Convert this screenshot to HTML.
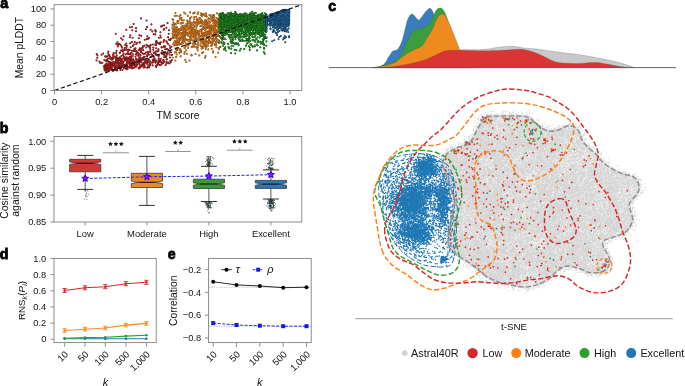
<!DOCTYPE html>
<html><head><meta charset="utf-8"><title>figure</title>
<style>html,body{margin:0;padding:0;background:#fff;}body{width:685px;height:386px;overflow:hidden;}
svg{display:block;will-change:transform;}</style></head>
<body><svg width="685" height="386" viewBox="0 0 685 386" font-family="Liberation Sans, sans-serif">
<rect width="685" height="386" fill="#fff"/>
<path d="M146.8 39.1h0m10.2 12.3h0m-37.3 11.6h0m5.1-2.8h0m38.9 0.4h0m-58.9 9.6h0m55.3-9.6h0m-1.6-9.5h0m-22.3 10.2h0m-11.2 5h0m-1.7 0.7h0m-1.6-5h0m12.9-0.3h0m4-11.5h0m3.4 14.5h0m16.2-9.6h0m-11.6-34.6h0m24.9 34.8h0m-52.5 3.1h0m-3.7 7.6h0m30.7-36.7h0m-38.6 31.1h0m-0.6 7.8h0m32.5-8.6h0m-3.3-8.3h0m30.6 8.2h0m-19.5 1.9h0m-7.8 7h0m-1.2-12.7h0m-16.9-17.5h0m-16 32.6h0m12.3-2.5h0m33.9-13.9h0m-33.4 5.6h0m11.5-2.6h0m-24.8 9.6h0m56-8.2h0m-45.8 10.9h0m7.7-30h0m41.5-10.5h0m-25.1 34h0m22.9-9.5h0m-14.1 5.1h0m6.9 0.1h0m-44.1 9.9h0m30.5-50.4h0m-2.2 41.7h0m24.6-18h0m-34.6 19.7h0m16.1-8h0m-36.6-2.3h0m22.3 7.6h0m-4.4-15.6h0m-11.7 23.3h0m45.2-22.8h0m-29.6-0.8h0m40.6-4.3h0m-26.4 23.4h0m1.1-2.4h0m2.2 1.8h0" stroke="#6e1414" stroke-width="2.1" stroke-linecap="round" fill="none"/>
<path d="M146.8 39.1h0m10.2 12.3h0m-37.3 11.6h0m5.1-2.8h0m38.9 0.4h0m-58.9 9.6h0m55.3-9.6h0m-1.6-9.5h0m-22.3 10.2h0m-11.2 5h0m-1.7 0.7h0m-1.6-5h0m12.9-0.3h0m4-11.5h0m3.4 14.5h0m16.2-9.6h0m-11.6-34.6h0m24.9 34.8h0m-52.5 3.1h0m-3.7 7.6h0m30.7-36.7h0m-38.6 31.1h0m-0.6 7.8h0m32.5-8.6h0m-3.3-8.3h0m30.6 8.2h0m-19.5 1.9h0m-7.8 7h0m-1.2-12.7h0m-16.9-17.5h0m-16 32.6h0m12.3-2.5h0m33.9-13.9h0m-33.4 5.6h0m11.5-2.6h0m-24.8 9.6h0m56-8.2h0m-45.8 10.9h0m7.7-30h0m41.5-10.5h0m-25.1 34h0m22.9-9.5h0m-14.1 5.1h0m6.9 0.1h0m-44.1 9.9h0m30.5-50.4h0m-2.2 41.7h0m24.6-18h0m-34.6 19.7h0m16.1-8h0m-36.6-2.3h0m22.3 7.6h0m-4.4-15.6h0m-11.7 23.3h0m45.2-22.8h0m-29.6-0.8h0m40.6-4.3h0m-26.4 23.4h0m1.1-2.4h0m2.2 1.8h0" stroke="#b8272a" stroke-width="1.2" stroke-linecap="round" fill="none"/>
<path d="M150.3 51.9h0m-35.6 12.6h0m19.6-0.2h0m-13.6 3.7h0m11-3.9h0m-20.7 0.3h0m59.1-24.2h0m-51.1 19.4h0m31-12h0m-25.2 0.4h0m38.9-0.8h0m-14.4 18.4h0m-35.9-0.5h0m48.3-1.2h0m6.8-13.7h0m-2.8 14.7h0m-22.6-6.9h0m-28.8 4.8h0m3.2-4.4h0m49.9-6.1h0m-50.7 13.2h0m47.7-25.1h0m-16.5 20h0m-4.8 3.9h0m-13.2-0.9h0m2.4 4h0m-11.6-6.5h0m-13.7 9.7h0m56.9-30.3h0m-27.8 19h0m5.5-9.1h0m-15.3 17h0m29.1-36.9h0m-49.3 26.4h0m23.6-6.6h0m-23.2 15.8h0m6.3-8h0m57.2-5.6h0m-21-14.2h0m-15.5 29.9h0m6.4-10.4h0m23.7-28h0m-35.8 22.8h0m16.7-6.6h0m6.3-0.7h0m-22.3 13.9h0m11.1 5.5h0m16.7-16.3h0m9.8 8.7h0m-51.4 8h0m53-11.6h0m-62.9 12.3h0m50.7-3h0m3.9-18.5h0m-45.7 18.2h0m19.1-16.2h0m-27.4 14.5h0m41.7-5.4h0m11.1 8.9h0m-19-5.7h0" stroke="#6e1414" stroke-width="2.1" stroke-linecap="round" fill="none"/>
<path d="M150.3 51.9h0m-35.6 12.6h0m19.6-0.2h0m-13.6 3.7h0m11-3.9h0m-20.7 0.3h0m59.1-24.2h0m-51.1 19.4h0m31-12h0m-25.2 0.4h0m38.9-0.8h0m-14.4 18.4h0m-35.9-0.5h0m48.3-1.2h0m6.8-13.7h0m-2.8 14.7h0m-22.6-6.9h0m-28.8 4.8h0m3.2-4.4h0m49.9-6.1h0m-50.7 13.2h0m47.7-25.1h0m-16.5 20h0m-4.8 3.9h0m-13.2-0.9h0m2.4 4h0m-11.6-6.5h0m-13.7 9.7h0m56.9-30.3h0m-27.8 19h0m5.5-9.1h0m-15.3 17h0m29.1-36.9h0m-49.3 26.4h0m23.6-6.6h0m-23.2 15.8h0m6.3-8h0m57.2-5.6h0m-21-14.2h0m-15.5 29.9h0m6.4-10.4h0m23.7-28h0m-35.8 22.8h0m16.7-6.6h0m6.3-0.7h0m-22.3 13.9h0m11.1 5.5h0m16.7-16.3h0m9.8 8.7h0m-51.4 8h0m53-11.6h0m-62.9 12.3h0m50.7-3h0m3.9-18.5h0m-45.7 18.2h0m19.1-16.2h0m-27.4 14.5h0m41.7-5.4h0m11.1 8.9h0m-19-5.7h0" stroke="#b8272a" stroke-width="1.2" stroke-linecap="round" fill="none"/>
<path d="M153.7 52.6h0m-33.9 7.5h0m-1.9 2.3h0m11.2 1.4h0m-12.5-8.5h0m11.3 3.9h0m40.8-25.4h0m-25.4 28.9h0m-15.8-4.9h0m-4.7-8.3h0m46.2-19.3h0m-34.4 35.7h0m36.3-13.6h0m-31.5 8.6h0m0.4-18.5h0m25.4 4.2h0m-10.4 13.9h0m-11-3.2h0m-10.4 5.6h0m30.6-10.7h0m-31.7 10.4h0m34.7-13.6h0m-57.9 6.1h0m24.5-31.1h0m6.1 24.4h0m-18.3 7.7h0m37.7-13.1h0m-8.8 7h0m2.8 5.8h0m-6 11.9h0m23.2-6.6h0m-43.3 1.2h0m4.4-6.1h0m-13.2 11.1h0m-10.3-2.4h0m11-1.5h0m47.6-9.7h0m-5.1-0.8h0m-49.4 6.9h0m33.4-0.1h0m-8.5 0.1h0m7.9 3.8h0m4.3-4.1h0m-23.9 6.4h0m44.4-20.3h0m-33.6-17.5h0m11-1h0m0.5 34.7h0m-30.6-2.2h0m-8.3 4.7h0m23.7 4h0m23.9-1.4h0m3.5-6.5h0m-5.8-3.4h0m-41.8 12.5h0m54.3-7.7h0m-7.6 0.4h0m5.2-0.1h0m-24.1 4.2h0m26.6-10.6h0" stroke="#6e1414" stroke-width="2.1" stroke-linecap="round" fill="none"/>
<path d="M153.7 52.6h0m-33.9 7.5h0m-1.9 2.3h0m11.2 1.4h0m-12.5-8.5h0m11.3 3.9h0m40.8-25.4h0m-25.4 28.9h0m-15.8-4.9h0m-4.7-8.3h0m46.2-19.3h0m-34.4 35.7h0m36.3-13.6h0m-31.5 8.6h0m0.4-18.5h0m25.4 4.2h0m-10.4 13.9h0m-11-3.2h0m-10.4 5.6h0m30.6-10.7h0m-31.7 10.4h0m34.7-13.6h0m-57.9 6.1h0m24.5-31.1h0m6.1 24.4h0m-18.3 7.7h0m37.7-13.1h0m-8.8 7h0m2.8 5.8h0m-6 11.9h0m23.2-6.6h0m-43.3 1.2h0m4.4-6.1h0m-13.2 11.1h0m-10.3-2.4h0m11-1.5h0m47.6-9.7h0m-5.1-0.8h0m-49.4 6.9h0m33.4-0.1h0m-8.5 0.1h0m7.9 3.8h0m4.3-4.1h0m-23.9 6.4h0m44.4-20.3h0m-33.6-17.5h0m11-1h0m0.5 34.7h0m-30.6-2.2h0m-8.3 4.7h0m23.7 4h0m23.9-1.4h0m3.5-6.5h0m-5.8-3.4h0m-41.8 12.5h0m54.3-7.7h0m-7.6 0.4h0m5.2-0.1h0m-24.1 4.2h0m26.6-10.6h0" stroke="#b8272a" stroke-width="1.2" stroke-linecap="round" fill="none"/>
<path d="M107.6 61.2h0m-1.1 2.8h0m-0.7 5.1h0m15.8-5.7h0m-0.3-1.2h0m-4.2 7.7h0m25.8-23.7h0m-35.8 22.2h0m37.4-2.5h0m-28.8-32.2h0m34.7 30.3h0m-44.5 3.1h0m19.6-1.2h0m42.6-28.7h0m-27.2 23.6h0m18.6 4.1h0m-10.4 2.6h0m-3.3-5.7h0m-28.4-19.4h0m26 22.7h0m-36.3-8.8h0m51.7 5.8h0m10.7-7.5h0m-7.2-3.8h0m-54.4 15.1h0m19.5 3.3h0m-1.4-3.9h0m-13.9-2.8h0m34.8-0.8h0m11.6-12.5h0m-32.8 18.9h0m37.2-5.2h0m-4.4-6.9h0m-45.3 8.9h0m43.2-21.2h0m7.9 13.6h0m-46.5 5.6h0m25.5-4.2h0m4.4-6.8h0m-1.9 0.6h0m-34.8 12.3h0m38.3-18.9h0m-2-9.5h0m13 24.1h0m-1.4-0.3h0m-32.3 5h0m26.8-3.5h0m9.8-1.8h0m1.8-7.1h0m-49.6 5.4h0m-9.2 10.2h0m42.4-16.1h0m-29.6 13.1h0m49.5-15.7h0m-38.3 4.2h0m-8.6 13.4h0m13.8-2.2h0m13.6-10.3h0m-37.7 13.2h0m18.9-6.8h0" stroke="#6e1414" stroke-width="2.1" stroke-linecap="round" fill="none"/>
<path d="M107.6 61.2h0m-1.1 2.8h0m-0.7 5.1h0m15.8-5.7h0m-0.3-1.2h0m-4.2 7.7h0m25.8-23.7h0m-35.8 22.2h0m37.4-2.5h0m-28.8-32.2h0m34.7 30.3h0m-44.5 3.1h0m19.6-1.2h0m42.6-28.7h0m-27.2 23.6h0m18.6 4.1h0m-10.4 2.6h0m-3.3-5.7h0m-28.4-19.4h0m26 22.7h0m-36.3-8.8h0m51.7 5.8h0m10.7-7.5h0m-7.2-3.8h0m-54.4 15.1h0m19.5 3.3h0m-1.4-3.9h0m-13.9-2.8h0m34.8-0.8h0m11.6-12.5h0m-32.8 18.9h0m37.2-5.2h0m-4.4-6.9h0m-45.3 8.9h0m43.2-21.2h0m7.9 13.6h0m-46.5 5.6h0m25.5-4.2h0m4.4-6.8h0m-1.9 0.6h0m-34.8 12.3h0m38.3-18.9h0m-2-9.5h0m13 24.1h0m-1.4-0.3h0m-32.3 5h0m26.8-3.5h0m9.8-1.8h0m1.8-7.1h0m-49.6 5.4h0m-9.2 10.2h0m42.4-16.1h0m-29.6 13.1h0m49.5-15.7h0m-38.3 4.2h0m-8.6 13.4h0m13.8-2.2h0m13.6-10.3h0m-37.7 13.2h0m18.9-6.8h0" stroke="#b8272a" stroke-width="1.2" stroke-linecap="round" fill="none"/>
<path d="M113.5 54.9h0m35.9 7.6h0m11.4-0.8h0m-30.8-2.1h0m-0.4 3.2h0m11.4-10.8h0m-22 12h0m2.2 3.7h0m5.6 1.6h0m8.7-12.6h0m-25.5 11.3h0m45.5-13.5h0m-11.8 12.9h0m-18.9-1.3h0m-15.1-3.1h0m46.5-21.8h0m-42.9 15h0m0.2-2.2h0m-0.2 10.5h0m-3.4-6.1h0m56-9.1h0m-43.2 14.7h0m2.5 0.7h0m35.7-3.3h0m-14.4-16.6h0m-29.4 18.5h0m16.8 1.4h0m30.5-9.4h0m-34.5-18.1h0m22.7 28.2h0m-41.6 4.2h0m42.8-35.4h0m3.3 30.9h0m3.3-32.9h0m-10.2 29.3h0m-20.6-4h0m-20.8-2.1h0m30.8-12.9h0m16.2 2.8h0m-38.4 18.3h0m5.1 0.5h0m18.3-3.4h0m14.4-30.2h0m10 18.8h0m-52.2 5.7h0m3.9 15.4h0m41.8-12h0m-10.6-4.6h0m5.2 5.7h0m14.8 3.1h0m-6.5-15.3h0m-4.5-4.6h0m-25.9 22.9h0m16.7-19.5h0m-31 14.3h0m38.9-28.8h0m-2.5 24.6h0m-18.7-7.3h0m-4.5 8.1h0m2.8 6.3h0" stroke="#6e1414" stroke-width="2.1" stroke-linecap="round" fill="none"/>
<path d="M113.5 54.9h0m35.9 7.6h0m11.4-0.8h0m-30.8-2.1h0m-0.4 3.2h0m11.4-10.8h0m-22 12h0m2.2 3.7h0m5.6 1.6h0m8.7-12.6h0m-25.5 11.3h0m45.5-13.5h0m-11.8 12.9h0m-18.9-1.3h0m-15.1-3.1h0m46.5-21.8h0m-42.9 15h0m0.2-2.2h0m-0.2 10.5h0m-3.4-6.1h0m56-9.1h0m-43.2 14.7h0m2.5 0.7h0m35.7-3.3h0m-14.4-16.6h0m-29.4 18.5h0m16.8 1.4h0m30.5-9.4h0m-34.5-18.1h0m22.7 28.2h0m-41.6 4.2h0m42.8-35.4h0m3.3 30.9h0m3.3-32.9h0m-10.2 29.3h0m-20.6-4h0m-20.8-2.1h0m30.8-12.9h0m16.2 2.8h0m-38.4 18.3h0m5.1 0.5h0m18.3-3.4h0m14.4-30.2h0m10 18.8h0m-52.2 5.7h0m3.9 15.4h0m41.8-12h0m-10.6-4.6h0m5.2 5.7h0m14.8 3.1h0m-6.5-15.3h0m-4.5-4.6h0m-25.9 22.9h0m16.7-19.5h0m-31 14.3h0m38.9-28.8h0m-2.5 24.6h0m-18.7-7.3h0m-4.5 8.1h0m2.8 6.3h0" stroke="#b8272a" stroke-width="1.2" stroke-linecap="round" fill="none"/>
<path d="M106.7 61.4h0m55-14h0m-20.5-11.6h0m-10.5 31.9h0m10.9-1.3h0m11.8-4.3h0m-23.1-7.9h0m30.5-16.7h0m6 16.8h0m-36.1 4h0m-16.9 5.4h0m42.2 2.1h0m15.8-5.8h0m-57.3-3.3h0m38.3-12.2h0m7.6-9h0m6.5 7h0m-54.1 28.2h0m-2.1-7.9h0m60.7-16h0m-59.1 22.6h0m4.1-25.5h0m27 15.2h0m-8.7-10.1h0m20.6-4.4h0m-37.9 13.9h0m49-30.7h0m-47.2 35.9h0m37.4-22.4h0m-47.6 20.8h0m27.5 4.3h0m-29.9 1.8h0m19.1-0.7h0m-0.1 1h0m27.6-18.7h0m-17.9 17.4h0m-27-9h0m63.6-3.4h0m-7.2 1.4h0m1.9 7h0m-45.5-3.7h0m10.1 6.3h0m-11.4-8.4h0m-6.9 1.7h0m-6.2 11.5h0m31.9-16.8h0m-25.8 16.7h0m3.6-13.6h0m46.4 5.7h0m-25.5-19.9h0m-20.4 19.1h0m33-14.1h0m-27.4 22.3h0m17.7-20.4h0m-16.6 16.9h0m15.8-31.3h0m7.7 21.3h0m-6.3 2.7h0m-9.5 8.9h0m26.8-5.7h0" stroke="#6e1414" stroke-width="2.1" stroke-linecap="round" fill="none"/>
<path d="M106.7 61.4h0m55-14h0m-20.5-11.6h0m-10.5 31.9h0m10.9-1.3h0m11.8-4.3h0m-23.1-7.9h0m30.5-16.7h0m6 16.8h0m-36.1 4h0m-16.9 5.4h0m42.2 2.1h0m15.8-5.8h0m-57.3-3.3h0m38.3-12.2h0m7.6-9h0m6.5 7h0m-54.1 28.2h0m-2.1-7.9h0m60.7-16h0m-59.1 22.6h0m4.1-25.5h0m27 15.2h0m-8.7-10.1h0m20.6-4.4h0m-37.9 13.9h0m49-30.7h0m-47.2 35.9h0m37.4-22.4h0m-47.6 20.8h0m27.5 4.3h0m-29.9 1.8h0m19.1-0.7h0m-0.1 1h0m27.6-18.7h0m-17.9 17.4h0m-27-9h0m63.6-3.4h0m-7.2 1.4h0m1.9 7h0m-45.5-3.7h0m10.1 6.3h0m-11.4-8.4h0m-6.9 1.7h0m-6.2 11.5h0m31.9-16.8h0m-25.8 16.7h0m3.6-13.6h0m46.4 5.7h0m-25.5-19.9h0m-20.4 19.1h0m33-14.1h0m-27.4 22.3h0m17.7-20.4h0m-16.6 16.9h0m15.8-31.3h0m7.7 21.3h0m-6.3 2.7h0m-9.5 8.9h0m26.8-5.7h0" stroke="#b8272a" stroke-width="1.2" stroke-linecap="round" fill="none"/>
<path d="M163.7 53.9h0m-47.1-3.1h0m-2.9 2.3h0m-1.6 12.6h0m58.8-3.4h0m-2.6 0.7h0m-48.2-18.5h0m50.1 3.5h0m-51.7 20h0m20.3-29.8h0m-0.6 14.9h0m28.3-11.9h0m-59.3 18.3h0m18.6-1h0m19.3 3.1h0m-36.2 8.7h0m11.6-1.7h0m15.5-3.5h0m28.2-19h0m-8.2 15.5h0m4.7-19.3h0m-4.7-0.3h0m-3.6-10.6h0m9.7-5.5h0m-11.5 3.9h0m3.7 22.9h0m-29.4 7.6h0m-9.1 6.4h0m39.9-15.1h0m-40 11h0m51.1-3.3h0m-21.9 8h0m-18.1-21.5h0m41.2-2h0m-53.1 24.3h0m24.4-6h0m-28.7-3.4h0m59.3-1.1h0m-26.4-3.6h0m15.4-16.3h0m-35.4 15.8h0m35.3 2.1h0m-6.7 7.1h0m-4-3h0m20.8-20.1h0m-35.1 21.1h0m-1.2-23h0m18.8-13.3h0m9.7 2.2h0m-33.9 27.1h0m22.6 10.9h0m-31.2-20.3h0m23.2 3.9h0m14.8 12.3h0m-47.7 7.9h0m44.9-7.8h0m-48.3 3.9h0m63.9-1h0m-33.2-19.5h0m-4 18.3h0" stroke="#6e1414" stroke-width="2.1" stroke-linecap="round" fill="none"/>
<path d="M163.7 53.9h0m-47.1-3.1h0m-2.9 2.3h0m-1.6 12.6h0m58.8-3.4h0m-2.6 0.7h0m-48.2-18.5h0m50.1 3.5h0m-51.7 20h0m20.3-29.8h0m-0.6 14.9h0m28.3-11.9h0m-59.3 18.3h0m18.6-1h0m19.3 3.1h0m-36.2 8.7h0m11.6-1.7h0m15.5-3.5h0m28.2-19h0m-8.2 15.5h0m4.7-19.3h0m-4.7-0.3h0m-3.6-10.6h0m9.7-5.5h0m-11.5 3.9h0m3.7 22.9h0m-29.4 7.6h0m-9.1 6.4h0m39.9-15.1h0m-40 11h0m51.1-3.3h0m-21.9 8h0m-18.1-21.5h0m41.2-2h0m-53.1 24.3h0m24.4-6h0m-28.7-3.4h0m59.3-1.1h0m-26.4-3.6h0m15.4-16.3h0m-35.4 15.8h0m35.3 2.1h0m-6.7 7.1h0m-4-3h0m20.8-20.1h0m-35.1 21.1h0m-1.2-23h0m18.8-13.3h0m9.7 2.2h0m-33.9 27.1h0m22.6 10.9h0m-31.2-20.3h0m23.2 3.9h0m14.8 12.3h0m-47.7 7.9h0m44.9-7.8h0m-48.3 3.9h0m63.9-1h0m-33.2-19.5h0m-4 18.3h0" stroke="#b8272a" stroke-width="1.2" stroke-linecap="round" fill="none"/>
<path d="M153.3 47.6h0m-13.4 19.8h0m-29.7-10.9h0m32.4 1.8h0m-0.3 7.2h0m25.3-42.4h0m-60.5 43.9h0m28-4.6h0m12.1 1.1h0m-5.4 2.3h0m-32.3-0.8h0m35.2-8.2h0m-25.2 8.2h0m-1.8 3.1h0m46.3-42.7h0m-46.2 21h0m17.4 18.5h0m20.1-30.5h0m-2.9 20.7h0m-10.4 3.3h0m-6-27.2h0m10.5 29.5h0m13.5-16.7h0m-9.6 17.5h0m-2.4 5.1h0m-16-15.8h0m10.3 2.3h0m-11-0.2h0m-1.1 9.7h0m5.9-8.2h0m19.6-0.9h0m-17.1 14.6h0m-11.2-5.5h0m33.1 2.7h0m-30.2-5.1h0m31.4 2.8h0m-4 0.8h0m-22.9-21.8h0m18 17.9h0m-26 3.5h0m13.7-8h0m-30.9 13.4h0m5.1-1.2h0m4.1-7.5h0m-4.6 2.5h0m17.8 2h0m-14-19.7h0m1 21.2h0m15.4-1h0m-15.8-4.7h0m14 4.6h0m-16.5-12.1h0m-2.9 9.5h0m-7.3 6.3h0m17.8-4h0m6.7-3.5h0m-3.3-2.2h0m2.3-0.8h0m-1.3-0.2h0m21.9 7.5h0" stroke="#6e1414" stroke-width="2.1" stroke-linecap="round" fill="none"/>
<path d="M153.3 47.6h0m-13.4 19.8h0m-29.7-10.9h0m32.4 1.8h0m-0.3 7.2h0m25.3-42.4h0m-60.5 43.9h0m28-4.6h0m12.1 1.1h0m-5.4 2.3h0m-32.3-0.8h0m35.2-8.2h0m-25.2 8.2h0m-1.8 3.1h0m46.3-42.7h0m-46.2 21h0m17.4 18.5h0m20.1-30.5h0m-2.9 20.7h0m-10.4 3.3h0m-6-27.2h0m10.5 29.5h0m13.5-16.7h0m-9.6 17.5h0m-2.4 5.1h0m-16-15.8h0m10.3 2.3h0m-11-0.2h0m-1.1 9.7h0m5.9-8.2h0m19.6-0.9h0m-17.1 14.6h0m-11.2-5.5h0m33.1 2.7h0m-30.2-5.1h0m31.4 2.8h0m-4 0.8h0m-22.9-21.8h0m18 17.9h0m-26 3.5h0m13.7-8h0m-30.9 13.4h0m5.1-1.2h0m4.1-7.5h0m-4.6 2.5h0m17.8 2h0m-14-19.7h0m1 21.2h0m15.4-1h0m-15.8-4.7h0m14 4.6h0m-16.5-12.1h0m-2.9 9.5h0m-7.3 6.3h0m17.8-4h0m6.7-3.5h0m-3.3-2.2h0m2.3-0.8h0m-1.3-0.2h0m21.9 7.5h0" stroke="#b8272a" stroke-width="1.2" stroke-linecap="round" fill="none"/>
<path d="M115.3 63.6h0m-6.1 7.2h0m6.4-5.5h0m-3.8 0.1h0m24.5-10.9h0m0.9 10.3h0m-21-2.8h0m-5.1 5h0m12.2-5.2h0m20.6 2.8h0m-39.5-4.5h0m29.3-9.4h0m-18.9 19.1h0m25-8.6h0m-25 4.9h0m9.3 2.1h0m-14.3-1.7h0m6.2 2.4h0m27.8-11.8h0m-6.6-4.7h0m-14.4 13.7h0m-5.5-6.8h0m-12.1-2.9h0m17.7 9.7h0m4.2-16.3h0m-0.6 0h0m-0.1-2.4h0m-12.1 16.6h0m12.4-4.7h0m0.3 6.8h0m15.7-18.3h0m6.8-0.3h0m-23.6 11h0m-7.4 4.7h0m8.2 2.2h0m-6.3 4.6h0m-1.6-3.9h0m8 2.7h0m-11.6-4.2h0m19.4 0.5h0m-8.3-35.3h0m4.1 34.8h0m-5 2.1h0m-6.5-23h0m-2.6 25.9h0m8.4-19.8h0m-3.7 0.8h0m9.3 10.6h0m-2.8 6.6h0m-16-0.5h0m16.8-7.6h0m-16.6-1.7h0m8.5 0.2h0m3.8 0h0m-19.6 9.5h0m24.2-18.2h0m0.7 17.1h0m-3.7-1h0m-3.1-4.8h0m0.6-5.7h0" stroke="#6e1414" stroke-width="2.1" stroke-linecap="round" fill="none"/>
<path d="M115.3 63.6h0m-6.1 7.2h0m6.4-5.5h0m-3.8 0.1h0m24.5-10.9h0m0.9 10.3h0m-21-2.8h0m-5.1 5h0m12.2-5.2h0m20.6 2.8h0m-39.5-4.5h0m29.3-9.4h0m-18.9 19.1h0m25-8.6h0m-25 4.9h0m9.3 2.1h0m-14.3-1.7h0m6.2 2.4h0m27.8-11.8h0m-6.6-4.7h0m-14.4 13.7h0m-5.5-6.8h0m-12.1-2.9h0m17.7 9.7h0m4.2-16.3h0m-0.6 0h0m-0.1-2.4h0m-12.1 16.6h0m12.4-4.7h0m0.3 6.8h0m15.7-18.3h0m6.8-0.3h0m-23.6 11h0m-7.4 4.7h0m8.2 2.2h0m-6.3 4.6h0m-1.6-3.9h0m8 2.7h0m-11.6-4.2h0m19.4 0.5h0m-8.3-35.3h0m4.1 34.8h0m-5 2.1h0m-6.5-23h0m-2.6 25.9h0m8.4-19.8h0m-3.7 0.8h0m9.3 10.6h0m-2.8 6.6h0m-16-0.5h0m16.8-7.6h0m-16.6-1.7h0m8.5 0.2h0m3.8 0h0m-19.6 9.5h0m24.2-18.2h0m0.7 17.1h0m-3.7-1h0m-3.1-4.8h0m0.6-5.7h0" stroke="#b8272a" stroke-width="1.2" stroke-linecap="round" fill="none"/>
<path d="M116 60h0m8.3-2.7h0m-3.3 8h0m7.6-14.7h0m-15.3 19.8h0m17-5.7h0m-1.1 2.9h0m-3.4-0.4h0m-3.5-8.6h0m11.7-7.6h0m-26.1 18.1h0m25-9.2h0m-2.5-24.7h0m0.4 22.4h0m1.2-15.5h0m-12.2 10.8h0m4.6-3.2h0m10.6 12h0m-2.4-5.3h0m-2.7-29.1h0m-20.2 40.8h0m24.1-23.5h0m7.5 17.9h0m-1.9-4.7h0m-9.1-3.4h0m-21.1 12.3h0m29.4-6.3h0m-12.8 7h0m-21.4-1h0m27.5 0.8h0m-22-5.2h0m2.3 1.4h0m7.8-10.8h0m22.5 7.3h0m-19.4-8.4h0m7.6-4.3h0m17.4-8.4h0m-1.8 8.7h0m-20 9.8h0m-1.6 2h0m-12 7.1h0m6.6-3.4h0m13.2-2.8h0m-0.3-29.9h0m-3.4 36.9h0m10.4-6.6h0m-20.8 0.4h0m8.4 5.5h0m9.3-15.1h0m-1.7 12.6h0m5.7-9.4h0m-7.9 5h0m-8.3-3h0m7.9 10.5h0m-16.1-5.9h0m-7.5-7.9h0m26.1-3.2h0m-7.4 11h0m4.2-1.4h0m-23.6 4.5h0" stroke="#6e1414" stroke-width="2.1" stroke-linecap="round" fill="none"/>
<path d="M116 60h0m8.3-2.7h0m-3.3 8h0m7.6-14.7h0m-15.3 19.8h0m17-5.7h0m-1.1 2.9h0m-3.4-0.4h0m-3.5-8.6h0m11.7-7.6h0m-26.1 18.1h0m25-9.2h0m-2.5-24.7h0m0.4 22.4h0m1.2-15.5h0m-12.2 10.8h0m4.6-3.2h0m10.6 12h0m-2.4-5.3h0m-2.7-29.1h0m-20.2 40.8h0m24.1-23.5h0m7.5 17.9h0m-1.9-4.7h0m-9.1-3.4h0m-21.1 12.3h0m29.4-6.3h0m-12.8 7h0m-21.4-1h0m27.5 0.8h0m-22-5.2h0m2.3 1.4h0m7.8-10.8h0m22.5 7.3h0m-19.4-8.4h0m7.6-4.3h0m17.4-8.4h0m-1.8 8.7h0m-20 9.8h0m-1.6 2h0m-12 7.1h0m6.6-3.4h0m13.2-2.8h0m-0.3-29.9h0m-3.4 36.9h0m10.4-6.6h0m-20.8 0.4h0m8.4 5.5h0m9.3-15.1h0m-1.7 12.6h0m5.7-9.4h0m-7.9 5h0m-8.3-3h0m7.9 10.5h0m-16.1-5.9h0m-7.5-7.9h0m26.1-3.2h0m-7.4 11h0m4.2-1.4h0m-23.6 4.5h0" stroke="#b8272a" stroke-width="1.2" stroke-linecap="round" fill="none"/>
<path d="M123.2 63.3h0m-2.8 3.6h0m-3.1-3.8h0m-12.9 3h0m19.2-29.8h0m14.5 17.2h0m-6.1-26.5h0m-11.6 35.6h0m6.9-4.7h0m9.1 0.8h0m-32 10.3h0m21.6-2.4h0m7.9-4.9h0m1.6-13.5h0m12 16.2h0m-6.6 1.9h0m-9.7-5.8h0m-0.1 3.9h0m5.7-0.5h0m-15.6-18.2h0m5.8 15.8h0m11.2-8.5h0m12.4 4h0m-25-2.6h0m1.3 7.4h0m2.9 0.1h0m13.5-11.8h0m-16.2 11.6h0m17.7-21.9h0m-28.7 27.2h0m9.2-21.9h0m-0.1 22.2h0m11.6-4.9h0m3-4.9h0m-30.1 11.7h0m7-2.7h0m14.8-13.2h0m-11.8 11h0m-10.1 3.8h0m30.1-17.6h0m-6.4 8.7h0m0-4.7h0m-11.4-7.1h0m17.7 11.3h0m-14.9 0.4h0m-7.9 11h0m0.6-8.2h0m12.5 3.6h0m-10.7-5.8h0m16.3 5.1h0m-4.9-1.1h0m-14 5.2h0m11.8-14.8h0m-5 7.8h0m14.9-0.6h0m-18.2 6.4h0m2.2-16.9h0m-19.1 2.8h0m-5.7 1.9h0m1.9 6h0" stroke="#6e1414" stroke-width="2.1" stroke-linecap="round" fill="none"/>
<path d="M123.2 63.3h0m-2.8 3.6h0m-3.1-3.8h0m-12.9 3h0m19.2-29.8h0m14.5 17.2h0m-6.1-26.5h0m-11.6 35.6h0m6.9-4.7h0m9.1 0.8h0m-32 10.3h0m21.6-2.4h0m7.9-4.9h0m1.6-13.5h0m12 16.2h0m-6.6 1.9h0m-9.7-5.8h0m-0.1 3.9h0m5.7-0.5h0m-15.6-18.2h0m5.8 15.8h0m11.2-8.5h0m12.4 4h0m-25-2.6h0m1.3 7.4h0m2.9 0.1h0m13.5-11.8h0m-16.2 11.6h0m17.7-21.9h0m-28.7 27.2h0m9.2-21.9h0m-0.1 22.2h0m11.6-4.9h0m3-4.9h0m-30.1 11.7h0m7-2.7h0m14.8-13.2h0m-11.8 11h0m-10.1 3.8h0m30.1-17.6h0m-6.4 8.7h0m0-4.7h0m-11.4-7.1h0m17.7 11.3h0m-14.9 0.4h0m-7.9 11h0m0.6-8.2h0m12.5 3.6h0m-10.7-5.8h0m16.3 5.1h0m-4.9-1.1h0m-14 5.2h0m11.8-14.8h0m-5 7.8h0m14.9-0.6h0m-18.2 6.4h0m2.2-16.9h0m-19.1 2.8h0m-5.7 1.9h0m1.9 6h0" stroke="#b8272a" stroke-width="1.2" stroke-linecap="round" fill="none"/>
<path d="M96.7 54.1h0m4.6 8.6h0m-4.8-2.3h0m0.8-2.6h0m5.1 4.9h0m-2.3 0.1h0m1.4-8h0" stroke="#6e1414" stroke-width="2.1" stroke-linecap="round" fill="none"/>
<path d="M96.7 54.1h0m4.6 8.6h0m-4.8-2.3h0m0.8-2.6h0m5.1 4.9h0m-2.3 0.1h0m1.4-8h0" stroke="#b8272a" stroke-width="1.2" stroke-linecap="round" fill="none"/>
<path d="M207.2 34.1h0m-17.5-7.2h0m0.9 5.5h0m-8.6 2.9h0m14.8-15.9h0m2.8 20.3h0m16.6 2.1h0m-42-15.8h0m40.9-1.9h0m3.8-4.3h0m-30.3 24.2h0m17.8-23.2h0m4.7 5.8h0m-8.2-12.5h0m-17 31.9h0m15.7-16.1h0m12 4.3h0m-36.3 15.9h0m17.6-10.2h0m-21.6-17.3h0m38.7 13.6h0m-3.1 2.8h0m-34.5-13.8h0m33-3.5h0m-2.6 0.2h0m-26.6 19.9h0m18.8-8.7h0m7.7-11.7h0m-16.6 18.4h0m7.9 0.4h0m22.2-17.6h0m-16-6.4h0m-6.3 28.1h0m-20.5 16.2h0m2.6-11.9h0m34.3-6.9h0m-5.1-8.5h0m4.4-8h0m-12.1 8.6h0m-0.1 5.7h0m-2.2-8.6h0m9.7 10.7h0m-19.1-8h0m7.8 5.5h0m7.8-15.4h0m-21 18.3h0m-9 2.3h0m3-5.9h0m4.3 12h0m31.9-11.6h0m-6.6 0.6h0m1.6-16.7h0m-14.4 14.4h0m-16.1 4.8h0m17.1 4.5h0m18.7-3h0m-16.7-10.2h0m5.8 1.1h0m-12.1-12.9h0m-10.6 18.7h0" stroke="#8a4c10" stroke-width="2.1" stroke-linecap="round" fill="none"/>
<path d="M207.2 34.1h0m-17.5-7.2h0m0.9 5.5h0m-8.6 2.9h0m14.8-15.9h0m2.8 20.3h0m16.6 2.1h0m-42-15.8h0m40.9-1.9h0m3.8-4.3h0m-30.3 24.2h0m17.8-23.2h0m4.7 5.8h0m-8.2-12.5h0m-17 31.9h0m15.7-16.1h0m12 4.3h0m-36.3 15.9h0m17.6-10.2h0m-21.6-17.3h0m38.7 13.6h0m-3.1 2.8h0m-34.5-13.8h0m33-3.5h0m-2.6 0.2h0m-26.6 19.9h0m18.8-8.7h0m7.7-11.7h0m-16.6 18.4h0m7.9 0.4h0m22.2-17.6h0m-16-6.4h0m-6.3 28.1h0m-20.5 16.2h0m2.6-11.9h0m34.3-6.9h0m-5.1-8.5h0m4.4-8h0m-12.1 8.6h0m-0.1 5.7h0m-2.2-8.6h0m9.7 10.7h0m-19.1-8h0m7.8 5.5h0m7.8-15.4h0m-21 18.3h0m-9 2.3h0m3-5.9h0m4.3 12h0m31.9-11.6h0m-6.6 0.6h0m1.6-16.7h0m-14.4 14.4h0m-16.1 4.8h0m17.1 4.5h0m18.7-3h0m-16.7-10.2h0m5.8 1.1h0m-12.1-12.9h0m-10.6 18.7h0" stroke="#e2801f" stroke-width="1.2" stroke-linecap="round" fill="none"/>
<path d="M201.8 21.3h0m-6.7 8.7h0m-6.6 3.1h0m-4.1 20.7h0m20.6-8.7h0m-17.8-19.5h0m12.2-7.5h0m-14.9 13.1h0m23.2-7.2h0m-17.8 13.1h0m4.9-0.7h0m21.1 1.5h0m-9.8-16h0m0.8 6.4h0m-18.7 7.2h0m23.6-0.7h0m-21.4-7.5h0m28.4 0.4h0m-4.4 12.1h0m-11.1-25.3h0m8.1 14.4h0m-13.5 3.4h0m8.9-15.6h0m-28.7 6.6h0m40.7 8.6h0m-8.9-5.8h0m-30.9 18.5h0m4.7-4.7h0m15.6 15.5h0m8.9-36.1h0m-28.9 33.8h0m38.2-29h0m-29 17.4h0m30.6-0.6h0m-11.4-7.2h0m-12.6-3.8h0m-5.8-3.1h0m-12.5-11h0m-0.4 14.5h0m25.5-7.1h0m6.8 14.6h0m6.3-13.8h0m-25.6 7.4h0m27 4.5h0m-30.2-1.7h0m30.3-2.4h0m-1-2.6h0m-35.9 0.4h0m33.2 7h0m-7.4 2.9h0m-0.1-15.2h0m6.5 24.5h0m-14.3-10h0m-1.4-22.1h0m-6.6 43.9h0m23.5-22.2h0m1.7-14.2h0m-34.9 26.3h0m5.4 9.2h0m-4.3-40.8h0" stroke="#8a4c10" stroke-width="2.1" stroke-linecap="round" fill="none"/>
<path d="M201.8 21.3h0m-6.7 8.7h0m-6.6 3.1h0m-4.1 20.7h0m20.6-8.7h0m-17.8-19.5h0m12.2-7.5h0m-14.9 13.1h0m23.2-7.2h0m-17.8 13.1h0m4.9-0.7h0m21.1 1.5h0m-9.8-16h0m0.8 6.4h0m-18.7 7.2h0m23.6-0.7h0m-21.4-7.5h0m28.4 0.4h0m-4.4 12.1h0m-11.1-25.3h0m8.1 14.4h0m-13.5 3.4h0m8.9-15.6h0m-28.7 6.6h0m40.7 8.6h0m-8.9-5.8h0m-30.9 18.5h0m4.7-4.7h0m15.6 15.5h0m8.9-36.1h0m-28.9 33.8h0m38.2-29h0m-29 17.4h0m30.6-0.6h0m-11.4-7.2h0m-12.6-3.8h0m-5.8-3.1h0m-12.5-11h0m-0.4 14.5h0m25.5-7.1h0m6.8 14.6h0m6.3-13.8h0m-25.6 7.4h0m27 4.5h0m-30.2-1.7h0m30.3-2.4h0m-1-2.6h0m-35.9 0.4h0m33.2 7h0m-7.4 2.9h0m-0.1-15.2h0m6.5 24.5h0m-14.3-10h0m-1.4-22.1h0m-6.6 43.9h0m23.5-22.2h0m1.7-14.2h0m-34.9 26.3h0m5.4 9.2h0m-4.3-40.8h0" stroke="#e2801f" stroke-width="1.2" stroke-linecap="round" fill="none"/>
<path d="M181.5 17.7h0m17.8 5.3h0m-13.9 12.5h0m-1.7-5.7h0m-6.8 13.2h0m10.6-18.1h0m21.2 18.2h0m-35.4-6.2h0m21.7-14.4h0m5.6 21.1h0m-26-5.9h0m11.5-6.1h0m28.8 13.3h0m4.2-25.8h0m-6.8 8.8h0m-32.1 21.2h0m28-16.9h0m-14.7 8.4h0m-13.2-0.3h0m14.6-8.5h0m20.8 6.6h0m-2.1-16.9h0m-22.9 18.6h0m-15.5-16.1h0m39.5 7.7h0m4-9.5h0m-22.4 15.8h0m-13.4 0.6h0m15 5.6h0m7.1-18.2h0m-10-2.9h0m-11.1-2.9h0m2.3 10.5h0m-11.6 5.5h0m9.7-6.8h0m32.8 2h0m-44.5-12.2h0m33.9 3h0m2.9 18h0m-18.1-0.3h0m9-21.6h0m-17.6 12h0m21 4.1h0m1.9-14.6h0m1.2 16h0m-11.4-0.4h0m22.6 0.3h0m-4.9 15.7h0m-13.9-27.9h0m5.2 20.8h0m-19.2-5.2h0m31.5-0.4h0m-14.1-14h0m11.8 7.3h0m-28.6 1.1h0m32.7 15h0m-41.3-13.4h0m20 12.8h0m-19.7-16.8h0m3.7-0.9h0" stroke="#8a4c10" stroke-width="2.1" stroke-linecap="round" fill="none"/>
<path d="M181.5 17.7h0m17.8 5.3h0m-13.9 12.5h0m-1.7-5.7h0m-6.8 13.2h0m10.6-18.1h0m21.2 18.2h0m-35.4-6.2h0m21.7-14.4h0m5.6 21.1h0m-26-5.9h0m11.5-6.1h0m28.8 13.3h0m4.2-25.8h0m-6.8 8.8h0m-32.1 21.2h0m28-16.9h0m-14.7 8.4h0m-13.2-0.3h0m14.6-8.5h0m20.8 6.6h0m-2.1-16.9h0m-22.9 18.6h0m-15.5-16.1h0m39.5 7.7h0m4-9.5h0m-22.4 15.8h0m-13.4 0.6h0m15 5.6h0m7.1-18.2h0m-10-2.9h0m-11.1-2.9h0m2.3 10.5h0m-11.6 5.5h0m9.7-6.8h0m32.8 2h0m-44.5-12.2h0m33.9 3h0m2.9 18h0m-18.1-0.3h0m9-21.6h0m-17.6 12h0m21 4.1h0m1.9-14.6h0m1.2 16h0m-11.4-0.4h0m22.6 0.3h0m-4.9 15.7h0m-13.9-27.9h0m5.2 20.8h0m-19.2-5.2h0m31.5-0.4h0m-14.1-14h0m11.8 7.3h0m-28.6 1.1h0m32.7 15h0m-41.3-13.4h0m20 12.8h0m-19.7-16.8h0m3.7-0.9h0" stroke="#e2801f" stroke-width="1.2" stroke-linecap="round" fill="none"/>
<path d="M208.2 31.9h0m-32.8-18.8h0m14.9 14.5h0m-9-0.1h0m31 2.5h0m-36.2 5.9h0m12-12.7h0m24.5-3h0m-8 25h0m0.8-24.1h0m13.5 4.6h0m-45.5-1.4h0m30.2 3h0m3.7 17.2h0m0.2-0.8h0m-1.6-30.4h0m-30.2 18.1h0m0.5 17h0m32.4-20.3h0m-7.5 7.8h0m-16.5 16.2h0m-11.9 5.4h0m24.7-8.7h0m-20.9-17.7h0m31 1.1h0m-19.2 3.4h0m22-6.9h0m-33.5-0.9h0m18.7 26.2h0m-18.6-17.1h0m32.1 3.2h0m-10.4 4.8h0m-15.3-5.9h0m34.3-6.7h0m-13.2 2.4h0m-16.3 13.2h0m24.4-11.6h0m-22.4-23.9h0m26.5 29.5h0m-30.4 8.5h0m32.4-22.2h0m-43.4-0.3h0m31.6-0.8h0m-20.8 17.6h0m6.2-22.1h0m10 17.5h0m-27.8 5.5h0m8.4-5.9h0m-5.7-4.7h0m30-10.5h0m-24.4 2.6h0m13 5.7h0m-8-9.2h0m-4.3 9h0m32.9-10.6h0m-20.1 24.9h0m6.7 1.2h0m2.5-24.1h0m5.5 21.7h0m-26.3-9.3h0" stroke="#8a4c10" stroke-width="2.1" stroke-linecap="round" fill="none"/>
<path d="M208.2 31.9h0m-32.8-18.8h0m14.9 14.5h0m-9-0.1h0m31 2.5h0m-36.2 5.9h0m12-12.7h0m24.5-3h0m-8 25h0m0.8-24.1h0m13.5 4.6h0m-45.5-1.4h0m30.2 3h0m3.7 17.2h0m0.2-0.8h0m-1.6-30.4h0m-30.2 18.1h0m0.5 17h0m32.4-20.3h0m-7.5 7.8h0m-16.5 16.2h0m-11.9 5.4h0m24.7-8.7h0m-20.9-17.7h0m31 1.1h0m-19.2 3.4h0m22-6.9h0m-33.5-0.9h0m18.7 26.2h0m-18.6-17.1h0m32.1 3.2h0m-10.4 4.8h0m-15.3-5.9h0m34.3-6.7h0m-13.2 2.4h0m-16.3 13.2h0m24.4-11.6h0m-22.4-23.9h0m26.5 29.5h0m-30.4 8.5h0m32.4-22.2h0m-43.4-0.3h0m31.6-0.8h0m-20.8 17.6h0m6.2-22.1h0m10 17.5h0m-27.8 5.5h0m8.4-5.9h0m-5.7-4.7h0m30-10.5h0m-24.4 2.6h0m13 5.7h0m-8-9.2h0m-4.3 9h0m32.9-10.6h0m-20.1 24.9h0m6.7 1.2h0m2.5-24.1h0m5.5 21.7h0m-26.3-9.3h0" stroke="#e2801f" stroke-width="1.2" stroke-linecap="round" fill="none"/>
<path d="M176 34.9h0m18.3 2.7h0m-14 0.7h0m-7.1-18.4h0m42.4 37.1h0m-13.8-33.9h0m-23.1 10.4h0m29.4-1.6h0m-10.7-6.9h0m-16.9-10h0m38 28.1h0m-1.5-12.9h0m-1.1 2.9h0m-4.7-7.3h0m-13.9 5h0m-10.9-4.3h0m16.5 9.9h0m-23.5-3.2h0m21.9 5.8h0m-25.9 1.8h0m-2.5-5.2h0m33.1-2.3h0m-17.6 11.7h0m16.7-29.1h0m3.9 17.1h0m2.6 12.6h0m-10.3-24.6h0m10.8 18.1h0m-8.8-12.2h0m12.6 4.4h0m-1.4-2.6h0m-40.2 3.6h0m10.6 6.9h0m5.7-6.7h0m-6.5-19.9h0m-3.5 43.8h0m32.8-25.7h0m-40-1h0m7.4 14.6h0m27.3 1.4h0m-23.7-8.6h0m23.8-10.9h0m-14.8 5.8h0m-14.7-3.1h0m6.2-2.1h0m33.6-7.8h0m-9 8.2h0m-34 5.3h0m30-2.4h0m-15.5-10.9h0m16.2 4.3h0m-20 20h0m-7.8-3.2h0m-5.2-9.5h0m13 8.8h0m26.6-4.4h0m1.4 5.8h0m-9.8-6.4h0m3.1-7.2h0m-26.1-4h0" stroke="#8a4c10" stroke-width="2.1" stroke-linecap="round" fill="none"/>
<path d="M176 34.9h0m18.3 2.7h0m-14 0.7h0m-7.1-18.4h0m42.4 37.1h0m-13.8-33.9h0m-23.1 10.4h0m29.4-1.6h0m-10.7-6.9h0m-16.9-10h0m38 28.1h0m-1.5-12.9h0m-1.1 2.9h0m-4.7-7.3h0m-13.9 5h0m-10.9-4.3h0m16.5 9.9h0m-23.5-3.2h0m21.9 5.8h0m-25.9 1.8h0m-2.5-5.2h0m33.1-2.3h0m-17.6 11.7h0m16.7-29.1h0m3.9 17.1h0m2.6 12.6h0m-10.3-24.6h0m10.8 18.1h0m-8.8-12.2h0m12.6 4.4h0m-1.4-2.6h0m-40.2 3.6h0m10.6 6.9h0m5.7-6.7h0m-6.5-19.9h0m-3.5 43.8h0m32.8-25.7h0m-40-1h0m7.4 14.6h0m27.3 1.4h0m-23.7-8.6h0m23.8-10.9h0m-14.8 5.8h0m-14.7-3.1h0m6.2-2.1h0m33.6-7.8h0m-9 8.2h0m-34 5.3h0m30-2.4h0m-15.5-10.9h0m16.2 4.3h0m-20 20h0m-7.8-3.2h0m-5.2-9.5h0m13 8.8h0m26.6-4.4h0m1.4 5.8h0m-9.8-6.4h0m3.1-7.2h0m-26.1-4h0" stroke="#e2801f" stroke-width="1.2" stroke-linecap="round" fill="none"/>
<path d="M188.9 32.9h0m29.8-1.1h0m-9.9-10.4h0m7.4 4.7h0m3 9.9h0m-33 26h0m16.9-28.4h0m-12.5-2.5h0m3.6-18h0m-0.2 33.7h0m-8.6-33h0m-12.3 22.9h0m35.3-12.4h0m-3.4 33.5h0m6.8-27.8h0m-32.3 7.2h0m3.9-10.7h0m16.9 4.8h0m16.1 11.5h0m-21.9-19.8h0m-12.8 3.5h0m18.6-0.3h0m17-5.4h0m-4.2-0.7h0m1.5 11.4h0m-23 15.2h0m-7 0.8h0m28.7-29.9h0m-3.9 6.8h0m2.9 6h0m-21.6 7h0m-5-4.5h0m-2.1 0.3h0m29.7 1.6h0m2.3 3.5h0m-2.2-9.3h0m-23.2 10.1h0m3.1 6.9h0m5.6-6.3h0m-16.2-13.6h0m2.1-0.5h0m0 10h0m-0.3-2.8h0m12 2.8h0m-19.5 9.6h0m32-26.8h0m-28.5 11.4h0m22 10h0m-23.7-4.7h0m12.7-11.2h0m7.3 11h0m-0.6 11.7h0m16.1-5.6h0m-5.1-10.4h0m-31.3-0.3h0m33.6 2.1h0m-13.4-10.2h0m6.1-0.3h0m-24.4 8.5h0m14.7 2h0" stroke="#8a4c10" stroke-width="2.1" stroke-linecap="round" fill="none"/>
<path d="M188.9 32.9h0m29.8-1.1h0m-9.9-10.4h0m7.4 4.7h0m3 9.9h0m-33 26h0m16.9-28.4h0m-12.5-2.5h0m3.6-18h0m-0.2 33.7h0m-8.6-33h0m-12.3 22.9h0m35.3-12.4h0m-3.4 33.5h0m6.8-27.8h0m-32.3 7.2h0m3.9-10.7h0m16.9 4.8h0m16.1 11.5h0m-21.9-19.8h0m-12.8 3.5h0m18.6-0.3h0m17-5.4h0m-4.2-0.7h0m1.5 11.4h0m-23 15.2h0m-7 0.8h0m28.7-29.9h0m-3.9 6.8h0m2.9 6h0m-21.6 7h0m-5-4.5h0m-2.1 0.3h0m29.7 1.6h0m2.3 3.5h0m-2.2-9.3h0m-23.2 10.1h0m3.1 6.9h0m5.6-6.3h0m-16.2-13.6h0m2.1-0.5h0m0 10h0m-0.3-2.8h0m12 2.8h0m-19.5 9.6h0m32-26.8h0m-28.5 11.4h0m22 10h0m-23.7-4.7h0m12.7-11.2h0m7.3 11h0m-0.6 11.7h0m16.1-5.6h0m-5.1-10.4h0m-31.3-0.3h0m33.6 2.1h0m-13.4-10.2h0m6.1-0.3h0m-24.4 8.5h0m14.7 2h0" stroke="#e2801f" stroke-width="1.2" stroke-linecap="round" fill="none"/>
<path d="M205.2 34.5h0m4.6-8.5h0m0.4-3.8h0m-27.7 10.7h0m29-6h0m-12.5 8.7h0m4.7 10.8h0m8.7-4.8h0m-21.1-16.5h0m24.3 1.5h0m-1.8-11.5h0m-3.5 15.9h0m-20.2-6.9h0m7-5.1h0m-16.7 4.5h0m27.6 14.4h0m6.2-4.7h0m-34.4-0.9h0m27.5 9.5h0m-2.4-14.7h0m-30.9-3.5h0m41.4 12.5h0m-20.6-23.6h0m-9.9 23.8h0m-11.2-0.1h0m35.4-2.1h0m-20.9 6.2h0m8.2-12h0m-15 5.1h0m19.4-18.1h0m-9.8 11.4h0m19.2-0.6h0m-6.6 8.2h0m2.6 12h0m-22.1-12h0m-8.8 8.4h0m38.4-21.1h0m2.6 9.9h0m-13.7-16.4h0m13.1 8.6h0m-10.2-0.3h0m-4.7 6.5h0m-8.8 0.8h0m-3-4.3h0m6.3-3.2h0m-12.6 17.5h0m9.7-12.9h0m-18.7 7.2h0m17.1 0.5h0m-5.2 4.8h0m16.5 6.6h0m8.4-27.5h0m-9.3 12.2h0m2.3-2.6h0m-2.3-15.6h0m-11.2 28.6h0m22-21.3h0m4.8 4h0m-36 4.8h0m-8.1-0.2h0" stroke="#8a4c10" stroke-width="2.1" stroke-linecap="round" fill="none"/>
<path d="M205.2 34.5h0m4.6-8.5h0m0.4-3.8h0m-27.7 10.7h0m29-6h0m-12.5 8.7h0m4.7 10.8h0m8.7-4.8h0m-21.1-16.5h0m24.3 1.5h0m-1.8-11.5h0m-3.5 15.9h0m-20.2-6.9h0m7-5.1h0m-16.7 4.5h0m27.6 14.4h0m6.2-4.7h0m-34.4-0.9h0m27.5 9.5h0m-2.4-14.7h0m-30.9-3.5h0m41.4 12.5h0m-20.6-23.6h0m-9.9 23.8h0m-11.2-0.1h0m35.4-2.1h0m-20.9 6.2h0m8.2-12h0m-15 5.1h0m19.4-18.1h0m-9.8 11.4h0m19.2-0.6h0m-6.6 8.2h0m2.6 12h0m-22.1-12h0m-8.8 8.4h0m38.4-21.1h0m2.6 9.9h0m-13.7-16.4h0m13.1 8.6h0m-10.2-0.3h0m-4.7 6.5h0m-8.8 0.8h0m-3-4.3h0m6.3-3.2h0m-12.6 17.5h0m9.7-12.9h0m-18.7 7.2h0m17.1 0.5h0m-5.2 4.8h0m16.5 6.6h0m8.4-27.5h0m-9.3 12.2h0m2.3-2.6h0m-2.3-15.6h0m-11.2 28.6h0m22-21.3h0m4.8 4h0m-36 4.8h0m-8.1-0.2h0" stroke="#e2801f" stroke-width="1.2" stroke-linecap="round" fill="none"/>
<path d="M217.5 31.3h0m-4.8-16.1h0m-11.8 10.7h0m9.8 2.1h0m-10.5-8.5h0m14.7 2.6h0m-31.2 6.6h0m9.5 0.7h0m10.6-15.3h0m-21.4 14.2h0m23.5 4.5h0m-21.3 9.3h0m21.1-6.7h0m4.4 6.8h0m-17.9-10.5h0m26.7-3.4h0m-16.9 24.7h0m5.9-21.5h0m-34.7-4h0m4.4 4.6h0m28.2 9.5h0m10.9-23.5h0m-14.9 21.1h0m13.4 4.5h0m-40.2 1.3h0m39.2-13.6h0m-0.6-10.1h0m-11.7-1.1h0m-9.4 10.4h0m13 13.4h0m-21.8-3.9h0m20 1.1h0m1.2-7.5h0m-7.2 16.8h0m-13.2-18.3h0m-12.2-4.6h0m9.2 7.5h0m30-8.3h0m-29.3 16.3h0m-6.4 5.7h0m8.1-8.9h0m12.8-19.2h0m3.2 1.1h0m13.7 14.2h0m-1.1-16.9h0m5.4 15.2h0m-4-18.4h0m-20.4 11.9h0m-14.6 10.5h0m38.4-15.3h0m-34.3 18.3h0m18.6 0.4h0m-16.9 6.4h0m26-19.2h0m-29 5.2h0m10.4-0.5h0m-9.5 4.1h0m30.2-21h0m-11.4 19.8h0m0.6 3h0" stroke="#8a4c10" stroke-width="2.1" stroke-linecap="round" fill="none"/>
<path d="M217.5 31.3h0m-4.8-16.1h0m-11.8 10.7h0m9.8 2.1h0m-10.5-8.5h0m14.7 2.6h0m-31.2 6.6h0m9.5 0.7h0m10.6-15.3h0m-21.4 14.2h0m23.5 4.5h0m-21.3 9.3h0m21.1-6.7h0m4.4 6.8h0m-17.9-10.5h0m26.7-3.4h0m-16.9 24.7h0m5.9-21.5h0m-34.7-4h0m4.4 4.6h0m28.2 9.5h0m10.9-23.5h0m-14.9 21.1h0m13.4 4.5h0m-40.2 1.3h0m39.2-13.6h0m-0.6-10.1h0m-11.7-1.1h0m-9.4 10.4h0m13 13.4h0m-21.8-3.9h0m20 1.1h0m1.2-7.5h0m-7.2 16.8h0m-13.2-18.3h0m-12.2-4.6h0m9.2 7.5h0m30-8.3h0m-29.3 16.3h0m-6.4 5.7h0m8.1-8.9h0m12.8-19.2h0m3.2 1.1h0m13.7 14.2h0m-1.1-16.9h0m5.4 15.2h0m-4-18.4h0m-20.4 11.9h0m-14.6 10.5h0m38.4-15.3h0m-34.3 18.3h0m18.6 0.4h0m-16.9 6.4h0m26-19.2h0m-29 5.2h0m10.4-0.5h0m-9.5 4.1h0m30.2-21h0m-11.4 19.8h0m0.6 3h0" stroke="#e2801f" stroke-width="1.2" stroke-linecap="round" fill="none"/>
<path d="M187.1 20.5h0m-6.5-1.4h0m32 8.8h0m-4.3 21.5h0m-1.5-11.5h0m12.4-13.2h0m-20.6 7.5h0m-17.9-14.4h0m20.3 28.3h0m-15.2-19.8h0m10.6 12.6h0m-2.5-19.7h0m4.9 13.9h0m16.8-12.4h0m-5.2 17.5h0m-18.6 9h0m18.9-4.3h0m2.1-5.3h0m-4.1 4.5h0m-10.5-21.9h0m16.4-2.6h0m-19.2 12.2h0m-18.2 14.6h0m7.9-9.9h0m18.1 4.5h0m-13.1-20.9h0m2.1 11.5h0m-1-1.7h0m-9.9 9.7h0m-4.6 16.8h0m-2.1-12.5h0m29.3 1.5h0m-16.4-14h0m6.3 2.3h0m22.5 7.6h0m-14.5-3.2h0m8.6-20.5h0m-2.2 25.9h0m9-1.1h0m-41.8-4.1h0m14.9 3.8h0m26.7-4.6h0m-22.9-8.2h0m22.8-13.9h0m-35.9 38.3h0m-5.9-17.5h0m39.3-3.3h0m-22.8 2.8h0m4.6 0.7h0m20.1 0.2h0m-33.7-11.4h0m35.3 12.6h0m-27-1.6h0m-7-0.8h0m-0.6-1.1h0m13.4 1.9h0m-2.5-11.7h0m19.8 8.9h0m-39.4 0.9h0m-0.3 2.3h0" stroke="#8a4c10" stroke-width="2.1" stroke-linecap="round" fill="none"/>
<path d="M187.1 20.5h0m-6.5-1.4h0m32 8.8h0m-4.3 21.5h0m-1.5-11.5h0m12.4-13.2h0m-20.6 7.5h0m-17.9-14.4h0m20.3 28.3h0m-15.2-19.8h0m10.6 12.6h0m-2.5-19.7h0m4.9 13.9h0m16.8-12.4h0m-5.2 17.5h0m-18.6 9h0m18.9-4.3h0m2.1-5.3h0m-4.1 4.5h0m-10.5-21.9h0m16.4-2.6h0m-19.2 12.2h0m-18.2 14.6h0m7.9-9.9h0m18.1 4.5h0m-13.1-20.9h0m2.1 11.5h0m-1-1.7h0m-9.9 9.7h0m-4.6 16.8h0m-2.1-12.5h0m29.3 1.5h0m-16.4-14h0m6.3 2.3h0m22.5 7.6h0m-14.5-3.2h0m8.6-20.5h0m-2.2 25.9h0m9-1.1h0m-41.8-4.1h0m14.9 3.8h0m26.7-4.6h0m-22.9-8.2h0m22.8-13.9h0m-35.9 38.3h0m-5.9-17.5h0m39.3-3.3h0m-22.8 2.8h0m4.6 0.7h0m20.1 0.2h0m-33.7-11.4h0m35.3 12.6h0m-27-1.6h0m-7-0.8h0m-0.6-1.1h0m13.4 1.9h0m-2.5-11.7h0m19.8 8.9h0m-39.4 0.9h0m-0.3 2.3h0" stroke="#e2801f" stroke-width="1.2" stroke-linecap="round" fill="none"/>
<path d="M179.4 43.9h0m21.4-3.2h0m8.3 1.7h0m-14.2-11.7h0m6.3 8.8h0m1.3 3.4h0m-29.3-11.2h0m10.6-3.7h0m35.4 20.9h0m-31.4-33h0m29 14.9h0m-21.4 2.9h0m-12.7-11.1h0m-10.3 10.9h0m10.1 6.1h0m10.4 4.1h0m0.4-10h0m4.8-9.9h0m-3.5 19.8h0m-20.8-8.5h0m11-5.7h0m-11.3 13.8h0m33.3-10.9h0m-12.1-6.4h0m10.8 5.2h0m-17.6 14.3h0m1.8-16.6h0m6.9 2.6h0m18.5-4.7h0m-27.4-5.1h0m-11.4 2h0m-2.2 6.3h0m39.7-1.7h0m-26.8 16.2h0m-9.1-9.2h0m22.4-5.2h0m11.7 5.5h0m-11.5-4.3h0m-21.1 10.9h0m12-24.9h0m-18.4 20.9h0m44.7-11.1h0m-23.8 8.1h0m-15.3-14.2h0m35.3 6h0m4.7 3.3h0m-7.9 3.6h0m-26.5-1.7h0m-3 11.7h0m15.8-18.2h0m2.7 14h0m13.9-13.7h0m4.2 3.8h0m-2.7-9.6h0m-26.7 13.2h0m11.4-11.5h0m-21.7 21.4h0m18.6-16.9h0m-21.1 10h0m1.9-4.4h0" stroke="#8a4c10" stroke-width="2.1" stroke-linecap="round" fill="none"/>
<path d="M179.4 43.9h0m21.4-3.2h0m8.3 1.7h0m-14.2-11.7h0m6.3 8.8h0m1.3 3.4h0m-29.3-11.2h0m10.6-3.7h0m35.4 20.9h0m-31.4-33h0m29 14.9h0m-21.4 2.9h0m-12.7-11.1h0m-10.3 10.9h0m10.1 6.1h0m10.4 4.1h0m0.4-10h0m4.8-9.9h0m-3.5 19.8h0m-20.8-8.5h0m11-5.7h0m-11.3 13.8h0m33.3-10.9h0m-12.1-6.4h0m10.8 5.2h0m-17.6 14.3h0m1.8-16.6h0m6.9 2.6h0m18.5-4.7h0m-27.4-5.1h0m-11.4 2h0m-2.2 6.3h0m39.7-1.7h0m-26.8 16.2h0m-9.1-9.2h0m22.4-5.2h0m11.7 5.5h0m-11.5-4.3h0m-21.1 10.9h0m12-24.9h0m-18.4 20.9h0m44.7-11.1h0m-23.8 8.1h0m-15.3-14.2h0m35.3 6h0m4.7 3.3h0m-7.9 3.6h0m-26.5-1.7h0m-3 11.7h0m15.8-18.2h0m2.7 14h0m13.9-13.7h0m4.2 3.8h0m-2.7-9.6h0m-26.7 13.2h0m11.4-11.5h0m-21.7 21.4h0m18.6-16.9h0m-21.1 10h0m1.9-4.4h0" stroke="#e2801f" stroke-width="1.2" stroke-linecap="round" fill="none"/>
<path d="M178 33.1h0m8.4-9.4h0m0.4 30.1h0m18.7-25.2h0m-29.7 20.6h0m1.7-27.7h0m25.7 30.7h0m0.7-10h0m1.8 6.8h0m0.5-33.9h0m-2.7 30.1h0m-5.2-14h0m8.9 6h0m-31.1 15.1h0m6.1-15.4h0m25-11.9h0m-25.9 10.4h0m15.9-12.5h0m-12.7 14.1h0m8.1-4.3h0m18.9 2.7h0m-8.1-6.9h0m-10.2-15.1h0m-8.1 16.2h0m25.1 0h0m-7 8.8h0m-10.2 2.1h0m20.2-24.1h0m-8.3 26.9h0m13.5-3h0m-14.9-7.3h0m11.1 2.6h0m-16.4-23.2h0m7.5 43.6h0m6.2-28.2h0m-35.4-1.2h0m18.1 17.5h0m6.2-5.3h0m-25.8-9.2h0m34.4-14.6h0m-3.4 26.2h0m10.3 6h0m-26.5-24.1h0m4.5-6h0m20.9 17.5h0m-23.6 20.8h0m19.9-38.7h0m-19.4 18.1h0m-3.9-13.2h0m-2.9 12.1h0m-3 3.6h0m10.3 0.1h0m-12.7-18.8h0m31.3-1.7h0m6.9 35.9h0m-41.3-9.4h0m-2-27.5h0m-2.4 22h0m43.8 7.1h0m-40.5-11.1h0" stroke="#8a4c10" stroke-width="2.1" stroke-linecap="round" fill="none"/>
<path d="M178 33.1h0m8.4-9.4h0m0.4 30.1h0m18.7-25.2h0m-29.7 20.6h0m1.7-27.7h0m25.7 30.7h0m0.7-10h0m1.8 6.8h0m0.5-33.9h0m-2.7 30.1h0m-5.2-14h0m8.9 6h0m-31.1 15.1h0m6.1-15.4h0m25-11.9h0m-25.9 10.4h0m15.9-12.5h0m-12.7 14.1h0m8.1-4.3h0m18.9 2.7h0m-8.1-6.9h0m-10.2-15.1h0m-8.1 16.2h0m25.1 0h0m-7 8.8h0m-10.2 2.1h0m20.2-24.1h0m-8.3 26.9h0m13.5-3h0m-14.9-7.3h0m11.1 2.6h0m-16.4-23.2h0m7.5 43.6h0m6.2-28.2h0m-35.4-1.2h0m18.1 17.5h0m6.2-5.3h0m-25.8-9.2h0m34.4-14.6h0m-3.4 26.2h0m10.3 6h0m-26.5-24.1h0m4.5-6h0m20.9 17.5h0m-23.6 20.8h0m19.9-38.7h0m-19.4 18.1h0m-3.9-13.2h0m-2.9 12.1h0m-3 3.6h0m10.3 0.1h0m-12.7-18.8h0m31.3-1.7h0m6.9 35.9h0m-41.3-9.4h0m-2-27.5h0m-2.4 22h0m43.8 7.1h0m-40.5-11.1h0" stroke="#e2801f" stroke-width="1.2" stroke-linecap="round" fill="none"/>
<path d="M204.3 33.1h0m-17.7 1.1h0m-5 4.2h0m2.3-1.8h0m20.8 0h0m-31.6-5.9h0m39.9 9h0m-14-4.4h0m-15.7-0.4h0m-1.2-14.7h0m21 8.1h0m-1.2 5h0m-14.7-5.6h0m0.8 1.3h0m6.1-7.4h0m21 4.5h0m-17.5-12h0m14.2 3.6h0m-9.4 14.8h0m-3.7 4.1h0m-3.4-13h0m9 3.1h0m-8.9 6.9h0m11 13.3h0m-25.6 5.4h0m6.6-22.7h0m26-6.1h0m-22.5 1.2h0m21.1 19.9h0m4.4-24h0m-16.9 17.2h0m-22.5-7.9h0m30.9-2.4h0m-4.3 12.7h0m-17.7-0.9h0m27 13.2h0m-17.9-10.5h0m-20.1 10.4h0m0.6-22.9h0m7.5 3.3h0m18-9.9h0m9.6 5h0m-33.7 12.4h0m-3.6-9.7h0m28.3 5.5h0m-10.1-9.5h0m1.6 2.9h0m17.8 12.1h0m4.6-10.4h0m2.3-0.7h0m-8.9 4.3h0m-36.5-9.7h0m6.9-8.9h0m20.6 19.8h0m17.3-1.3h0m-41.1 22.2h0m20.4-23.1h0m-5.6 3.6h0m0.5 17.5h0m-6.5-24.5h0" stroke="#8a4c10" stroke-width="2.1" stroke-linecap="round" fill="none"/>
<path d="M204.3 33.1h0m-17.7 1.1h0m-5 4.2h0m2.3-1.8h0m20.8 0h0m-31.6-5.9h0m39.9 9h0m-14-4.4h0m-15.7-0.4h0m-1.2-14.7h0m21 8.1h0m-1.2 5h0m-14.7-5.6h0m0.8 1.3h0m6.1-7.4h0m21 4.5h0m-17.5-12h0m14.2 3.6h0m-9.4 14.8h0m-3.7 4.1h0m-3.4-13h0m9 3.1h0m-8.9 6.9h0m11 13.3h0m-25.6 5.4h0m6.6-22.7h0m26-6.1h0m-22.5 1.2h0m21.1 19.9h0m4.4-24h0m-16.9 17.2h0m-22.5-7.9h0m30.9-2.4h0m-4.3 12.7h0m-17.7-0.9h0m27 13.2h0m-17.9-10.5h0m-20.1 10.4h0m0.6-22.9h0m7.5 3.3h0m18-9.9h0m9.6 5h0m-33.7 12.4h0m-3.6-9.7h0m28.3 5.5h0m-10.1-9.5h0m1.6 2.9h0m17.8 12.1h0m4.6-10.4h0m2.3-0.7h0m-8.9 4.3h0m-36.5-9.7h0m6.9-8.9h0m20.6 19.8h0m17.3-1.3h0m-41.1 22.2h0m20.4-23.1h0m-5.6 3.6h0m0.5 17.5h0m-6.5-24.5h0" stroke="#e2801f" stroke-width="1.2" stroke-linecap="round" fill="none"/>
<path d="M185 27.3h0m-1.5 13.6h0m-6.4-3.2h0m21.2 4.5h0m-5-17.2h0m12.5 22.3h0m-3.4-12h0m-14.2-2.7h0m25.6-6.1h0m-23.4 7.9h0m13 9.6h0m6.8-12.1h0m-19.3-3.1h0m2.4 14.4h0m8.7-14.5h0m-24.5-7.6h0m19.8 0.4h0m-20.6 28.5h0m6.1-6.6h0m18.8 5.2h0m16.4-28.5h0m1.3 4.6h0m-34.8 1.5h0m-5.4 16.5h0" stroke="#8a4c10" stroke-width="2.1" stroke-linecap="round" fill="none"/>
<path d="M185 27.3h0m-1.5 13.6h0m-6.4-3.2h0m21.2 4.5h0m-5-17.2h0m12.5 22.3h0m-3.4-12h0m-14.2-2.7h0m25.6-6.1h0m-23.4 7.9h0m13 9.6h0m6.8-12.1h0m-19.3-3.1h0m2.4 14.4h0m8.7-14.5h0m-24.5-7.6h0m19.8 0.4h0m-20.6 28.5h0m6.1-6.6h0m18.8 5.2h0m16.4-28.5h0m1.3 4.6h0m-34.8 1.5h0m-5.4 16.5h0" stroke="#e2801f" stroke-width="1.2" stroke-linecap="round" fill="none"/>
<path d="M257.7 19h0m-20.1-0.7h0m-5.5 24.1h0m33.4-12.6h0m-20.1-7.6h0m-12.8 4.6h0m-6.7 2.9h0m31.3-10.9h0m2.1 0.6h0m-13.1-2.6h0m-8.8 4.7h0m13-1.1h0m15.1-3.2h0m-18.9 23.5h0m9.8-23.1h0m4.5 8.4h0m-5.9-2.5h0m-12.7 2.9h0m-14.6-13.1h0m24.5 23.2h0m6.3-18.9h0m6.2 10.9h0m-38.2-7.9h0m-1.8 13.5h0m24.6-7.4h0m9-7.1h0m-35.4 4.1h0m25.4-4.7h0m-16.4 7.8h0m34.5-12.1h0m-30 6.9h0m-13.2-3.2h0m33 13.2h0m-22.7-16.3h0m5.6 1.8h0m-13.6-1.6h0m9.4 7.5h0m-9.3 1.1h0m5.9 22.3h0m15.1-27h0m-13.2 3.9h0m17.4-3.3h0m11 6.6h0m-15.3-2.9h0m-25.8-3.8h0m43.9-3.7h0m-35.9 12.4h0m7-5.7h0m8.4-3.9h0m4.4 8.7h0m-13 0.9h0m4.6-14.6h0m8.8 8h0m-8-1.4h0m-8.2 18.5h0m6-24.1h0m-1.2 16.4h0m-4.4-14.5h0m14.5 25.8h0m-4.1-12h0" stroke="#134f13" stroke-width="2.1" stroke-linecap="round" fill="none"/>
<path d="M257.7 19h0m-20.1-0.7h0m-5.5 24.1h0m33.4-12.6h0m-20.1-7.6h0m-12.8 4.6h0m-6.7 2.9h0m31.3-10.9h0m2.1 0.6h0m-13.1-2.6h0m-8.8 4.7h0m13-1.1h0m15.1-3.2h0m-18.9 23.5h0m9.8-23.1h0m4.5 8.4h0m-5.9-2.5h0m-12.7 2.9h0m-14.6-13.1h0m24.5 23.2h0m6.3-18.9h0m6.2 10.9h0m-38.2-7.9h0m-1.8 13.5h0m24.6-7.4h0m9-7.1h0m-35.4 4.1h0m25.4-4.7h0m-16.4 7.8h0m34.5-12.1h0m-30 6.9h0m-13.2-3.2h0m33 13.2h0m-22.7-16.3h0m5.6 1.8h0m-13.6-1.6h0m9.4 7.5h0m-9.3 1.1h0m5.9 22.3h0m15.1-27h0m-13.2 3.9h0m17.4-3.3h0m11 6.6h0m-15.3-2.9h0m-25.8-3.8h0m43.9-3.7h0m-35.9 12.4h0m7-5.7h0m8.4-3.9h0m4.4 8.7h0m-13 0.9h0m4.6-14.6h0m8.8 8h0m-8-1.4h0m-8.2 18.5h0m6-24.1h0m-1.2 16.4h0m-4.4-14.5h0m14.5 25.8h0m-4.1-12h0" stroke="#27a027" stroke-width="1.2" stroke-linecap="round" fill="none"/>
<path d="M238.7 26.9h0m14.1-6.9h0m4.8 8.6h0m-7.7 6.8h0m-14.5-17.1h0m28.1 4.5h0m-39.2-2.8h0m33 7.2h0m-18.1 5.9h0m-1.2-17.6h0m21.1 11.1h0m-8.9-12h0m15 1.6h0m-4.5 3.1h0m-35.9 11.4h0m18.2-4.1h0m12.5-10.8h0m-32.3 5h0m21.7 4.8h0m21.2 3.2h0m-35.5-7.5h0m-5.7 1.1h0m8.1 7.2h0m2.6 0.8h0m-2.8 10.2h0m6.9-24.1h0m18.9-1.1h0m-14.9 0.9h0m3.4 7.7h0m-22.6-4.9h0m-2.1 4h0m41.7 8.1h0m-28.4-11.3h0m28.3 14.6h0m-28.8-8.9h0m14.3-7.3h0m1-5.1h0m-26.9 12.5h0m-0.9 13.6h0m17.5-16.4h0m-14.9-5.3h0m8 28.1h0m-4.7-17.5h0m5.5-4.2h0m6.7-2.6h0m-5.7-3.4h0m7.1 3.2h0m9.3 0.5h0m-30.2 4.2h0m45-5h0m-26.7 1.4h0m23.2 7.1h0m-43.1-4.5h0m2.4 14.9h0m1.9-7h0m38.3-17.4h0m-23.5 10.3h0m20.4-3.9h0m-7.1-2.9h0m-28.6 11.2h0" stroke="#134f13" stroke-width="2.1" stroke-linecap="round" fill="none"/>
<path d="M238.7 26.9h0m14.1-6.9h0m4.8 8.6h0m-7.7 6.8h0m-14.5-17.1h0m28.1 4.5h0m-39.2-2.8h0m33 7.2h0m-18.1 5.9h0m-1.2-17.6h0m21.1 11.1h0m-8.9-12h0m15 1.6h0m-4.5 3.1h0m-35.9 11.4h0m18.2-4.1h0m12.5-10.8h0m-32.3 5h0m21.7 4.8h0m21.2 3.2h0m-35.5-7.5h0m-5.7 1.1h0m8.1 7.2h0m2.6 0.8h0m-2.8 10.2h0m6.9-24.1h0m18.9-1.1h0m-14.9 0.9h0m3.4 7.7h0m-22.6-4.9h0m-2.1 4h0m41.7 8.1h0m-28.4-11.3h0m28.3 14.6h0m-28.8-8.9h0m14.3-7.3h0m1-5.1h0m-26.9 12.5h0m-0.9 13.6h0m17.5-16.4h0m-14.9-5.3h0m8 28.1h0m-4.7-17.5h0m5.5-4.2h0m6.7-2.6h0m-5.7-3.4h0m7.1 3.2h0m9.3 0.5h0m-30.2 4.2h0m45-5h0m-26.7 1.4h0m23.2 7.1h0m-43.1-4.5h0m2.4 14.9h0m1.9-7h0m38.3-17.4h0m-23.5 10.3h0m20.4-3.9h0m-7.1-2.9h0m-28.6 11.2h0" stroke="#27a027" stroke-width="1.2" stroke-linecap="round" fill="none"/>
<path d="M236.4 29.9h0m-1.4-12.6h0m5.7 23.8h0m14.2-17.6h0m-31.6 2h0m39.7-10.1h0m-21.2 11.2h0m-5.2-9.7h0m15.6-0.6h0m-19.8 7.8h0m20.5 13.1h0m-14-16.2h0m3-4.8h0m-13.6 18.6h0m0.6-3.2h0m31-6.8h0m-13.4 0.5h0m-7.3-6.4h0m16.7-5.9h0m6.4 4.9h0m-35.5 4.3h0m39.6 6.3h0m-46.4-9h0m28.3 6.5h0m-16.5 2.4h0m-0.6-14.6h0m11.4 19.1h0m5.2-8.2h0m-7.9-6.4h0m13.1 4.5h0m11.1-6.2h0m-36.8 11.6h0m3.2-3.3h0m17.6-6.2h0m-9.4-1.2h0m-4.5 9.6h0m8.9-1.4h0m9.1 2.4h0m9.9-13.8h0m1.6 6.9h0m-5.7-1.5h0m-22.3 10.6h0m25.3-1.2h0m-8.2-2.3h0m-25.2 3.9h0m36.6-9.5h0m-33.2 31.9h0m20.5-31h0m0.6 1.1h0m10-6.8h0m-11.4 8.3h0m15-1h0m-43.5 11.6h0m-1.1-9.9h0m7.5-8.1h0m17.8 6.3h0m-7.1-0.3h0m-16.1 7.5h0m5.7-7.5h0m17.7-3.4h0" stroke="#134f13" stroke-width="2.1" stroke-linecap="round" fill="none"/>
<path d="M236.4 29.9h0m-1.4-12.6h0m5.7 23.8h0m14.2-17.6h0m-31.6 2h0m39.7-10.1h0m-21.2 11.2h0m-5.2-9.7h0m15.6-0.6h0m-19.8 7.8h0m20.5 13.1h0m-14-16.2h0m3-4.8h0m-13.6 18.6h0m0.6-3.2h0m31-6.8h0m-13.4 0.5h0m-7.3-6.4h0m16.7-5.9h0m6.4 4.9h0m-35.5 4.3h0m39.6 6.3h0m-46.4-9h0m28.3 6.5h0m-16.5 2.4h0m-0.6-14.6h0m11.4 19.1h0m5.2-8.2h0m-7.9-6.4h0m13.1 4.5h0m11.1-6.2h0m-36.8 11.6h0m3.2-3.3h0m17.6-6.2h0m-9.4-1.2h0m-4.5 9.6h0m8.9-1.4h0m9.1 2.4h0m9.9-13.8h0m1.6 6.9h0m-5.7-1.5h0m-22.3 10.6h0m25.3-1.2h0m-8.2-2.3h0m-25.2 3.9h0m36.6-9.5h0m-33.2 31.9h0m20.5-31h0m0.6 1.1h0m10-6.8h0m-11.4 8.3h0m15-1h0m-43.5 11.6h0m-1.1-9.9h0m7.5-8.1h0m17.8 6.3h0m-7.1-0.3h0m-16.1 7.5h0m5.7-7.5h0m17.7-3.4h0" stroke="#27a027" stroke-width="1.2" stroke-linecap="round" fill="none"/>
<path d="M238.3 25.7h0m17-1.4h0m-14-8.6h0m19.4 3.4h0m-5.6 3.9h0m-12.5 9.5h0m-6.4-7.2h0m-6.8-1.3h0m3.7 3.1h0m3-5.3h0m0.3-6.8h0m-8.6 5.9h0m13.8 11.8h0m-17-8.6h0m35.7-5.7h0m-15 5.1h0m-21.5-0.1h0m11 26.5h0m-3.4-33.4h0m-4.7 13.8h0m15.3 3.1h0m-14-3.2h0m-1.5-12.6h0m25.9 6.8h0m-12.8-5.2h0m11.4 4.3h0m-9.5 5h0m1.6-12.5h0m-9.1 16.4h0m5.4 7.2h0m2.6-11.4h0m-6.5-6.2h0m22.8 18.9h0m-27.4-13.5h0m-1.2-12.2h0m5.9 2.1h0m20.7 4.9h0m3 0.7h0m-13.3 3.9h0m-9.7-1.8h0m13.6-4.9h0m8.4-0.9h0m-27.5 7.1h0m20 18.1h0m2-13.7h0m-15.1 4.8h0m-11.5-8.5h0m21.8-3h0m-18.8-4.5h0m7.5-2h0m8.3 5.7h0m19.7 4.8h0m-38.4-9.8h0m-3.5-2.7h0m21.9 0.9h0m19.1 0.6h0m-42.3 21.8h0m28.1-0.9h0m-29-6.5h0m24.7-2.9h0" stroke="#134f13" stroke-width="2.1" stroke-linecap="round" fill="none"/>
<path d="M238.3 25.7h0m17-1.4h0m-14-8.6h0m19.4 3.4h0m-5.6 3.9h0m-12.5 9.5h0m-6.4-7.2h0m-6.8-1.3h0m3.7 3.1h0m3-5.3h0m0.3-6.8h0m-8.6 5.9h0m13.8 11.8h0m-17-8.6h0m35.7-5.7h0m-15 5.1h0m-21.5-0.1h0m11 26.5h0m-3.4-33.4h0m-4.7 13.8h0m15.3 3.1h0m-14-3.2h0m-1.5-12.6h0m25.9 6.8h0m-12.8-5.2h0m11.4 4.3h0m-9.5 5h0m1.6-12.5h0m-9.1 16.4h0m5.4 7.2h0m2.6-11.4h0m-6.5-6.2h0m22.8 18.9h0m-27.4-13.5h0m-1.2-12.2h0m5.9 2.1h0m20.7 4.9h0m3 0.7h0m-13.3 3.9h0m-9.7-1.8h0m13.6-4.9h0m8.4-0.9h0m-27.5 7.1h0m20 18.1h0m2-13.7h0m-15.1 4.8h0m-11.5-8.5h0m21.8-3h0m-18.8-4.5h0m7.5-2h0m8.3 5.7h0m19.7 4.8h0m-38.4-9.8h0m-3.5-2.7h0m21.9 0.9h0m19.1 0.6h0m-42.3 21.8h0m28.1-0.9h0m-29-6.5h0m24.7-2.9h0" stroke="#27a027" stroke-width="1.2" stroke-linecap="round" fill="none"/>
<path d="M225 26.5h0m25.4-9.9h0m-14 33.7h0m13.8-28.4h0m-18.7 1.7h0m-8.6-4.3h0m5-1.5h0m4.4 7.4h0m-5.2 7.9h0m1.6-6.3h0m16.3-10.2h0m-5 24.2h0m18.2-6.8h0m-15.4-18.8h0m2 6.1h0m8 25.5h0m6.7-26.8h0m-12.6-0.4h0m-25.8 4.5h0m19.9 1.8h0m-20.1-2.5h0m26.9 8h0m-25.4-11.5h0m22.4-1.3h0m-18.4-3.3h0m33.2 10.1h0m-35.8 24h0m26.6-22.2h0m2.1 6.6h0m-20.2-9.6h0m15-1.5h0m-12.4-8.3h0m-3.4 4.1h0m0.1 4.1h0m-11.5 5.2h0m30.9-7.3h0m-28.3-6.6h0m5.9 0.6h0m-5.2 6h0m33.8 1.2h0m-12.9 27.2h0m-2.9-32.8h0m5.4 1.8h0m10.6 2.6h0m-8.7 21.4h0m-5.2-21.5h0m-9.4 1.2h0m9.6 4.6h0m22.1 5.9h0m-19.6-7.7h0m-4.4 3.2h0m19.4-13.6h0m-39.3 19.3h0m0.4-3.7h0m41.4-8h0m-42 11.9h0m-1.2-0.7h0m-0.7-11.1h0m26.7-7.6h0m-20.7 17.9h0" stroke="#134f13" stroke-width="2.1" stroke-linecap="round" fill="none"/>
<path d="M225 26.5h0m25.4-9.9h0m-14 33.7h0m13.8-28.4h0m-18.7 1.7h0m-8.6-4.3h0m5-1.5h0m4.4 7.4h0m-5.2 7.9h0m1.6-6.3h0m16.3-10.2h0m-5 24.2h0m18.2-6.8h0m-15.4-18.8h0m2 6.1h0m8 25.5h0m6.7-26.8h0m-12.6-0.4h0m-25.8 4.5h0m19.9 1.8h0m-20.1-2.5h0m26.9 8h0m-25.4-11.5h0m22.4-1.3h0m-18.4-3.3h0m33.2 10.1h0m-35.8 24h0m26.6-22.2h0m2.1 6.6h0m-20.2-9.6h0m15-1.5h0m-12.4-8.3h0m-3.4 4.1h0m0.1 4.1h0m-11.5 5.2h0m30.9-7.3h0m-28.3-6.6h0m5.9 0.6h0m-5.2 6h0m33.8 1.2h0m-12.9 27.2h0m-2.9-32.8h0m5.4 1.8h0m10.6 2.6h0m-8.7 21.4h0m-5.2-21.5h0m-9.4 1.2h0m9.6 4.6h0m22.1 5.9h0m-19.6-7.7h0m-4.4 3.2h0m19.4-13.6h0m-39.3 19.3h0m0.4-3.7h0m41.4-8h0m-42 11.9h0m-1.2-0.7h0m-0.7-11.1h0m26.7-7.6h0m-20.7 17.9h0" stroke="#27a027" stroke-width="1.2" stroke-linecap="round" fill="none"/>
<path d="M245.8 23.6h0m4.8 17.1h0m-30.5-16.2h0m40.2-8.6h0m-29.1 7h0m14.2 0.7h0m-9.4 2h0m-0.5 2.9h0m2.8-4h0m-18.8-10.8h0m20 1.5h0m-7.7 9h0m4.4-3h0m-9.2 11.4h0m8.1-8.6h0m17.2 5.9h0m13.4-1.7h0m-37.1-5.5h0m31.6 19.2h0m-11.9-19h0m-24.2 0.8h0m-4.1-1.2h0m41 8.8h0m-30.6-8.3h0m-6 2.7h0m25.8-7.4h0m2.4 6.1h0m8.9-7.2h0m-18.6 1.7h0m-8.9 1.5h0m0.3 3.6h0m-5.3-3.4h0m20.3 13.4h0m14.4-4.1h0m-40.4-14.2h0m14.3 8.5h0m-1.7 12.4h0m-12.8-17.8h0m24.3 1.8h0m18.2 5.6h0m-33.2-8.3h0m21.2 5.1h0m8.2 11.5h0m-29.7 8.8h0m30.5-24.7h0m-8 14.5h0m-4.8-17.9h0m-21.3 31.7h0m3.9-17.9h0m-8.3-7.2h0m37.4-0.9h0m-4 8.3h0m-34.1 9.6h0m21-10.5h0m-15 6.5h0m26-5.3h0m-9.1 1h0m17.6 17.3h0m-10.3-14.2h0m-29.5-12.7h0" stroke="#134f13" stroke-width="2.1" stroke-linecap="round" fill="none"/>
<path d="M245.8 23.6h0m4.8 17.1h0m-30.5-16.2h0m40.2-8.6h0m-29.1 7h0m14.2 0.7h0m-9.4 2h0m-0.5 2.9h0m2.8-4h0m-18.8-10.8h0m20 1.5h0m-7.7 9h0m4.4-3h0m-9.2 11.4h0m8.1-8.6h0m17.2 5.9h0m13.4-1.7h0m-37.1-5.5h0m31.6 19.2h0m-11.9-19h0m-24.2 0.8h0m-4.1-1.2h0m41 8.8h0m-30.6-8.3h0m-6 2.7h0m25.8-7.4h0m2.4 6.1h0m8.9-7.2h0m-18.6 1.7h0m-8.9 1.5h0m0.3 3.6h0m-5.3-3.4h0m20.3 13.4h0m14.4-4.1h0m-40.4-14.2h0m14.3 8.5h0m-1.7 12.4h0m-12.8-17.8h0m24.3 1.8h0m18.2 5.6h0m-33.2-8.3h0m21.2 5.1h0m8.2 11.5h0m-29.7 8.8h0m30.5-24.7h0m-8 14.5h0m-4.8-17.9h0m-21.3 31.7h0m3.9-17.9h0m-8.3-7.2h0m37.4-0.9h0m-4 8.3h0m-34.1 9.6h0m21-10.5h0m-15 6.5h0m26-5.3h0m-9.1 1h0m17.6 17.3h0m-10.3-14.2h0m-29.5-12.7h0" stroke="#27a027" stroke-width="1.2" stroke-linecap="round" fill="none"/>
<path d="M236.9 25.6h0m9.6-8.1h0m15.8-1.9h0m-25.5 5.9h0m-8.6 3.2h0m4.5-3.5h0m-1.7 1h0m-4.4 12h0m8.9-7.3h0m-4.4-12.2h0m12.3 18.2h0m18.1-3.4h0m2.8-5.4h0m-37.4 1.4h0m19.3-2.1h0m4.9 2.2h0m-24.6-2.8h0m17.9 1.5h0m-15.6 7.2h0m7.7-6.1h0m-1.9-0.6h0m23.1 17.6h0m-27.3-19.6h0m14.4 11.1h0m2.1-8.6h0m-12-4.4h0m28.2-0.1h0m-28.1 7.6h0m-0.3 15.4h0m17.3-24.1h0m-9.7-4.7h0m11.2 24.9h0m-26.9-9.7h0m-0.3-4.5h0m27.7-11.1h0m-16.3 20.9h0m22-19.8h0m-29.4 16.2h0m0.4-9.3h0m29.3 1.3h0m-23.6-1.6h0m-11.9-3.4h0m5.2 2.8h0m25.9 6.2h0m-23.7-12.7h0m13.6 3.2h0m13.2 12.4h0m-10.6-4.5h0m6.7 20.2h0m10.6-31h0m-32 2.2h0m27.2 4.6h0m-15.3 3.3h0m-16.5 0.8h0m-3.2-2.1h0m9.2 7.7h0m-9-17h0m29.9 10.4h0m-10.1-4.4h0m-24.2-1.3h0" stroke="#134f13" stroke-width="2.1" stroke-linecap="round" fill="none"/>
<path d="M236.9 25.6h0m9.6-8.1h0m15.8-1.9h0m-25.5 5.9h0m-8.6 3.2h0m4.5-3.5h0m-1.7 1h0m-4.4 12h0m8.9-7.3h0m-4.4-12.2h0m12.3 18.2h0m18.1-3.4h0m2.8-5.4h0m-37.4 1.4h0m19.3-2.1h0m4.9 2.2h0m-24.6-2.8h0m17.9 1.5h0m-15.6 7.2h0m7.7-6.1h0m-1.9-0.6h0m23.1 17.6h0m-27.3-19.6h0m14.4 11.1h0m2.1-8.6h0m-12-4.4h0m28.2-0.1h0m-28.1 7.6h0m-0.3 15.4h0m17.3-24.1h0m-9.7-4.7h0m11.2 24.9h0m-26.9-9.7h0m-0.3-4.5h0m27.7-11.1h0m-16.3 20.9h0m22-19.8h0m-29.4 16.2h0m0.4-9.3h0m29.3 1.3h0m-23.6-1.6h0m-11.9-3.4h0m5.2 2.8h0m25.9 6.2h0m-23.7-12.7h0m13.6 3.2h0m13.2 12.4h0m-10.6-4.5h0m6.7 20.2h0m10.6-31h0m-32 2.2h0m27.2 4.6h0m-15.3 3.3h0m-16.5 0.8h0m-3.2-2.1h0m9.2 7.7h0m-9-17h0m29.9 10.4h0m-10.1-4.4h0m-24.2-1.3h0" stroke="#27a027" stroke-width="1.2" stroke-linecap="round" fill="none"/>
<path d="M260.7 43.7h0m-13.3-22.4h0m-7.2 16.3h0m1.3-17.9h0m21.1 5.1h0m-15.7 1.1h0m-5.9-2.3h0m7 16.6h0m-2.7-3.7h0m3.4-11.5h0m-20-2h0m-2.3-4.8h0m-6.5 6.3h0m38.6-7.2h0m-39 1h0m11.9 7.5h0m15.5-6.7h0m-4-4.6h0m18.9 7.6h0m-32.4-4.4h0m-4.7 13.2h0m2.2-5.2h0m15.9-7.2h0m-9.7 7.3h0m7.7 4.8h0m10.9-6h0m-17.2-1.1h0m16.2-5.1h0m-30.4 28.5h0m24.8-22.2h0m17-4h0m1.2 0.7h0m-17-2.9h0m19.4 1.1h0m-35.3 7.7h0m3-2.1h0m7.1 3.5h0m2.8-4.3h0m14.6-3.2h0m-17.5 0.5h0m-18.8 10.8h0m30.7-8.5h0m-22.5-10.3h0m31.1 4.6h0m-31.6-1.5h0m4-0.6h0m-7.5 34.4h0m7.8-27.6h0m14.1-6.3h0m-15.8-2.8h0m-10.3 6.3h0m25.4 15.5h0m7-16h0m-29.5 6.2h0m14.8-3h0m-16.7-4.1h0m-2.5 9h0m16.9-6h0m-4.2-4.2h0m27.8 0.6h0" stroke="#134f13" stroke-width="2.1" stroke-linecap="round" fill="none"/>
<path d="M260.7 43.7h0m-13.3-22.4h0m-7.2 16.3h0m1.3-17.9h0m21.1 5.1h0m-15.7 1.1h0m-5.9-2.3h0m7 16.6h0m-2.7-3.7h0m3.4-11.5h0m-20-2h0m-2.3-4.8h0m-6.5 6.3h0m38.6-7.2h0m-39 1h0m11.9 7.5h0m15.5-6.7h0m-4-4.6h0m18.9 7.6h0m-32.4-4.4h0m-4.7 13.2h0m2.2-5.2h0m15.9-7.2h0m-9.7 7.3h0m7.7 4.8h0m10.9-6h0m-17.2-1.1h0m16.2-5.1h0m-30.4 28.5h0m24.8-22.2h0m17-4h0m1.2 0.7h0m-17-2.9h0m19.4 1.1h0m-35.3 7.7h0m3-2.1h0m7.1 3.5h0m2.8-4.3h0m14.6-3.2h0m-17.5 0.5h0m-18.8 10.8h0m30.7-8.5h0m-22.5-10.3h0m31.1 4.6h0m-31.6-1.5h0m4-0.6h0m-7.5 34.4h0m7.8-27.6h0m14.1-6.3h0m-15.8-2.8h0m-10.3 6.3h0m25.4 15.5h0m7-16h0m-29.5 6.2h0m14.8-3h0m-16.7-4.1h0m-2.5 9h0m16.9-6h0m-4.2-4.2h0m27.8 0.6h0" stroke="#27a027" stroke-width="1.2" stroke-linecap="round" fill="none"/>
<path d="M220 27.4h0m29.8 20.2h0m4.1-14.2h0m-14.9-14.3h0m3.9 4.2h0m-11.9-4.5h0m0.2-0.5h0m-9.4-2.8h0m40.2 10.8h0m-41.3-7.2h0m5.1 2.3h0m27.7 5.1h0m-12.6-10.4h0m2.6 1.6h0m-10.3 8.5h0m-6.3-7.9h0m30.1-2.5h0m-31.8 16.3h0m8.1-9.6h0m21.5 14.2h0m-21.4 6h0m30.8-4.9h0m-36.6-21.5h0m16.6 9.4h0m0.5 7.6h0m-1.8-7.1h0m12.9-5.6h0m-34.3-3.8h0m23.6 10.7h0m11.4-10.8h0m-34.8 1.6h0m23.4 0h0m-5 7.4h0m-1.7 12.2h0m6.3-18h0m4.1 11h0m3.7-12.2h0m9.2 2.4h0m-11.4-0.3h0m16.1 0.5h0m-15.7 12.1h0m-18.7-16.8h0m-5.7 14.7h0m-3.6-4.7h0m9.3 1h0m-7-8.1h0m26.5 7.7h0m0.3-10.5h0m-3.6 4.5h0m-10.8 4.9h0m3.8-6.2h0m-9.6-3.4h0m31 1h0m-42.5 2.8h0m14.3-2.2h0m11.9-4.3h0m-18.4 17.9h0m31.7-14.7h0m-17.6 10.5h0m-5.2-8.3h0" stroke="#134f13" stroke-width="2.1" stroke-linecap="round" fill="none"/>
<path d="M220 27.4h0m29.8 20.2h0m4.1-14.2h0m-14.9-14.3h0m3.9 4.2h0m-11.9-4.5h0m0.2-0.5h0m-9.4-2.8h0m40.2 10.8h0m-41.3-7.2h0m5.1 2.3h0m27.7 5.1h0m-12.6-10.4h0m2.6 1.6h0m-10.3 8.5h0m-6.3-7.9h0m30.1-2.5h0m-31.8 16.3h0m8.1-9.6h0m21.5 14.2h0m-21.4 6h0m30.8-4.9h0m-36.6-21.5h0m16.6 9.4h0m0.5 7.6h0m-1.8-7.1h0m12.9-5.6h0m-34.3-3.8h0m23.6 10.7h0m11.4-10.8h0m-34.8 1.6h0m23.4 0h0m-5 7.4h0m-1.7 12.2h0m6.3-18h0m4.1 11h0m3.7-12.2h0m9.2 2.4h0m-11.4-0.3h0m16.1 0.5h0m-15.7 12.1h0m-18.7-16.8h0m-5.7 14.7h0m-3.6-4.7h0m9.3 1h0m-7-8.1h0m26.5 7.7h0m0.3-10.5h0m-3.6 4.5h0m-10.8 4.9h0m3.8-6.2h0m-9.6-3.4h0m31 1h0m-42.5 2.8h0m14.3-2.2h0m11.9-4.3h0m-18.4 17.9h0m31.7-14.7h0m-17.6 10.5h0m-5.2-8.3h0" stroke="#27a027" stroke-width="1.2" stroke-linecap="round" fill="none"/>
<path d="M222.3 14.8h0m10.3 17h0m14.5-8.9h0m-14.5 2.8h0m-11.1 0.9h0m25.1-3.5h0m-12.9-5h0m25.5 7.6h0m-7.3 2.8h0m1.4-9h0m8-2.2h0m-3.8 3.2h0m-22.6 11.5h0m11.3-11.2h0m-14.7 14.3h0m-2.7-14.8h0m0.2 3.6h0m-4.4 14.6h0m6 3.5h0m-0.7-13.3h0m21.1-13.4h0m-19.8 10.8h0m-9.7-0.8h0m17.7-9.8h0m-10.4 21.1h0m23-11h0m-22-5.9h0m15.8-3.7h0m-18 7.4h0m14.5-8.1h0m18.1 14.8h0m-26.6-10.2h0m10.6-4h0m-4.2 9h0m-17.4-8.2h0m-2.3 6.1h0m38.7 2.3h0m-23.6-7.1h0m16.3 8.3h0m-12.9 9h0m20-2.2h0m-30.3-11.6h0m13.6 8h0m3.1-12.7h0m11.5 4.9h0m-36 10.4h0m15.7-13.2h0m5.3 3.3h0m5.4 7.2h0m-21.1-6.2h0m19 17.5h0m7-21.7h0m1.9-0.3h0m-24-2.8h0m10.2 8.9h0m-6.7 1.2h0m4.2-8h0m-1.2 8.3h0m27.5 13.1h0m-43.9-22.8h0" stroke="#134f13" stroke-width="2.1" stroke-linecap="round" fill="none"/>
<path d="M222.3 14.8h0m10.3 17h0m14.5-8.9h0m-14.5 2.8h0m-11.1 0.9h0m25.1-3.5h0m-12.9-5h0m25.5 7.6h0m-7.3 2.8h0m1.4-9h0m8-2.2h0m-3.8 3.2h0m-22.6 11.5h0m11.3-11.2h0m-14.7 14.3h0m-2.7-14.8h0m0.2 3.6h0m-4.4 14.6h0m6 3.5h0m-0.7-13.3h0m21.1-13.4h0m-19.8 10.8h0m-9.7-0.8h0m17.7-9.8h0m-10.4 21.1h0m23-11h0m-22-5.9h0m15.8-3.7h0m-18 7.4h0m14.5-8.1h0m18.1 14.8h0m-26.6-10.2h0m10.6-4h0m-4.2 9h0m-17.4-8.2h0m-2.3 6.1h0m38.7 2.3h0m-23.6-7.1h0m16.3 8.3h0m-12.9 9h0m20-2.2h0m-30.3-11.6h0m13.6 8h0m3.1-12.7h0m11.5 4.9h0m-36 10.4h0m15.7-13.2h0m5.3 3.3h0m5.4 7.2h0m-21.1-6.2h0m19 17.5h0m7-21.7h0m1.9-0.3h0m-24-2.8h0m10.2 8.9h0m-6.7 1.2h0m4.2-8h0m-1.2 8.3h0m27.5 13.1h0m-43.9-22.8h0" stroke="#27a027" stroke-width="1.2" stroke-linecap="round" fill="none"/>
<path d="M264 38.1h0m-43.1-9.2h0m2.1-8.8h0m6.1-6.7h0m3.8 6.9h0m26.8-0.2h0m-0.7 6.4h0m4.4-7.7h0m-25.7 3h0m-17.6-5.4h0m28.7 2.7h0m12.9 6.6h0m-37.3-11h0m33.9 19.2h0m-38.9-6.4h0m34.4-11.5h0m-11.2 9.1h0m19.5-4.1h0m-1.5-2.1h0m-39.1 4.3h0m21.3 0.5h0m-12-6.2h0m9.2 2h0m-17.5 14.1h0m13.8-17.5h0m2.3 15.7h0m-19.1-16.2h0m22.2 13h0m19.8-14.6h0m-39.3 5.2h0m41.6 1.3h0m-21.4-5.4h0m-13.1 1.7h0m35.7 20h0m-23.3-8.4h0m-1.8 2.9h0m-2.8-2.6h0m23.8-12.1h0m-35.4 22.6h0m3.8 9.2h0m3.4-31.1h0m-10.4 4.8h0m36.8-0.4h0m-16.7-1h0m5.3 11.3h0m13.4-9.3h0m-18.4 1.9h0m-10.3-3.6h0m12-6.9h0m-1.5 26.8h0m-9.5-25.5h0m-3.1 3.4h0m5.9 2.9h0m17.8 5.1h0m-26.9-0.5h0m39.2-12.1h0m-35.9 10.1h0m1.8-8.8h0m-7.1 10.5h0m12.7 0.9h0" stroke="#134f13" stroke-width="2.1" stroke-linecap="round" fill="none"/>
<path d="M264 38.1h0m-43.1-9.2h0m2.1-8.8h0m6.1-6.7h0m3.8 6.9h0m26.8-0.2h0m-0.7 6.4h0m4.4-7.7h0m-25.7 3h0m-17.6-5.4h0m28.7 2.7h0m12.9 6.6h0m-37.3-11h0m33.9 19.2h0m-38.9-6.4h0m34.4-11.5h0m-11.2 9.1h0m19.5-4.1h0m-1.5-2.1h0m-39.1 4.3h0m21.3 0.5h0m-12-6.2h0m9.2 2h0m-17.5 14.1h0m13.8-17.5h0m2.3 15.7h0m-19.1-16.2h0m22.2 13h0m19.8-14.6h0m-39.3 5.2h0m41.6 1.3h0m-21.4-5.4h0m-13.1 1.7h0m35.7 20h0m-23.3-8.4h0m-1.8 2.9h0m-2.8-2.6h0m23.8-12.1h0m-35.4 22.6h0m3.8 9.2h0m3.4-31.1h0m-10.4 4.8h0m36.8-0.4h0m-16.7-1h0m5.3 11.3h0m13.4-9.3h0m-18.4 1.9h0m-10.3-3.6h0m12-6.9h0m-1.5 26.8h0m-9.5-25.5h0m-3.1 3.4h0m5.9 2.9h0m17.8 5.1h0m-26.9-0.5h0m39.2-12.1h0m-35.9 10.1h0m1.8-8.8h0m-7.1 10.5h0m12.7 0.9h0" stroke="#27a027" stroke-width="1.2" stroke-linecap="round" fill="none"/>
<path d="M236.9 14h0m14.6 2.5h0m10.1 3.1h0m-30.6 8.3h0m26.5 2h0m-23.6-4.7h0m4.6-6.4h0m-13.1 7.7h0m36-4.4h0m-24.5-2.2h0m15.5 10.4h0m-31.8-9.8h0m31.6 4.4h0m-22.2 5.9h0m10.6-10.1h0m10.5 2.3h0m-23.7-5.4h0m16.8 0.1h0m14.5-3h0m-31.7 3.9h0m14.4 0.8h0m-13.4 4.7h0m-1.9 1.2h0m16.3-7.8h0m-1.5 7.8h0m8.8 24.6h0m10.1-31.2h0m-7.2 0.6h0m-17.4-0.6h0m7 20.8h0m8.9-16.1h0m7.8-7.9h0m-7.4 10.5h0m-8.5-10.7h0m-17.4 6.6h0m34.6 7.9h0m-27.6-5.3h0m5.8-5.2h0m22.6-3.7h0m-31.9 1.9h0m33.3 8.9h0m-32.3-9h0m-6.6-1.3h0m20 6h0m13.3 10.3h0m-18.5-17h0m20.7 2.2h0m-21 0.3h0m19.7 3.4h0m-33 8.8h0m8-3.3h0m-7.6-4.2h0m29.1 6.6h0m-12.7-9.9h0m8.7 2.6h0m-19.6 17.3h0m23.4-9.5h0m12.1 1.9h0m-43 14.1h0m11.3-31.5h0" stroke="#134f13" stroke-width="2.1" stroke-linecap="round" fill="none"/>
<path d="M236.9 14h0m14.6 2.5h0m10.1 3.1h0m-30.6 8.3h0m26.5 2h0m-23.6-4.7h0m4.6-6.4h0m-13.1 7.7h0m36-4.4h0m-24.5-2.2h0m15.5 10.4h0m-31.8-9.8h0m31.6 4.4h0m-22.2 5.9h0m10.6-10.1h0m10.5 2.3h0m-23.7-5.4h0m16.8 0.1h0m14.5-3h0m-31.7 3.9h0m14.4 0.8h0m-13.4 4.7h0m-1.9 1.2h0m16.3-7.8h0m-1.5 7.8h0m8.8 24.6h0m10.1-31.2h0m-7.2 0.6h0m-17.4-0.6h0m7 20.8h0m8.9-16.1h0m7.8-7.9h0m-7.4 10.5h0m-8.5-10.7h0m-17.4 6.6h0m34.6 7.9h0m-27.6-5.3h0m5.8-5.2h0m22.6-3.7h0m-31.9 1.9h0m33.3 8.9h0m-32.3-9h0m-6.6-1.3h0m20 6h0m13.3 10.3h0m-18.5-17h0m20.7 2.2h0m-21 0.3h0m19.7 3.4h0m-33 8.8h0m8-3.3h0m-7.6-4.2h0m29.1 6.6h0m-12.7-9.9h0m8.7 2.6h0m-19.6 17.3h0m23.4-9.5h0m12.1 1.9h0m-43 14.1h0m11.3-31.5h0" stroke="#27a027" stroke-width="1.2" stroke-linecap="round" fill="none"/>
<path d="M260.3 47.3h0m-0.8-29.5h0m0.9 18h0m-30.4-16.8h0m15.9 26.8h0m-22.5-10.7h0m16.3-17.2h0m6.8 9.4h0m-15 1.4h0m7.7-9.4h0m-2.6 6.1h0m-13.3-5.6h0m-0.7 0.5h0m33.5 3.3h0m-36.6-1.4h0m46.3-5.1h0m-4.2 25.3h0m4.3-27.4h0m-9.5 7.5h0m-36.9-4.2h0m5.3 16.6h0m9.6-14.6h0m-6.5-1h0m-5.7 24.2h0m40.3-23.4h0m-0.3 1.5h0m-6.7-3.1h0m-24.2 7.8h0m28.2-0.5h0m-1.6-10.3h0m-23.3 10.2h0m-9.2-6.6h0m0.3 7h0m12.9-10.3h0m19.9 14.9h0m-35.6 2.5h0m16.7-12.8h0m-3.5 2.3h0m25.3 6.8h0m-34.8-13.9h0m23.6 5.9h0m-15.6 6.4h0m15.2-9.5h0m8.3-0.7h0m0.1 15.8h0m1-8.3h0m-26.1-4.9h0m-0.8-3.7h0m-7.2 10.5h0m6.3-10h0m-6.4 31.5h0m31.3-21.7h0m-34.7 6.3h0m6.8-9.2h0m28.2 15.5h0m-1.1-13.7h0m9.7-7.3h0m-27.8 7h0m-15.9-5.6h0m35.9 4.8h0" stroke="#134f13" stroke-width="2.1" stroke-linecap="round" fill="none"/>
<path d="M260.3 47.3h0m-0.8-29.5h0m0.9 18h0m-30.4-16.8h0m15.9 26.8h0m-22.5-10.7h0m16.3-17.2h0m6.8 9.4h0m-15 1.4h0m7.7-9.4h0m-2.6 6.1h0m-13.3-5.6h0m-0.7 0.5h0m33.5 3.3h0m-36.6-1.4h0m46.3-5.1h0m-4.2 25.3h0m4.3-27.4h0m-9.5 7.5h0m-36.9-4.2h0m5.3 16.6h0m9.6-14.6h0m-6.5-1h0m-5.7 24.2h0m40.3-23.4h0m-0.3 1.5h0m-6.7-3.1h0m-24.2 7.8h0m28.2-0.5h0m-1.6-10.3h0m-23.3 10.2h0m-9.2-6.6h0m0.3 7h0m12.9-10.3h0m19.9 14.9h0m-35.6 2.5h0m16.7-12.8h0m-3.5 2.3h0m25.3 6.8h0m-34.8-13.9h0m23.6 5.9h0m-15.6 6.4h0m15.2-9.5h0m8.3-0.7h0m0.1 15.8h0m1-8.3h0m-26.1-4.9h0m-0.8-3.7h0m-7.2 10.5h0m6.3-10h0m-6.4 31.5h0m31.3-21.7h0m-34.7 6.3h0m6.8-9.2h0m28.2 15.5h0m-1.1-13.7h0m9.7-7.3h0m-27.8 7h0m-15.9-5.6h0m35.9 4.8h0" stroke="#27a027" stroke-width="1.2" stroke-linecap="round" fill="none"/>
<path d="M232.8 22.7h0m23 0.7h0m-35.5-4.1h0m0.7-1.7h0m26.5 6.5h0m4.1-4.9h0m-5.8 12.4h0m-1.4 1h0m3.1-12.7h0m-22-2h0m-3.2 19.3h0m13.5-15.5h0m9.4-7.3h0m-14.1 6.2h0m-3.3 1.2h0m12.6 12.7h0m-1.8-5.4h0m-6.6-3.2h0m31-9.3h0m0.8 4.7h0m-42.2-1.8h0m20.4 17.3h0m-11.5-14.4h0m4.7 31.1h0m-14.5-28.5h0m2.4-3.9h0m-2.2 3.5h0m4.4-7.2h0m24.6 10.8h0m-26.9-12.7h0m38.1 20.4h0m-3.9-11.8h0m-25.2 6.2h0m19.9-14.7h0m12.3 33.1h0m-39.4-32.2h0m20.9 8.2h0m-4.4-8.5h0m-7.3 4.4h0m-1.1 6.2h0m-9.5-12.3h0m26.4 7h0m-21.1 3.7h0m10.6-6h0m23.8 10.3h0m-27.3-10.8h0m-1.6-2.8h0m29.1 4.8h0m-16.5-2.8h0m-0.6 4.4h0m-16.4 5.2h0m19.8-4.6h0m-12.4 1.3h0m7.8-1.1h0m-6.9 3.6h0m-14.9 7.1h0m37.5-18.2h0m-8.8 6.8h0m12.6-0.3h0m-30.7 14.3h0" stroke="#134f13" stroke-width="2.1" stroke-linecap="round" fill="none"/>
<path d="M232.8 22.7h0m23 0.7h0m-35.5-4.1h0m0.7-1.7h0m26.5 6.5h0m4.1-4.9h0m-5.8 12.4h0m-1.4 1h0m3.1-12.7h0m-22-2h0m-3.2 19.3h0m13.5-15.5h0m9.4-7.3h0m-14.1 6.2h0m-3.3 1.2h0m12.6 12.7h0m-1.8-5.4h0m-6.6-3.2h0m31-9.3h0m0.8 4.7h0m-42.2-1.8h0m20.4 17.3h0m-11.5-14.4h0m4.7 31.1h0m-14.5-28.5h0m2.4-3.9h0m-2.2 3.5h0m4.4-7.2h0m24.6 10.8h0m-26.9-12.7h0m38.1 20.4h0m-3.9-11.8h0m-25.2 6.2h0m19.9-14.7h0m12.3 33.1h0m-39.4-32.2h0m20.9 8.2h0m-4.4-8.5h0m-7.3 4.4h0m-1.1 6.2h0m-9.5-12.3h0m26.4 7h0m-21.1 3.7h0m10.6-6h0m23.8 10.3h0m-27.3-10.8h0m-1.6-2.8h0m29.1 4.8h0m-16.5-2.8h0m-0.6 4.4h0m-16.4 5.2h0m19.8-4.6h0m-12.4 1.3h0m7.8-1.1h0m-6.9 3.6h0m-14.9 7.1h0m37.5-18.2h0m-8.8 6.8h0m12.6-0.3h0m-30.7 14.3h0" stroke="#27a027" stroke-width="1.2" stroke-linecap="round" fill="none"/>
<path d="M232.6 33.1h0m-6.9-16.2h0m8 2.8h0m1-6.2h0m-6.7 13.2h0m3.8-3.7h0m1.4-0.4h0m26.6-6.6h0m-19.4 8.7h0m17.6-7.9h0m-36.3 12.4h0m6.5-9.7h0m36 25.2h0m-42.5-6.4h0m0.9-2.7h0m21.1-19.8h0m-10.7 15.9h0m-4.5-1.4h0m19.5-13.8h0m0 4.8h0m-19.8 0.3h0m16.5 7.9h0m-3.9 19.2h0m18.4-31.6h0m-36.6-2.4h0m7.7 14.4h0m15.7-12.2h0m-25.1 12.1h0m38.3-7.6h0m5.8 2.5h0m-30.2 8.4h0m21-8.2h0m-24.7 7.3h0m32.9-11.2h0m-34.7-1.4h0m-9.7 6.6h0m3-9.4h0m18.4 5.2h0m-19.8 5h0m44.3-3.9h0m-16.4 6.4h0m-3-4.1h0m2.7-9.7h0m-9.8 4.7h0m22.1-1.6h0m-8.2 15.4h0m-13.3 0.6h0m-6.9-15.7h0m-6.5 14h0m8-11.3h0m1.8 8.7h0m-12.9-14.4h0m39.8 14.7h0m-31.4-0.7h0m13.3-12.3h0m-22.3 9.9h0m22.9 8.5h0m4.4-12.5h0m-26.7 10.6h0m42.2-14.5h0" stroke="#134f13" stroke-width="2.1" stroke-linecap="round" fill="none"/>
<path d="M232.6 33.1h0m-6.9-16.2h0m8 2.8h0m1-6.2h0m-6.7 13.2h0m3.8-3.7h0m1.4-0.4h0m26.6-6.6h0m-19.4 8.7h0m17.6-7.9h0m-36.3 12.4h0m6.5-9.7h0m36 25.2h0m-42.5-6.4h0m0.9-2.7h0m21.1-19.8h0m-10.7 15.9h0m-4.5-1.4h0m19.5-13.8h0m0 4.8h0m-19.8 0.3h0m16.5 7.9h0m-3.9 19.2h0m18.4-31.6h0m-36.6-2.4h0m7.7 14.4h0m15.7-12.2h0m-25.1 12.1h0m38.3-7.6h0m5.8 2.5h0m-30.2 8.4h0m21-8.2h0m-24.7 7.3h0m32.9-11.2h0m-34.7-1.4h0m-9.7 6.6h0m3-9.4h0m18.4 5.2h0m-19.8 5h0m44.3-3.9h0m-16.4 6.4h0m-3-4.1h0m2.7-9.7h0m-9.8 4.7h0m22.1-1.6h0m-8.2 15.4h0m-13.3 0.6h0m-6.9-15.7h0m-6.5 14h0m8-11.3h0m1.8 8.7h0m-12.9-14.4h0m39.8 14.7h0m-31.4-0.7h0m13.3-12.3h0m-22.3 9.9h0m22.9 8.5h0m4.4-12.5h0m-26.7 10.6h0m42.2-14.5h0" stroke="#27a027" stroke-width="1.2" stroke-linecap="round" fill="none"/>
<path d="M227 15.4h0m4.7 1.8h0m22.3 12.1h0m-18.8-17.5h0m25.4 20.1h0m-30-9.5h0m3.5 8h0m17.9-7.3h0m7.9 0.2h0m1.1 4.7h0m-28.1 4.6h0m11.5 0.2h0m-5.7 1.5h0m12.5-5.6h0m-21.1-5.4h0m28.8 0.7h0m-6-10.8h0m-25.3 7.6h0m6.5 1.8h0m1.1 10.3h0m28 8.2h0m-22.4-25.7h0m7.6 0.7h0m14.8 1.7h0m-25.2 6h0m25.9 20.6h0m-30.8-28.7h0m-13.1 0.9h0m4.2-1.7h0m27.8 18.2h0m-14.7-13.3h0m21.3 1.7h0m-14.1-4.9h0m7.1 9.6h0m-15.6-5.3h0m11 1.8h0m5.2-4.9h0m-15.1 0.8h0m5.4 13.7h0m16.6-13.3h0m4 10.3h0m-27.2-7h0m-13.4-6.4h0m36.5 9.6h0m-18.6-7.3h0m24.6 5.2h0m-9.7 10.7h0m-18.6-12.7h0m22.7 0.8h0m-14.2 10.9h0m7.8-10.2h0m8-6.8h0m-14.3 5.9h0m17.3 6.8h0m-25.9-1.5h0m-0.9-2.9h0m12.3 3.3h0m-11.1-5.2h0m14.3-5.3h0m-8.3 2.1h0" stroke="#134f13" stroke-width="2.1" stroke-linecap="round" fill="none"/>
<path d="M227 15.4h0m4.7 1.8h0m22.3 12.1h0m-18.8-17.5h0m25.4 20.1h0m-30-9.5h0m3.5 8h0m17.9-7.3h0m7.9 0.2h0m1.1 4.7h0m-28.1 4.6h0m11.5 0.2h0m-5.7 1.5h0m12.5-5.6h0m-21.1-5.4h0m28.8 0.7h0m-6-10.8h0m-25.3 7.6h0m6.5 1.8h0m1.1 10.3h0m28 8.2h0m-22.4-25.7h0m7.6 0.7h0m14.8 1.7h0m-25.2 6h0m25.9 20.6h0m-30.8-28.7h0m-13.1 0.9h0m4.2-1.7h0m27.8 18.2h0m-14.7-13.3h0m21.3 1.7h0m-14.1-4.9h0m7.1 9.6h0m-15.6-5.3h0m11 1.8h0m5.2-4.9h0m-15.1 0.8h0m5.4 13.7h0m16.6-13.3h0m4 10.3h0m-27.2-7h0m-13.4-6.4h0m36.5 9.6h0m-18.6-7.3h0m24.6 5.2h0m-9.7 10.7h0m-18.6-12.7h0m22.7 0.8h0m-14.2 10.9h0m7.8-10.2h0m8-6.8h0m-14.3 5.9h0m17.3 6.8h0m-25.9-1.5h0m-0.9-2.9h0m12.3 3.3h0m-11.1-5.2h0m14.3-5.3h0m-8.3 2.1h0" stroke="#27a027" stroke-width="1.2" stroke-linecap="round" fill="none"/>
<path d="M254.3 15.1h0m3.9 13.6h0m-12.1-12.5h0m16.3-3.1h0m-6.3 25.9h0m3.6-19.6h0m-39.4 4.5h0m-0.2-4.9h0m29.1 4.9h0m-14.2-4.9h0m25.5 2.2h0m-22.7 2.9h0m16.6 1.5h0m-23.5-13.1h0m18.1 24.3h0m12.8-18.7h0m-1.8 11.5h0m-23.4 4.8h0m5.4-9.3h0m2.6-5.3h0m-9 7.8h0m6.5-7.8h0m22.7-2.8h0m-4-1.5h0m-26.6 14.2h0m17.4-5.2h0m12.4 12.1h0m-27.6-16.4h0m22.9 2.3h0m-2.4 0.7h0m4.2-3.8h0m-37.8 6.9h0m39.5-1h0m2.8 1.3h0m-34.9-9.5h0m18.5 4.1h0m-25.6 21.1h0m24.1-21h0m5-0.9h0m1.8-4.5h0m5.2 19.4h0m-26.5-4.8h0m-8.4-7.5h0m33-2.7h0m-37.2 11.2h0m9.7 0.3h0m0.2-9.1h0m25.4 2.3h0m-15.7-4.5h0m18.6 2.1h0m-8-1.7h0m8.3 2.7h0m-2.7-6.3h0m4.4 1.2h0m-28.4-0.2h0m3.7-1.3h0m12.8 7.1h0m-2.1 16h0m9.2-23.9h0m1.4 4h0" stroke="#134f13" stroke-width="2.1" stroke-linecap="round" fill="none"/>
<path d="M254.3 15.1h0m3.9 13.6h0m-12.1-12.5h0m16.3-3.1h0m-6.3 25.9h0m3.6-19.6h0m-39.4 4.5h0m-0.2-4.9h0m29.1 4.9h0m-14.2-4.9h0m25.5 2.2h0m-22.7 2.9h0m16.6 1.5h0m-23.5-13.1h0m18.1 24.3h0m12.8-18.7h0m-1.8 11.5h0m-23.4 4.8h0m5.4-9.3h0m2.6-5.3h0m-9 7.8h0m6.5-7.8h0m22.7-2.8h0m-4-1.5h0m-26.6 14.2h0m17.4-5.2h0m12.4 12.1h0m-27.6-16.4h0m22.9 2.3h0m-2.4 0.7h0m4.2-3.8h0m-37.8 6.9h0m39.5-1h0m2.8 1.3h0m-34.9-9.5h0m18.5 4.1h0m-25.6 21.1h0m24.1-21h0m5-0.9h0m1.8-4.5h0m5.2 19.4h0m-26.5-4.8h0m-8.4-7.5h0m33-2.7h0m-37.2 11.2h0m9.7 0.3h0m0.2-9.1h0m25.4 2.3h0m-15.7-4.5h0m18.6 2.1h0m-8-1.7h0m8.3 2.7h0m-2.7-6.3h0m4.4 1.2h0m-28.4-0.2h0m3.7-1.3h0m12.8 7.1h0m-2.1 16h0m9.2-23.9h0m1.4 4h0" stroke="#27a027" stroke-width="1.2" stroke-linecap="round" fill="none"/>
<path d="M233.7 15h0m-8.7 9.9h0m29.3-11.6h0m-2.6 8.3h0m-19.3-1.1h0m-10.4 2.4h0m-1.6 4.7h0m10.6-6.5h0m1.2 4.2h0m-3.1-5.9h0m-7.4-2.2h0m5.7 1.7h0m8.4 3.4h0m-12.1 3.3h0m5.4-1.4h0m10.9-7.9h0m19.3 14.4h0m1.1-6.3h0m-22-0.9h0m-13.1-2.3h0m6.7-0.8h0m19.1 4h0m-12.6-7.9h0m7.7-1.2h0m7.9 13.3h0m-3.7-10.9h0m9.4 2.2h0m-36.4-2.2h0m9.9 9h0m-12.3-10.1h0m22.9 5.8h0m4.4 5.6h0m-17 12.8h0m-9.3-6.2h0m19.2-12h0m-14 6.7h0m1.3-9.6h0m8.8 2.3h0m26.6 6.8h0m-27.6 8.1h0m16.5-18.2h0m-15.9 3.9h0m1.5 1.8h0m-12.5 1.8h0m2.1 0.3h0m27.6-4.7h0m-16-4.9h0m-6.8-2.3h0m33 12h0m-5.1-7.5h0m-28.9 0.4h0m8 1.3h0m6.3 0h0m-18.9-3h0m12.3 3.5h0m-6.8-3.4h0m24.8 6.6h0m-33.7-7.1h0m42.2-0.9h0m-35.6 2.5h0" stroke="#134f13" stroke-width="2.1" stroke-linecap="round" fill="none"/>
<path d="M233.7 15h0m-8.7 9.9h0m29.3-11.6h0m-2.6 8.3h0m-19.3-1.1h0m-10.4 2.4h0m-1.6 4.7h0m10.6-6.5h0m1.2 4.2h0m-3.1-5.9h0m-7.4-2.2h0m5.7 1.7h0m8.4 3.4h0m-12.1 3.3h0m5.4-1.4h0m10.9-7.9h0m19.3 14.4h0m1.1-6.3h0m-22-0.9h0m-13.1-2.3h0m6.7-0.8h0m19.1 4h0m-12.6-7.9h0m7.7-1.2h0m7.9 13.3h0m-3.7-10.9h0m9.4 2.2h0m-36.4-2.2h0m9.9 9h0m-12.3-10.1h0m22.9 5.8h0m4.4 5.6h0m-17 12.8h0m-9.3-6.2h0m19.2-12h0m-14 6.7h0m1.3-9.6h0m8.8 2.3h0m26.6 6.8h0m-27.6 8.1h0m16.5-18.2h0m-15.9 3.9h0m1.5 1.8h0m-12.5 1.8h0m2.1 0.3h0m27.6-4.7h0m-16-4.9h0m-6.8-2.3h0m33 12h0m-5.1-7.5h0m-28.9 0.4h0m8 1.3h0m6.3 0h0m-18.9-3h0m12.3 3.5h0m-6.8-3.4h0m24.8 6.6h0m-33.7-7.1h0m42.2-0.9h0m-35.6 2.5h0" stroke="#27a027" stroke-width="1.2" stroke-linecap="round" fill="none"/>
<path d="M234.9 23.3h0m-12-3.3h0m39.4 9.4h0m-3.9-5.2h0m-35.9-6.3h0m21.7 8.7h0m-6.5-3.3h0m10.2-3.3h0m-12.7-4.2h0m29.2 0h0m-34.8 10.7h0m28.4 0.5h0m-26-1.3h0m17.9-1.6h0m-10.4-4.8h0m4.6 17.6h0m-0.2-13.7h0m4.9 8.5h0m-26.2-9.4h0m-0.5 4.9h0m43-0.5h0m-33.8-8.8h0m4.9-0.7h0m-5.6 9.1h0m19.2 5.7h0m15.9-5.4h0m-27.4-6h0m-3.8-6.2h0m1.3 4.2h0m-15.2 11.2h0m3-3.8h0m-2-5.1h0m13 9.3h0m31.1-9.6h0m-39.7-2.6h0m19.2 4.2h0m-16.1-2.9h0m-8 9.8h0m37.7-10.8h0m-33.5 8.7h0m0.4 6.1h0m32.1-11.6h0m-27-4.8h0m-2.1 14.6h0m35.1-4.3h0m-35.3 4h0m30-8.4h0m-24.7 2.9h0m12.2-4.6h0m-12 4.7h0m1.3-2.7h0m28-1.3h0m-1.2-6.1h0m-34.5 3.5h0m25.9 1.9h0m-27.6 2h0m7.5 2.1h0m-10.7-2.2h0m27.2 7.1h0m3.7 10.4h0" stroke="#134f13" stroke-width="2.1" stroke-linecap="round" fill="none"/>
<path d="M234.9 23.3h0m-12-3.3h0m39.4 9.4h0m-3.9-5.2h0m-35.9-6.3h0m21.7 8.7h0m-6.5-3.3h0m10.2-3.3h0m-12.7-4.2h0m29.2 0h0m-34.8 10.7h0m28.4 0.5h0m-26-1.3h0m17.9-1.6h0m-10.4-4.8h0m4.6 17.6h0m-0.2-13.7h0m4.9 8.5h0m-26.2-9.4h0m-0.5 4.9h0m43-0.5h0m-33.8-8.8h0m4.9-0.7h0m-5.6 9.1h0m19.2 5.7h0m15.9-5.4h0m-27.4-6h0m-3.8-6.2h0m1.3 4.2h0m-15.2 11.2h0m3-3.8h0m-2-5.1h0m13 9.3h0m31.1-9.6h0m-39.7-2.6h0m19.2 4.2h0m-16.1-2.9h0m-8 9.8h0m37.7-10.8h0m-33.5 8.7h0m0.4 6.1h0m32.1-11.6h0m-27-4.8h0m-2.1 14.6h0m35.1-4.3h0m-35.3 4h0m30-8.4h0m-24.7 2.9h0m12.2-4.6h0m-12 4.7h0m1.3-2.7h0m28-1.3h0m-1.2-6.1h0m-34.5 3.5h0m25.9 1.9h0m-27.6 2h0m7.5 2.1h0m-10.7-2.2h0m27.2 7.1h0m3.7 10.4h0" stroke="#27a027" stroke-width="1.2" stroke-linecap="round" fill="none"/>
<path d="M254.5 21.2h0m1.3 9.3h0m-17.9-6.3h0m-10.2-0.4h0m-8.1-1h0m20.5-7.8h0m23.2 16.3h0m-22.8-17.3h0m7.9 11.6h0m14.1 4h0m-2.5-1.8h0m-5.8-11.5h0m-7 0.1h0m-16.9 8.7h0m24.3-8.7h0m-15.6 17.2h0m13.6 6.1h0m-22.7-18.4h0m33.8 0.8h0m-36.6 0.1h0m29.5 22.4h0m4.7-26.5h0m-34.8 1.7h0m33.6 6.3h0m-10.4-7.7h0m-1.9 10.3h0m-16.5 20h0m3.5-21.7h0m-4.4-7.8h0m9.7 6h0m9.8-4.4h0m3.8-2.9h0m-1.1 11h0m-16.9 6.9h0m-0.5-8.3h0m20.1 14.2h0m9.9-21.2h0m-35.4 0.4h0m9-3.9h0m-6.4 4.9h0m32.9 12.9h0m-45.2-13.1h0m41.3-1.6h0m-5.9 7h0m-20.5 8h0m16.4-9.5h0m-14.6-3.9h0m12.5 17h0m-9.9-11.5h0m23 8.5h0m-21.5-16h0m16.7 1.3h0m-11.1-2.6h0m-9.6-2.7h0m28 2.2h0m-36.3 7.8h0m33.5 5.6h0m3.5-9.7h0m-6.3-2.4h0m-11.2 15.4h0" stroke="#134f13" stroke-width="2.1" stroke-linecap="round" fill="none"/>
<path d="M254.5 21.2h0m1.3 9.3h0m-17.9-6.3h0m-10.2-0.4h0m-8.1-1h0m20.5-7.8h0m23.2 16.3h0m-22.8-17.3h0m7.9 11.6h0m14.1 4h0m-2.5-1.8h0m-5.8-11.5h0m-7 0.1h0m-16.9 8.7h0m24.3-8.7h0m-15.6 17.2h0m13.6 6.1h0m-22.7-18.4h0m33.8 0.8h0m-36.6 0.1h0m29.5 22.4h0m4.7-26.5h0m-34.8 1.7h0m33.6 6.3h0m-10.4-7.7h0m-1.9 10.3h0m-16.5 20h0m3.5-21.7h0m-4.4-7.8h0m9.7 6h0m9.8-4.4h0m3.8-2.9h0m-1.1 11h0m-16.9 6.9h0m-0.5-8.3h0m20.1 14.2h0m9.9-21.2h0m-35.4 0.4h0m9-3.9h0m-6.4 4.9h0m32.9 12.9h0m-45.2-13.1h0m41.3-1.6h0m-5.9 7h0m-20.5 8h0m16.4-9.5h0m-14.6-3.9h0m12.5 17h0m-9.9-11.5h0m23 8.5h0m-21.5-16h0m16.7 1.3h0m-11.1-2.6h0m-9.6-2.7h0m28 2.2h0m-36.3 7.8h0m33.5 5.6h0m3.5-9.7h0m-6.3-2.4h0m-11.2 15.4h0" stroke="#27a027" stroke-width="1.2" stroke-linecap="round" fill="none"/>
<path d="M248.7 16.2h0m14.4 11.3h0m-23.4-8.1h0m18.5-4.7h0m-2.4 7.6h0m4 0.1h0m-19.7-5.5h0m10-3.4h0m-26.4 12h0m-1-6.7h0m1.7 24.5h0m29.6-17.1h0m-17.9-7.7h0m26-2.3h0m-39 7.9h0m4.4-4.2h0m31.2-1.3h0m-19.6 11.4h0m-9.4-9.8h0m26.4 9.1h0m-25.7-9.7h0m34.8 5.4h0m-32.9-1.2h0m27.5 8.7h0m-17.9-1.5h0m21.5-13.2h0m-30.1 11.8h0m29.6 14.3h0m-29.3-25.9h0m6.9 11.5h0m8.6-6.5h0m-3.6 2.9h0m6.6-9.8h0m-20.1 9.6h0m-12.2-9.1h0m33.6 6.9h0m-5.8 5.6h0m-1.7-7.4h0m-3.2-2.9h0m20.4 13.6h0m-29.8-4.5h0m29-9.4h0m-35 7.9h0m24.8-14.6h0m11.6 14.3h0m-37.1-6.6h0m29 15.2h0m-23.4-13h0m-10.1-7.3h0m17.6 36.2h0m12.6-27.9h0m-19.6 1.9h0m31.4-8.4h0m-44.6 26.4h0m12.5-5.3h0m3.4 1.9h0m1.4-11.8h0m-3.3 6.2h0m-13.1-1.7h0m8.8-14.5h0" stroke="#134f13" stroke-width="2.1" stroke-linecap="round" fill="none"/>
<path d="M248.7 16.2h0m14.4 11.3h0m-23.4-8.1h0m18.5-4.7h0m-2.4 7.6h0m4 0.1h0m-19.7-5.5h0m10-3.4h0m-26.4 12h0m-1-6.7h0m1.7 24.5h0m29.6-17.1h0m-17.9-7.7h0m26-2.3h0m-39 7.9h0m4.4-4.2h0m31.2-1.3h0m-19.6 11.4h0m-9.4-9.8h0m26.4 9.1h0m-25.7-9.7h0m34.8 5.4h0m-32.9-1.2h0m27.5 8.7h0m-17.9-1.5h0m21.5-13.2h0m-30.1 11.8h0m29.6 14.3h0m-29.3-25.9h0m6.9 11.5h0m8.6-6.5h0m-3.6 2.9h0m6.6-9.8h0m-20.1 9.6h0m-12.2-9.1h0m33.6 6.9h0m-5.8 5.6h0m-1.7-7.4h0m-3.2-2.9h0m20.4 13.6h0m-29.8-4.5h0m29-9.4h0m-35 7.9h0m24.8-14.6h0m11.6 14.3h0m-37.1-6.6h0m29 15.2h0m-23.4-13h0m-10.1-7.3h0m17.6 36.2h0m12.6-27.9h0m-19.6 1.9h0m31.4-8.4h0m-44.6 26.4h0m12.5-5.3h0m3.4 1.9h0m1.4-11.8h0m-3.3 6.2h0m-13.1-1.7h0m8.8-14.5h0" stroke="#27a027" stroke-width="1.2" stroke-linecap="round" fill="none"/>
<path d="M231.7 34.9h0m19.3-21h0m-13.9 12.7h0m16.3 5.5h0m-13.2-16.7h0m-4.8 18h0m-8.6-7.2h0m3.3-2h0m31.7-4h0m-21 3.5h0m-6.7 7.7h0m-4.5-10.3h0m31-1.2h0m-8.1 12.9h0m-0.4-18.9h0m5.1 18.7h0m-26.5-17.5h0m23.1 7.1h0m-31.1 13.3h0m28-2.5h0m-16.2-12.8h0m16 13h0m-20.5-3.8h0m6-15.9h0m14.9 12.5h0m12.7-6.7h0m-28.2 24.9h0m-8.1-23.1h0m-2.1 26.3h0m25.8-19.2h0m10.5 5.1h0m-41.4-2.7h0m15.5-5.7h0m-8.3-5.3h0m37-2.2h0m-38.7 2.5h0m-3-3.6h0m32.9 6h0m10.9 1.4h0m-10.6-1.8h0m-31.1 11.4h0m13.9-12.8h0m5.2 13.9h0m17.9-7.6h0m-6.9 14.2h0m-32.6-13.2h0m18.5 6.9h0m15.3-4.1h0m-11.1-6.6h0m5.9 10.3h0m14.1-17.5h0m0.5 8.9h0m-6.6-1.3h0m-12.5 9.7h0m-12.5-19.5h0m-6.9 10.1h0m0.3 2.7h0m22.3 4h0m6.3-12.2h0m4-2.1h0" stroke="#134f13" stroke-width="2.1" stroke-linecap="round" fill="none"/>
<path d="M231.7 34.9h0m19.3-21h0m-13.9 12.7h0m16.3 5.5h0m-13.2-16.7h0m-4.8 18h0m-8.6-7.2h0m3.3-2h0m31.7-4h0m-21 3.5h0m-6.7 7.7h0m-4.5-10.3h0m31-1.2h0m-8.1 12.9h0m-0.4-18.9h0m5.1 18.7h0m-26.5-17.5h0m23.1 7.1h0m-31.1 13.3h0m28-2.5h0m-16.2-12.8h0m16 13h0m-20.5-3.8h0m6-15.9h0m14.9 12.5h0m12.7-6.7h0m-28.2 24.9h0m-8.1-23.1h0m-2.1 26.3h0m25.8-19.2h0m10.5 5.1h0m-41.4-2.7h0m15.5-5.7h0m-8.3-5.3h0m37-2.2h0m-38.7 2.5h0m-3-3.6h0m32.9 6h0m10.9 1.4h0m-10.6-1.8h0m-31.1 11.4h0m13.9-12.8h0m5.2 13.9h0m17.9-7.6h0m-6.9 14.2h0m-32.6-13.2h0m18.5 6.9h0m15.3-4.1h0m-11.1-6.6h0m5.9 10.3h0m14.1-17.5h0m0.5 8.9h0m-6.6-1.3h0m-12.5 9.7h0m-12.5-19.5h0m-6.9 10.1h0m0.3 2.7h0m22.3 4h0m6.3-12.2h0m4-2.1h0" stroke="#27a027" stroke-width="1.2" stroke-linecap="round" fill="none"/>
<path d="M262.4 25.7h0m-29.5-9.2h0m2.2 5.8h0m-6.5-0.1h0m16.4 2h0m18.9 9.9h0m-8.9-1.2h0m-15.1-7.4h0m-13.1 4.1h0m32.2-5h0m2.6 1.2h0m-6.1 0.3h0m-22.4-8.2h0m4.6 7.4h0m9.1 18.4h0m15.8-20.9h0m-31.8 4.8h0m8.3-10.1h0m-16.9 2.4h0m-2.7-4.6h0m11.3 1.6h0m26.7 20.5h0m-6.3-11.5h0m-9.4-11.3h0m-3.2 20.8h0m-6.8-16.5h0m23.6-0.5h0m-13.1 21.1h0m-19.7-15.1h0m26.3 21.8h0m17.2-23.1h0m-43.3-2.8h0m43.5 0h0m-42.3 3.9h0m9.8-2.6h0m31.5 7.6h0m-0.2-6.6h0m-37.1 21.3h0m25.3-23.4h0m-5.1 4.4h0m-10.1 18.3h0m18.2-11.4h0m-7.1 8.7h0m-19.2-2.7h0m12.4-14.5h0m10.4-2.7h0m-4.2-5.9h0m-3.7 8.2h0m9.2 0.1h0m-28.4 3.3h0m-4.3 15.7h0m-0.5-20.3h0m27.7 1.2h0m-8.8 2.6h0m18.9-3.2h0m6.4-1.4h0m-40.5-2.9h0m12.6 5.6h0m1.9 2.6h0m6-8h0" stroke="#134f13" stroke-width="2.1" stroke-linecap="round" fill="none"/>
<path d="M262.4 25.7h0m-29.5-9.2h0m2.2 5.8h0m-6.5-0.1h0m16.4 2h0m18.9 9.9h0m-8.9-1.2h0m-15.1-7.4h0m-13.1 4.1h0m32.2-5h0m2.6 1.2h0m-6.1 0.3h0m-22.4-8.2h0m4.6 7.4h0m9.1 18.4h0m15.8-20.9h0m-31.8 4.8h0m8.3-10.1h0m-16.9 2.4h0m-2.7-4.6h0m11.3 1.6h0m26.7 20.5h0m-6.3-11.5h0m-9.4-11.3h0m-3.2 20.8h0m-6.8-16.5h0m23.6-0.5h0m-13.1 21.1h0m-19.7-15.1h0m26.3 21.8h0m17.2-23.1h0m-43.3-2.8h0m43.5 0h0m-42.3 3.9h0m9.8-2.6h0m31.5 7.6h0m-0.2-6.6h0m-37.1 21.3h0m25.3-23.4h0m-5.1 4.4h0m-10.1 18.3h0m18.2-11.4h0m-7.1 8.7h0m-19.2-2.7h0m12.4-14.5h0m10.4-2.7h0m-4.2-5.9h0m-3.7 8.2h0m9.2 0.1h0m-28.4 3.3h0m-4.3 15.7h0m-0.5-20.3h0m27.7 1.2h0m-8.8 2.6h0m18.9-3.2h0m6.4-1.4h0m-40.5-2.9h0m12.6 5.6h0m1.9 2.6h0m6-8h0" stroke="#27a027" stroke-width="1.2" stroke-linecap="round" fill="none"/>
<path d="M262.2 21.2h0m-14.6 4h0m-13.9-5.9h0m16.9 10.1h0m-15.8 2.8h0m10.7-10.2h0m0.4 9.4h0m-4-6.1h0m7.9 2.3h0m-3.8 6.4h0m0.3 4.6h0m7.8-11.2h0m0.7-1.8h0m-6.1-6.5h0m3.1-0.6h0m-13.6 3.6h0m-14.8-1.9h0m39.4-0.1h0m-4.5-1.6h0m7 12h0m-24.3-13h0m20 0.1h0m-0.6 5h0m-15.1-3.1h0m16.5 1.6h0m-4.1 24.3h0m-33.5-23.4h0m1.5 3h0m12.8-7.9h0m11.6 4.4h0m-4.2 11.5h0m14.7-6.8h0m-3.5 2.2h0m-32.9-7.8h0m11.1-6.4h0m25.9 4.2h0m-6.3 18.2h0m-34.8-10.4h0m28.8 1.6h0m-23.6-6h0m17.8 2.5h0m23.1-2.1h0m-43.3-4.4h0m35.2 8.6h0m-16-8.7h0m23.4-1.2h0m-5.7 5.7h0m-37.4-1.1h0m27.2-1.6h0m10.3 4.2h0m-27.4 4h0m20 6.9h0m-21.2-13h0m-2.3-2h0m6 8.2h0m-1.8-2h0m31.5-2.7h0m-34.3 6.9h0m8.9 10.1h0m2.9-13.4h0" stroke="#134f13" stroke-width="2.1" stroke-linecap="round" fill="none"/>
<path d="M262.2 21.2h0m-14.6 4h0m-13.9-5.9h0m16.9 10.1h0m-15.8 2.8h0m10.7-10.2h0m0.4 9.4h0m-4-6.1h0m7.9 2.3h0m-3.8 6.4h0m0.3 4.6h0m7.8-11.2h0m0.7-1.8h0m-6.1-6.5h0m3.1-0.6h0m-13.6 3.6h0m-14.8-1.9h0m39.4-0.1h0m-4.5-1.6h0m7 12h0m-24.3-13h0m20 0.1h0m-0.6 5h0m-15.1-3.1h0m16.5 1.6h0m-4.1 24.3h0m-33.5-23.4h0m1.5 3h0m12.8-7.9h0m11.6 4.4h0m-4.2 11.5h0m14.7-6.8h0m-3.5 2.2h0m-32.9-7.8h0m11.1-6.4h0m25.9 4.2h0m-6.3 18.2h0m-34.8-10.4h0m28.8 1.6h0m-23.6-6h0m17.8 2.5h0m23.1-2.1h0m-43.3-4.4h0m35.2 8.6h0m-16-8.7h0m23.4-1.2h0m-5.7 5.7h0m-37.4-1.1h0m27.2-1.6h0m10.3 4.2h0m-27.4 4h0m20 6.9h0m-21.2-13h0m-2.3-2h0m6 8.2h0m-1.8-2h0m31.5-2.7h0m-34.3 6.9h0m8.9 10.1h0m2.9-13.4h0" stroke="#27a027" stroke-width="1.2" stroke-linecap="round" fill="none"/>
<path d="M251.9 18.7h0m13.1-5.3h0m-16.7 15.5h0m11.6-5.3h0m-34.4 0.6h0m25 20.1h0m-23-12.9h0m32.9-6.3h0m-13-1.8h0m-21.6-8.7h0m33.6 11.9h0m-15.3-4.2h0m-1.9 4.6h0m-19 10h0m38.9-18.2h0m-18.5 7.1h0m16.5-11h0m-37.2-1.7h0m28.5 14.5h0m-14.4 2.2h0m7.6-12.7h0m4.2 15h0m9.4-9.2h0m4.6 11.6h0m-35.6-14.6h0m32.6-1.2h0m-34.9 15.6h0m-5 2.5h0m13.6-16.5h0m-0.7 18.1h0m22.9-12.4h0m-10-9.2h0m-8.1 3.8h0m19 2.8h0m6.8 0.9h0m-13.8 7.4h0m0.5-14.8h0m9.8-1.1h0m-26.8 16.2h0m33.2 13.8h0m-38.7-28.6h0m-6.1 17.3h0m36.6-18.5h0m-30.5 13.1h0m7.6-10.1h0m8.3 0.4h0m-18.9 4.1h0m14.7-6h0m-3.3 25.6h0m-12.6-21.8h0m24.4 6.7h0m-7.2-5h0m-13.7 5.7h0m29.6-9.3h0m-17.8 25.7h0m-18.1-19.1h0m40.2-1.1h0m-22.2-2.4h0m-14.9 2.8h0m9.3-3.5h0" stroke="#134f13" stroke-width="2.1" stroke-linecap="round" fill="none"/>
<path d="M251.9 18.7h0m13.1-5.3h0m-16.7 15.5h0m11.6-5.3h0m-34.4 0.6h0m25 20.1h0m-23-12.9h0m32.9-6.3h0m-13-1.8h0m-21.6-8.7h0m33.6 11.9h0m-15.3-4.2h0m-1.9 4.6h0m-19 10h0m38.9-18.2h0m-18.5 7.1h0m16.5-11h0m-37.2-1.7h0m28.5 14.5h0m-14.4 2.2h0m7.6-12.7h0m4.2 15h0m9.4-9.2h0m4.6 11.6h0m-35.6-14.6h0m32.6-1.2h0m-34.9 15.6h0m-5 2.5h0m13.6-16.5h0m-0.7 18.1h0m22.9-12.4h0m-10-9.2h0m-8.1 3.8h0m19 2.8h0m6.8 0.9h0m-13.8 7.4h0m0.5-14.8h0m9.8-1.1h0m-26.8 16.2h0m33.2 13.8h0m-38.7-28.6h0m-6.1 17.3h0m36.6-18.5h0m-30.5 13.1h0m7.6-10.1h0m8.3 0.4h0m-18.9 4.1h0m14.7-6h0m-3.3 25.6h0m-12.6-21.8h0m24.4 6.7h0m-7.2-5h0m-13.7 5.7h0m29.6-9.3h0m-17.8 25.7h0m-18.1-19.1h0m40.2-1.1h0m-22.2-2.4h0m-14.9 2.8h0m9.3-3.5h0" stroke="#27a027" stroke-width="1.2" stroke-linecap="round" fill="none"/>
<path d="M231.4 20.3h0m-10 0h0m13.5 7.7h0m-7.6 4.5h0m2.1-5.4h0m21.7-5.4h0m-24.3 4.1h0m-6.4 5.5h0m7.4-5.1h0m5.5 16.5h0m-6.2-18.2h0m20.4 1h0m13.3-5.5h0m-2.3-1h0m-17 6.8h0m14.8-2.7h0m0.3 6.4h0m-7.4-6.8h0m8 0.9h0m-20 20.7h0m17.4-14.7h0m-10.6 3.1h0m10.1-10.8h0m0.1-3.1h0m-31.7 4h0m36.1 10.8h0m-37.6-17.3h0m18.5 8h0m7.7 14.9h0m10.9-16h0m-36 3.7h0m28.9 2.6h0m-15.4-12.9h0m-14.3 21.4h0m13.7-16.2h0m14.5-0.4h0m-26.2-6.5h0m36 2.3h0m-37.9-3.8h0m9.2 22.2h0m4.3 1.5h0m-12.5-19h0m40.5 16.4h0m2-8.8h0m-2.9-8.3h0m-33.3 0.9h0m29.9-1.7h0m-25.6 10.3h0m18.8 18.6h0m-28.4-20.2h0m-3.8-11.2h0m43.6 6.5h0m-27.2 1.2h0m20.8-4h0m-17.4-0.4h0m-15.7 10.7h0m18-7.4h0m-14.3-2.4h0m-4.2-0.6h0m-3 10.7h0" stroke="#134f13" stroke-width="2.1" stroke-linecap="round" fill="none"/>
<path d="M231.4 20.3h0m-10 0h0m13.5 7.7h0m-7.6 4.5h0m2.1-5.4h0m21.7-5.4h0m-24.3 4.1h0m-6.4 5.5h0m7.4-5.1h0m5.5 16.5h0m-6.2-18.2h0m20.4 1h0m13.3-5.5h0m-2.3-1h0m-17 6.8h0m14.8-2.7h0m0.3 6.4h0m-7.4-6.8h0m8 0.9h0m-20 20.7h0m17.4-14.7h0m-10.6 3.1h0m10.1-10.8h0m0.1-3.1h0m-31.7 4h0m36.1 10.8h0m-37.6-17.3h0m18.5 8h0m7.7 14.9h0m10.9-16h0m-36 3.7h0m28.9 2.6h0m-15.4-12.9h0m-14.3 21.4h0m13.7-16.2h0m14.5-0.4h0m-26.2-6.5h0m36 2.3h0m-37.9-3.8h0m9.2 22.2h0m4.3 1.5h0m-12.5-19h0m40.5 16.4h0m2-8.8h0m-2.9-8.3h0m-33.3 0.9h0m29.9-1.7h0m-25.6 10.3h0m18.8 18.6h0m-28.4-20.2h0m-3.8-11.2h0m43.6 6.5h0m-27.2 1.2h0m20.8-4h0m-17.4-0.4h0m-15.7 10.7h0m18-7.4h0m-14.3-2.4h0m-4.2-0.6h0m-3 10.7h0" stroke="#27a027" stroke-width="1.2" stroke-linecap="round" fill="none"/>
<path d="M238.2 28h0m-6.7 15.1h0m3.7-25.7h0m29.4 10.7h0m-6.2 1.9h0m-5.8-9.1h0m-21.8-3.3h0m23.9 0.6h0m-2.5 4.3h0m-8-8.2h0m-13.6 14.5h0m-1.5-4.6h0m10-3.9h0m-6.7 3.7h0m28.6 0.4h0m-19.7 4.2h0m10-3.6h0m10.3-7.2h0m-13 2.4h0m-21.7 3.4h0m7.5-0.6h0m28.4 16.2h0m-41.3-18.5h0m8.3 1.1h0m18.7-0.1h0m11.1-4.9h0m-1.6 5.9h0m-4.2-3.2h0m-1.4 3.7h0m-15.5-5.7h0m-14.7 5.2h0m27.1 1.8h0m-26.5-5.4h0m34.2 4.3h0m-31.5-6.8h0m-5 2.3h0m45.9 22.5h0m-39.2-22.4h0m19.6 8.9h0m-24.6 4.8h0m43.3-16.6h0m-45.4 6.1h0m31.7-3.6h0m7.3 6.5h0m-25.8-4h0m-13.6 6.2h0m1.4-11.6h0m1.1 1.3h0m32.7 7.9h0m-10.7-0.6h0m17.4-9.2h0m-12.5 23.8h0m-1.8-17.5h0m-18.4 1.6h0m1-5.5h0m35.5 3.9h0m-1.2 5h0m-24.2 4.3h0m16.8-10h0m-24.4 9.6h0" stroke="#134f13" stroke-width="2.1" stroke-linecap="round" fill="none"/>
<path d="M238.2 28h0m-6.7 15.1h0m3.7-25.7h0m29.4 10.7h0m-6.2 1.9h0m-5.8-9.1h0m-21.8-3.3h0m23.9 0.6h0m-2.5 4.3h0m-8-8.2h0m-13.6 14.5h0m-1.5-4.6h0m10-3.9h0m-6.7 3.7h0m28.6 0.4h0m-19.7 4.2h0m10-3.6h0m10.3-7.2h0m-13 2.4h0m-21.7 3.4h0m7.5-0.6h0m28.4 16.2h0m-41.3-18.5h0m8.3 1.1h0m18.7-0.1h0m11.1-4.9h0m-1.6 5.9h0m-4.2-3.2h0m-1.4 3.7h0m-15.5-5.7h0m-14.7 5.2h0m27.1 1.8h0m-26.5-5.4h0m34.2 4.3h0m-31.5-6.8h0m-5 2.3h0m45.9 22.5h0m-39.2-22.4h0m19.6 8.9h0m-24.6 4.8h0m43.3-16.6h0m-45.4 6.1h0m31.7-3.6h0m7.3 6.5h0m-25.8-4h0m-13.6 6.2h0m1.4-11.6h0m1.1 1.3h0m32.7 7.9h0m-10.7-0.6h0m17.4-9.2h0m-12.5 23.8h0m-1.8-17.5h0m-18.4 1.6h0m1-5.5h0m35.5 3.9h0m-1.2 5h0m-24.2 4.3h0m16.8-10h0m-24.4 9.6h0" stroke="#27a027" stroke-width="1.2" stroke-linecap="round" fill="none"/>
<path d="M228.8 29.3h0m25.8 16.3h0m10.1-23h0m1 4.6h0m-29.5-13.9h0m-13.8 1.7h0m12 6.6h0m-11.8 0.5h0m43.3-2.3h0m-32.1-0.9h0m25.5 9.8h0m-28.3 1.3h0m33.6-7.8h0m-22.2 3.6h0m16.2-1.7h0m-11 0.8h0m7.8-8.9h0m-32.6 4.5h0m0.7-3.2h0m12.7 19.2h0m24.5-19.9h0m1.5 4.8h0m-9.4-0.1h0m-5.2 1.7h0m-25.9-8.4h0m41.4 27.6h0m-12.7-19.3h0m-2 3.4h0m10.6-1.4h0m-28.5-6.1h0m18 4.3h0m3 10.8h0m3.5-17.9h0m-31.2 6.3h0m29.9 1.6h0m8.2-3.1h0m-13-2h0m-21.5 9.6h0m35.2-5h0m-38.4 20.6h0m6-18h0m29.4 11.5h0m-12.5-8.5h0m-11.9-10.5h0m22 3.3h0m-7.4 1.3h0m-24.9-0.6h0m5.4 7.2h0m27.2-5.1h0m0.1-2.2h0m-34.8-4.5h0m21.1 19.3h0m9-17.3h0m-18.2-2.1h0m-12.4-1.4h0m16.7 9.4h0m24.4 5.6h0m-9.7 2.5h0m-24.3-20.2h0m29.7 19.4h0" stroke="#134f13" stroke-width="2.1" stroke-linecap="round" fill="none"/>
<path d="M228.8 29.3h0m25.8 16.3h0m10.1-23h0m1 4.6h0m-29.5-13.9h0m-13.8 1.7h0m12 6.6h0m-11.8 0.5h0m43.3-2.3h0m-32.1-0.9h0m25.5 9.8h0m-28.3 1.3h0m33.6-7.8h0m-22.2 3.6h0m16.2-1.7h0m-11 0.8h0m7.8-8.9h0m-32.6 4.5h0m0.7-3.2h0m12.7 19.2h0m24.5-19.9h0m1.5 4.8h0m-9.4-0.1h0m-5.2 1.7h0m-25.9-8.4h0m41.4 27.6h0m-12.7-19.3h0m-2 3.4h0m10.6-1.4h0m-28.5-6.1h0m18 4.3h0m3 10.8h0m3.5-17.9h0m-31.2 6.3h0m29.9 1.6h0m8.2-3.1h0m-13-2h0m-21.5 9.6h0m35.2-5h0m-38.4 20.6h0m6-18h0m29.4 11.5h0m-12.5-8.5h0m-11.9-10.5h0m22 3.3h0m-7.4 1.3h0m-24.9-0.6h0m5.4 7.2h0m27.2-5.1h0m0.1-2.2h0m-34.8-4.5h0m21.1 19.3h0m9-17.3h0m-18.2-2.1h0m-12.4-1.4h0m16.7 9.4h0m24.4 5.6h0m-9.7 2.5h0m-24.3-20.2h0m29.7 19.4h0" stroke="#27a027" stroke-width="1.2" stroke-linecap="round" fill="none"/>
<path d="M250.8 22.1h0m-17.8-0.8h0m-1 0.1h0m-4.3 4.9h0m10.7 5.5h0m-2.1-8.4h0m-3.5-4.6h0m27.7 14h0m-5.3-9.8h0m-12.6 2.7h0m22.1-5.4h0m-13.6 3.4h0m13.1 3.5h0m-6-7.2h0m-9-4.8h0m2.8 6.3h0m3.8-4.9h0m-0.8 2.5h0m5.5 14.5h0m-25.1-12.8h0m1.1-4.1h0m-5.5 1.5h0m31.8 5.3h0m-0.9-0.9h0m-21.7-2.4h0m-2 5.7h0m-12.6-8.3h0m39.7 20.3h0m-14.3-10.9h0m13.7 26.7h0m-15.6-25.2h0m-5.5-4.4h0m11-4.6h0m6.5 1.8h0m-2-5.4h0m-23.5 16.4h0m7.6-14.4h0m20.6 34.2h0m-20.6-32.5h0m13.9 30.8h0m-13-32.6h0m14.5 5.1h0m-36-5.8h0m-3.2 2.1h0m4.2 4h0m16.3-8.4h0m-3.2 13.7h0m27.8-5.1h0m1.8-5.4h0m-40.6 2.8h0m32.9-1.1h0m0.4 3.4h0m-22.3 0h0m19-6.3h0m-36.1 15.1h0m21.8-5.6h0m-6.4-1.7h0m-3.8-8.5h0m2.3 7.7h0m5.6 9h0" stroke="#134f13" stroke-width="2.1" stroke-linecap="round" fill="none"/>
<path d="M250.8 22.1h0m-17.8-0.8h0m-1 0.1h0m-4.3 4.9h0m10.7 5.5h0m-2.1-8.4h0m-3.5-4.6h0m27.7 14h0m-5.3-9.8h0m-12.6 2.7h0m22.1-5.4h0m-13.6 3.4h0m13.1 3.5h0m-6-7.2h0m-9-4.8h0m2.8 6.3h0m3.8-4.9h0m-0.8 2.5h0m5.5 14.5h0m-25.1-12.8h0m1.1-4.1h0m-5.5 1.5h0m31.8 5.3h0m-0.9-0.9h0m-21.7-2.4h0m-2 5.7h0m-12.6-8.3h0m39.7 20.3h0m-14.3-10.9h0m13.7 26.7h0m-15.6-25.2h0m-5.5-4.4h0m11-4.6h0m6.5 1.8h0m-2-5.4h0m-23.5 16.4h0m7.6-14.4h0m20.6 34.2h0m-20.6-32.5h0m13.9 30.8h0m-13-32.6h0m14.5 5.1h0m-36-5.8h0m-3.2 2.1h0m4.2 4h0m16.3-8.4h0m-3.2 13.7h0m27.8-5.1h0m1.8-5.4h0m-40.6 2.8h0m32.9-1.1h0m0.4 3.4h0m-22.3 0h0m19-6.3h0m-36.1 15.1h0m21.8-5.6h0m-6.4-1.7h0m-3.8-8.5h0m2.3 7.7h0m5.6 9h0" stroke="#27a027" stroke-width="1.2" stroke-linecap="round" fill="none"/>
<path d="M242.7 18.2h0m1.4 15.2h0m9.8-9h0m4.4 2.9h0m6.3 2.5h0m-13.7-11.1h0m-19.5 3.8h0m15.2 8.3h0m-6.6 5.4h0m-9.6-0.8h0m4.6 1.8h0m-4.9-2h0m14.6-19.6h0m-22.2 9.5h0m22.4-11.9h0m-6.2 4.5h0m-19-1.8h0m12.6 2h0m32.8 4.8h0m-18.5-1.3h0m-24.2 3.5h0m24.2 7.1h0m5.9-6.6h0m-26.8-9.1h0m12.6 4h0m-8.9 6.8h0m15.5-6.2h0m13.2 5.5h0m-27.5-7.8h0m-4.7 2.3h0m0 7h0m22.4-12.7h0m-25.7 7.9h0m21.5-0.1h0m13.4-1.6h0m-2 3.1h0m-4.6 9.7h0m-31-13.3h0m19.8-2.4h0m-8.9 2.2h0m12.8 15.1h0m-17.1-16.3h0m-0.8-1.2h0m38.5 1.1h0m-3.4 8.7h0m-36.8-4.8h0m34.3 5.6h0m-35.8-13.6h0m12.8 6.7h0m30.9-4.8h0" stroke="#134f13" stroke-width="2.1" stroke-linecap="round" fill="none"/>
<path d="M242.7 18.2h0m1.4 15.2h0m9.8-9h0m4.4 2.9h0m6.3 2.5h0m-13.7-11.1h0m-19.5 3.8h0m15.2 8.3h0m-6.6 5.4h0m-9.6-0.8h0m4.6 1.8h0m-4.9-2h0m14.6-19.6h0m-22.2 9.5h0m22.4-11.9h0m-6.2 4.5h0m-19-1.8h0m12.6 2h0m32.8 4.8h0m-18.5-1.3h0m-24.2 3.5h0m24.2 7.1h0m5.9-6.6h0m-26.8-9.1h0m12.6 4h0m-8.9 6.8h0m15.5-6.2h0m13.2 5.5h0m-27.5-7.8h0m-4.7 2.3h0m0 7h0m22.4-12.7h0m-25.7 7.9h0m21.5-0.1h0m13.4-1.6h0m-2 3.1h0m-4.6 9.7h0m-31-13.3h0m19.8-2.4h0m-8.9 2.2h0m12.8 15.1h0m-17.1-16.3h0m-0.8-1.2h0m38.5 1.1h0m-3.4 8.7h0m-36.8-4.8h0m34.3 5.6h0m-35.8-13.6h0m12.8 6.7h0m30.9-4.8h0" stroke="#27a027" stroke-width="1.2" stroke-linecap="round" fill="none"/>
<path d="M285 14.5h0m4-4.6h0m-1.8 2.4h0m1 0.6h0m-10.2 11.6h0m1.5-9h0m9.6-1.2h0m-1.5 3h0m-3.7-6.7h0m-17.4 14.2h0m16.2 5.9h0m2-19.6h0m-8.2 5.8h0m6.3-5.7h0m2.4 6.1h0m3.9-0.2h0m-12.6-0.6h0m-6.3 3.2h0m12.7-2.9h0m-2-3.2h0m6.4 10.8h0m-9.5-10h0m6.7-0.2h0m1.8 17.2h0m-17.2-12.1h0m10.6 1.9h0m-5.1 6.6h0m5.4-6.3h0m8.2-0.5h0m0.9-10.6h0m-1.9 6.3h0m-7.8 1h0m5.5-5.6h0m-0.4 3h0m-2.2-4.2h0m3.4 3.2h0m0.3-1.7h0m-0.5-1.5h0m-0.9 0.8h0m3.7 4.7h0m-8.6-4.1h0m4.4 6h0m-1.4-7.5h0m3.5 3.7h0m-9.9 2.1h0m12.8-6.1h0m-3.4 0.4h0m-10 8.4h0m6 0.3h0m0.4 2.7h0m5.8-4.3h0m0.6-6.3h0m-6-0.2h0m0.7 10.2h0m-10.7-2.7h0m16.4 1.1h0m-7.1-7.3h0m5.5 2.8h0m-2.7-2.7h0m-2.8-2.4h0" stroke="#143a5c" stroke-width="2.1" stroke-linecap="round" fill="none"/>
<path d="M285 14.5h0m4-4.6h0m-1.8 2.4h0m1 0.6h0m-10.2 11.6h0m1.5-9h0m9.6-1.2h0m-1.5 3h0m-3.7-6.7h0m-17.4 14.2h0m16.2 5.9h0m2-19.6h0m-8.2 5.8h0m6.3-5.7h0m2.4 6.1h0m3.9-0.2h0m-12.6-0.6h0m-6.3 3.2h0m12.7-2.9h0m-2-3.2h0m6.4 10.8h0m-9.5-10h0m6.7-0.2h0m1.8 17.2h0m-17.2-12.1h0m10.6 1.9h0m-5.1 6.6h0m5.4-6.3h0m8.2-0.5h0m0.9-10.6h0m-1.9 6.3h0m-7.8 1h0m5.5-5.6h0m-0.4 3h0m-2.2-4.2h0m3.4 3.2h0m0.3-1.7h0m-0.5-1.5h0m-0.9 0.8h0m3.7 4.7h0m-8.6-4.1h0m4.4 6h0m-1.4-7.5h0m3.5 3.7h0m-9.9 2.1h0m12.8-6.1h0m-3.4 0.4h0m-10 8.4h0m6 0.3h0m0.4 2.7h0m5.8-4.3h0m0.6-6.3h0m-6-0.2h0m0.7 10.2h0m-10.7-2.7h0m16.4 1.1h0m-7.1-7.3h0m5.5 2.8h0m-2.7-2.7h0m-2.8-2.4h0" stroke="#2a6ea6" stroke-width="1.2" stroke-linecap="round" fill="none"/>
<path d="M286.9 18.5h0m-3.7-6.4h0m0.5 17.5h0m-3.4-14h0m-8.4 3.3h0m11.7-0.1h0m2.3-5.4h0m-14.3 3.2h0m14.2-5.7h0m-1.3 1.9h0m-0.1 0.2h0m-2 5.9h0m-11.7-2.1h0m-3.7 2.2h0m11.2-2.4h0m6.7-4.2h0m-17.4 9.1h0m19.5-10h0m-4.2 4.4h0m-16.2 5.3h0m15-6.2h0m7-2.1h0m-6.3 2.2h0m-0.7 1.3h0m-5.6-0.9h0m12.5-2.5h0m-20 11.7h0m19.3-10.7h0m-11.3 8.9h0m11.5-7h0m-1-3.4h0m-5.8 5.1h0m5.5-6h0m-2.5-1h0m-10.3 3.2h0m10.6 0.5h0m3.3-3h0m-13 6.4h0m9.5-5.4h0m4.8 10.7h0m-7.7-9.8h0m1 8.4h0m4.8-10.4h0m-4.8 6.2h0m0.8-3.8h0m0.7 14.4h0m0.7-15.9h0m4.5 7.6h0m-9.1-4.4h0m2.4-2.8h0m5.5 0.3h0m-7.2-0.9h0m-11.2 7.8h0m18.6-7.3h0m-7.6-0.2h0m8.6 10.9h0m-5.3-11.9h0m-12.9 5.4h0m17.1-2.7h0m0.2 18.1h0" stroke="#143a5c" stroke-width="2.1" stroke-linecap="round" fill="none"/>
<path d="M286.9 18.5h0m-3.7-6.4h0m0.5 17.5h0m-3.4-14h0m-8.4 3.3h0m11.7-0.1h0m2.3-5.4h0m-14.3 3.2h0m14.2-5.7h0m-1.3 1.9h0m-0.1 0.2h0m-2 5.9h0m-11.7-2.1h0m-3.7 2.2h0m11.2-2.4h0m6.7-4.2h0m-17.4 9.1h0m19.5-10h0m-4.2 4.4h0m-16.2 5.3h0m15-6.2h0m7-2.1h0m-6.3 2.2h0m-0.7 1.3h0m-5.6-0.9h0m12.5-2.5h0m-20 11.7h0m19.3-10.7h0m-11.3 8.9h0m11.5-7h0m-1-3.4h0m-5.8 5.1h0m5.5-6h0m-2.5-1h0m-10.3 3.2h0m10.6 0.5h0m3.3-3h0m-13 6.4h0m9.5-5.4h0m4.8 10.7h0m-7.7-9.8h0m1 8.4h0m4.8-10.4h0m-4.8 6.2h0m0.8-3.8h0m0.7 14.4h0m0.7-15.9h0m4.5 7.6h0m-9.1-4.4h0m2.4-2.8h0m5.5 0.3h0m-7.2-0.9h0m-11.2 7.8h0m18.6-7.3h0m-7.6-0.2h0m8.6 10.9h0m-5.3-11.9h0m-12.9 5.4h0m17.1-2.7h0m0.2 18.1h0" stroke="#2a6ea6" stroke-width="1.2" stroke-linecap="round" fill="none"/>
<path d="M280.8 12.2h0m0.9-0.7h0m4.5 9.5h0m-7.1-7.1h0m7.9-2.8h0m-7.8 5.6h0m-9.5-0.4h0m18.4-4.2h0m-14.6 4.1h0m-2.1-1.4h0m13.9-2.2h0m-12.1 1.9h0m11.9 2h0m-6.5-2.8h0m-12.1 2.9h0m13.7 7.3h0m-0.5-3.8h0m7.5-3.6h0m1.4-2.7h0m-3.5 5.5h0m0.6-0.6h0m-5.1 0.1h0m8.5-4.4h0m-10.3 1.4h0m8.6 8.2h0m-0.2-13.4h0m-20.6 5.9h0m20.7-2.5h0m0.7 1.9h0m-21.4 10.6h0m21.8-5.6h0m-10.9 8.1h0m-0.4 1.1h0m9.9-20.1h0m-10.7 7.5h0m11.2-4.2h0m-2.2-2.4h0m-9.8 11.7h0m0.9-5.5h0m6.3 3.9h0m0.7-5.8h0m5.7-1.1h0m-5.4-3.9h0m-2.2 19.9h0m4.9-10.7h0m1.7-5.9h0m-18.8 7.5h0m12.1-8.8h0m0.3 9h0m7.4-1.3h0m-15.8-5.6h0m8.5-2.1h0m3.6 1.2h0m2.1-2.4h0m-5.1 0h0m2.2 4.4h0m-5.5-1.8h0m0.1-0.5h0m-4.4 2.9h0m9.7-4.5h0" stroke="#143a5c" stroke-width="2.1" stroke-linecap="round" fill="none"/>
<path d="M280.8 12.2h0m0.9-0.7h0m4.5 9.5h0m-7.1-7.1h0m7.9-2.8h0m-7.8 5.6h0m-9.5-0.4h0m18.4-4.2h0m-14.6 4.1h0m-2.1-1.4h0m13.9-2.2h0m-12.1 1.9h0m11.9 2h0m-6.5-2.8h0m-12.1 2.9h0m13.7 7.3h0m-0.5-3.8h0m7.5-3.6h0m1.4-2.7h0m-3.5 5.5h0m0.6-0.6h0m-5.1 0.1h0m8.5-4.4h0m-10.3 1.4h0m8.6 8.2h0m-0.2-13.4h0m-20.6 5.9h0m20.7-2.5h0m0.7 1.9h0m-21.4 10.6h0m21.8-5.6h0m-10.9 8.1h0m-0.4 1.1h0m9.9-20.1h0m-10.7 7.5h0m11.2-4.2h0m-2.2-2.4h0m-9.8 11.7h0m0.9-5.5h0m6.3 3.9h0m0.7-5.8h0m5.7-1.1h0m-5.4-3.9h0m-2.2 19.9h0m4.9-10.7h0m1.7-5.9h0m-18.8 7.5h0m12.1-8.8h0m0.3 9h0m7.4-1.3h0m-15.8-5.6h0m8.5-2.1h0m3.6 1.2h0m2.1-2.4h0m-5.1 0h0m2.2 4.4h0m-5.5-1.8h0m0.1-0.5h0m-4.4 2.9h0m9.7-4.5h0" stroke="#2a6ea6" stroke-width="1.2" stroke-linecap="round" fill="none"/>
<path d="M270.1 17.2h0m17.6 1.2h0m-4.4-0.1h0m3.4-4.1h0m-0.2-0.8h0m-1.6 1.1h0m-16.1 5.5h0m20.3-4h0m-1.6-0.8h0m-1.2-2.7h0m-3.1 1.2h0m-6.7 1.6h0m2.4 5.6h0m6.8-6h0m1.3 3h0m0.9-6.3h0m-16.8 7.2h0m2.1-0.1h0m14.2-5h0m-20.9 10h0m10.9 0.4h0m5.3-10.9h0m0.9-0.8h0m-1.3-1.3h0m-10.6 3h0m17.4 1.4h0m-12.9-0.3h0m3.1-1.2h0m3.5 2h0m4 2.3h0m-4.4 3.8h0m4.6-2.4h0m-2.1-5.3h0m4.1-4.5h0m-5.1 3.9h0m5.2-2.5h0m-5.3 0.2h0m4.6 2.6h0m-3.3 0.8h0m-0.9 7.2h0m-4.8-6.9h0m7.4-1.4h0m1.5-0.8h0m-2.8-2h0m-7.5 18.1h0m-0.4-7.9h0m-3.1-1.6h0m1.1-2.4h0m2.2 8.3h0m10.6-9.8h0m-21.9 22.1h0m13.8-22.6h0m5.5 1.3h0m2.4-4.2h0m-4.5 15.7h0m4.8-11.6h0m-3.2-3h0m-8.2 1.3h0m3.5-1h0m-4.3 3.3h0" stroke="#143a5c" stroke-width="2.1" stroke-linecap="round" fill="none"/>
<path d="M270.1 17.2h0m17.6 1.2h0m-4.4-0.1h0m3.4-4.1h0m-0.2-0.8h0m-1.6 1.1h0m-16.1 5.5h0m20.3-4h0m-1.6-0.8h0m-1.2-2.7h0m-3.1 1.2h0m-6.7 1.6h0m2.4 5.6h0m6.8-6h0m1.3 3h0m0.9-6.3h0m-16.8 7.2h0m2.1-0.1h0m14.2-5h0m-20.9 10h0m10.9 0.4h0m5.3-10.9h0m0.9-0.8h0m-1.3-1.3h0m-10.6 3h0m17.4 1.4h0m-12.9-0.3h0m3.1-1.2h0m3.5 2h0m4 2.3h0m-4.4 3.8h0m4.6-2.4h0m-2.1-5.3h0m4.1-4.5h0m-5.1 3.9h0m5.2-2.5h0m-5.3 0.2h0m4.6 2.6h0m-3.3 0.8h0m-0.9 7.2h0m-4.8-6.9h0m7.4-1.4h0m1.5-0.8h0m-2.8-2h0m-7.5 18.1h0m-0.4-7.9h0m-3.1-1.6h0m1.1-2.4h0m2.2 8.3h0m10.6-9.8h0m-21.9 22.1h0m13.8-22.6h0m5.5 1.3h0m2.4-4.2h0m-4.5 15.7h0m4.8-11.6h0m-3.2-3h0m-8.2 1.3h0m3.5-1h0m-4.3 3.3h0" stroke="#2a6ea6" stroke-width="1.2" stroke-linecap="round" fill="none"/>
<path d="M279.9 13.6h0m-7.8 5h0m10.6-6.2h0m-1.4 6.4h0m4.7-3.7h0m-4-0.4h0m-3.8 6.6h0m9.1-7.2h0m-4.2-1h0m-0.5 1.7h0m3.4-2.6h0m0.9 7.8h0m-20.4-2.8h0m16.7-6.9h0m4.8 2.9h0m-5.7 5.6h0m-1.7-5.3h0m-2.3 6.4h0m-4.8 11.3h0m10.1-19.3h0m-10.8 4.5h0m1.8 15h0m2.9-18.5h0m6.9-2.6h0m-17.9 9.7h0m19.2 2.1h0m-0.9-8.8h0m-0.3-0.2h0m-2.4 1.7h0m-8.3 6.2h0m7-8.8h0m4.7 1.4h0m-10.2 1.5h0m11.1-1.8h0m-0.8-0.6h0m-3.8-1.6h0m-1.9 5.5h0m5-6.4h0m1.6 1.1h0m0.7 2.2h0m-2.4 4.3h0m-0.8-5.3h0m1.6 4h0m-1.4 3.6h0m1.1-6.8h0m-4.1 4.1h0m-14.7 12.7h0m17.9-14.3h0m4.2-0.8h0m-10.1-0.5h0m-8 8.3h0m14.5-7.4h0m-1.8-2.8h0m-9.4 3.5h0m11.6 4.6h0m-0.5-5.2h0m4.2 3.3h0m-2.4-3.3h0m-11.5-1.4h0m-8.7 7h0" stroke="#143a5c" stroke-width="2.1" stroke-linecap="round" fill="none"/>
<path d="M279.9 13.6h0m-7.8 5h0m10.6-6.2h0m-1.4 6.4h0m4.7-3.7h0m-4-0.4h0m-3.8 6.6h0m9.1-7.2h0m-4.2-1h0m-0.5 1.7h0m3.4-2.6h0m0.9 7.8h0m-20.4-2.8h0m16.7-6.9h0m4.8 2.9h0m-5.7 5.6h0m-1.7-5.3h0m-2.3 6.4h0m-4.8 11.3h0m10.1-19.3h0m-10.8 4.5h0m1.8 15h0m2.9-18.5h0m6.9-2.6h0m-17.9 9.7h0m19.2 2.1h0m-0.9-8.8h0m-0.3-0.2h0m-2.4 1.7h0m-8.3 6.2h0m7-8.8h0m4.7 1.4h0m-10.2 1.5h0m11.1-1.8h0m-0.8-0.6h0m-3.8-1.6h0m-1.9 5.5h0m5-6.4h0m1.6 1.1h0m0.7 2.2h0m-2.4 4.3h0m-0.8-5.3h0m1.6 4h0m-1.4 3.6h0m1.1-6.8h0m-4.1 4.1h0m-14.7 12.7h0m17.9-14.3h0m4.2-0.8h0m-10.1-0.5h0m-8 8.3h0m14.5-7.4h0m-1.8-2.8h0m-9.4 3.5h0m11.6 4.6h0m-0.5-5.2h0m4.2 3.3h0m-2.4-3.3h0m-11.5-1.4h0m-8.7 7h0" stroke="#2a6ea6" stroke-width="1.2" stroke-linecap="round" fill="none"/>
<path d="M266.5 22h0m19.6-11.1h0m1.9 1.6h0m-3.1-1.8h0m1.5 3.3h0m-0.8-3.7h0m-3.8 1h0m6.4 6.7h0m-1.1-3.9h0m-7 2h0m-0.2-3.3h0m0.1 2.8h0m8.6 3.7h0m-6.6-1.5h0m-7.4 7.3h0m10-14.6h0m3.1 10.7h0m-2.1-8.5h0m-11.7 4.7h0m1.3-4.1h0m12.4 6.9h0m-0.7-6.4h0m-5.3 10.1h0m-9.1-9.1h0m-1.8 7.7h0m13.6-10h0m1.8 0.5h0m-3.7 2.9h0m-15.9 1.3h0m15.1-3.5h0m5.5 5.4h0m-19.7-0.1h0m7.2-1.5h0m6.4-5.9h0m-3.1 5.2h0m6.6-6.3h0m-2.9 0.9h0m6.7 11.4h0m-15.6-6.1h0m8.3-3.5h0m5.4-1.2h0m-16.2 2.6h0m1.4 1.2h0m1.3 9.8h0m9.2-14.4h0m-3.7 1.9h0m9.2 1.9h0m-1.9-3.3h0m1.8 12.7h0m-10.3-9h0m8.5-2h0m-3.8-0.2h0m3-2h0m-3.1 5.5h0m4.5 0.5h0m0.1 2.9h0m1.5-9.6h0m-5.2 7.1h0m-3.2-4.6h0m9.2 3h0" stroke="#143a5c" stroke-width="2.1" stroke-linecap="round" fill="none"/>
<path d="M266.5 22h0m19.6-11.1h0m1.9 1.6h0m-3.1-1.8h0m1.5 3.3h0m-0.8-3.7h0m-3.8 1h0m6.4 6.7h0m-1.1-3.9h0m-7 2h0m-0.2-3.3h0m0.1 2.8h0m8.6 3.7h0m-6.6-1.5h0m-7.4 7.3h0m10-14.6h0m3.1 10.7h0m-2.1-8.5h0m-11.7 4.7h0m1.3-4.1h0m12.4 6.9h0m-0.7-6.4h0m-5.3 10.1h0m-9.1-9.1h0m-1.8 7.7h0m13.6-10h0m1.8 0.5h0m-3.7 2.9h0m-15.9 1.3h0m15.1-3.5h0m5.5 5.4h0m-19.7-0.1h0m7.2-1.5h0m6.4-5.9h0m-3.1 5.2h0m6.6-6.3h0m-2.9 0.9h0m6.7 11.4h0m-15.6-6.1h0m8.3-3.5h0m5.4-1.2h0m-16.2 2.6h0m1.4 1.2h0m1.3 9.8h0m9.2-14.4h0m-3.7 1.9h0m9.2 1.9h0m-1.9-3.3h0m1.8 12.7h0m-10.3-9h0m8.5-2h0m-3.8-0.2h0m3-2h0m-3.1 5.5h0m4.5 0.5h0m0.1 2.9h0m1.5-9.6h0m-5.2 7.1h0m-3.2-4.6h0m9.2 3h0" stroke="#2a6ea6" stroke-width="1.2" stroke-linecap="round" fill="none"/>
<path d="M275.1 25.3h0m-5.6-9.2h0m17.5-4h0m-2.1 1.2h0m2.7 5.5h0m-13.5 3.7h0m-7.6-5h0m15.2 0.7h0m7.4 2.9h0m-18.9 2h0m18.9-6.6h0m-8.7-2.2h0m0.9-0.5h0m3 1.8h0m1 3h0m1.8 3h0m-1.5-7.5h0m-9.7 9h0m4.7-11.3h0m4.7 30.4h0m2-26h0m0.4-2.9h0m-2 0.9h0m-6.9-0.9h0m1-0.1h0m2.2 3.2h0m3.7-1.5h0m0.7-3.3h0m-2.4-1.4h0m-5.1 9.6h0m9.8 1.1h0m-0.6-10.2h0m-5.4 6.3h0m5.8 0.3h0m-12.1-3h0m-1.2 4.9h0m10.5-9h0m-6.7 15.9h0m8.9-9.5h0m0.4-3.9h0m-5.5 5.3h0m-12.4-1.7h0m5.3-0.8h0m-9.2 1.3h0m14 0.2h0m1.7 4.5h0m5.6-8.2h0m-5.3-1.7h0m2.1 7.1h0m-4.8-4.6h0m8.7 3.9h0m-3.4-3.7h0m4 0.5h0m-14 4.9h0m14 2.4h0m-22.6 1.4h0m7 0.1h0m12.3-4.2h0m-3.9-3.7h0m-15.4 3.5h0" stroke="#143a5c" stroke-width="2.1" stroke-linecap="round" fill="none"/>
<path d="M275.1 25.3h0m-5.6-9.2h0m17.5-4h0m-2.1 1.2h0m2.7 5.5h0m-13.5 3.7h0m-7.6-5h0m15.2 0.7h0m7.4 2.9h0m-18.9 2h0m18.9-6.6h0m-8.7-2.2h0m0.9-0.5h0m3 1.8h0m1 3h0m1.8 3h0m-1.5-7.5h0m-9.7 9h0m4.7-11.3h0m4.7 30.4h0m2-26h0m0.4-2.9h0m-2 0.9h0m-6.9-0.9h0m1-0.1h0m2.2 3.2h0m3.7-1.5h0m0.7-3.3h0m-2.4-1.4h0m-5.1 9.6h0m9.8 1.1h0m-0.6-10.2h0m-5.4 6.3h0m5.8 0.3h0m-12.1-3h0m-1.2 4.9h0m10.5-9h0m-6.7 15.9h0m8.9-9.5h0m0.4-3.9h0m-5.5 5.3h0m-12.4-1.7h0m5.3-0.8h0m-9.2 1.3h0m14 0.2h0m1.7 4.5h0m5.6-8.2h0m-5.3-1.7h0m2.1 7.1h0m-4.8-4.6h0m8.7 3.9h0m-3.4-3.7h0m4 0.5h0m-14 4.9h0m14 2.4h0m-22.6 1.4h0m7 0.1h0m12.3-4.2h0m-3.9-3.7h0m-15.4 3.5h0" stroke="#2a6ea6" stroke-width="1.2" stroke-linecap="round" fill="none"/>
<path d="M280 12.4h0m-11.4 8.6h0m10.3-8.1h0m2 0.1h0m3.4 5.8h0m2.9 3.3h0m-2.8-3.7h0m-0.8-6.6h0m-3.9 2h0m1.1 4.6h0m-3 2.9h0m5.7 0.5h0m-0.9-7.8h0m0.2-2.7h0m3.2 12.5h0m0.1-6.1h0m2.7-5.5h0m-0.1 1.7h0m-6.5 3.9h0m6.9-7.2h0m-6.4 18.4h0m6.1-18.5h0m-1 9.3h0m-4 0.3h0m0.3-9.3h0m-5 5.1h0m2.9 1.4h0m4.5-3.9h0m-1.6 17.8h0m-6.2-12.1h0m4.9 0.6h0m-7.1-1.7h0m10.8-7h0m-0.1 5.6h0m1.4-6.4h0m-11.6 24.7h0m-7.1-17.5h0m16.1 19.6h0m0.6-25.1h0m1.7 0.9h0m-12.9 1.7h0m9.8 0h0m-2.9 0.4h0m0.9 3.7h0m5.8-6.4h0m0.1 3.7h0m-18.1 2.2h0m3.3 5.9h0m1.8-7.2h0m8.6-3.2h0m2.6 5.7h0m-3.7-5.4h0m4.1 1.4h0m-5.9 0.2h0m2.8-4.1h0m1.3 2h0m-4-0.3h0m3.2 12.2h0m2.7-6.6h0m-0.5-5.8h0" stroke="#143a5c" stroke-width="2.1" stroke-linecap="round" fill="none"/>
<path d="M280 12.4h0m-11.4 8.6h0m10.3-8.1h0m2 0.1h0m3.4 5.8h0m2.9 3.3h0m-2.8-3.7h0m-0.8-6.6h0m-3.9 2h0m1.1 4.6h0m-3 2.9h0m5.7 0.5h0m-0.9-7.8h0m0.2-2.7h0m3.2 12.5h0m0.1-6.1h0m2.7-5.5h0m-0.1 1.7h0m-6.5 3.9h0m6.9-7.2h0m-6.4 18.4h0m6.1-18.5h0m-1 9.3h0m-4 0.3h0m0.3-9.3h0m-5 5.1h0m2.9 1.4h0m4.5-3.9h0m-1.6 17.8h0m-6.2-12.1h0m4.9 0.6h0m-7.1-1.7h0m10.8-7h0m-0.1 5.6h0m1.4-6.4h0m-11.6 24.7h0m-7.1-17.5h0m16.1 19.6h0m0.6-25.1h0m1.7 0.9h0m-12.9 1.7h0m9.8 0h0m-2.9 0.4h0m0.9 3.7h0m5.8-6.4h0m0.1 3.7h0m-18.1 2.2h0m3.3 5.9h0m1.8-7.2h0m8.6-3.2h0m2.6 5.7h0m-3.7-5.4h0m4.1 1.4h0m-5.9 0.2h0m2.8-4.1h0m1.3 2h0m-4-0.3h0m3.2 12.2h0m2.7-6.6h0m-0.5-5.8h0" stroke="#2a6ea6" stroke-width="1.2" stroke-linecap="round" fill="none"/>
<path d="M284.2 13.7h0m1.2 1.1h0m-7.1-1.5h0m4.1 3.4h0m-0.7-3.3h0m6.9 5.3h0m-3.7-1.7h0m3.8-0.4h0m-2.2-1.9h0m-6.3-0.4h0m6.5 10.3h0m-1-4.6h0m-3.1-4h0m3.3-5.1h0m-10.7 5.3h0m11.1-4.3h0m-1.3 4.5h0m-12.5 8.9h0m10.3-13.1h0m1.8 2.4h0m-18.1 16.7h0m15.5-20.2h0m-9.5 4.2h0m7 0.9h0m-0.5-0.4h0m-7.2-0.4h0m8.3-3.5h0m5.3 0.1h0m-1.3 3h0m-0.5 3h0m-10.1-3.8h0m2.3 3.6h0m6.1-4.5h0m1.2-1.4h0m-1.1 8.4h0m-7.6-4.7h0m-7.9 4.4h0m15-8.9h0m6.1-1h0m0.8 7.8h0m-0.7-2.9h0m-21.2 2.8h0m21.9 1.6h0m-2.9-6.8h0m-2.8 1.2h0m4.5-2.4h0m-4.6 1.7h0m-2.5 14.6h0m1.2-15.3h0m-6.4 2.4h0m-8.4 3.3h0m22.6-6.6h0m-22.6 10.7h0m8.5-5h0m11.7-6.1h0m-13.6 4.4h0m8 3.4h0m6.6-6.9h0m-2 16.4h0m2.9-14.8h0" stroke="#143a5c" stroke-width="2.1" stroke-linecap="round" fill="none"/>
<path d="M284.2 13.7h0m1.2 1.1h0m-7.1-1.5h0m4.1 3.4h0m-0.7-3.3h0m6.9 5.3h0m-3.7-1.7h0m3.8-0.4h0m-2.2-1.9h0m-6.3-0.4h0m6.5 10.3h0m-1-4.6h0m-3.1-4h0m3.3-5.1h0m-10.7 5.3h0m11.1-4.3h0m-1.3 4.5h0m-12.5 8.9h0m10.3-13.1h0m1.8 2.4h0m-18.1 16.7h0m15.5-20.2h0m-9.5 4.2h0m7 0.9h0m-0.5-0.4h0m-7.2-0.4h0m8.3-3.5h0m5.3 0.1h0m-1.3 3h0m-0.5 3h0m-10.1-3.8h0m2.3 3.6h0m6.1-4.5h0m1.2-1.4h0m-1.1 8.4h0m-7.6-4.7h0m-7.9 4.4h0m15-8.9h0m6.1-1h0m0.8 7.8h0m-0.7-2.9h0m-21.2 2.8h0m21.9 1.6h0m-2.9-6.8h0m-2.8 1.2h0m4.5-2.4h0m-4.6 1.7h0m-2.5 14.6h0m1.2-15.3h0m-6.4 2.4h0m-8.4 3.3h0m22.6-6.6h0m-22.6 10.7h0m8.5-5h0m11.7-6.1h0m-13.6 4.4h0m8 3.4h0m6.6-6.9h0m-2 16.4h0m2.9-14.8h0" stroke="#2a6ea6" stroke-width="1.2" stroke-linecap="round" fill="none"/>
<path d="M277.8 26.1h0m6.9 1.6h0m-13.6-2.4h0m13.4-10.8h0m0.4-0.2h0m2.8-2.9h0m-21.2 11.6h0m18.4 7.5h0m-12.7 10.8h0m-1.6-16.8h0m9.9-6.4h0m1.8-4.7h0m2.8 3.8h0m-2 4.2h0m-3.8-8.6h0m-2.2-0.4h0m-5 2.6h0m4.4 7.1h0m6.2-1.6h0m4.6-9.7h0m-0.5 1.1h0m-2.1 0.1h0m-7 0.9h0m-2.5 3h0m11.1 2h0m-0.9-2.7h0m3.7-2.5h0m0-1.9h0m-9.6 12.7h0m-13-4.4h0m20.7-6.3h0m0.1 3.6h0m0.6-0.6h0m-4.6-4.8h0m5.8-0.3h0m-22.6 26.9h0m17.8-12.2h0m-11.2 2.1h0m14.7-1.6h0m-4.1-5h0m-9.4 3.2h0m14.8-9.8h0m-0.6 2.4h0m-7.8 5.5h0m-14.2 0.1h0m16.3-9h0m4.8 5.1h0m-4.3-2.7h0m5.8-1.8h0m-12.4-1.4h0m5.7 5.1h0m0.6 11.9h0m4.3-9.2h0m-10.7-2.1h0m12.5 1.5h0m-10.8-6.8h0m8.6 2.2h0m1.9 4.3h0m-1.8-3.5h0m-6.9 12.4h0" stroke="#143a5c" stroke-width="2.1" stroke-linecap="round" fill="none"/>
<path d="M277.8 26.1h0m6.9 1.6h0m-13.6-2.4h0m13.4-10.8h0m0.4-0.2h0m2.8-2.9h0m-21.2 11.6h0m18.4 7.5h0m-12.7 10.8h0m-1.6-16.8h0m9.9-6.4h0m1.8-4.7h0m2.8 3.8h0m-2 4.2h0m-3.8-8.6h0m-2.2-0.4h0m-5 2.6h0m4.4 7.1h0m6.2-1.6h0m4.6-9.7h0m-0.5 1.1h0m-2.1 0.1h0m-7 0.9h0m-2.5 3h0m11.1 2h0m-0.9-2.7h0m3.7-2.5h0m0-1.9h0m-9.6 12.7h0m-13-4.4h0m20.7-6.3h0m0.1 3.6h0m0.6-0.6h0m-4.6-4.8h0m5.8-0.3h0m-22.6 26.9h0m17.8-12.2h0m-11.2 2.1h0m14.7-1.6h0m-4.1-5h0m-9.4 3.2h0m14.8-9.8h0m-0.6 2.4h0m-7.8 5.5h0m-14.2 0.1h0m16.3-9h0m4.8 5.1h0m-4.3-2.7h0m5.8-1.8h0m-12.4-1.4h0m5.7 5.1h0m0.6 11.9h0m4.3-9.2h0m-10.7-2.1h0m12.5 1.5h0m-10.8-6.8h0m8.6 2.2h0m1.9 4.3h0m-1.8-3.5h0m-6.9 12.4h0" stroke="#2a6ea6" stroke-width="1.2" stroke-linecap="round" fill="none"/>
<path d="M273.9 21.6h0m-7.4-4h0m12.8 6.5h0m4.3-10.7h0m0.6 6.8h0m-3 6.5h0m5.2-15.1h0m0.2-0.3h0m-5.1 11.6h0m-2-3.8h0m9.6-7.8h0m-5.9 4.9h0m2.2-4.1h0m-2.2 13.5h0m-14.1-6.1h0m-2.6 9.1h0m13.3-11.9h0m-7.9-2.4h0m3.5 4.4h0m13.7-2.2h0m-7.8-1.8h0m7.8 9.5h0m-4.6-12h0m0.8 2.2h0m-12 1.9h0m11.6-3.4h0m4.2 8.5h0m-4.1-10.9h0m2.3-0.3h0m1.2 6.5h0m-10.4-3.9h0m6.3 0.7h0m-13.8 15.7h0m11.5-3h0m-15.4-8.6h0m20.1-1.1h0m-0.3-4.5h0m0-1.3h0m-3 1.2h0m-12.3 6.3h0m9.6-6.8h0m7.7 2.8h0m-6.6 0.7h0m7.2-4.5h0m-4.7 0.7h0m2.2 1h0m-18.9 6.4h0m11.9 6.6h0m-6.1-9.2h0m9.9 0.3h0m-7.4-0.7h0m9.8-0.9h0m-5-2.7h0m1.3 4.7h0m0-2.2h0m1 0.1h0m4.6 1.9h0m-8.2 3.4h0m4.5 9.4h0m2.1-9.1h0" stroke="#143a5c" stroke-width="2.1" stroke-linecap="round" fill="none"/>
<path d="M273.9 21.6h0m-7.4-4h0m12.8 6.5h0m4.3-10.7h0m0.6 6.8h0m-3 6.5h0m5.2-15.1h0m0.2-0.3h0m-5.1 11.6h0m-2-3.8h0m9.6-7.8h0m-5.9 4.9h0m2.2-4.1h0m-2.2 13.5h0m-14.1-6.1h0m-2.6 9.1h0m13.3-11.9h0m-7.9-2.4h0m3.5 4.4h0m13.7-2.2h0m-7.8-1.8h0m7.8 9.5h0m-4.6-12h0m0.8 2.2h0m-12 1.9h0m11.6-3.4h0m4.2 8.5h0m-4.1-10.9h0m2.3-0.3h0m1.2 6.5h0m-10.4-3.9h0m6.3 0.7h0m-13.8 15.7h0m11.5-3h0m-15.4-8.6h0m20.1-1.1h0m-0.3-4.5h0m0-1.3h0m-3 1.2h0m-12.3 6.3h0m9.6-6.8h0m7.7 2.8h0m-6.6 0.7h0m7.2-4.5h0m-4.7 0.7h0m2.2 1h0m-18.9 6.4h0m11.9 6.6h0m-6.1-9.2h0m9.9 0.3h0m-7.4-0.7h0m9.8-0.9h0m-5-2.7h0m1.3 4.7h0m0-2.2h0m1 0.1h0m4.6 1.9h0m-8.2 3.4h0m4.5 9.4h0m2.1-9.1h0" stroke="#2a6ea6" stroke-width="1.2" stroke-linecap="round" fill="none"/>
<path d="M282.7 20.7h0m-5.1-7.1h0m5.1 3.8h0m1.5 1.1h0m-9-5h0m13.5 2h0m-10.2 2.9h0m7.2-4.1h0m-2.3-3.1h0m-0.4 0.7h0m-16.5 7h0m22.6-7.1h0m-11.8 5.9h0m2.3-2.9h0m2.4 4.9h0m3.9-4h0m-2.8-3.1h0m-16.6 7.7h0m22.6-9.5h0m-19.3 5.9h0m4.2-1.3h0m3.9 5h0m-0.7-0.3h0m-5.6 0.7h0m12.8-8.8h0m-4 1.8h0m7.1 3h0m-6.5-0.3h0m-14.5 6.2h0m16.9-9.6h0m-4.2 7.4h0m9.2-6.2h0m-14.2-0.1h0m4.6 7.4h0m1.4-9.5h0m7.2-0.1h0m-4.3-1.8h0m6 11.2h0m-21.8-2h0m18.2-0.1h0m0.5-1.7h0m-3.9-6.9h0m-3.2 6h0m9.3-5.1h0m0.5 2.2h0m-7.4-2.5h0m-1.8 6.2h0m-9.6 4.8h0m11.1-5.6h0m-3.8 2.7h0m8.2-5.7h0m-1.1 3.4h0m-6.2-4h0m1.1-1.3h0m-4 9.7h0m13.9-8.8h0m-2.5 4.3h0m-8.7-3.4h0m4.9 1.6h0m6.3 6h0" stroke="#143a5c" stroke-width="2.1" stroke-linecap="round" fill="none"/>
<path d="M282.7 20.7h0m-5.1-7.1h0m5.1 3.8h0m1.5 1.1h0m-9-5h0m13.5 2h0m-10.2 2.9h0m7.2-4.1h0m-2.3-3.1h0m-0.4 0.7h0m-16.5 7h0m22.6-7.1h0m-11.8 5.9h0m2.3-2.9h0m2.4 4.9h0m3.9-4h0m-2.8-3.1h0m-16.6 7.7h0m22.6-9.5h0m-19.3 5.9h0m4.2-1.3h0m3.9 5h0m-0.7-0.3h0m-5.6 0.7h0m12.8-8.8h0m-4 1.8h0m7.1 3h0m-6.5-0.3h0m-14.5 6.2h0m16.9-9.6h0m-4.2 7.4h0m9.2-6.2h0m-14.2-0.1h0m4.6 7.4h0m1.4-9.5h0m7.2-0.1h0m-4.3-1.8h0m6 11.2h0m-21.8-2h0m18.2-0.1h0m0.5-1.7h0m-3.9-6.9h0m-3.2 6h0m9.3-5.1h0m0.5 2.2h0m-7.4-2.5h0m-1.8 6.2h0m-9.6 4.8h0m11.1-5.6h0m-3.8 2.7h0m8.2-5.7h0m-1.1 3.4h0m-6.2-4h0m1.1-1.3h0m-4 9.7h0m13.9-8.8h0m-2.5 4.3h0m-8.7-3.4h0m4.9 1.6h0m6.3 6h0" stroke="#2a6ea6" stroke-width="1.2" stroke-linecap="round" fill="none"/>
<path d="M289.1 12.5h0m-1.4 17.1h0m-0.4-16.5h0m-1.9 2.8h0m-7.9 2.7h0m0.7-5.1h0m10-3.1h0m-2.3 0.5h0m-2 1.7h0m0.1 6.4h0m-9.4-0.5h0m1.8-3.8h0m-5.9 13.5h0m10.1-14.1h0m3.7-1.3h0m0.2 14.8h0m-6.1-15h0m-0.8 2.3h0m-4 7.1h0m-1.4-4.6h0m15.4-1.8h0m-0.9 4h0m-8.7-0.4h0m9-9.2h0m-8.7 16.7h0m10-6.1h0m-18.9-3.3h0m6.3 6.1h0m7 1.1h0m3-5.5h0m-3.4-4.9h0m6.5 3.5h0m-2 4.7h0m-12.2-0.1h0m10-8h0m-11.3 6.6h0m7.9-1.3h0m7-6.3h0m0.9 3.4h0m-6.4 12.7h0m3.9-9.4h0m-1.2 10.5h0m-18.9-3.7h0m16-15.4h0m4.1 8h0m-1.9 16.4h0m-3.7-9.4h0m6.6-15.1h0m0.7-0.1h0m-17.1 3.2h0m9.9-1.2h0m-11.1 6.8h0m16.3-7.4h0m0.7 3.1h0m-0.7 7.5h0m1.8-4.1h0m-0.5-1.5h0m-5.4-4.8h0m0-1.5h0m1.9 5.9h0" stroke="#143a5c" stroke-width="2.1" stroke-linecap="round" fill="none"/>
<path d="M289.1 12.5h0m-1.4 17.1h0m-0.4-16.5h0m-1.9 2.8h0m-7.9 2.7h0m0.7-5.1h0m10-3.1h0m-2.3 0.5h0m-2 1.7h0m0.1 6.4h0m-9.4-0.5h0m1.8-3.8h0m-5.9 13.5h0m10.1-14.1h0m3.7-1.3h0m0.2 14.8h0m-6.1-15h0m-0.8 2.3h0m-4 7.1h0m-1.4-4.6h0m15.4-1.8h0m-0.9 4h0m-8.7-0.4h0m9-9.2h0m-8.7 16.7h0m10-6.1h0m-18.9-3.3h0m6.3 6.1h0m7 1.1h0m3-5.5h0m-3.4-4.9h0m6.5 3.5h0m-2 4.7h0m-12.2-0.1h0m10-8h0m-11.3 6.6h0m7.9-1.3h0m7-6.3h0m0.9 3.4h0m-6.4 12.7h0m3.9-9.4h0m-1.2 10.5h0m-18.9-3.7h0m16-15.4h0m4.1 8h0m-1.9 16.4h0m-3.7-9.4h0m6.6-15.1h0m0.7-0.1h0m-17.1 3.2h0m9.9-1.2h0m-11.1 6.8h0m16.3-7.4h0m0.7 3.1h0m-0.7 7.5h0m1.8-4.1h0m-0.5-1.5h0m-5.4-4.8h0m0-1.5h0m1.9 5.9h0" stroke="#2a6ea6" stroke-width="1.2" stroke-linecap="round" fill="none"/>
<path d="M285 13h0m-10.2 8.3h0m0.7-6.4h0m3 5h0m-6.9-1h0m8.1-4.2h0m3.4-4.3h0m-3.9 2.7h0m-3.9 1.5h0m-8.8 2.8h0m17.5 0h0m-0.8-2.3h0m5 5.2h0m-1.9-7.5h0m2.1-1.7h0m-3.4 0.3h0m-0.5 4.1h0m-9.2-1.9h0m8.3-3.1h0m2 15.5h0m1.2-12.8h0m1.3 2.4h0m-18.3 0h0m6 17.4h0m12.2-11.1h0m-4.6 1h0m4.1-9.5h0m-6.1-1.4h0m-3.2 1.3h0m6.5-0.5h0m4.4 0.1h0m-1.5-2.7h0m-0.3 1h0m-20.8 15.1h0m3.7-5h0m9 15.7h0m7.8-26.1h0m-0.5 4.3h0m0.4-3.7h0m-9.5 3.8h0m11.7-2.9h0m-12.9 13.3h0m12.4 2.7h0m-14.1-10.7h0m4.7-1.9h0m3.7-2h0m-0.1-0.4h0m2.4-3.3h0m-18.7 10h0m18.7 2.4h0m-1.9-5.8h0m-1.3 6.6h0m3.4-11.2h0m-14.1 7.5h0m15.9-6.3h0m-0.4 0.1h0m2.3-0.1h0m-8.4 14.8h0m4.6-3.3h0m-3-9.6h0" stroke="#143a5c" stroke-width="2.1" stroke-linecap="round" fill="none"/>
<path d="M285 13h0m-10.2 8.3h0m0.7-6.4h0m3 5h0m-6.9-1h0m8.1-4.2h0m3.4-4.3h0m-3.9 2.7h0m-3.9 1.5h0m-8.8 2.8h0m17.5 0h0m-0.8-2.3h0m5 5.2h0m-1.9-7.5h0m2.1-1.7h0m-3.4 0.3h0m-0.5 4.1h0m-9.2-1.9h0m8.3-3.1h0m2 15.5h0m1.2-12.8h0m1.3 2.4h0m-18.3 0h0m6 17.4h0m12.2-11.1h0m-4.6 1h0m4.1-9.5h0m-6.1-1.4h0m-3.2 1.3h0m6.5-0.5h0m4.4 0.1h0m-1.5-2.7h0m-0.3 1h0m-20.8 15.1h0m3.7-5h0m9 15.7h0m7.8-26.1h0m-0.5 4.3h0m0.4-3.7h0m-9.5 3.8h0m11.7-2.9h0m-12.9 13.3h0m12.4 2.7h0m-14.1-10.7h0m4.7-1.9h0m3.7-2h0m-0.1-0.4h0m2.4-3.3h0m-18.7 10h0m18.7 2.4h0m-1.9-5.8h0m-1.3 6.6h0m3.4-11.2h0m-14.1 7.5h0m15.9-6.3h0m-0.4 0.1h0m2.3-0.1h0m-8.4 14.8h0m4.6-3.3h0m-3-9.6h0" stroke="#2a6ea6" stroke-width="1.2" stroke-linecap="round" fill="none"/>
<path d="M276.9 21.2h0m9.8-5.2h0m0.5-2.1h0m-1 12.9h0m-19.4-6.9h0m21.9-6h0m-14.4 2.8h0m4.5-0.6h0m-5.4 1.2h0m7.9 3.9h0m2.1-1.3h0m4.9-9.3h0m-4.5-0.3h0m0.1 6h0m4.1-5.1h0m-14.5 6h0m-3.1-1.1h0m18.3 9.3h0m-11.4-9.1h0m1.4-0.1h0m-4.4 2.5h0m9.4-8.8h0m-0.4 3.3h0m-13.1 12.5h0m17.2-9.2h0m-11.3 11.5h0m12-5.6h0m-9.6-8h0m5.3 1.8h0m-4.4 14.8h0m7.8-16.5h0m-3.8 1.4h0m-2.8 1.9h0m-10.7-2.1h0m10.5-1.6h0m4.3 0.7h0m2-2.7h0m-15.1 5.6h0m-1.6 6.4h0m-0.3-5.1h0m-3.2-1.1h0m10.5 1.3h0m-7.6 0.2h0m4 10.7h0m2.6-11.1h0m8.8-6.7h0m2.2-1h0m-5 6.2h0m7 18.9h0m-3.8-25.6h0m0.9 3.2h0m1.4-2.6h0m-4.7 8.9h0m4.8-5.7h0m-0.2 0.1h0m-8.6-0.3h0m4.4 2h0m-0.5-1.1h0m-2.6 3.1h0m0.9-4.9h0" stroke="#143a5c" stroke-width="2.1" stroke-linecap="round" fill="none"/>
<path d="M276.9 21.2h0m9.8-5.2h0m0.5-2.1h0m-1 12.9h0m-19.4-6.9h0m21.9-6h0m-14.4 2.8h0m4.5-0.6h0m-5.4 1.2h0m7.9 3.9h0m2.1-1.3h0m4.9-9.3h0m-4.5-0.3h0m0.1 6h0m4.1-5.1h0m-14.5 6h0m-3.1-1.1h0m18.3 9.3h0m-11.4-9.1h0m1.4-0.1h0m-4.4 2.5h0m9.4-8.8h0m-0.4 3.3h0m-13.1 12.5h0m17.2-9.2h0m-11.3 11.5h0m12-5.6h0m-9.6-8h0m5.3 1.8h0m-4.4 14.8h0m7.8-16.5h0m-3.8 1.4h0m-2.8 1.9h0m-10.7-2.1h0m10.5-1.6h0m4.3 0.7h0m2-2.7h0m-15.1 5.6h0m-1.6 6.4h0m-0.3-5.1h0m-3.2-1.1h0m10.5 1.3h0m-7.6 0.2h0m4 10.7h0m2.6-11.1h0m8.8-6.7h0m2.2-1h0m-5 6.2h0m7 18.9h0m-3.8-25.6h0m0.9 3.2h0m1.4-2.6h0m-4.7 8.9h0m4.8-5.7h0m-0.2 0.1h0m-8.6-0.3h0m4.4 2h0m-0.5-1.1h0m-2.6 3.1h0m0.9-4.9h0" stroke="#2a6ea6" stroke-width="1.2" stroke-linecap="round" fill="none"/>
<path d="M270.8 15.5h0m10.6-2.9h0m4.4 5.1h0m-3.2-5.1h0m-4.9 1.6h0m3.3 4.5h0m2.4-7.5h0m-9.9 4.8h0m-7 0.1h0m3.3 8.5h0m14.6-13.1h0m-4.8 5.5h0m-0.8 2.7h0m4.9-6h0m-7.5-0.2h0m10 0h0m-6.4 0h0m-3 1.1h0m3.4-1.5h0m5.6 6.9h0m0.7 3.1h0m-20 1.3h0m21.2-12h0m-5.8 12.3h0m1.9-12.9h0m4.9 3.3h0m-4.9-0.8h0m-10.2 12.3h0m13.7-10.9h0m-0.7-3.1h0m-7.7 6.6h0m0-0.8h0m2.4 3.5h0m4.7-5.1h0m0.2-2.5h0m1-2.2h0m-8.2 9.6h0m-1.5-6.8h0m6.1-3.2h0m4.4 6.4h0m-4.7-6h0m-2.1 7.7h0m-4.8-6.5h0m6.3 0.9h0m5.2 4h0m-1.6-0.8h0m-19.8 8.3h0m8.3-10h0m-8.3 9.2h0m12-2.7h0m8.9-9.4h0m-0.3 9.6h0m-5.7-6.3h0m1.8 0.6h0m0.4-5.4h0m-5.1 1.8h0m10.6 0.3h0m-18.3 2.7h0m14 2h0m-10.8-1.8h0" stroke="#143a5c" stroke-width="2.1" stroke-linecap="round" fill="none"/>
<path d="M270.8 15.5h0m10.6-2.9h0m4.4 5.1h0m-3.2-5.1h0m-4.9 1.6h0m3.3 4.5h0m2.4-7.5h0m-9.9 4.8h0m-7 0.1h0m3.3 8.5h0m14.6-13.1h0m-4.8 5.5h0m-0.8 2.7h0m4.9-6h0m-7.5-0.2h0m10 0h0m-6.4 0h0m-3 1.1h0m3.4-1.5h0m5.6 6.9h0m0.7 3.1h0m-20 1.3h0m21.2-12h0m-5.8 12.3h0m1.9-12.9h0m4.9 3.3h0m-4.9-0.8h0m-10.2 12.3h0m13.7-10.9h0m-0.7-3.1h0m-7.7 6.6h0m0-0.8h0m2.4 3.5h0m4.7-5.1h0m0.2-2.5h0m1-2.2h0m-8.2 9.6h0m-1.5-6.8h0m6.1-3.2h0m4.4 6.4h0m-4.7-6h0m-2.1 7.7h0m-4.8-6.5h0m6.3 0.9h0m5.2 4h0m-1.6-0.8h0m-19.8 8.3h0m8.3-10h0m-8.3 9.2h0m12-2.7h0m8.9-9.4h0m-0.3 9.6h0m-5.7-6.3h0m1.8 0.6h0m0.4-5.4h0m-5.1 1.8h0m10.6 0.3h0m-18.3 2.7h0m14 2h0m-10.8-1.8h0" stroke="#2a6ea6" stroke-width="1.2" stroke-linecap="round" fill="none"/>
<path d="M284.6 18.2h0m-9.9 0.3h0m-8.2 1h0m21.4-3.1h0m-3.8-6.3h0m-5.4 10.9h0m-12.2-2.7h0m2.9 5.5h0m16.2-13.5h0m-2.9 5.4h0m-1 5.6h0m-15.2 1.9h0m22.6-13.2h0m-5.9 3.8h0m0.5 8.8h0m-6.9 3.2h0m-4-8h0m2.2-1.8h0m1.2 7.3h0m-1.5-1.4h0m13.7-11.3h0m-3.2 3.8h0m-7.1 17.5h0m-0.4-15.7h0m10.2-2.2h0m-0.9 1.4h0m-9.6 11.7h0m9.2-9.1h0m-11.6-4h0m-8.5 6.3h0m15.3-0.8h0m-3.3 19.8h0m1.6-26.7h0m-6.8 13.4h0m-6.8-5.4h0m12.4-8.5h0m4.8 25.8h0m3.5-25.6h0m-3.6-2.1h0m1.8 7.9h0m-10.2-2.6h0m-1.7 2.4h0m11.2 2.3h0m-2.2 1.4h0m-5.5 11.2h0m9-22.2h0m-8.1 3.3h0m2.7 2.9h0m-4.4 8.2h0m12.4-13.9h0m-9.2 12.8h0m7.9-5.6h0m-6.5 17.8h0m2.7-25.3h0m-3.2 7.9h0m0.8-2.9h0m-7.2 14.7h0m9-18h0m-11.8 5.8h0m14.4-7.6h0" stroke="#143a5c" stroke-width="2.1" stroke-linecap="round" fill="none"/>
<path d="M284.6 18.2h0m-9.9 0.3h0m-8.2 1h0m21.4-3.1h0m-3.8-6.3h0m-5.4 10.9h0m-12.2-2.7h0m2.9 5.5h0m16.2-13.5h0m-2.9 5.4h0m-1 5.6h0m-15.2 1.9h0m22.6-13.2h0m-5.9 3.8h0m0.5 8.8h0m-6.9 3.2h0m-4-8h0m2.2-1.8h0m1.2 7.3h0m-1.5-1.4h0m13.7-11.3h0m-3.2 3.8h0m-7.1 17.5h0m-0.4-15.7h0m10.2-2.2h0m-0.9 1.4h0m-9.6 11.7h0m9.2-9.1h0m-11.6-4h0m-8.5 6.3h0m15.3-0.8h0m-3.3 19.8h0m1.6-26.7h0m-6.8 13.4h0m-6.8-5.4h0m12.4-8.5h0m4.8 25.8h0m3.5-25.6h0m-3.6-2.1h0m1.8 7.9h0m-10.2-2.6h0m-1.7 2.4h0m11.2 2.3h0m-2.2 1.4h0m-5.5 11.2h0m9-22.2h0m-8.1 3.3h0m2.7 2.9h0m-4.4 8.2h0m12.4-13.9h0m-9.2 12.8h0m7.9-5.6h0m-6.5 17.8h0m2.7-25.3h0m-3.2 7.9h0m0.8-2.9h0m-7.2 14.7h0m9-18h0m-11.8 5.8h0m14.4-7.6h0" stroke="#2a6ea6" stroke-width="1.2" stroke-linecap="round" fill="none"/>
<path d="M280.3 11.9h0m0.9 2.2h0m1.9 10.7h0m1-3.9h0m-4.8-6.3h0m3.1-0.2h0m-5.8 3.6h0m7.1-5.9h0m-17.2 6.1h0m0 1.4h0m18.7-8.7h0m-7.3 1.9h0m8.6 1h0m-14.4 1.7h0m10.5 0.5h0m-1.5-2.5h0m-2.2-0.9h0m0.7 0.9h0m-12.7 5.7h0m12.8-3.1h0m5.4-2.8h0m-13.7 7.7h0m16.7-4.8h0m-5.2-5.7h0m4.4 2.2h0m-2.6 1.9h0m3.7 0.1h0m-6.2 1h0m2.9 1.6h0m-18.6 1.4h0m14.9-7.2h0m3.4 4.1h0m2.6-1.4h0m-0.7 16.1h0m-2.5-19.2h0m-6.8 8.2h0m-10.9-2h0m16.7 22.2h0m-6.7-26h0m12.6-1.5h0m-22.6 9.6h0m15.5-6.1h0m7 0.8h0m-0.6-5.2h0m-3.4 5.1h0m-10.8 24.1h0m-7.7-22.7h0m16.4-5.1h0m4 1.3h0m-7.1 11.2h0m-0.5-2.5h0m8.6-12h0m-5.6 2.3h0m-0.6 2.4h0m2.8-4.5h0m-11.6 3.8h0m12 23.7h0m1.9-25.4h0m-0.4 11.2h0m2.6 0.5h0" stroke="#143a5c" stroke-width="2.1" stroke-linecap="round" fill="none"/>
<path d="M280.3 11.9h0m0.9 2.2h0m1.9 10.7h0m1-3.9h0m-4.8-6.3h0m3.1-0.2h0m-5.8 3.6h0m7.1-5.9h0m-17.2 6.1h0m0 1.4h0m18.7-8.7h0m-7.3 1.9h0m8.6 1h0m-14.4 1.7h0m10.5 0.5h0m-1.5-2.5h0m-2.2-0.9h0m0.7 0.9h0m-12.7 5.7h0m12.8-3.1h0m5.4-2.8h0m-13.7 7.7h0m16.7-4.8h0m-5.2-5.7h0m4.4 2.2h0m-2.6 1.9h0m3.7 0.1h0m-6.2 1h0m2.9 1.6h0m-18.6 1.4h0m14.9-7.2h0m3.4 4.1h0m2.6-1.4h0m-0.7 16.1h0m-2.5-19.2h0m-6.8 8.2h0m-10.9-2h0m16.7 22.2h0m-6.7-26h0m12.6-1.5h0m-22.6 9.6h0m15.5-6.1h0m7 0.8h0m-0.6-5.2h0m-3.4 5.1h0m-10.8 24.1h0m-7.7-22.7h0m16.4-5.1h0m4 1.3h0m-7.1 11.2h0m-0.5-2.5h0m8.6-12h0m-5.6 2.3h0m-0.6 2.4h0m2.8-4.5h0m-11.6 3.8h0m12 23.7h0m1.9-25.4h0m-0.4 11.2h0m2.6 0.5h0" stroke="#2a6ea6" stroke-width="1.2" stroke-linecap="round" fill="none"/>
<path d="M289.1 13.7h0m0 3.6h0m-1.8-4.9h0m-5.8 0.7h0m-8.8 19h0m14.9-8.3h0m-0.6-12.5h0m-3.1 9.2h0m-3.5-7.6h0m-6.3 2.2h0m7.7-2.7h0m5.2 3.6h0m-10.8 8.2h0m12.9-12.6h0m-14 16.2h0m-3.3-4.7h0m12.7-10.8h0m2.8 3.4h0m-0.5-5.6h0m1.7 4.9h0m-9.8-0.7h0m4.4-3.5h0m6 7.9h0m-1.7-5.9h0m-4.8-0.3h0m-16.1 7.5h0m12.7-7.6h0m-1.7 1.1h0m1 3.5h0m0.4 9.3h0m8.3-5.8h0m-10-4h0m7.6 0h0m-18.3 3.2h0m21.9-5.1h0m-8.4-2.3h0m5.6 1.4h0m0.1 8.4h0m-2-0.6h0m-0.6-7.5h0m-7 7.5h0m8.7-8.3h0m1 3.9h0m-16-1.7h0m10.1 7.2h0m8.6-7.4h0m-2.8-5.3h0m-4.2 2.6h0m-3.8 16.2h0m3.4-11.2h0m1.1-2.6h0m3.1 8.6h0m-6.7-5.7h0m10.5-4h0m-4.7-0.6h0m-1.1 3.5h0m5.1-5.7h0m-9.5 7.7h0m2.5 6.3h0m7.7 12.2h0" stroke="#143a5c" stroke-width="2.1" stroke-linecap="round" fill="none"/>
<path d="M289.1 13.7h0m0 3.6h0m-1.8-4.9h0m-5.8 0.7h0m-8.8 19h0m14.9-8.3h0m-0.6-12.5h0m-3.1 9.2h0m-3.5-7.6h0m-6.3 2.2h0m7.7-2.7h0m5.2 3.6h0m-10.8 8.2h0m12.9-12.6h0m-14 16.2h0m-3.3-4.7h0m12.7-10.8h0m2.8 3.4h0m-0.5-5.6h0m1.7 4.9h0m-9.8-0.7h0m4.4-3.5h0m6 7.9h0m-1.7-5.9h0m-4.8-0.3h0m-16.1 7.5h0m12.7-7.6h0m-1.7 1.1h0m1 3.5h0m0.4 9.3h0m8.3-5.8h0m-10-4h0m7.6 0h0m-18.3 3.2h0m21.9-5.1h0m-8.4-2.3h0m5.6 1.4h0m0.1 8.4h0m-2-0.6h0m-0.6-7.5h0m-7 7.5h0m8.7-8.3h0m1 3.9h0m-16-1.7h0m10.1 7.2h0m8.6-7.4h0m-2.8-5.3h0m-4.2 2.6h0m-3.8 16.2h0m3.4-11.2h0m1.1-2.6h0m3.1 8.6h0m-6.7-5.7h0m10.5-4h0m-4.7-0.6h0m-1.1 3.5h0m5.1-5.7h0m-9.5 7.7h0m2.5 6.3h0m7.7 12.2h0" stroke="#2a6ea6" stroke-width="1.2" stroke-linecap="round" fill="none"/>
<path d="M271.6 15.1h0m16.4 4.2h0m-7.2-5h0m8.3 0.7h0m-5.3 6.6h0m3.4-7.9h0m-3.1 9.9h0m2.4-12.5h0m-3.5 6h0m5.8-6.9h0m-2.2 0.5h0m-12.4 6.6h0m4.9-0.6h0m6.2-3h0m0.7 7.3h0m1.4-4.4h0m-3.3-5h0m-4.3 4.3h0m-1.8-1.3h0m-2.3 8.6h0m-9.2 0.2h0m17.5-12.7h0m-2.3 7.5h0m6.1 2.8h0m-6.1-7.3h0m6.5 3.9h0m-13.8-3.2h0m0.6 10.5h0m9.7-13h0m-4 3.1h0m3.2 7.6h0m1.9-11h0m0 4.2h0m-3 3.9h0m3-4.9h0m-4.1-3h0m-8.5 8.8h0m10.4 6.8h0m2.8-3.9h0m-3.3-9.8h0m2.5 7.7h0m-3.7-7h0m-15.4 5.2h0m17.9-4.3h0m-0.8 2.1h0m1.6-7.1h0m2.9 1.1h0m-7.8 3h0m-1-2h0m7.3 1.2h0m-7.9 2.7h0m7.3-0.7h0m-4 4.3h0m6.8-6.3h0m-1.9-2.6h0m-1.4-0.3h0m-6.3 2.9h0m4-2.5h0m1.3 3.7h0m-0.4-3.2h0" stroke="#143a5c" stroke-width="2.1" stroke-linecap="round" fill="none"/>
<path d="M271.6 15.1h0m16.4 4.2h0m-7.2-5h0m8.3 0.7h0m-5.3 6.6h0m3.4-7.9h0m-3.1 9.9h0m2.4-12.5h0m-3.5 6h0m5.8-6.9h0m-2.2 0.5h0m-12.4 6.6h0m4.9-0.6h0m6.2-3h0m0.7 7.3h0m1.4-4.4h0m-3.3-5h0m-4.3 4.3h0m-1.8-1.3h0m-2.3 8.6h0m-9.2 0.2h0m17.5-12.7h0m-2.3 7.5h0m6.1 2.8h0m-6.1-7.3h0m6.5 3.9h0m-13.8-3.2h0m0.6 10.5h0m9.7-13h0m-4 3.1h0m3.2 7.6h0m1.9-11h0m0 4.2h0m-3 3.9h0m3-4.9h0m-4.1-3h0m-8.5 8.8h0m10.4 6.8h0m2.8-3.9h0m-3.3-9.8h0m2.5 7.7h0m-3.7-7h0m-15.4 5.2h0m17.9-4.3h0m-0.8 2.1h0m1.6-7.1h0m2.9 1.1h0m-7.8 3h0m-1-2h0m7.3 1.2h0m-7.9 2.7h0m7.3-0.7h0m-4 4.3h0m6.8-6.3h0m-1.9-2.6h0m-1.4-0.3h0m-6.3 2.9h0m4-2.5h0m1.3 3.7h0m-0.4-3.2h0" stroke="#2a6ea6" stroke-width="1.2" stroke-linecap="round" fill="none"/>
<line x1="54.5" y1="90.5" x2="301.5" y2="4.8" stroke="#111" stroke-width="1.2" stroke-dasharray="4.2 2.5"/>
<rect x="54" y="4.7" width="247.8" height="85.8" fill="none" stroke="#808080" stroke-width="0.9"/>
<line x1="50.4" x2="54" y1="90.5" y2="90.5" stroke="#777" stroke-width="0.8"/>
<text x="46.3" y="93.7" text-anchor="end" font-size="9.3" fill="#141414">0</text>
<line x1="50.4" x2="54" y1="74.2" y2="74.2" stroke="#777" stroke-width="0.8"/>
<text x="46.3" y="77.4" text-anchor="end" font-size="9.3" fill="#141414">20</text>
<line x1="50.4" x2="54" y1="57.9" y2="57.9" stroke="#777" stroke-width="0.8"/>
<text x="46.3" y="61.1" text-anchor="end" font-size="9.3" fill="#141414">40</text>
<line x1="50.4" x2="54" y1="41.5" y2="41.5" stroke="#777" stroke-width="0.8"/>
<text x="46.3" y="44.7" text-anchor="end" font-size="9.3" fill="#141414">60</text>
<line x1="50.4" x2="54" y1="25.2" y2="25.2" stroke="#777" stroke-width="0.8"/>
<text x="46.3" y="28.4" text-anchor="end" font-size="9.3" fill="#141414">80</text>
<line x1="50.4" x2="54" y1="8.9" y2="8.9" stroke="#777" stroke-width="0.8"/>
<text x="46.3" y="12.1" text-anchor="end" font-size="9.3" fill="#141414">100</text>
<line x1="54.5" x2="54.5" y1="90.5" y2="94.4" stroke="#777" stroke-width="0.8"/>
<text x="54.5" y="104.9" text-anchor="middle" font-size="9.3" fill="#141414">0</text>
<line x1="101.6" x2="101.6" y1="90.5" y2="94.4" stroke="#777" stroke-width="0.8"/>
<text x="101.6" y="104.9" text-anchor="middle" font-size="9.3" fill="#141414">0.2</text>
<line x1="148.7" x2="148.7" y1="90.5" y2="94.4" stroke="#777" stroke-width="0.8"/>
<text x="148.7" y="104.9" text-anchor="middle" font-size="9.3" fill="#141414">0.4</text>
<line x1="195.8" x2="195.8" y1="90.5" y2="94.4" stroke="#777" stroke-width="0.8"/>
<text x="195.8" y="104.9" text-anchor="middle" font-size="9.3" fill="#141414">0.6</text>
<line x1="242.9" x2="242.9" y1="90.5" y2="94.4" stroke="#777" stroke-width="0.8"/>
<text x="242.9" y="104.9" text-anchor="middle" font-size="9.3" fill="#141414">0.8</text>
<line x1="290" x2="290" y1="90.5" y2="94.4" stroke="#777" stroke-width="0.8"/>
<text x="290" y="104.9" text-anchor="middle" font-size="9.3" fill="#141414">1.0</text>
<text x="178" y="119.3" text-anchor="middle" font-size="10.3" fill="#141414">TM score</text>
<text transform="translate(23.4 47.6) rotate(-90)" text-anchor="middle" font-size="10.3" fill="#141414">Mean pLDDT</text>
<text x="0.2" y="8.1" font-size="14.4" font-weight="bold" fill="#000" stroke="#000" stroke-width="0.8">a</text>
<rect x="54" y="136.5" width="247.8" height="85.5" fill="none" stroke="#808080" stroke-width="0.9"/>
<line x1="50.4" x2="54" y1="141.3" y2="141.3" stroke="#777" stroke-width="0.8"/>
<text x="46.3" y="144.5" text-anchor="end" font-size="9.3" fill="#141414">1.00</text>
<line x1="50.4" x2="54" y1="168.2" y2="168.2" stroke="#777" stroke-width="0.8"/>
<text x="46.3" y="171.4" text-anchor="end" font-size="9.3" fill="#141414">0.95</text>
<line x1="50.4" x2="54" y1="195.1" y2="195.1" stroke="#777" stroke-width="0.8"/>
<text x="46.3" y="198.3" text-anchor="end" font-size="9.3" fill="#141414">0.90</text>
<line x1="50.4" x2="54" y1="222" y2="222" stroke="#777" stroke-width="0.8"/>
<text x="46.3" y="225.2" text-anchor="end" font-size="9.3" fill="#141414">0.85</text>
<line x1="85.2" x2="85.2" y1="222" y2="225.5" stroke="#777" stroke-width="0.8"/>
<text x="85.2" y="237" text-anchor="middle" font-size="9.4" fill="#141414">Low</text>
<line x1="146.9" x2="146.9" y1="222" y2="225.5" stroke="#777" stroke-width="0.8"/>
<text x="146.9" y="237" text-anchor="middle" font-size="9.4" fill="#141414">Moderate</text>
<line x1="208.9" x2="208.9" y1="222" y2="225.5" stroke="#777" stroke-width="0.8"/>
<text x="208.9" y="237" text-anchor="middle" font-size="9.4" fill="#141414">High</text>
<line x1="270.9" x2="270.9" y1="222" y2="225.5" stroke="#777" stroke-width="0.8"/>
<text x="270.9" y="237" text-anchor="middle" font-size="9.4" fill="#141414">Excellent</text>
<path d="M85.4 189.8h0m2.9 4.6h0m-3.2-4.3h0m-0.5 0.6h0m1.6 3.3h0m1.7-2.9h0m-0.4-1.3h0m-2.2 1.4h0m1.3 1.8h0m-0.6-2.9h0m-1.1 9h0m1.4-2.8h0m0.6 0.1h0m0 2.9h0m-1.5-3.6h0" stroke="#24363a" stroke-width="1" stroke-linecap="round" fill="none" opacity="0.85"/>
<path d="M208 166h0m1.9-4.7h0m-1.9 4.7h0m0.3-0.5h0m2.7-9h0m-3.7 9.1h0m0-8.9h0m2.4 5h0m-1.2 0.6h0m-0.2 3h0m0.4-2.1h0m3.2 0.4h0m-4.4-3.5h0m1-3.4h0m0.6 7.1h0m-1.5 2.1h0m1.3-9h0m0.7 5.4h0m-2 0.7h0m2.9-3.6h0m-3.2 1.3h0m1.4 1h0m0.7 3.6h0m4-6.4h0m-6.9 5.6h0m2.8-3.5h0m3.1 3.9h0m-4.3-0.3h0m2.3-3.8h0m-1.2-1.3h0m-2.3-2.7h0m2.6 3.4h0m-1.8 0.5h0m1.3 0.4h0m-2.2 3h0m3.1-6.6h0m-4.4 3.8h0m3.2 4.5h0m2-3.4h0m-1.1 1.3h0m-1.2 1.4h0m0.2-5h0m-0.3-1.3h0m4.4-1.1h0m-3.9 0.3h0m0.1-1.3h0m-1 8.2h0m0.3-3.5h0m1.6 1.6h0m-1.8-3.3h0m-0.2 0.4h0m0.3 5.6h0m0.3-1.5h0m0.7 0.5h0m-0.9 1h0m0.4-1.4h0m-0.7-2h0m2.7 1.6h0m-1.6 1.3h0m-0.5-6.3h0m0.8 6.8h0m-0.5-1.2h0m-2.1-4.3h0m1.9 2.9h0m2.6-2.5h0m-1.6 5.1h0m0.9-8.4h0m-2.5 5.9h0m-1.2-4.6h0m1.1 4.4h0m2.9-4.5h0m-3.3 7.4h0m0.3-1.7h0m2.6-7.6h0m-1.9 9.1h0m0.1-7.4h0m0.8 5h0m-0.4-1h0m-0.5 1.8h0m0.8-0.5h0m-1.4-6.9h0m0.9 5.8h0m1 2.8h0m-2.4-6h0m1.2 5.4h0m-1.3-2.9h0m2.6-2.7h0m-0.1 3.5h0m0.4 3h0m0.1-5.9h0m-3.5 45h0m1.9-0.3h0m0.6 2.9h0m-1.5-3.2h0m3.6-0.8h0m-5.6 0.6h0m4.1-1.5h0m-3.9 3.3h0m0.5-3.4h0m0.4 1.7h0m2.8-2h0m-1.9 3.7h0m0.1-2.4h0m-0.4 2.9h0m-0.9-3.9h0m0.9 1.8h0m-0.1 2.8h0m1-1.1h0m-0.1-3.3h0m-3.1-0.5h0m2.7 2.8h0m2.8 3h0m-2.6-4.3h0m0.6 2.1h0m-1-0.2h0m0.1 2.4h0m0.9-4.2h0m-1.9-1.6h0m1.8 0h0m-2.3 5.2h0m3-4.7h0m-2.9 2.2h0m3.4 0.4h0m0.5 2.1h0m-4-3.5h0m3.5-1h0m-1.6 4.5h0m2.3-2.3h0m-2.5 3h0m0.3-1.7h0m0-0.9h0m2.4-1.3h0m-4.8-2.2h0m4 4.7h0m-1-3.2h0m-0.9-1.4h0m0.4 4h0m1.8 2h0m-0.2-2.1h0m1.3-3.5h0m-3.5 0.9h0m-1.9 0h0m2-0.2h0m0.6 2.4h0m-0.4 0.3h0m2.5-2.9h0m1.6 0.7h0m-2.9-0.4h0m-3.2-0.4h0m4.2 2.5h0m-2.5 1.1h0m1-0.6h0m1.2 2h0m-0.7-0.2h0m-0.7 0.2h0m0.6-1.5h0m0.7-2.9h0m-0.2 2.6h0m2.1 1.8h0m-7.6-4.9h0m3.5 8h0m0.9 2h0m0.7-0.1h0m-0.5-4.6h0m-0.3 1.1h0" stroke="#24363a" stroke-width="1" stroke-linecap="round" fill="none" opacity="0.85"/>
<path d="M269.4 167.4h0m-2.7 1.9h0m5.4-4.5h0m-2.2-3.5h0m-1.6 6.1h0m3.4 0.7h0m-1.4-8.2h0m-1.3 4.6h0m-0.6-6h0m2.1 2.5h0m0.4 7.8h0m-3.4-5.4h0m5 5.7h0m-4.1 0h0m4.8-4.7h0m-1.9 5.1h0m-0.9-0.8h0m0.9-10.1h0m-1.6 9.6h0m0.9-5h0m3.1 0.1h0m-4 2.4h0m2.5-4.6h0m-3.1 7.8h0m1.6 0.3h0m1.8-7.3h0m-3.9 5.9h0m2.7 1.1h0m-4.5-2.9h0m1.9-2.4h0m1.3 2.3h0m2.3-4.3h0m-0.3 6.2h0m-2.9-6h0m1.4-2.2h0m0.6 5.5h0m-3.2-1.2h0m3.6 1.4h0m1.7 2.9h0m-0.2 0.4h0m-3.3-5.5h0m0.3 6h0m-1-1.9h0m0.8 0.4h0m0.5-7.4h0m1.6 5.6h0m-1 2.6h0m-1.9-1.5h0m3.2 2.5h0m0.1-1.1h0m-2.7-4.6h0m0.7 4.9h0m0.2-0.4h0m-2.7-8.5h0m3.2 8.7h0m0.9-3.2h0m2.3-7h0m-3.1 11.2h0m-0.9-2.2h0m0.3-5.4h0m1.3 0.6h0m0.4 2.2h0m-3-1.3h0m1.9 5.8h0m0.8 0.3h0m-4.8-0.2h0m6.1-9.2h0m-2.9 9h0m2-5.4h0m-1.7 5.8h0m-0.3-9.2h0m0.3 2.1h0m0.6-1.3h0m1.1-2.5h0m-2 5.7h0m-1.6-3.9h0m0.8-2.2h0m-0.5 11.2h0m3.1 0.2h0m-3.1-6.7h0m0.8 45.7h0m0.3-8.6h0m0.8 6.5h0m-1.6-4.7h0m-1.4-2.3h0m4 3.8h0m1.8 3.5h0m-6.2-2.8h0m3.2-4.4h0m1.6 7.4h0m-3.3-4.5h0m-0.4 1.2h0m2.4-1.4h0m-0.5 5.9h0m-0.6-4.7h0m3.6 3h0m-0.2 1.5h0m-1.3-3.9h0m-1.2 2.7h0m-0.4-6.2h0m1.9-0.1h0m-1.8 5.1h0m2.8-0.7h0m-0.4 3.2h0m-2.9-6.3h0m2.1-1.4h0m1.3 2h0m-1.4 4.9h0m-2.6-3.7h0m1.1-2.2h0m-0.1 1.7h0m0.7 2.4h0m-0.1-5.6h0m-0.6 5.3h0m1.9-2.7h0m0.8 4.7h0m-3-0.9h0m-1.5-0.4h0m3-6.3h0m-0.6 3.9h0m0.6-3.9h0m-1.7 2.2h0m1.5-1.5h0m-1.9 2.7h0m3.2-2.4h0m1 0.9h0m-4.2 4.2h0m-2.7 0.3h0m3.4-0.2h0m-0.1-0.3h0m1.2-3.7h0m-0.3-2.3h0m0.8 0.1h0m3.5 4.3h0m-5.2 4.3h0m0.3-5h0m1.3-0.4h0m-3.7 4.2h0m4.3-5h0m-2.3-1.3h0m-1.3 7.3h0m1-8.6h0m2.1 4.1h0m0.6-3.1h0m0.6 0.5h0m-1.3 7h0m-1.8-3h0m2-1.3h0m-1-3.7h0m3.9 7.8h0m-7.1-5.2h0m5.9-2.6h0m-1.3 3.7h0m-0.6-3.8h0m-0.8 7.1h0m-0.8-4.6h0m-0.6-1.1h0m-1-0.3h0m5.8-0.3h0m-1.8-0.1h0m-0.4 3.7h0m-0.5-3.9h0m-3.6 3.3h0m2.6 3.5h0m0.6-1.5h0m1.7-2.1h0m-3.5-1h0m2.1-0.8h0m-0.8-0.8h0m0.4 1.5h0m-1.3 6.1h0m1.8-4.9h0m-0.4-2.3h0m-3.1-0.2h0m4.9 1.5h0m1.6 0.1h0m-4.9-1h0m3.2 1.9h0m-3.4 2h0m0.7-0.4h0m3.7 0.3h0m-2.5-2.1h0m2.1 3.2h0m-2-6.8h0m1.2 4.1h0m-1.9 2.7h0m2.6-1h0m0.5 2.5h0m-1.7-8h0m-2 4.7h0m0.3 1.3h0m-0.9-3.9h0m2.5-1.3h0m-0.2 1.7h0m-1.9 4h0m2.6-5.9h0m-2.4 5.4h0m3.8-0.4h0m-1.6-2.1h0m1.2-0.3h0m-3.6 4.6h0m-0.5-7.8h0m-1.3-0.4h0m3.9 3.6h0m-2.8-3.5h0m4 1.2h0m-2-0.9h0m1 7.9h0m-3.2-4.8h0m1.1-2.2h0m1.2 0.5h0m0.9-1.1h0m-3.2 1.5h0m2.6-1.5h0m-1.9 6.3h0m2.6-3h0m-1.6-3.8h0m-0.2 7h0m1.2-4.2h0m1.2-3.2h0m-2.3 6.3h0m2.4-1h0m-3.6-1.6h0m2.1-0.9h0m-2.3 3.2h0m2.2 2.8h0m-1.8-5.2h0m1.5 4.3h0m0.9-3.8h0m-2.5-2.8h0m1.1 8.2h0m1.1 1.9h0m-1.6-1.2h0m1.3 0.8h0m0.7-0.4h0m-1.8 1h0" stroke="#24363a" stroke-width="1" stroke-linecap="round" fill="none" opacity="0.85"/>
<line x1="85.2" x2="85.2" y1="155.4" y2="159.3" stroke="#555" stroke-width="1"/>
<line x1="85.2" x2="85.2" y1="171.8" y2="189.4" stroke="#555" stroke-width="1"/>
<line x1="77.2" x2="93.2" y1="155.4" y2="155.4" stroke="#333" stroke-width="1"/>
<line x1="77.2" x2="93.2" y1="189.4" y2="189.4" stroke="#333" stroke-width="1"/>
<path d="M69.6 159.3H100.8V161.9L93.2 163.2L100.8 164.4V171.8H69.6V164.4L77.2 163.2L69.6 161.9Z" fill="#cf3a36" stroke="#3a3a3a" stroke-width="0.8" stroke-linejoin="miter"/>
<line x1="77.2" x2="93.2" y1="163.2" y2="163.2" stroke="#1a1a1a" stroke-width="1.2"/>
<line x1="146.9" x2="146.9" y1="156.4" y2="173.3" stroke="#555" stroke-width="1"/>
<line x1="146.9" x2="146.9" y1="187.5" y2="205.4" stroke="#555" stroke-width="1"/>
<line x1="138.9" x2="154.9" y1="156.4" y2="156.4" stroke="#333" stroke-width="1"/>
<line x1="138.9" x2="154.9" y1="205.4" y2="205.4" stroke="#333" stroke-width="1"/>
<path d="M131.3 173.3H162.5V181.1L154.9 182.3L162.5 183.6V187.5H131.3V183.6L138.9 182.3L131.3 181.1Z" fill="#ee8826" stroke="#3a3a3a" stroke-width="0.8" stroke-linejoin="miter"/>
<line x1="138.9" x2="154.9" y1="182.3" y2="182.3" stroke="#1a1a1a" stroke-width="1.2"/>
<line x1="208.9" x2="208.9" y1="166.3" y2="179.2" stroke="#555" stroke-width="1"/>
<line x1="208.9" x2="208.9" y1="188.5" y2="201.5" stroke="#555" stroke-width="1"/>
<line x1="200.9" x2="216.9" y1="166.3" y2="166.3" stroke="#333" stroke-width="1"/>
<line x1="200.9" x2="216.9" y1="201.5" y2="201.5" stroke="#333" stroke-width="1"/>
<path d="M193.3 179.2H224.5V182.8L216.9 184L224.5 185.2V188.5H193.3V185.2L200.9 184L193.3 182.8Z" fill="#3a993a" stroke="#3a3a3a" stroke-width="0.8" stroke-linejoin="miter"/>
<line x1="200.9" x2="216.9" y1="184" y2="184" stroke="#1a1a1a" stroke-width="1.2"/>
<line x1="270.9" x2="270.9" y1="169.9" y2="180.4" stroke="#555" stroke-width="1"/>
<line x1="270.9" x2="270.9" y1="188.4" y2="199" stroke="#555" stroke-width="1"/>
<line x1="262.9" x2="278.9" y1="169.9" y2="169.9" stroke="#333" stroke-width="1"/>
<line x1="262.9" x2="278.9" y1="199" y2="199" stroke="#333" stroke-width="1"/>
<path d="M255.3 180.4H286.5V182.8L278.9 184.1L286.5 185.3V188.4H255.3V185.3L262.9 184.1L255.3 182.8Z" fill="#2f78b2" stroke="#3a3a3a" stroke-width="0.8" stroke-linejoin="miter"/>
<line x1="262.9" x2="278.9" y1="184.1" y2="184.1" stroke="#1a1a1a" stroke-width="1.2"/>
<line x1="102.8" x2="129" y1="152.8" y2="152.8" stroke="#888" stroke-width="0.9"/>
<line x1="115.9" x2="115.9" y1="150.3" y2="152.8" stroke="#888" stroke-width="0.7"/>
<path d="M110.5 141.6L111.2 143.1L112.9 143.3L111.6 144.5L112 146.1L110.5 145.3L109 146.1L109.4 144.5L108.1 143.3L109.8 143.1Z" fill="#141414"/>
<path d="M115.9 141.6L116.6 143.1L118.3 143.3L117 144.5L117.4 146.1L115.9 145.3L114.4 146.1L114.8 144.5L113.5 143.3L115.2 143.1Z" fill="#141414"/>
<path d="M121.3 141.6L122 143.1L123.7 143.3L122.4 144.5L122.8 146.1L121.3 145.3L119.8 146.1L120.2 144.5L118.9 143.3L120.6 143.1Z" fill="#141414"/>
<line x1="165.3" x2="190.7" y1="151.5" y2="151.5" stroke="#888" stroke-width="0.9"/>
<line x1="178" x2="178" y1="149" y2="151.5" stroke="#888" stroke-width="0.7"/>
<path d="M175.3 140.3L176 141.8L177.7 142L176.4 143.2L176.8 144.8L175.3 144L173.8 144.8L174.2 143.2L172.9 142L174.6 141.8Z" fill="#141414"/>
<path d="M180.7 140.3L181.4 141.8L183.1 142L181.8 143.2L182.2 144.8L180.7 144L179.2 144.8L179.6 143.2L178.3 142L180 141.8Z" fill="#141414"/>
<line x1="227" x2="252.7" y1="150.2" y2="150.2" stroke="#888" stroke-width="0.9"/>
<line x1="239.8" x2="239.8" y1="147.7" y2="150.2" stroke="#888" stroke-width="0.7"/>
<path d="M234.4 139L235.2 140.5L236.8 140.7L235.6 141.9L235.9 143.5L234.4 142.7L233 143.5L233.3 141.9L232.1 140.7L233.7 140.5Z" fill="#141414"/>
<path d="M239.8 139L240.6 140.5L242.2 140.7L241 141.9L241.3 143.5L239.8 142.7L238.4 143.5L238.7 141.9L237.5 140.7L239.1 140.5Z" fill="#141414"/>
<path d="M245.2 139L246 140.5L247.6 140.7L246.4 141.9L246.7 143.5L245.2 142.7L243.8 143.5L244.1 141.9L242.9 140.7L244.5 140.5Z" fill="#141414"/>
<polyline points="85.2,178.5 146.9,176.8 208.9,176.1 270.9,174.7" fill="none" stroke="#1f1fff" stroke-width="1" stroke-dasharray="3 1.6"/>
<path d="M85.2 174.9L86.2 177.1L88.6 177.4L86.8 179L87.3 181.4L85.2 180.2L83.1 181.4L83.6 179L81.8 177.4L84.2 177.1Z" fill="#b000ff" stroke="#1010ff" stroke-width="1"/>
<path d="M146.9 173.2L147.9 175.4L150.3 175.7L148.5 177.3L149 179.7L146.9 178.5L144.8 179.7L145.3 177.3L143.5 175.7L145.9 175.4Z" fill="#b000ff" stroke="#1010ff" stroke-width="1"/>
<path d="M208.9 172.5L209.9 174.7L212.3 175L210.5 176.6L211 179L208.9 177.8L206.8 179L207.3 176.6L205.5 175L207.9 174.7Z" fill="#b000ff" stroke="#1010ff" stroke-width="1"/>
<path d="M270.9 171.1L271.9 173.3L274.3 173.6L272.5 175.2L273 177.6L270.9 176.4L268.8 177.6L269.3 175.2L267.5 173.6L269.9 173.3Z" fill="#b000ff" stroke="#1010ff" stroke-width="1"/>
<text x="-0.3" y="133" font-size="14.2" font-weight="bold" fill="#000" stroke="#000" stroke-width="0.8">b</text>
<text transform="translate(8.3 180.6) rotate(-90)" text-anchor="middle" font-size="10.5" fill="#141414">Cosine similarity</text>
<text transform="translate(18.9 180.6) rotate(-90)" text-anchor="middle" font-size="10.5" fill="#141414">against random</text>
<rect x="54" y="258.4" width="102.2" height="84.2" fill="none" stroke="#808080" stroke-width="0.9"/>
<line x1="50.4" x2="54" y1="258.5" y2="258.5" stroke="#777" stroke-width="0.8"/>
<text x="46.3" y="261.7" text-anchor="end" font-size="9.3" fill="#141414">1.0</text>
<line x1="50.4" x2="54" y1="274.6" y2="274.6" stroke="#777" stroke-width="0.8"/>
<text x="46.3" y="277.8" text-anchor="end" font-size="9.3" fill="#141414">0.8</text>
<line x1="50.4" x2="54" y1="290.8" y2="290.8" stroke="#777" stroke-width="0.8"/>
<text x="46.3" y="294" text-anchor="end" font-size="9.3" fill="#141414">0.6</text>
<line x1="50.4" x2="54" y1="306.9" y2="306.9" stroke="#777" stroke-width="0.8"/>
<text x="46.3" y="310.1" text-anchor="end" font-size="9.3" fill="#141414">0.4</text>
<line x1="50.4" x2="54" y1="323.1" y2="323.1" stroke="#777" stroke-width="0.8"/>
<text x="46.3" y="326.3" text-anchor="end" font-size="9.3" fill="#141414">0.2</text>
<line x1="50.4" x2="54" y1="339.2" y2="339.2" stroke="#777" stroke-width="0.8"/>
<text x="46.3" y="342.4" text-anchor="end" font-size="9.3" fill="#141414">0</text>
<line x1="64.6" x2="64.6" y1="343" y2="346.8" stroke="#777" stroke-width="0.8"/>
<line x1="85" x2="85" y1="343" y2="346.8" stroke="#777" stroke-width="0.8"/>
<line x1="105.3" x2="105.3" y1="343" y2="346.8" stroke="#777" stroke-width="0.8"/>
<line x1="125.9" x2="125.9" y1="343" y2="346.8" stroke="#777" stroke-width="0.8"/>
<line x1="146.4" x2="146.4" y1="343" y2="346.8" stroke="#777" stroke-width="0.8"/>
<text transform="translate(68.8 355) rotate(-45)" text-anchor="end" font-size="9.5" fill="#141414">10</text>
<text transform="translate(89.2 355) rotate(-45)" text-anchor="end" font-size="9.5" fill="#141414">50</text>
<text transform="translate(109.5 355) rotate(-45)" text-anchor="end" font-size="9.5" fill="#141414">100</text>
<text transform="translate(130.1 355) rotate(-45)" text-anchor="end" font-size="9.5" fill="#141414">500</text>
<text transform="translate(150.6 355) rotate(-45)" text-anchor="end" font-size="9.5" fill="#141414">1,000</text>
<polyline points="64.6,338.8 85,338.8 105.3,338.8 125.9,338.8 146.4,338.8" fill="none" stroke="#1f77b4" stroke-width="1.1"/>
<circle cx="64.6" cy="338.8" r="1.3" fill="#1f77b4"/>
<circle cx="85" cy="338.8" r="1.3" fill="#1f77b4"/>
<circle cx="105.3" cy="338.8" r="1.3" fill="#1f77b4"/>
<circle cx="125.9" cy="338.8" r="1.3" fill="#1f77b4"/>
<circle cx="146.4" cy="338.8" r="1.3" fill="#1f77b4"/>
<polyline points="64.6,338.2 85,337.6 105.3,337.3 125.9,336.1 146.4,335.2" fill="none" stroke="#2ca02c" stroke-width="1.1"/>
<circle cx="64.6" cy="338.2" r="1.3" fill="#2ca02c"/>
<circle cx="85" cy="337.6" r="1.3" fill="#2ca02c"/>
<circle cx="105.3" cy="337.3" r="1.3" fill="#2ca02c"/>
<circle cx="125.9" cy="336.1" r="1.3" fill="#2ca02c"/>
<circle cx="146.4" cy="335.2" r="1.3" fill="#2ca02c"/>
<polyline points="64.6,330.5 85,329.2 105.3,328 125.9,325.1 146.4,323.4" fill="none" stroke="#ff8a1e" stroke-width="1.1"/>
<path d="M64.6 328.7V332.3M62.4 328.7H66.8M62.4 332.3H66.8" stroke="#ff8a1e" stroke-width="0.9" fill="none"/>
<circle cx="64.6" cy="330.5" r="1.3" fill="#ff8a1e"/>
<path d="M85 327.4V331M82.8 327.4H87.2M82.8 331H87.2" stroke="#ff8a1e" stroke-width="0.9" fill="none"/>
<circle cx="85" cy="329.2" r="1.3" fill="#ff8a1e"/>
<path d="M105.3 326.2V329.8M103.1 326.2H107.5M103.1 329.8H107.5" stroke="#ff8a1e" stroke-width="0.9" fill="none"/>
<circle cx="105.3" cy="328" r="1.3" fill="#ff8a1e"/>
<path d="M125.9 323.3V326.9M123.7 323.3H128.1M123.7 326.9H128.1" stroke="#ff8a1e" stroke-width="0.9" fill="none"/>
<circle cx="125.9" cy="325.1" r="1.3" fill="#ff8a1e"/>
<path d="M146.4 321.6V325.2M144.2 321.6H148.6M144.2 325.2H148.6" stroke="#ff8a1e" stroke-width="0.9" fill="none"/>
<circle cx="146.4" cy="323.4" r="1.3" fill="#ff8a1e"/>
<polyline points="64.6,290.5 85,287.8 105.3,286.7 125.9,283.7 146.4,282.3" fill="none" stroke="#d62728" stroke-width="1.1"/>
<path d="M64.6 288.5V292.6M62.4 288.5H66.8M62.4 292.6H66.8" stroke="#d62728" stroke-width="0.9" fill="none"/>
<circle cx="64.6" cy="290.5" r="1.3" fill="#d62728"/>
<path d="M85 285.8V289.8M82.8 285.8H87.2M82.8 289.8H87.2" stroke="#d62728" stroke-width="0.9" fill="none"/>
<circle cx="85" cy="287.8" r="1.3" fill="#d62728"/>
<path d="M105.3 284.6V288.7M103.1 284.6H107.5M103.1 288.7H107.5" stroke="#d62728" stroke-width="0.9" fill="none"/>
<circle cx="105.3" cy="286.7" r="1.3" fill="#d62728"/>
<path d="M125.9 281.7V285.7M123.7 281.7H128.1M123.7 285.7H128.1" stroke="#d62728" stroke-width="0.9" fill="none"/>
<circle cx="125.9" cy="283.7" r="1.3" fill="#d62728"/>
<path d="M146.4 280.3V284.3M144.2 280.3H148.6M144.2 284.3H148.6" stroke="#d62728" stroke-width="0.9" fill="none"/>
<circle cx="146.4" cy="282.3" r="1.3" fill="#d62728"/>
<text x="-0.3" y="259.2" font-size="14.2" font-weight="bold" fill="#000" stroke="#000" stroke-width="0.8">d</text>
<text transform="translate(24.6 300.5) rotate(-90)" text-anchor="middle" font-size="9.8" fill="#141414">RNS<tspan font-size="7.5" font-style="italic" dy="2.2">k</tspan><tspan dy="-2.2">(</tspan><tspan font-style="italic">P</tspan><tspan font-size="7.5" font-style="italic" dy="2.2">i</tspan><tspan dy="-2.2">)</tspan></text>
<text x="105.4" y="385.5" text-anchor="middle" font-size="11" font-style="italic" fill="#141414">k</text>
<rect x="208.6" y="258.4" width="102.6" height="84.2" fill="none" stroke="#808080" stroke-width="0.9"/>
<line x1="205" x2="208.6" y1="269.6" y2="269.6" stroke="#777" stroke-width="0.8"/>
<text x="201.2" y="272.8" text-anchor="end" font-size="9.3" fill="#141414">−0.2</text>
<line x1="205" x2="208.6" y1="292.4" y2="292.4" stroke="#777" stroke-width="0.8"/>
<text x="201.2" y="295.6" text-anchor="end" font-size="9.3" fill="#141414">−0.4</text>
<line x1="205" x2="208.6" y1="315.2" y2="315.2" stroke="#777" stroke-width="0.8"/>
<text x="201.2" y="318.4" text-anchor="end" font-size="9.3" fill="#141414">−0.6</text>
<line x1="205" x2="208.6" y1="338" y2="338" stroke="#777" stroke-width="0.8"/>
<text x="201.2" y="341.2" text-anchor="end" font-size="9.3" fill="#141414">−0.8</text>
<line x1="213.2" x2="213.2" y1="343" y2="346.8" stroke="#777" stroke-width="0.8"/>
<line x1="236.5" x2="236.5" y1="343" y2="346.8" stroke="#777" stroke-width="0.8"/>
<line x1="259.8" x2="259.8" y1="343" y2="346.8" stroke="#777" stroke-width="0.8"/>
<line x1="283.2" x2="283.2" y1="343" y2="346.8" stroke="#777" stroke-width="0.8"/>
<line x1="306.5" x2="306.5" y1="343" y2="346.8" stroke="#777" stroke-width="0.8"/>
<text transform="translate(217.4 355) rotate(-45)" text-anchor="end" font-size="9.5" fill="#141414">10</text>
<text transform="translate(240.7 355) rotate(-45)" text-anchor="end" font-size="9.5" fill="#141414">50</text>
<text transform="translate(264 355) rotate(-45)" text-anchor="end" font-size="9.5" fill="#141414">100</text>
<text transform="translate(287.4 355) rotate(-45)" text-anchor="end" font-size="9.5" fill="#141414">500</text>
<text transform="translate(310.7 355) rotate(-45)" text-anchor="end" font-size="9.5" fill="#141414">1,000</text>
<line x1="208.6" x2="311.2" y1="287.2" y2="287.2" stroke="#999" stroke-width="0.6" stroke-dasharray="1.5 1"/>
<line x1="208.6" x2="311.2" y1="326.2" y2="326.2" stroke="#999" stroke-width="0.6" stroke-dasharray="1.5 1"/>
<polyline points="213.2,281.8 236.5,284.9 259.8,286 283.2,287.7 306.5,287.2" fill="none" stroke="#111" stroke-width="0.9"/>
<circle cx="213.2" cy="281.8" r="2" fill="#000"/>
<circle cx="236.5" cy="284.9" r="2" fill="#000"/>
<circle cx="259.8" cy="286" r="2" fill="#000"/>
<circle cx="283.2" cy="287.7" r="2" fill="#000"/>
<circle cx="306.5" cy="287.2" r="2" fill="#000"/>
<polyline points="213.2,323.1 236.5,325 259.8,325.7 283.2,326.2 306.5,326.2" fill="none" stroke="#1515ee" stroke-width="0.9" stroke-dasharray="3 1.5"/>
<rect x="211.2" y="321.1" width="4" height="4" fill="#1515ee"/>
<rect x="234.5" y="323" width="4" height="4" fill="#1515ee"/>
<rect x="257.8" y="323.7" width="4" height="4" fill="#1515ee"/>
<rect x="281.2" y="324.2" width="4" height="4" fill="#1515ee"/>
<rect x="304.5" y="324.2" width="4" height="4" fill="#1515ee"/>
<line x1="221.3" x2="231.8" y1="269.7" y2="269.7" stroke="#111" stroke-width="0.9"/>
<circle cx="226.5" cy="269.7" r="2" fill="#000"/>
<text x="235.8" y="272.8" font-size="11" font-style="italic" fill="#111">τ</text>
<line x1="252.8" x2="262.2" y1="269.7" y2="269.7" stroke="#1515ee" stroke-width="0.9" stroke-dasharray="2.5 1.3"/>
<rect x="256.2" y="267.7" width="4" height="4" fill="#1515ee"/>
<text x="267.3" y="272.8" font-size="11" font-style="italic" fill="#111">ρ</text>
<text x="167.7" y="259.2" font-size="14.2" font-weight="bold" fill="#000" stroke="#000" stroke-width="0.8">e</text>
<text transform="translate(176.6 300.8) rotate(-90)" text-anchor="middle" font-size="10.3" fill="#141414">Correlation</text>
<text x="259.8" y="385.5" text-anchor="middle" font-size="11" font-style="italic" fill="#141414">k</text>
<text x="328.3" y="10.6" font-size="14.2" font-weight="bold" fill="#000" stroke="#000" stroke-width="0.8">c</text>
<path d="M385 67.6C392 66.1 407.6 63.3 420 60C432.4 56.7 434.4 53.1 447 51C459.6 48.9 473 50.1 483 49.4C493 48.7 491.3 48.1 497 47.5C502.7 46.9 505.9 46.2 511.5 46.3C517.1 46.4 520 47.7 525 48.2C530 48.7 531.6 48.4 536.6 49C541.6 49.6 544.3 50.2 550 51C555.7 51.8 559.4 52.3 565 53C570.6 53.7 573 53.8 578 54.5C583 55.2 585.6 55.7 590 56.5C594.4 57.3 595.7 57.6 600 58.5C604.3 59.4 607.3 59.8 611.7 60.8C616.1 61.8 617.3 62.1 622 63.5C626.7 64.9 632.4 66.8 635 67.6Z" fill="#c9c9c9" stroke="#555" stroke-opacity="0.45" stroke-width="0.6"/>
<path d="M372 67.6C373.6 67.4 377.4 67.4 380 66.5C382.6 65.6 383.4 64.7 385 63C386.6 61.3 386.9 59.8 388 58C389.1 56.2 389.4 55.6 390.4 54.2C391.4 52.8 391.8 51.8 393 51C394.2 50.2 395 51 396.2 50.3C397.4 49.6 397.8 49.2 398.8 47.7C399.8 46.2 400.4 45.4 401.4 42.6C402.4 39.8 403.1 36.9 404 33.5C404.9 30.1 405.1 28.6 405.9 25.7C406.7 22.8 406.8 21.5 407.8 19.2C408.8 16.9 409.9 15.1 411.1 14.3C412.3 13.5 412.7 14.4 413.7 15.1C414.7 15.8 415.3 17 416.3 18C417.3 19 417.9 20 418.9 19.9C419.9 19.8 420.2 18.9 421.5 17.3C422.8 15.7 423.9 13.8 425.3 12.1C426.7 10.4 427.7 9.7 428.6 8.9C429.5 8.1 429.3 8 430 8.2C430.7 8.4 431.2 8.6 432 10C432.8 11.4 433 11.6 434 15C435 18.4 435.6 21.6 437 27C438.4 32.4 439.2 36.6 441 42C442.8 47.4 444 50 446 54C448 58 448.8 59.5 451 62C453.2 64.5 454 65.4 457 66.5C460 67.6 464.2 67.4 466 67.6Z" fill="#3a7dbd" stroke="#555" stroke-opacity="0.45" stroke-width="0.6"/>
<path d="M374 67.6C375.6 67.2 378.9 66.6 382 65.7C385.1 64.8 386.7 64.2 389.4 63.3C392.1 62.4 393.7 62.4 395.7 61C397.7 59.6 398.1 58.4 399.5 56.5C400.9 54.6 401.6 53.8 402.7 51.7C403.8 49.6 403.8 48.6 405 46C406.2 43.4 407 41.6 408.5 38.7C410 35.8 410.8 33.4 412.4 31.6C414 29.8 414.5 30.3 416.3 29.6C418.1 28.9 419.7 28.8 421.5 28.3C423.3 27.8 423.6 28 425.3 27C427 26 428.5 25.1 430 23.1C431.5 21.1 431.9 19.3 433 17C434.1 14.7 434.5 13.2 435.5 11.5C436.5 9.8 437.1 9.3 438 8.6C438.9 7.9 439.2 8 440 8C440.8 8 441.1 7.8 442 8.6C442.9 9.4 443.6 10.1 444.6 12C445.6 13.9 445.7 14.4 447 18C448.3 21.6 449.4 25 451 30C452.6 35 453.4 37.8 455 43C456.6 48.2 457.2 51.8 459 56C460.8 60.2 461.4 61.7 464 64C466.6 66.3 470.4 66.9 472 67.6Z" fill="#3b9d3b" stroke="#555" stroke-opacity="0.45" stroke-width="0.6"/>
<path d="M372 67.6C373.9 67.4 377.4 67.3 381.7 66.4C386 65.5 389.4 65 393.3 63.3C397.2 61.6 398 60.1 401.1 57.9C404.2 55.7 405.8 54.2 408.9 52.4C412 50.6 413.7 50.2 416.5 48.8C419.3 47.4 420.7 47.2 422.7 45.2C424.7 43.2 425.1 41 426.6 38.7C428.1 36.4 428.7 35.6 430 33.5C431.3 31.4 431.9 30.3 433 28C434.1 25.7 434.5 24.2 435.5 22C436.5 19.8 437.1 18.4 438 17C438.9 15.6 439.2 15.5 440 15C440.8 14.5 441.1 14.3 442 14.3C442.9 14.3 443.5 14.3 444.5 15.2C445.5 16.1 446 17 447.1 19C448.2 21 448.8 22.3 450 25C451.2 27.7 451.8 29.5 453 32.5C454.2 35.5 454.9 37.2 456 40C457.1 42.8 457.5 44 458.5 46.5C459.5 49 459.7 50 461 52.5C462.3 55 463.2 56.6 465 59C466.8 61.4 467.4 62.8 470 64.5C472.6 66.2 476.4 67 478 67.6Z" fill="#ef8a1f" stroke="#555" stroke-opacity="0.45" stroke-width="0.6"/>
<path d="M378 67.6C380.4 67.4 385.6 67.2 390 66.8C394.4 66.4 396 66.2 400 65.6C404 65 406.6 64.5 410 63.8C413.4 63.1 414 62.8 417 62C420 61.2 421.7 61 425 59.8C428.3 58.6 430.5 57.4 433.7 56C436.9 54.6 438.3 53.7 441 52.6C443.7 51.5 444.1 51.1 447.1 50.6C450.1 50.1 451.4 50.2 456 50.2C460.6 50.2 464.8 50.4 470 50.5C475.2 50.6 477 50.8 482 50.8C487 50.8 490.2 50.7 495 50.6C499.8 50.5 501.3 50.4 506 50.1C510.7 49.8 514.5 49.3 518.7 49.3C522.9 49.3 523.5 49.5 527 50.2C530.5 50.9 532.4 51.6 536 53C539.6 54.4 541.8 55.5 545 57C548.2 58.5 549.4 59.4 552 60.5C554.6 61.6 554.8 61.8 558 62.4C561.2 63 563.6 63.1 568 63.3C572.4 63.5 574.8 63.5 580 63.4C585.2 63.3 589.4 62.6 593.8 62.6C598.2 62.6 598.4 62.7 602 63.2C605.6 63.7 608.4 64.3 612 65C615.6 65.7 617 66.1 620 66.6C623 67.1 625.6 67.4 627 67.6Z" fill="#d93535" stroke="#555" stroke-opacity="0.45" stroke-width="0.6"/>
<line x1="328.7" x2="676" y1="67.6" y2="67.6" stroke="#555" stroke-width="0.9"/>
<path d="M485.4 115.8C488.1 114.7 492.9 115 496.8 114.8C500.6 114.6 504.7 114.7 508.6 114.7C512.6 114.7 517.1 114.4 520.5 114.7C523.8 114.9 526.1 115.1 528.7 116.3C531.3 117.6 533.5 120.4 535.9 122.2C538.3 124.1 540.7 126.1 543.1 127.4C545.4 128.7 547.7 129.6 550.2 129.8C552.7 130 555.3 129.4 558.3 128.5C561.3 127.6 565.5 124.9 568.2 124.5C571 124 572.8 124.7 574.8 125.8C576.7 126.9 578.7 128.9 580.1 131.1C581.4 133.2 581.2 136.3 582.8 138.9C584.4 141.5 587 144.3 589.5 146.7C591.9 149.2 595 151 597.4 153.4C599.8 155.8 601.3 158.9 604 161.4C606.6 163.8 609.9 166.1 613.2 168.1C616.4 170.1 620.2 172 623.6 173.3C627.1 174.6 631.4 174.7 633.9 176C636.5 177.3 638.1 179.1 639.2 181.3C640.3 183.5 640.9 186.8 640.5 189.2C640.1 191.7 638.6 193.6 637 195.9C635.4 198.3 631.8 200.8 631 203.4C630.2 205.9 631.5 208.7 632 211.3C632.5 213.9 634.2 216.5 634.1 219.1C634 221.7 632.9 224.6 631.4 227C630 229.5 628.1 231.9 625.4 233.7C622.6 235.5 618.1 236.6 615 237.7C612 238.8 609 239.4 607.2 240.3C605.3 241.3 604.2 242 603.8 243.4C603.4 244.8 604.2 247 605 248.9C605.8 250.9 607.7 253 608.6 255C609.6 257 610.4 259 610.6 261C610.8 263 610.7 265.3 609.8 267.1C609 268.8 607.4 270.5 605.5 271.6C603.5 272.8 600.8 273.5 598.1 273.8C595.3 274.1 591.2 274 588.9 273.6C586.5 273.2 586.3 272.1 584 271.2C581.7 270.4 578 269.2 574.9 268.6C571.8 268 568.7 267 565.6 267.7C562.5 268.5 559.1 271.1 556.3 273.2C553.6 275.3 552 278.3 549 280.4C545.9 282.5 541.3 284.6 537.9 285.9C534.5 287.2 531.7 287.7 528.6 288.1C525.6 288.4 522.9 288.4 519.5 288C516.1 287.7 512.1 286.6 508.4 285.8C504.7 284.9 501 284.2 497.4 283C493.7 281.8 489.6 280.3 486.4 278.3C483.2 276.3 481.2 273.8 478.1 271.3C474.9 268.8 471.1 265.8 467.6 263.4C464.2 260.9 460.2 258.9 457.1 256.7C454.1 254.5 451.1 252.6 449.4 250.2C447.6 247.8 447 245.3 446.7 242.3C446.5 239.2 447.3 236.2 448 231.9C448.6 227.5 449.7 221.4 450.5 216.2C451.4 210.9 453.2 204.5 453.1 200.3C453 196.1 451.1 193.9 450.2 191.1C449.3 188.2 448.8 185.9 447.9 183.2C447 180.6 445.8 178 444.8 175.3C443.9 172.7 442.6 169.7 442.1 167.5C441.5 165.4 441.2 164.1 441.4 162.5C441.5 160.8 442.1 159.2 442.9 157.6C443.7 156 444.7 154.2 446 152.9C447.4 151.5 448.9 150.7 450.8 149.7C452.6 148.6 454.7 147.4 457 146.5C459.4 145.6 462.5 145.5 464.9 144.1C467.2 142.8 469.3 141 471.1 138.5C473 136 474.4 132 476 129.1C477.5 126.2 479.1 123.5 480.7 121.2C482.2 119 482.7 116.8 485.4 115.8Z" fill="#d6d6d6"/>
<path d="M487.8 114.4h0m6.1-2.9h0m-8.4 1.3h0m0.8 2.1h0m8.4-0.5h0m-5.9 0.3h0m2.8-0.3h0m4.4-1.2h0m-1.4 0.8h0m-7.8 0.3h0m5.4 1.7h0m-1.5-1.6h0m1.2-2.6h0m-0.6-0.6h0m11.7 0.2h0m-2 1.7h0m4.5 0.9h0m-8.9 0h0m1.8 0.3h0m4-1.2h0m-6.4 0.5h0m10.3-2h0m-3.2 1.2h0m1.3-1.4h0m-3.6 2.5h0m2.4-0.2h0m-0.7 0.6h0m0.9-2.5h0m8.9 0.8h0m0-1.5h0m-2.3 1.4h0m-0.9 1.6h0m0-2.3h0m1.7 2.1h0m-1.2-0.7h0m9.2-0.7h0m-4.1-1.5h0m-4.5 2.5h0m1.6 1.3h0m-1.9-2.5h0m7.5 1.9h0m-4.5-1.8h0m9.4 0.6h0m-0.3-1.5h0m0.2 0.9h0m1.5 2.9h0m3-1.1h0m-1-1.8h0m-2.5 1.5h0m0.9 1.4h0m3.7-3.4h0m-6.1 2h0m3.4 0.8h0m2.5 0.4h0m-2 0.8h0m1.4-2.7h0m2.4 1h0m-0.2 2.4h0m4.4 2.5h0m-0.8-6.2h0m0.6 5.9h0m-0.7-0.5h0m-0.4 0.2h0m0.7-0.3h0m-1.7-0.9h0m0.6 2.1h0m3.2 1.7h0m-4.8-3.3h0m-1-1.5h0m-0.1-3h0m7.4 6.7h0m5.8 5.1h0m-0.3-1.4h0m-0.5 2.2h0m-3.7-5.6h0m0 3.3h0m-0.2-4h0m-0.3 3.8h0m5 2.5h0m-4.9-1.7h0m1.7-3.1h0m2.4 4.6h0m1.4 0.2h0m-4.7-4h0m4.4 4.6h0m4.8 1h0m1.3-1.4h0m0.2 2.7h0m-2.4-0.7h0m-2.2 0.1h0m-0.3-5.5h0m2.7 3.2h0m-2.9 2.2h0m5.4-1.9h0m-5.1-1.8h0m3.1 3.4h0m-2-0.3h0m3.2-1.1h0m3 2.1h0m4-0.3h0m0.1 0.2h0m1.6-1.1h0m-5-1.1h0m-2.8 3.3h0m4.5-4.9h0m-0.9 4.9h0m-2-0.9h0m6.8-2.9h0m-3.2 3.2h0m0.4-1.1h0m-0.1-0.3h0m-1.4 0.5h0m8.7-2.4h0m-3.7 2h0m5.9-2.6h0m-4.7 3.2h0m9.4-6.7h0m-4 3.9h0m-5.7 0h0m-1 1.9h0m3.6-0.6h0m2.1-0.6h0m-0.9 0.2h0m2.2-4.1h0m-5.7 4h0m2.2 0h0m7.7-2.8h0m5-0.4h0m-1.6 0.7h0m-2.6 0.6h0m2.7-2.3h0m-1.6 1h0m-1.8 1.5h0m1.4-1.9h0m-0.4 0.4h0m-0.2-0.5h0m-2.2 1.9h0m4.3-0.9h0m3.5-0.5h0m0 0.8h0m2.2 5.7h0m0.6-3.7h0m0.2 0.9h0m1.8 1.4h0m0.6 0.9h0m-1.8-3.4h0m-1.2 1.8h0m1.3 1.6h0m-2.7-3.7h0m4.3-0.4h0m-1.7 1.8h0m0.1-0.2h0m0.3 3h0m-2.3-2.6h0m4.7 9.4h0m2.1-1h0m-2.3-4.4h0m0.6 5.9h0m-2.4-4.2h0m1.3 2.8h0m0.1 1.7h0m-0.2-0.2h0m-2.4-6.1h0m4.1 7.2h0m-0.9-1.3h0m0.7-1.5h0m-0.8-1h0m1.7 0.2h0m5.7 9.7h0m-4.1-5.5h0m0.1 0.7h0m-1.5 0.1h0m0.6 0.8h0m-2.1-0.2h0m6.4 6.1h0m-1.3-1.5h0m0.5-0.9h0m-1.9-4.4h0m2.4 6h0m-4.5-5.8h0m1.1-1.4h0m4.1 7.6h0m3.1 2.9h0m-1.3-1.5h0m3.3 1h0m3 3.4h0m-7.9-4.6h0m3-0.1h0m0.5 0.6h0m2.4 3.8h0m2.6 1.3h0m-1.1-1.4h0m1 1.2h0m-5.9-3.2h0m5.5-3.4h0m-2.3 4.4h0m9.3 10.1h0m-5.1-6.6h0m4.1 6.2h0m-0.1-2.1h0m-2.2-3.7h0m0 2.2h0m-0.3-1.2h0m0.8 3.5h0m-1.7-3.7h0m3.1 2.7h0m-2-4.3h0m-0.3-0.8h0m0.4 3.6h0m-1.5-1.4h0m8.7 9h0m0.7-2.3h0m3.4 5.7h0m-8.2-6.7h0m3.1 1.5h0m-1.5 0.3h0m10 3.3h0m-6.9 0.7h0m0.1-3.4h0m-0.8-4.5h0m-0.4 6.2h0m3.4 2.4h0m-4.7-3.4h0m-2.1-2.2h0m13.9 10.5h0m6.9 0.1h0m-3.2 0.3h0m-3.1-3.1h0m2.1 1.2h0m-7.1-0.9h0m4.1-2.9h0m-3.1 2.6h0m8 3.2h0m1.7-0.2h0m-9.6-2.2h0m6.6 3.8h0m1.7-3.6h0m0.5 2.1h0m4.2 0.9h0m6.5 0.9h0m-1.3 1.3h0m-8.4-2.2h0m3.3 2h0m0.3-2h0m0.6 0.6h0m3.3 0.9h0m1 1.2h0m-3.9-2.2h0m5.1 0.9h0m-2.4 1.6h0m-6.5-3h0m3.8 0.7h0m6.3 1.5h0m5 4.5h0m-2.3-2.8h0m3.9 3.4h0m-3.7-1h0m0.8-0.1h0m-0.9-0.7h0m-0.2 0.8h0m-1.9-2.7h0m1.1 3.3h0m-1.1-1.7h0m-0.4-0.1h0m4.6 1.3h0m-4.2-2.8h0m8.5 7.1h0m-0.8 3.2h0m-3.5-5.8h0m1.3 6.6h0m0.4-3h0m-1.8-0.9h0m-1.7-0.9h0m2.5 4.3h0m-1.7-4h0m1.2 2.3h0m-0.3-0.6h0m-1.6 2h0m1.9-1.3h0m-1.3-5.8h0m0 15.9h0m2-3.2h0m-3.6 2.9h0m1.7-3.1h0m-0.1-2.1h0m2.6 1.5h0m-2.2 2.1h0m1.1-1.2h0m1.5 0.7h0m-0.2-0.3h0m1.3-2.7h0m-2.3 0.8h0m0-1.1h0m4.3-1.6h0m-13 11.8h0m0.6 2.1h0m3.4-4h0m-2.4 2h0m-3.2 2.4h0m6.9-6.4h0m-4.9 4.6h0m4.4-1.4h0m-0.9-2.8h0m-5.4 6.8h0m1.1-0.9h0m5.3-6.7h0m0 0.1h0m-2.4 2h0m-3.2 10.7h0m1.8-1.3h0m-1.6 0.3h0m1.4-1.4h0m-1.4-2.7h0m-0.1 5.2h0m-0.6-1.7h0m0.4 0.2h0m0.8-2.5h0m0 4.8h0m1.6 2.4h0m-2.3-1h0m2.2-2.3h0m-1.8 1.5h0m1.5 3h0m3.3 0.9h0m-2.9 1.4h0m1.5 0.8h0m-1.7-0.6h0m1 0.5h0m-0.9 0h0m0.7-1h0m1.5 4.4h0m-2.7-4.9h0m-0.3 4.4h0m1.8-7.6h0m-3.2-0.8h0m0.9 6.6h0m2.8 7.6h0m-2.7-3h0m1.6-2.7h0m4.9 0.9h0m-5.9 2.6h0m1.5 3.2h0m-3-0.6h0m3.6 1.6h0m-2.8-0.9h0m1.3-3.9h0m0.7-2.6h0m-2.4 7.9h0m2.9-5.3h0m-0.6 1.6h0m-4.4 4.6h0m-4.2 4.5h0m1.8 0.2h0m-0.1-0.4h0m7.4-2h0m-6.9 0.9h0m1.1-2.5h0m1.5-0.2h0m-3.6 1.5h0m-3.4 2.8h0m9.7-3h0m-6.6 1h0m6.2-1.9h0m-7.4 3h0m-7.1 4.7h0m4.9-2h0m-3.3 2.1h0m0.2 1.9h0m1.3-1.7h0m4.7-2.2h0m-3 0.5h0m-1.8 1h0m-5.5 1.5h0m3-0.5h0m-0.5-2h0m-0.3 0.2h0m-0.3 0h0m7.6-0.8h0m-13.1 3.7h0m-3.5 3.3h0m2.1-1.1h0m-2.3-1.9h0m1.7 1.9h0m-0.8 1.3h0m3.7-0.3h0m1.9-2.3h0m-7.3 1.1h0m1.2 0.1h0m3.2-1.8h0m2.8-0.7h0m0.4 0.8h0m-3.3-1.7h0m-5.6 6.8h0m0.5-0.2h0m-0.3-0.3h0m-0.7-0.2h0m-1.2 0.9h0m1.6-1.2h0m0.8 0h0m-2.5-0.4h0m1.4-0.2h0m-1.1 1.3h0m-0.6 0.2h0m1.7-1.1h0m0.9 0.3h0m-0.2 3h0m-1.9 2.4h0m0.7 0.5h0m-2.2-2.8h0m1.2 1.9h0m-2.2-4.8h0m2.7 5h0m0 1.1h0m-0.8-4h0m-1.1 0.3h0m5.2 6.1h0m-1.8-3.5h0m-0.9 0.4h0m-1.9-3.5h0m-0.6 0.5h0m5.4 7.1h0m-2.7-0.9h0m3.9 3.9h0m-0.7-1.5h0m-3-5.9h0m-1.2 1h0m2.6 3.6h0m-1.6-2.8h0m1.5 1h0m1.3 4.3h0m-3.7-6.7h0m3 6.2h0m1.8 1.5h0m-1.5-3.2h0m0.7 4.5h0m1.8-0.4h0m-0.7 0.3h0m1.1 2.7h0m-0.8-3.3h0m2.9 4.6h0m-1.4-3.7h0m-3.6-1h0m3.2 5.5h0m-0.5-2.8h0m0.6-0.5h0m-1.2-1.7h0m0.8 2.9h0m-1.8-2.1h0m1.6 9.3h0m-0.1-3.1h0m0.3 1.8h0m0.1-2.9h0m-1.1-0.9h0m0.5 4.6h0m1.2 1h0m-2.9-4.2h0m2.5 5.1h0m-2-2.8h0m1.8-2.3h0m-1.9 2.8h0m1.1 0.6h0m0.2-5.5h0m-1.4 5.1h0m-2.6 4.1h0m0.1-2.3h0m1.3 3.6h0m1.3-0.6h0m-0.8-1.3h0m-1.4 0.5h0m-1.1 0.5h0m4.7-2.1h0m-5.6 1h0m1.3-0.2h0m0 2.8h0m4-2.4h0m-0.9-2.2h0m-5.8 5.6h0m1.2 0.2h0m-3.6-0.8h0m3.6-0.4h0m-4.7 2.8h0m1.2-2.2h0m-0.8 1.4h0m-1.9 0.4h0m-0.1-0.6h0m-1.7-1.7h0m2.5 0.8h0m4.8-1.5h0m-4.4 2.4h0m4.5-0.7h0m-7.2 3h0m-5.9-1.7h0m6.7-2.3h0m-7.9 1h0m5.5 0.3h0m-3.9 2.9h0m-1.9-3.1h0m7.9 2.2h0m-1.9-0.7h0m0.2-1.6h0m-5.1 0.3h0m5.7-0.1h0m0.9-0.4h0m-3.7-0.6h0m-6.5 3.4h0m-3.1-4.7h0m3.7 2.1h0m-0.1 1.5h0m-1.1-0.9h0m2.8 0.9h0m-3.2-1.9h0m-1.7 0h0m2.3-1.2h0m-1.2 0.5h0m0.1-0.7h0m-1.5 1.2h0m-1-2.6h0m2 2.3h0m-5.6-3.2h0m-4.5 0.7h0m5.4 0.7h0m1.3 0.3h0m0.3 0.1h0m-4.8-1.6h0m3.4 1.9h0m-0.5 0.4h0m-3.3 0h0m6.5-0.1h0m-4.1-0.2h0m-4.1-2.4h0m5 1h0m-3.9-1.4h0m-2.3-0.2h0m-2.9 0.6h0m-0.4 0.2h0m-1.8-1h0m3.5 1.3h0m-4.8-2.6h0m1.8 0.8h0m-2.3 0.8h0m7.9 2.7h0m-9.3-3.9h0m2.8 0.8h0m-2.9 0.3h0m3.8 0.3h0m-1.7 1h0m-8.1 2.6h0m-0.1-1.7h0m4.8 0h0m-1.3-2.3h0m1.4 0.3h0m-1.6 2.2h0m0.2-0.8h0m-8.1 4.7h0m1.6-1.8h0m5.5-1.6h0m1.3-2.5h0m-3.4 5.8h0m0.2-0.4h0m-0.2-4h0m-10.4 8.3h0m4.4-3.4h0m-1.2 3.1h0m0.8-1.8h0m-2.5 0.6h0m0.5 0.9h0m-1.4-0.4h0m4.7-1.2h0m-0.8-1.2h0m-4 7.5h0m4.3-5.2h0m-3.9 2.3h0m0.8-1.3h0m0.7-2.6h0m-10.5 7h0m0.2 2h0m-3.2 0.6h0m5.3-0.7h0m2.5-3.7h0m-4.6 3.7h0m3.7-3.8h0m-0.3 1.1h0m2.6-0.1h0m-5 1.4h0m-4.3 3.2h0m-0.8 0.4h0m0.1-1.7h0m1.3 0h0m-4.5 1.2h0m-6.4 0.8h0m4.3-1.1h0m-2.4 2.7h0m5.2-0.6h0m-2.5-0.1h0m-0.3-1.2h0m3.5-0.5h0m-7.7 2.2h0m4.2-2.2h0m-5.2 1.8h0m3.3-0.8h0m4.3-1.4h0m-1.6 2.5h0m-6.3 2h0m-4.5-3.7h0m5.6 3.3h0m-4.3-2.2h0m-4.2-0.7h0m5.4 0h0m-6.5 2.1h0m7.7-2.2h0m-5.1 2.6h0m5.9-1.4h0m-1.5 0.5h0m0.8 1.4h0m-0.9 2.1h0m2.3-4.2h0m-16.3-2.2h0m6.1 3.2h0m-4.1-1.8h0m-4.8 2.2h0m-1-3h0m3.9 0.6h0m6.1-0.1h0m-9.8-2h0m4.5 2.3h0m0.5 2.3h0m0.7-0.8h0m0.1-1.8h0m-1.8-0.6h0m-0.1 0.4h0m-14.7 0.5h0m3.8-0.1h0m0.1-2.5h0m3.2-0.1h0m-6.3 1.3h0m2.4-1.4h0m-2.9 0.1h0m5.1 0.3h0m4 1.5h0m-2 1.4h0m-7-5.1h0m1.6 3.6h0m1.4-3.7h0m3.8 1.3h0m-12.5-3.7h0m3.5 2.3h0m-6-2.9h0m2.3-0.5h0m-3 1.3h0m2.7 1h0m2.4 2.3h0m-6.5-6h0m5 3.1h0m-7-1.3h0m0.6 0.7h0m6 1h0m3 1.8h0m-8.3-3.1h0m-5-1.9h0m-2.8-7.1h0m2.3 2.9h0m-5.4 1h0m3.7 1.2h0m-1-1.5h0m0.7-3.1h0m4.3 3.1h0m-4 0.5h0m2.6 2h0m-0.5-3.2h0m-4.6 0.8h0m0.3-3.4h0m2.9 6.7h0m-13.4-13.7h0m0.6 1.1h0m7.4 5.2h0m-2.8 0.3h0m-0.2-5.7h0m-1.4 0.1h0m-5.3 1.6h0m3.7 1.5h0m1.8-2.3h0m-3.7-1.2h0m0.9 1.2h0m0 0.6h0m0.8 0.4h0m-2.5-2.7h0m-10.6-4h0m2.5-4h0m0.9 4.7h0m-0.4-4.8h0m4.7 7.6h0m-5.9-5.3h0m1.5 2.6h0m1.1-2.7h0m6.2 3h0m-13.1-1.1h0m11.8 2.2h0m-8-7.4h0m6.2 10.1h0m1.3-3.5h0m-10.4-7.1h0m-2.8-3h0m-0.7-0.3h0m-0.2-0.3h0m0.5-1.2h0m3.6 5.8h0m0 1.8h0m-5.6-4.9h0m2.9 2.6h0m1.5-0.2h0m-6-1.5h0m7 3.8h0m-4.6-4.4h0m1.4-0.6h0m-4.4-7.9h0m0.6 1.5h0m-0.6-2.8h0m0.2 0.8h0m0.7 1.6h0m0.1 4.9h0m-1.2-1.7h0m0.2-3.8h0m0.5 4.7h0m1.7-1.7h0m-2.5-4.2h0m0.3 2.9h0m0.6 0.8h0m-1.6-1.5h0m-3-7.9h0m2.9 2.2h0m2-8.1h0m-2.3 1.7h0m1.1 7.5h0m-0.3-0.8h0m-0.1 1.4h0m-1.4-1.7h0m1.4 0.1h0m0.4 0.4h0m-1.4-2.9h0m0-0.9h0m3.1-4.1h0m-0.1 6h0m1.6-13.5h0m-2.4-5.8h0m1.2 11.9h0m0.2-9.5h0m-1.3 8.4h0m-1.6-2.7h0m0.5 0.2h0m0.9-1.8h0m-0.4-4.7h0m-1-2.1h0m-0.1 5.3h0m2.5-0.8h0m-2.8 6.1h0m-0.9-3.8h0m5-16.8h0m0.5-0.4h0m0.6-8.9h0m0.1 10.9h0m0.3-8.8h0m-2.1 6.2h0m2.3-2.1h0m-0.5-2.8h0m0.2 6.6h0m-1.5-8.7h0m3.6-0.5h0m-3.9 8.6h0m0.1 5h0m1.6-2.4h0m0.2-15.1h0m-0.4-2.7h0m-3.3-2h0m4.3 6.8h0m-1.7-5.3h0m0.3 0.2h0m1.5 3.7h0m-4.6-3.5h0m3.9 3h0m-2-5.4h0m1.5 6.2h0m-0.3-4h0m1.8 5h0m-4.2 0.4h0m-1.5-10.9h0m-0.1-2.7h0m3.4 3.1h0m-4-6h0m-0.5 2.2h0m3.4 5h0m-2.6-1.6h0m2.2-6h0m-2.9-0.7h0m1.7 2h0m-0.6 0.2h0m-2.4 2.8h0m2.4-2.5h0m-0.1-1.8h0m-5.2-4.5h0m5.6 4.5h0m-5.2-3.3h0m4.6-1.2h0m-3.9-1.9h0m-1.2-2.3h0m4.5 7h0m1.6 1.2h0m-2.3-5.7h0m-3 3.4h0m4.6 0.9h0m-0.7-1.8h0m-0.2 0.4h0m-1.3-3.2h0m-2.1-4.8h0m-0.8-0.5h0m0-3.9h0m2.7 7.3h0m-1.7-1.1h0m-0.6-0.7h0m0.1-4.5h0m1.7 2.9h0m-0.6 3.3h0m-0.6-6.6h0m-1.5 0h0m1.5 4.7h0m0 1.7h0m-1.8-4.9h0m-1.3-5.6h0m0.8 1.3h0m0.9-2.4h0m-0.2-1.3h0m1.6 5.4h0m-2.9-1.6h0m1 2.1h0m-3.8-2.6h0m4.8-1.2h0m0.9 0h0m-2.3-0.6h0m-1.2 1.1h0m1.7 0.2h0m-0.6 0.5h0m0.9-3.3h0m-3.6-3.9h0m2.4-0.5h0m0 1.6h0m0.8 3h0m1.1 0h0m-0.1-2.5h0m0.4 0.9h0m-2.1 0.6h0m1.9-4h0m-1.3 4.1h0m-1.1-0.9h0m3.4-0.6h0m-1-0.6h0m3.4-5.8h0m-5.3 2.2h0m3.9-1h0m0.3 1.6h0m-5.3 0h0m7-2.9h0m-3.8 3.5h0m1-0.6h0m1.1-1.8h0m-0.6 2.4h0m0.8-1.7h0m-3.3 0.7h0m4.8-1.2h0m-0.4-1h0m1.1 0.1h0m4.4-4h0m-7.1 1.1h0m3.8 0.8h0m-0.3 0.8h0m0.8-0.5h0m-1.3-1.1h0m2.2-0.4h0m-1-0.4h0m0.3-0.8h0m-1.9 1.4h0m-0.5-2h0m1 4.8h0m0.1-3.4h0m4.6-3.6h0m4.6 0.2h0m-5.5 2.1h0m1.1 1.3h0m-0.9-0.6h0m-0.3-2.3h0m5.5-1h0m-3.5 2h0m-0.8 0.6h0m0.4-1.1h0m0.1-0.3h0m1.1 0.8h0m-0.5 1h0m-2.3-0.9h0m12.7-3.2h0m-1.7-1.6h0m-1.4 1h0m-1.4 0.7h0m2.5-0.2h0m-3.6 2.1h0m0.3-0.3h0m-4-4.1h0m4.6 3.8h0m4.5-2.3h0m-4.2-0.4h0m-0.7 2.8h0m0.7-1.8h0m1.4-0.5h0m5.4-2.9h0m4.2-3.4h0m-5.2 2.3h0m4.8-3.3h0m-4 7.5h0m-0.3-1.2h0m1-0.1h0m2.6-5.9h0m-4.7 4h0m4.6-1.6h0m-1.6 2.1h0m1.8-2.6h0m-4.7 4.7h0m5.4-4.4h0m3.9-9.4h0m0 5.5h0m-0.2 0.4h0m-2 3.2h0m2.5-3.7h0m0.5-3.8h0m-1.1 3.1h0m-0.1-0.6h0m-2.7 1.4h0m0.8 3.6h0m2.4-8.1h0m-2.1 5.2h0m0.5 0.9h0m1.5-3.4h0m3.4-6h0m0.4-1.1h0m-2.8-0.4h0m1.4 1.3h0m2.6-7.6h0m0.6 3.5h0m-4.3 3.1h0m3.4 0.2h0m0.6-6.5h0m0.1-1.5h0m-1.8 5.9h0m0.9-5.8h0m-2.9 3.5h0m2.5 1.2h0m2.3-2.2h0m4.7-7.7h0m-3.1 6.8h0m2.5-1h0m-2.3-2.1h0m0.1 0.5h0m-1.6 3.4h0m1.6-3.2h0m-2-0.9h0m3.3 2.3h0m-1.5-3.7h0m0.5 1.7h0m-0.3-2.2h0m-1.4 4.4h0" stroke="#d4d4d4" stroke-width="1.1" stroke-linecap="round" fill="none"/>
<path d="M524.1 128.2h0m-18 108.3h0m58.3-3.1h0m-18.7-84.5h0m-93.9 89.7h0m146.8-42.2h0m-87.1 70h0m38.5-1.9h0m20.8-3.1h0m-36.5-40h0m80.6 10.7h0m-28.1-29.4h0m-30.4-65.2h0m-54.6 144.2h0m58.6-116.2h0m7-20.4h0m-45.7-27.1h0m90.7 49.8h0m-8.7 91.7h0m-150.5-56.3h0m136-17.9h0m21.4 13.7h0m-108.4 48.5h0m20-21.2h0m67.9-71h0m23.8 79.4h0m-114.1-20.3h0m19.6 20.5h0m15.5-6.8h0m3.7 35.4h0m-20.3-41.2h0m89.6-47.6h0m-157.9 59.6h0m7.4 4h0m26.8-24.6h0m-3.5-5.5h0m17.1-76.8h0m21.3 55.8h0m66.5-33.3h0m-25.3 95.8h0m-94-64.5h0m109.1 18.7h0m-18.4-70.7h0m-74.2 130.5h0m58.3-5h0m-88.2-105.1h0m22.5 115.5h0m149.4-37.6h0m-7.8-13.6h0m-126.4 26h0m33.9-125.6h0m25.4 33.6h0m-97.5-0.7h0m83.4-18.7h0m-72.5 89.8h0m69.9-83.4h0m13.8 95.9h0m-28.7-35.9h0m17.7 71.4h0m-62.9-55.7h0m3.9-75.7h0m90.7 3.7h0m-83 70.6h0m49.8 60.8h0m58.9-70.5h0m-12.7 14.7h0m-71.8 35.5h0m93.5-38.6h0m-111.6-75.9h0m8.1-23.3h0m77.3 107.6h0m44.4 6.4h0m8.3-54.9h0m-65.5 42.6h0m-58.4-14.5h0m-22 21.1h0m73.3-35.7h0m-95.8-32.9h0m139.3 67.8h0m-30 18.2h0m29.9-33.4h0m-17 57.4h0m-78.4-127.6h0m89.2 98.7h0m-127.7-24.9h0m21.7-83.3h0m-26.7 50.2h0m115.4-3.1h0m-44.4 105.5h0m-43.6-146.1h0m93.8 133.5h0m49.5-58.8h0m-170.5 5h0m102-53.8h0m-61.3 46.4h0m6.3-14.2h0m31.1 26.7h0m11.8-7.1h0m-8.7-73.8h0m55.6 59.9h0m-118.3-56.9h0m8.2 18.8h0m-24.2 31h0m67.4-59.8h0m-81.5 30.3h0m79.5-42.3h0m-17.8 151.8h0m101.1-39.5h0m-127.1 15.8h0m99.4-48h0m-71.7-77.3h0m4 5.4h0m-15.5 126.2h0m31.5 12.8h0m-56.6-135.8h0m25 29.8h0m102.5 26.2h0m-125.1 29.6h0m-13.2 5.2h0m124.3 41.3h0m-37-49.5h0m19.7 26.8h0m-8.2 14.2h0m43.4-51.2h0m-55.9-2.8h0m3 9.8h0m-91-26.9h0m116.4-47.5h0m-54.5 107.8h0m9.4-82.1h0m55.4 94.5h0m24.3-47.7h0m-122.2 22.9h0m32.2 35.2h0m-62.7-43.2h0m53.2-23.8h0m106.5-23.7h0m-87.9 13.4h0m-32.8-5.8h0m28.5 29.3h0m33-30.2h0m-98.2 23.8h0m40.4 37h0m-6.4-93h0m95.7 69.5h0m-50.5-9.5h0m-87.5 41.1h0m57.9-133h0m40.5 46h0m-36.4 72.3h0m5.4-6.3h0m-21.7-11.9h0m-28.8 40.8h0m33.9 10.7h0m65.4-98.8h0m-72.2 90.4h0m122-57.6h0m-69 71.5h0m-19.4-137h0m-57.1 91.2h0m-8.9-87.2h0m-4.4 87.1h0m12.1-92.4h0m3.6 126.5h0m52.6-96.8h0m39.2 32.6h0m-115.2 38.9h0m51-74.3h0m15.3 72.1h0m14-6.5h0m40.8 37.4h0m-33.3-84.3h0m2.1-47.4h0m-47.9 17.3h0m75.6 46.5h0m-26.9 13.7h0m-2.4-42.9h0m13 87.8h0m-17.8-13.4h0m-56.7-91.3h0m-8.1 81.9h0m82.5-79.5h0m40.3 7.6h0m-21.5 52.9h0m17.6-5.6h0m-136.2 42.7h0m1.1-23.8h0m77.1-4.1h0m26.1-16.4h0m-31.5-20.8h0m86.7 45.2h0m-107.9-46.3h0m106.5 21.3h0m-97.5-27.7h0m-67.6 4h0m69.2 59.8h0m55.4 2.7h0m-96.3 14.1h0m52.6-24.5h0m-40.2-40.5h0m-16.3 35.1h0m35.2-31h0m-35.3-9.1h0m85-15.2h0m14.5 88.5h0m-65.8-106.4h0m-5.4-38.9h0m-34.8 43.5h0m62.3-1.6h0m8.7 74.4h0m-73.9-10.6h0m0 13.8h0m-10.2-68.6h0m61.7 111.4h0m57.1-93.7h0m-27 43h0m-20.7-28.8h0m-35.7-14.1h0m40.6 39h0m45.1 25.3h0m-103.6-79.2h0m61 36.1h0m-37.8 13.2h0m-16.4-46h0m23.8-6.1h0m-18.8 95.5h0m29.4-141.1h0m44.9 91h0m7.5 31.7h0m59.9-23.7h0m-115.6 40.6h0m62.8-10.3h0m0.3 7.7h0m-83.9-120.1h0m105.5 46.1h0m-14.2 58.6h0m17-4.5h0m-86.7-32.5h0m28.6 16.1h0m4.7 4.2h0m-47.3 11h0m23.9 13.1h0m30-88.9h0m-64.2 59h0m-16.5-46.3h0m-6.8 65.5h0m17-47.2h0m115.3 32.4h0m-107.2-0.6h0m71.6-72.2h0m-6.4 30.8h0m-26 33.7h0m-44.6 28.7h0m61.3-24.6h0m-28 21h0m-51.6-73.8h0m152.2 61.5h0m-105.9 13.8h0m8.4-20.2h0m79.8-13.5h0m-58.5-55.9h0m21.9 71h0m-27.8-76.6h0m-3.9 113.7h0m-50-115.7h0m21.6 98.3h0m-43-2.1h0m90.8-112.4h0m-33.5 50.1h0m0.7 59.4h0m47.5-20.8h0m56.5 12.8h0m-152.5-19.2h0m58.2 63.7h0m18.7-125.8h0m66.3 23.5h0m8.1 54.4h0m-61.8-74.6h0m44.4 104.5h0m-94.9-108.9h0m-12 87.4h0m74.6 7.6h0m-53.6-41.4h0m42.7-28.1h0m-55-55.7h0m-22.1 102.4h0m107.6-74.2h0m-131.7 36.5h0m167.5-7.4h0m-18.5-3.2h0m-97.8-16.9h0m31.4 82.1h0m47-26.8h0m-46.3-20.9h0m-17.2 19.9h0m-29.8-98.3h0m-9.6 88h0m133.3-8.2h0m-27.4 20.8h0m-52.7-7.4h0m30.4-56.2h0m-33.5 127.1h0m-82.2-122h0m168.2 57.9h0m-140.3 0.4h0m20.2 50.4h0m54.3-125.8h0m70.7 89.1h0m-76.7-44.1h0m-85.9-27.5h0m4.3-13.1h0m125.5 7.3h0m-105.7 121.8h0m106.4-90h0m-34.6-46.9h0m-40.7 29.9h0m11-23.3h0m-57.6 34.1h0m124.3 5.6h0m-108.1 35.1h0m-7.1-48.2h0m3.3 91.7h0m147.2-80.4h0m-45.8-12.3h0m-60.9 25.8h0m3.8 3.6h0m-23.7 56.7h0m36.4-101.4h0m31.7 61.9h0m-110.8-44.2h0m80.2 69.6h0m-68.1-30h0m87.1-22h0m-106.1 21.9h0m139.9-41.4h0m-133.3-14.5h0m21.2 66.9h0m81.5 0.1h0m-5.9-68.6h0m-104.2 21.1h0m94.9 9.7h0m-33.4-64.2h0m-67.3 46.5h0m10.1 46.7h0m60 59.4h0m-40-69.7h0m114.1 12h0m-114.2-30.6h0m20.2 57.7h0m76.4-15.3h0m-25.4-50.5h0m-76.6 30.5h0m3.6-5.5h0m-19.8-32.8h0m34.1 70.3h0m18.1-50.1h0m73.8 63.3h0m-103.2-91.6h0m-12.8 73.3h0m27.8-111.2h0m66.1 126h0m-44.3-38.6h0m32.9-68.8h0m51.4 128.3h0m-132.7-82.9h0m101.6 76.2h0m-19.2-28.9h0m19.6-96.6h0m-64.7 93.5h0m-50.5-10.9h0m37.8 60.2h0m61.9-26.2h0m24.7-65.1h0m-36.7 80.8h0m71-76.7h0m-36.3-20.9h0m28.6 65.6h0m-25.8 30.3h0m26.6-92.5h0m-28.8 60.9h0m-46.4-61.6h0m52.5-21.9h0m-84.5 103.4h0m103.3-75.6h0m16.6 35.8h0m-129.9-49.9h0m118.1 50.6h0m-101.8-72.3h0m112 35.7h0m-34.3 62.8h0m-101.4-38.4h0m14.9-54.7h0m79.8 77.6h0m-0.2-1.9h0m-26.2-66h0m-12.5 70.3h0m51.4-12.1h0m-9.5 15.9h0m21.5 28.3h0m-109.7-45.7h0m121.7-18.9h0m-126 77.3h0m28.7-31h0m85.5 28.1h0m15.8-45.5h0m-109-79.5h0m-40 54.3h0m134.3 61.3h0m-106.7-137h0m26.6 112.3h0m96.8-46.8h0m-142.4 66.1h0m19.6-137.7h0m10.6 109.1h0m95.2-62.8h0m-118.7 14.7h0m76.5 12.4h0m-28.4 83.7h0m-38.4-76.2h0m51.7-66.3h0m12.9 28.1h0m-108.8 63h0m32.6-78.5h0m-32.5 81h0m68.4-44.3h0m35.5 79.2h0m-15.3-131.6h0m18.5 111.3h0m-102.1-8.1h0m97.6-5.1h0m-13.4 48.1h0m-42.2-152.2h0m28.5 3.9h0m3.4-7.9h0m31.2 115.4h0m-18.6 27.7h0m-39.6-121.8h0m19.4 123.7h0m8.8-109.9h0m21.3-23.4h0m-15 135h0m-38.8-115.6h0m-23.6 31.8h0m76.3 48.1h0m-76.7-66.2h0m-23 6h0m86.2-4.4h0m35.4-28.8h0m-24.9 51.1h0m26.4 21.9h0m-122.4-26.9h0m99.9 74h0m-13.3-33.7h0m-31.5-98.1h0m25.9 140h0m-57.2-116.3h0m121.7 36.1h0m-48-28.2h0m-53.9 8.4h0m85.1 96.4h0m-75.9-96h0m38.7-10.7h0m84.7 43.5h0m-96.7 42.1h0m-36.8-8.5h0m66.3-4.4h0m31.9 12h0m-91.6-27.9h0m-40.3 34.4h0m131 20.9h0m-34.3-26.4h0m-54.8-3.8h0m16.7-45h0m118.1-0.1h0m-78.7-7.6h0m-30 57.6h0m38.3 24.2h0m-58-48.3h0m-1.7-103.9h0m78.7 85.6h0m-116.4-9h0m109.9 34.7h0m-62.3 42.2h0m-5.3-59.2h0m108.1-16.4h0m-31 70.3h0m-57.6-67.8h0m-25-40.9h0m13.9 23h0m70.4 78h0m-117.1-68h0m96.6 1h0m-39.5-27.7h0m-44.9 43h0m78.6-56.1h0m-72 18.3h0m35.9 101.1h0m-33.5-116.6h0m0 70.2h0m83.2 23.3h0m-5.2-98.9h0m-52.9 39.4h0m73.6 63.7h0m-16.6-42.7h0m-20.3-46.8h0m30.9 19.1h0m-47.8 55.8h0m-8.7 17.9h0m-16-29.1h0m1.5-2h0m90.3 10.1h0m-92.5-29.2h0m40.2 6.2h0m-37 35.7h0m42.7-58.9h0m-46.3 41h0m-19.2-18.4h0m102.4 42.1h0m16.1-31h0m-74.5 56.2h0m33.3-119.3h0m21.3 94h0m-87.2-81h0m-43 46.3h0m164.8-22h0m-172.2-29.5h0m21.2 56.5h0m131.4-20.8h0m-34.8 28.9h0m26.5-56.3h0m-61.3 73.6h0m-52-119h0m-8.7 84.8h0m72.2-59.8h0m-3.1 80.7h0m16.5-70.2h0m14.8 9h0m-81.5 27.8h0m-38.6-42.8h0m167.4 32.8h0m-147.8 50.8h0m111.5-88.4h0m-59 18.2h0m-22.9 92.5h0m79.3-93.4h0m10 73.8h0m-96.4-7h0m84.3-4.2h0m-70.3 24.4h0m88.5-61.7h0m-90.8-65.8h0m-62.4 104.4h0m39.8-12.7h0m87.8-18.1h0m-5.9-73.8h0m17.6 95.6h0m47-31.5h0m-65.5-26.4h0m6.3 0.8h0m21.2 59.7h0m-56.8-61.4h0m28.1 16.3h0m-111 29.4h0m125 28h0m-98.5-56.5h0m-34.3-28.6h0m67.9 3.9h0m8.4 63.5h0m-4.3 55.5h0m12.7-32.9h0m43-26.5h0m-70.8-100.1h0m27.8 168.4h0m-25.9-65.9h0m52.6-81.3h0m-40.2 141.2h0m66.1-100.5h0m-72.5 43.6h0m-51.1-38.4h0m68 67.9h0m-1.2-111.5h0m22.9 92.2h0m-52.5 3h0m6 43.6h0m92.2-70.4h0m-4.3-24.4h0m-145.4 0h0m90.9 82.7h0m55.2-79.5h0m-142.1 26.1h0m79.4-84.2h0m17 38.1h0m-27.9 89.8h0m45.9-17h0m-51.4-119.3h0m-63.2 69.1h0m27-9.4h0m-12.5 46.9h0m22.5 41.8h0m95.3-46.3h0m21.1-20.7h0m-104.1 40.7h0m-10.9-120h0m-20 93.7h0m112.9-38.6h0m-123.7 19.9h0m143-5.1h0m-134.1-28.9h0m71.3 119.9h0m32.9-148.2h0m-25.7 53.2h0m-94.3 23.2h0m64.9-32.3h0m-49.2-18.2h0m52.3 70.3h0m-48.3-34.1h0m53.2 56h0m-26.6-29.6h0m39-80.7h0m-17.6 54.6h0m27.6 29.6h0m-71.4 21.6h0m119.3 5.2h0m-4.7-91.5h0m-66.1-31.4h0m59.8 59.7h0m-16.5-48.5h0m-60.1 47.5h0m23.5-66.3h0m62.8 106h0m-3-28.9h0m-35 64.1h0m2.8-25h0m3.7 1.7h0m-1.2-49h0m-77.1-64.3h0m51.9 118.3h0m-64.5-29.5h0m45.5-57.6h0m78.2 90.5h0m19.7-39.6h0m-140.1-69.2h0m18.1 104.4h0m95.3-36.3h0m2.1 36.2h0m-95.2 0.7h0m-29.8-46.4h0m-8.9 46.2h0m60.1-103.8h0m-19.8 101.9h0m28.2 38.1h0m10.5-0.3h0m17.4-149.8h0m-7.7 139.1h0m1.7-62.2h0m72.7-24h0m-124.1 10.2h0m-17.3 35.5h0m59.5 44.8h0m-79.6-91.9h0m126.7-7.2h0m-32.6 19.9h0m30.1 15.5h0m-89.7-92.3h0m-17 118.5h0m125-75.8h0m-100.8 112.6h0m80.3-70.3h0m15.6-23h0m2.8 51.4h0m-14.2-31.1h0m-125.5-26.8h0m55.9 50h0m99.4-17.8h0m-169.8-53.1h0m30.5 84.5h0m129.9-50.9h0m-10.1 32.2h0m-20.1 10.8h0m-22.7 23.1h0m-60.3-108h0m21.2 17.6h0m-21.2-40h0m35.3 91.8h0m32.6-27.8h0m-22.6-41.4h0m70.3 115.1h0m-52.8-37.7h0m-87.8 12.7h0m27-91.3h0m-30.1 40.8h0m14.9 2.2h0m35 9.1h0m-43.8 63.9h0m9.5-42.1h0m157.7-27.8h0m-102.1 83.7h0m-0.8-100.4h0m37.5 46.2h0m-1.1-44.6h0m-24 74.6h0m56.3-88.4h0m-25 52.3h0m-96.6 40.4h0m-18.1-52.7h0m8.1-21.6h0m65.4 41.3h0m-15 14.4h0m74.7-5.3h0m25.2-22.3h0m-51.7 3.6h0m-9.9-48.3h0m32.5 22.8h0m-77.8 72.6h0m102.6-81.9h0m-129.9-47.1h0m75.7 137.2h0m-16-93.1h0m55.5 78.5h0m19.2-33h0m-115.5-80.6h0m32.7 3.2h0m-22.8 93.1h0m-12.7-59.1h0m65.5 59.7h0m-94.7-92.9h0m126.5 78.8h0m-115.1-62.5h0m2.9 17.3h0m60.8-36.9h0m13.1 33.7h0m-54.9-31h0m113.3 70.6h0m-96.3-74.5h0m-66.8 18.9h0m29.7 75.2h0m4.9-67.2h0m27 105.3h0m23.8-121.6h0m52.2 46h0m-12.2-44.4h0m27.5 66.9h0m-93.1 28.8h0m39.2-20.5h0m40.2-63.7h0m-138.5 15.2h0m75.7 65.4h0m38.8-7.8h0m-115.4-70.8h0m-3.7 41.9h0m5.7-14h0m52.5-30h0m92.7 2h0m-100.6 69.6h0m-62.6-65.6h0m98.8-32.6h0m-22.8 104.4h0m-54.7-72.7h0m43 88.3h0m25.1-20.6h0m-70.1-61.3h0m123.9 84h0m-27.1 0.3h0m-73.5-75.2h0m80 28.6h0m-38.5-37.4h0m-11.4 52.8h0m22.1-12.3h0m-30.5-15.7h0m-15.2 18.2h0m40.7-36.6h0m55.6 52.4h0m-50.4-6.9h0m-25.1-29.5h0m55.4 2.5h0m17 0.4h0m-14-45h0m25.2 99.5h0m-128.3-102.2h0m22.6 15.8h0m140 29.3h0m-118.2-31.5h0m91.4 22.7h0m-69.3 21.2h0m-59.3 0.9h0m40.4-26.8h0m-14.9-24.1h0m54.1 43.8h0m13.1-8.4h0m-36.8-57.9h0m60.4 131.8h0m-79-54.4h0m101.5 11.7h0m-91.1 37.8h0m-47.3-130.2h0m22.7 120.6h0m-12.8 7.3h0m30.1 1h0m59.8-122.9h0m-100.3 60.3h0m-14.8-20.7h0m75.3 28.7h0m23.1-71.5h0m-58.9 61.2h0m47 71.4h0m-32.5-76.7h0m-28.8-64.8h0m100 28h0m-65.7 96h0m54.7-12.2h0m-46.5-6.1h0m73.8-36.5h0m-99.3 14.5h0m-30.8-53.6h0m104.5 84.7h0m-68.9-44.5h0m70.3 25.6h0m-76.1-74.4h0m85.6 66.6h0m-50.5 62.2h0m-26-88.2h0m61.8-19.3h0m16.5 97.7h0m17-96.5h0m-67.2 21.1h0m-81.1-11.3h0m137.2 82.8h0m-71.5-124.7h0m79.9 23.7h0m-81.3 44.5h0m7.4-38.2h0m-34.5 5.9h0m-1.9 54.4h0m6.2-110.2h0m87.1 96.7h0m-26.6-87h0m-46.1 71.9h0m37-45.6h0m-76.4 14.1h0m120.9 75.6h0m-83.9-37.3h0m-67-45.7h0m58.4 79.7h0m-11-115.2h0m49.2 155.1h0m-44.5-5.2h0m126.9-82.5h0m-106.3 10.7h0m-8.9-87.6h0m5.6 0.1h0m-24.1 39.7h0m-23.6 71.1h0m104.9-91.2h0m-63.3 147h0m13.9-8.8h0m101-47.1h0m-29-68.6h0m-24.2-1.4h0m27 41.4h0m-64.7-26.8h0m84.3 3.1h0m-105.3 108.9h0m-7.9-45.3h0m49.8-73h0m7.6-27.9h0m7-9.1h0m-6.2 24h0m-105.2 39.3h0m149.9 47.4h0m23.4-59h0m-136.9-64.9h0m102.5 156h0m-127.6-73.4h0m46.6 39.3h0m0.1-19.3h0m30.5-35.4h0m-16-41.1h0m63.9 83.8h0m-13.6-53h0m-62.6-34h0m71.1 69.6h0m-34.4-3.6h0m-35.2-70.9h0m-1.3-10.4h0m17.6 157.7h0m-1.6-149h0m-88.6 34.5h0m37.4 45.4h0m66.5-28.4h0m-43.6 77.5h0m103.6-0.3h0m-97.6-110.3h0m51.5 25.3h0m-75.7 56.8h0m105.5-73h0m-121.1 1.3h0m109.7 96.5h0m-59.3 19.2h0m75.9-83.6h0m3.1 29.5h0m-27.5-92.9h0m-42.6 147.3h0m-49.9-9.1h0m-3.7-13.5h0m74.7 21.5h0m48-37.1h0m4.9-66.9h0m-36.2 73.4h0m-18.7-80.2h0m81.7 19.6h0m-25.7 67.2h0m-87.6 28.2h0m-54.1-54.9h0m142.1-26.6h0m-108.3 62.8h0m74.7-54.5h0m-59.9 15.1h0m-41.9 40.6h0m48.2-5h0m49.9-73.3h0m-20.4-45.1h0m-94.9 56.6h0m77.4 0.8h0m69.2 75h0m-42.9-49.9h0m-39.5-19.8h0m53.7-9.1h0m-14.7 80.2h0m-35.9-156.9h0m0.2 145.3h0m56.4-62.6h0m-7.6-0.4h0m2.5-38.8h0m-102.9 37.2h0m5.5 30h0m40.6 19.4h0m89.6-81.9h0m-61.4-23.6h0m20.8 98.1h0m6.6-57.3h0m1-18.7h0m-33.4-7.9h0m7.2-6.2h0m-74.6 66.5h0m48-40h0m78.4 97.2h0m-22-6.4h0m-58.6-87.6h0m58.6 16h0m-103.8-7.5h0m118.9 21.8h0m-102.8-48h0m19.9 116.6h0m41.8 1.5h0m-57.4-8h0m30.4-5.4h0m-17.8-104.9h0m9.9-33.3h0m87.1 59.5h0m-74.1 63.5h0m-8.5-87.2h0m30.5-15h0m-9 5.6h0m44.8 29.3h0m-21.3-11h0m-36.2 115.3h0m45.5-100.9h0m-96.6-38.6h0m69.9 70.3h0m-55.6-64.1h0m61.2 80.8h0m38.2-3.3h0m-42.4-85.2h0m6.8 32.6h0m-33.3 107.9h0m47.1-129h0m38.5 102.4h0m-122.6 10.5h0m126.4-85.8h0m-39.8-14.2h0m-61.4 96.7h0m-23.9-50.9h0m-15.4-51.5h0m34.9 15.6h0m38.8 22.2h0m-33-4h0m106.9 21.3h0m-41.1 22.2h0m4.3-77.4h0m-71.6 30.3h0m16.3-25.9h0m-74.2-0.7h0m23.4-26.1h0m8.9 107.3h0m83-110h0m0.3 115.4h0m-118.2-96.4h0m43.9 44.8h0m118.7-36.6h0m-32.2 88.6h0m-30.1-80.9h0m-11.4 77.2h0m-63-76.7h0m124.9-16.1h0m-70.8-26h0m96.3 92.2h0m-74.1-47.3h0m-30.7 58.9h0m-21.9 17.6h0m48.4-32.9h0m-9.9 15.2h0m14.7 32.8h0m-10-37.2h0m-2.9-20h0m-46.4-48.3h0m-22.4-11.3h0m148 29.1h0m12.4 41.1h0m-78.6-81.9h0m80.4 46.2h0m-110.6-40.5h0m-3.3-5.6h0m-3.1 41.5h0m-5.3-3.6h0m16.7 71.9h0m-23.3-115.5h0m16.4 46.3h0m21.3 54.4h0m23.2-26.9h0m-38-77h0m-3.4 148.9h0m30-64.2h0m-35.8-13.9h0m-49.1-50.5h0m-20 8.7h0m118.8 87.9h0m40.6-15.3h0m-123.6-36.8h0m55.2 34.4h0m-78.7-65.1h0m92.8 79h0m74.2-44.7h0m-101 13.1h0m-29.9 58.4h0m123.9-96h0m-64.7 4.5h0m-26.7 91.7h0m-57.9-58.7h0m94.1 3h0m-86.7 46.1h0m20.2-31.4h0m11.4-14.2h0m-16.3 51.7h0m86.4 0.4h0m16.1-34.5h0m-104.7 25.7h0m2.9-92.7h0m19.2-20.8h0m54.3 100h0m40.6-50h0m-60-64.3h0m-14.2 110.3h0m2.2-100.3h0m4.5 72.8h0m28.8 18h0m9-51.6h0m-116.9-32.6h0m91.6-11.7h0m-87.8 53.9h0m7.5-33.9h0m89 76.2h0m36.3-56.7h0m-40.1 59.9h0m9.5-73.1h0m-55.6 93.9h0m-14.7-15.2h0m53.8-94.3h0m-5.3-10.3h0m2.7 66.9h0m-81.5 12.8h0m77.4 46.3h0m-47.1-107.1h0m96 5.5h0m-78.2 109.7h0m62.9-99.1h0m-65 88.9h0m-12.1 19.7h0m45.8-1.5h0m-75.9-17.5h0m41.9-41.5h0m73.9 0.5h0m-57.7-22.4h0m-32.7-82.9h0m46.5 95.9h0m16 40.2h0m-63.2-47.5h0m35.5 21.1h0m16.4-0.2h0m-53.8-16.7h0m0.6-48.3h0m-21.1 49.4h0m77.7-0.9h0m35.3 24.9h0m-87.5-20.7h0m44 30.4h0m9-92.6h0m-76 6h0m71.8 112.5h0m-73.2-133.5h0m123.5 133.6h0m-2.6-72.1h0m-108.7 67.3h0m42-40.1h0m-68.2 18.8h0m97.7 3.6h0m-75.6 23.4h0m68-98.8h0m-63.9 18.4h0m70.4 69.5h0m-34.1-81.9h0m52 68.4h0m-79.5-9.9h0m120.3-55.3h0m-148.6 75.4h0m88.4-15.5h0m-69.6-54.6h0m136.1-0.1h0m-126.8 75.2h0m61.4-86.7h0m19-43.2h0m-37 59.4h0m-25.9 44.4h0m17.6 17h0m-23.8 4.8h0m-50.1-49.7h0m119.2-65.4h0m-79.3 4.3h0m135.9 33.3h0m-90.4 45.1h0m52.7-64.7h0m-33.8 90.1h0m30.2-12.2h0m-73.4-76.2h0m11.7 113.4h0m97.5-81.4h0m-66.9 22h0m-64.9 6.9h0m47.5-46.8h0m64.6 0.3h0m-135.3 20h0m1.9-16.3h0m-4.9 22h0m96.8-53.6h0m-43.1 99.6h0m-59-72.7h0m52.8-32.3h0m-40.6 86.3h0m81.2 30.5h0m-7.8-72.4h0m-31-10.8h0m-23.5-45.8h0m83.5 23.3h0m-99.5 85.2h0m149.2-24.5h0m-85.5 43.8h0m70-57.7h0m13.1-15.1h0m-4.6 8h0m-103.5 17.3h0m-40.9-11.3h0m-25 37.7h0m135.8-45.4h0m-117.8-17.1h0m-3.9-2.1h0m63.5 4.4h0m-60 81.3h0m35-64.3h0m-49.2-43.3h0m117.2 116.1h0m12.8-52h0m-106.1-13.7h0m19.2-51.6h0m-16.9 115h0m22.3-34.9h0m52.2-96.8h0m64.7 42.2h0m-66.2 94.3h0m40.4-39.6h0m-12 22.9h0m29.2-25.3h0m-106.9-72.4h0m14.7 12.9h0m81.1 54.8h0m-113.9-13.9h0m52.4-12.6h0m-31.5 54.4h0m-32.6-113.8h0m80.9 132.5h0m-40.9-102.3h0m106.3 21.5h0m-103.5-15.7h0m70.2-5.6h0m-102 85.4h0m-26.9-52.1h0m-6.6-35.5h0m42.8 9.3h0m-9.3-48.5h0m82.6 44.2h0m-3-27.3h0m-0.1 0.7h0m-11.5 30.8h0m-58.8-51.6h0m70.6 143h0m-89.8-25.4h0m102.2 19.7h0m-48.6-11.6h0m-8.2-29.5h0m10.3 58.8h0m-28.7-70.5h0m2.2 34.4h0m-32.4-41.9h0m153.4 13.6h0m-28.2-48.9h0m-2.5 34.2h0m-60.5-66.6h0m77.1 66.2h0m-88.5 76.6h0m14.6-17.8h0m-63.8-18.1h0m110.6-17.1h0m-90.4-83.8h0m-24.8 124.5h0m67-6.2h0m-72.6-76.2h0m62.5-39.1h0m73.4 102.1h0m-138.5-88.4h0m111.4 77.1h0m9.1 16.9h0m-45.7 14.2h0m-53.3-28.9h0m72.8-68.1h0m-27.8 100.1h0m-9.4-46.4h0m35.3-49.7h0m-102.8 6.8h0m36.6-12h0m57 85.6h0m-88.8-40.5h0m28.6-71.5h0m53.4 57.7h0m54.1 22.6h0m-55.7-15.5h0m-44.4 37h0m71.5 6.8h0m-47.1 31.4h0m-41.1-104.6h0m119 93.8h0m5.1-102.5h0m-122.8-14.1h0m113.7 107.1h0m12.7-43.6h0m-146-1.9h0m64.3-86.2h0m-12.3 156.1h0m90.8-36.2h0m-45.3-20.3h0m30.3 15.1h0m-1.7 5.9h0m-49.6-12.8h0m47.9-22.7h0m-115.8-5.4h0m143.1-26.3h0m-132.7 25.3h0m43 3.8h0m-6.3 68.7h0m83.8-103.7h0m-137-17.2h0m14.9 57.3h0m110.9-49.4h0m-117.8 92.4h0m56.7-138.2h0m51.6 54.4h0m-53.3 23.4h0m32.2-8h0m52.1 3.1h0m-124.3-44.8h0m46.6-11.1h0m26.8 2h0m-46.1 23h0m2.2 80.8h0m-14-42h0m-15.8-37.9h0m-7.5 58.1h0m-10.6-13.5h0m69.1-47.8h0m54.6 2.9h0m9.7 100.6h0m-37.9-59.7h0m51.3 62h0m-141.1-33h0m101.6-75.1h0m-53.9 37.9h0m-36.8 75.4h0m36-123.7h0m4.8 40.6h0m7-10.3h0m-45.1 10.9h0m132.6 3.6h0m-137.8-19.8h0m117.2 53.9h0m5.6 47.7h0m-1.1-87.9h0m-66.7-29.1h0m7.4-6h0m-47.6 19.6h0m48.9 95.8h0m26-73.8h0m-3.6 68.8h0m-5.7-113h0m7.4 85.8h0m-112.9 1.2h0m113.9 12.7h0m41.9-43.7h0m-55.8 30.5h0m-66.4 28.4h0m74.2-58.7h0m59.5-29.2h0m-132.2-51.3h0m138.8 52.3h0m-134.3-24.6h0m113.8 69.8h0m-102 4.1h0m50.1-32.1h0m35.2 79.8h0m36.6-83h0m-60.6 47.8h0m-72.7-43h0m28 56.8h0m-8.2-13.4h0m121.6-50.1h0m-5.1-11.9h0m-104-37.5h0m45.4 96h0m-32.8 9.5h0m-74-56.7h0m84.5 24h0m-23 48.2h0m-7.5-139.3h0m-60.4 34h0m82.2 132.1h0m38.2-83.7h0m49-21.1h0m-116 79.8h0m-18.5-26.3h0m136.7-55.8h0m-166.1 47.6h0m52.2-36h0m24.7 49.4h0m22.6-4.2h0m30-82.1h0m7.7 86.6h0m-117 34h0m121.7-76.6h0m-3 41.3h0m-95.4-21h0m-23-21.4h0m12.2 78.9h0m86.2-79.3h0m-43.9 71.1h0m82.6-30.5h0m-175.6-78.2h0m39.2 10.4h0m138.1 24.5h0m-76.1-55.9h0m-35 51.8h0m56.7 61.7h0m11.3-71.7h0m-27.9-2.4h0m-77 53.4h0m20.6-47.6h0m40.4-52.8h0m-51.1-8.3h0m-19.4 46.6h0m143.5 63.3h0m-90.4 42.1h0m-60.8-83.3h0m23.7-13.8h0m65.5 30.2h0m-4.9 36.2h0m-11.7 4.8h0m64.4-87.9h0m-132.7 5.8h0m60.2 13.5h0m103.5 29.4h0m-37.9-30.2h0m-64.4-10.6h0m-30.3-34.4h0m-31.4 61.8h0m42-78.7h0m11.9 6.5h0m14.9 66.2h0m80 46.3h0m-81.6-16.6h0m42.9-58.9h0m-95.5 28.2h0m40.1-26.4h0m-38.4 27h0m-12.9 26.5h0m-7.1-40.5h0m14.5 68.6h0m52.2-50.7h0m58.3-2.9h0m22.8 79.3h0m-48.5-17.6h0m-93.8-90.2h0m143.4 96.5h0m-31.7-61.6h0m33.1 31.8h0m-14.6-77.6h0m-110.2 17.4h0m24.5-45.1h0m19.3 96h0m-63.4-23.9h0m104.9 28.9h0m6.7-88.9h0m-32 114.7h0m-40.3-18.4h0m-30.1 3.9h0m76.5-60.8h0m-23.5 64.2h0m-40.4 21.5h0m15.4 3.7h0m-10.8-61.2h0m87.7-55.6h0m-51.4 94.2h0m67.8 11.7h0m-44 24h0m21.9-29.2h0m-36.1-78h0m-15.9 52.9h0m-44.8 9.9h0m3.6-101.8h0m33.3 28.7h0m95.1 69.5h0m-12-51.4h0m-57.1-29.3h0m-81.7 69.7h0m149.2 43.8h0m-86.5-60.7h0m100.3-25h0m-26.3-20h0m-24.8 108.6h0m28.4-83.4h0m-45.8 41.9h0m-34 15.4h0m91.5-70.1h0m-7.5 2.7h0m-29.2 19.6h0m-9.2-36.9h0m66.2 60.8h0m-164.3-66h0m88 71.2h0m13.3-91.2h0m32.6 109.9h0m-53 42.6h0m-31.9-100.7h0m22.2 18.6h0m13.5 23.1h0m-32.7 39.8h0m-16.3-27.3h0m71.3-19.2h0m-82.3-10.3h0m23.1-6h0m51.2-54.7h0m15.7 59.5h0m-20.4 16.3h0m-100.3 16.5h0m68.6-24.4h0m4.3-22.5h0m50-12.2h0m-41.9-4h0m-42.4 13.6h0m51.5 16h0m-30.3 49.9h0m17.8-7.7h0m-2.4 34.6h0m16.1-15.7h0m-20.3 10.8h0m-70.1-91.5h0m75.3 20.5h0m80.4 33.2h0m-150.8-20.8h0m154.6-23h0m-37.6 37.9h0m-13.9-95.5h0m-25.6 90.7h0m-56.7-96.8h0m29.5 32.5h0m-1.4 108.6h0m82.9-53.6h0m-123.1-50.4h0m-16.6-17.2h0m98.7 77.2h0m-82.6-83.7h0m-4.3 75.9h0m107.7-80.4h0m-102.4 25.7h0m139.7 65.1h0m-136.5 32.3h0m13.5 13.8h0m15.1-80.1h0m2.5-15.9h0m18.6 37.2h0m15.9-29.3h0m-61.2 4.6h0m65.1-8.7h0m-10.6-48.5h0m3.5 132h0m57.4-22.6h0m-91 34.9h0m16.1-102.8h0m-17.2 67.5h0m47.6-92.5h0m-27.6 92.6h0m74.9-5.3h0m-68.2 28.1h0m-23.2-3.7h0m23.4-92.4h0m48.2 82.9h0m39.9-45.2h0m-88.2 68.9h0m-14.2-89.5h0m-50.8 25.9h0m70.9-54.2h0m68.8 71.7h0m-42.5-85.5h0m-17.9-10.4h0m85.2 44h0m-143.7 92.8h0m67.8-78.6h0m-71.5-33h0m135.4 43.5h0m-22.9 44.9h0m-48.4-4.5h0m31.8-96.6h0m-10.9-4.1h0m9.1 66.8h0m-54.9-87.6h0m59.8 89.7h0m-68.6 41.9h0m35.1-85.3h0m43.5 36.2h0m-39.8 28.9h0m-91.4-4.8h0m152.9-22.2h0m-81.2 31.9h0m104.4-58.1h0m-105.1 94.4h0m-70.3-95.3h0m129.4-29.5h0m-84.6 11.2h0m60.5-28.5h0m54.1 81.7h0m-141.5 5.8h0m36.9 26.1h0m9.3 8.4h0m22.9-67.3h0m67.2-9.6h0m-97.7 6.5h0m-0.8-68h0m72.7 92h0m-81.1 72.7h0m-20.1-140.1h0m103.2 78.4h0m-67.7-6.7h0m-41 1.5h0m58.9 35h0m-15.3-52.3h0m-24.6-40.1h0m-25.7-21.1h0m18.7 7.1h0m57.9 39.9h0m-29.2 72.3h0m1-97.8h0m50.7-15.7h0m17.3 75.6h0m40.3-21.8h0m-9.5 17.1h0m-119.5-70.9h0m-41.8 32.9h0m98.6 44.8h0m-54.4-102.8h0m-14.8 107h0m79.5 22.2h0m-33.3-93.3h0m-32.2 27.7h0m30 46.1h0m-18.8-62.3h0m66 32.1h0m-30.3-22.9h0m-26.3 22.7h0m25.3-12.5h0m-59.1 71.7h0m17.7-98.4h0m-35.4 13.5h0m84.1-16.2h0m6.8 99.1h0m34.4-83.6h0m20.3 42.6h0m-10.4 10h0m-130.5-66.4h0m82.2 56.3h0m-37.4-80.6h0m35.9 14.1h0m-32.5 44h0m54.2-31h0m-21.9 63.6h0m-89.5-71.3h0m105.3-16.6h0m54.5 94.3h0m-158.6-57.1h0m-10.9 25.7h0m76.8-22.7h0m-42.8 39.5h0m2.9-34.5h0m-17.8-37.8h0m21.4 106.4h0m88.4-50.6h0m-66.4-21.4h0m18.6 29.7h0m-68.5 47.4h0m95.3-42.5h0m11.9 16h0m-68.8-75.9h0m39.8 72.3h0m-58.6-68.5h0m-17.7 57.2h0m-0.6 9h0m131 0.8h0m-10.6 24.3h0m-32.7-1.7h0m-46.6-9.2h0m2.5-27.3h0m-17.4-61.5h0m-26.8 90.9h0m25.4 20.1h0m-36.4-75h0m33.5-15.9h0m106.4 4.3h0m-95-19.9h0m-20.2 97.1h0m137.3-27.5h0m-78.9-16.8h0m-41.3 0.9h0m64.9 5.1h0m-5.7-6.3h0m-84.9 56.7h0m47 7.4h0m78.4-44.6h0m-109.4-41.9h0m-39.6-14.3h0m134.1 72.7h0m-19.9-78.7h0m-76.7-39.1h0m55.6 41.3h0m34.7-11.7h0m-101.7 20.5h0m141.9 51.5h0m-152-75.1h0m28.9 133.8h0m95.9-97.6h0m-40.7 7.2h0m-57.1-67.7h0m10 40.3h0m35.1 60.3h0m60.3-24.6h0m-23.8-34.5h0m-109.5 97.4h0m134.2-24.7h0m-21.1 7.9h0m21.6 11.6h0m-27.3-102.4h0m-38.3 130h0m100.7-100.2h0m-104-25.2h0m72.9 38.9h0m-21.7 12.4h0m3 25.2h0m-77.7-41.2h0m75.2 78.8h0m-139.1-98h0m39.2 73.1h0m1-2.7h0m-44-74.7h0m154.4 21.4h0m-2.7 23.8h0m-124.3-14.1h0m68.1 3.7h0m-24 53.7h0m1.5 5.8h0m-3.8-139.5h0m113.8 52.6h0m-158.8 78.1h0m8.3-73.5h0m15.7-50.9h0m20 113h0m19.5-46.4h0m54.2 23.8h0m-12.3 0.7h0m-86.6-85.9h0m123.7 40.9h0m-105.9 68.9h0m41.2-95h0m-91.5 61.7h0m144.7 24.1h0m-7.8-0.4h0m-68.3-4.2h0m-41.7 38.2h0m32.3-12.1h0m58.8-131.3h0m-6.5 35.9h0m-103 58.6h0m149.5-35.8h0m-53.6 5.2h0m-4.8-31.1h0m15.2 39.4h0m62.5-9.4h0m-146.1 80.2h0m93.8-102h0m-15.3 85.9h0m11.7 7.8h0m-89.6-96.8h0m29.8 62.9h0m104.4-19.9h0m-161.7 34.8h0m135.6-55.6h0m-50.9-0.5h0m-94.9-27.9h0m157.3 25.7h0m-127.1 83.4h0m27.5-62.9h0m37.7 1.7h0m-38.8 77.6h0m104.4-72.4h0m-70.8-44.4h0m-34 59h0m30.6-40.5h0m-8 88h0m-47.4-121.8h0m141 71.9h0m-49.9-20.7h0m-68.7-13.1h0m-38.2 44.1h0m70.9 15.8h0m-27.3 26.4h0m112.2-72.5h0m-155.5-52.8h0m18 73.5h0m88.5-62.8h0m-74 6.8h0m12.2-36.8h0m119.5 87.5h0m-141.8-82.8h0m20.3 113.6h0m11-1h0m21.8-4.1h0m44.8-99.2h0m-106.1 87.6h0m98.1-5.4h0m-115.2-4.7h0m96.6 3.7h0m49.6-60.3h0m-8.7 21.4h0m-102.8-11h0m86.6-19.1h0m-60 44.7h0m35.3-20.7h0m7.2 83.7h0m-110.1-91.8h0m143.9 56.6h0m-120.7-56.6h0m-21.6 56.6h0m88.7-96.1h0m-3.1 135.9h0m-11.1-49.6h0m-77.6-56.7h0m113.2 52.3h0m-85.3-28h0m1.4 46.2h0m42.1 7.5h0m-67.3-1.8h0m-5.2-51.3h0m62.3-71.1h0m47.3 43.5h0m64.3 63.7h0m-166.7-53.3h0m61-7.6h0m87 102.9h0m-129.9-35.6h0m106.1-13.5h0m-65.2-36.6h0m7.8 64.2h0m86.6-75.4h0m-37.9-29.3h0m-93.2 47.3h0m-8.1 59.7h0m47.1-110.3h0m-23.2 49.9h0m35.6-2.4h0m40.7-21.4h0m-96.8-17.7h0m-20.1 87.4h0m100 23.9h0m75.3-69.4h0m-107.6 17.1h0m-61-37.7h0m0.6 34.6h0m73.3-41.6h0m69.9 31.5h0m-20.1-45.5h0m-41 3.5h0m-92.9 50.2h0m116 60.2h0m-3.4-94.2h0m35.9 61.8h0m-52.4-55.3h0m-41.8 26.1h0m-9.8-67.9h0m40.6 46.3h0m-78.8 21.4h0m114.3-50.5h0m-54.4-0.8h0m2 81.2h0m25-65.3h0m-42.6-5.2h0m80.7-1.2h0m-22.2 89.8h0m-26-123.2h0m-8.9 68h0m26.6-23.8h0m32.2 16.7h0m-111.8-17.8h0m-6.6 80.9h0m4.1-51.1h0m46.7 51.5h0m25.3-108.6h0m-18 69.3h0m68.4-53.1h0m-23.5 39.5h0m-36.4 44.4h0m-22.6-96.2h0m-9 37.8h0m20-15.3h0m67.4 96.5h0m-65.3-62.4h0m-40.5 26.6h0m58.8-62.1h0m-27.5 93.3h0m-27.2 20.8h0m18.6-5.1h0m8.5-148.8h0m47.9 20.7h0m45 21.2h0m-59 20.9h0m22.4-25.3h0m-63.1 85.9h0m28.5-44.3h0m-31.3 46.2h0m91.8-22.2h0m-41 15.3h0m-11.6-99.6h0m-37.5-6.2h0m-14.7 130.2h0m9.4-53.5h0m-40-23.8h0m43.1 51.1h0m-0.2-17.8h0m20.2 11.8h0m44.8 5.9h0m-76.4 23.3h0m-19.6-77.6h0m90.7-33.5h0m-24.7 13.4h0m-87.9 78.1h0m55.6-32.7h0m68.4 19.1h0m-56.2 36h0m-51.3-67.4h0m140.4-28.5h0m-117.3 65.1h0m-26.3-55.4h0m70.2 101.1h0m-46.2-150.1h0m52.1 45.5h0m45.8 15.9h0m-90.3-44.2h0m17.7 39.9h0m48.8-20.2h0m-17.6 43.9h0m-102.7-55.6h0m62.6-3.4h0m26.9-24.5h0m65.4 103.5h0m-104.8-6.1h0m-41.3-9h0m165.4 3h0m-44.1-78.6h0m-27.8 76.1h0m-37 30.3h0m46.2-10.1h0m-103.9-30h0m30.8-43.6h0m45.8-39.8h0m2.1 67.5h0m-79.9 47.2h0m124.4-110.3h0m-32.3 146.9h0m-50.5-24.5h0m52.9-15.7h0m-45.9 32.5h0m83.1-83.8h0m-127.7 59h0m135-61.5h0m-8.3 24h0m-28.4 44.1h0m-54.8-55.8h0m20.3-58.7h0m-49.4 124.7h0m111.8-59.6h0m-117.3-23.7h0m-12.3-18.5h0m39.1 1h0m70.3-20.6h0m-15.1 21.2h0m-16.8 65.6h0m-71.9-47.9h0m87.1 82.5h0m34.6-8.3h0m-69.9-120.4h0m-13.5 77.9h0m30.1-92h0m-28.2 151.4h0m19.8-2h0m39.1-87.5h0m-57.3 52.5h0m-11.5 5.4h0m31.6-24.1h0m12.6 31.3h0m-29.7-24.2h0m-9.4 43.4h0m34.3-84.5h0m66.1-16.9h0m-88-29.2h0m105 39.1h0m-89.9-25h0m-12.3 117.4h0m20.1-96.7h0m53.5 75.3h0m-93.3-108h0m-8 71.8h0m51.5 62.9h0m49.2-105.6h0m-96.9 108.5h0m39.7-155.9h0m5.4 19.1h0m-26.8 39.3h0m22.8 39.1h0m-45.5 2.6h0m135.9 16.9h0m-92.8 30.5h0m-5.3-12.5h0m118.4-58.6h0m-67.8-24.7h0m-29.1 76.7h0m-18.6-106.6h0m-39.1 52.4h0m-10.9 35.5h0m55.5-29.7h0m109.6-0.7h0m-5.6-8.9h0m-119.7 84.4h0m49.1-130h0m-81 114.2h0m13.7-95.4h0m24.3 90h0m96.5-20h0m13.6-31.4h0m-145 57.8h0m26.1 7.5h0m-21.8-71.9h0m94 67.7h0m47.2-54.7h0m-93-8.4h0m-61.4 8.1h0m30.2-62.4h0m42.6-10.8h0m-28.9 87.2h0m-6.9-84.5h0m52.9 125.2h0m-78.5-46.2h0m70.8 37.1h0m-34.9-78.3h0m36.4 69.7h0m-86.7-91.2h0m23.5 40.3h0m-5.2 78.2h0m37.3-86.7h0m-9.6 25h0m5.3-25.3h0m-0.4-8.1h0m-3.5-54.9h0m86.3 124.7h0m-68.9 29.9h0m28.5-10.2h0m-8.2-81.3h0m-2.5-25.2h0m78.6 43h0m-108.3-8.8h0m-39.2 14.5h0m59.3-74.8h0m-27 59.9h0m47.3 34.6h0m8.1-55.7h0m-82 58.7h0m79.5-54.2h0m16.7 22.2h0m-19.8 8.2h0m-118-33.8h0m76.7 16.1h0m-13 5.7h0m-38.5 21.7h0m105.2 51.9h0m-6.4-130.6h0m0.6 77.5h0m-20 31.2h0m8.9-111.9h0m-12.1 91.1h0m45 47.8h0m-101.6-14.7h0m71.7-10.6h0m-52.9-55.9h0m-13.8-4.1h0m14.1-11.7h0m-3.5-9.5h0m107.4 58.1h0m-105-21.2h0m-1.3 11.7h0m-34.3 5h0m3.9 11.4h0m42.1-91.7h0m92.8 77.1h0m-113.5 35.7h0m94.3-99.2h0m-145.7 6.9h0m142 106.2h0m-63.6-32.6h0m35.9-94.2h0m-53.7 116.9h0m123.3-42.3h0m-101.3-73.7h0m-11.3 50h0m42.5 50.8h0m-21.1 1.3h0m41.6-19.1h0m-88-49.2h0m10.7 34.4h0m-14.4 40h0m32.2 31.4h0m91.9-91.3h0m-64.5 86.7h0m51-56.1h0m-17.7 13.5h0m-98.2 35.1h0m122.5-29.3h0m-130.9-3.3h0m127.4-60.6h0m-117.3 52.6h0m130.3-8.2h0m-162-28.7h0m81.2-35.7h0m-30.3 81.8h0m122-17.9h0m-52.8-32.4h0m-51.4 83h0m94.3-72.1h0m-147-25.7h0m122.9 33.7h0m-44.9-14.4h0m14.4-2.4h0m-43.3 69h0m-36.6-113.6h0m89.6 100h0m-40.3-63h0m-57.7-26.7h0m-19.1 12.6h0m119.6-36.7h0m26.1 114.3h0m-30.7 20.2h0m-36-84.1h0m-76.2 1h0m-2.1-0.1h0m71.9 51.1h0m50.9 18.4h0m14.7 3.5h0m8.4-88.2h0m-22.3 10h0m-16.8 8.5h0m15.6 66.1h0m-41.6 22.9h0m10.8-69.2h0m53.9-18.3h0m-94.4 51.2h0m-13.7-90.2h0m31.1-24.2h0m-39.4 46.7h0m13 75.2h0m2.4-13.8h0m78.4 7.5h0m17.3 0.8h0m-145.3 10.2h0m10.4-79.7h0m37.4-15.3h0m24.6 82.5h0m-1.8-16.9h0m-45.3-66.4h0m11.4 96.2h0m-12.9-21.9h0m95.2-4.3h0m10.3 34.9h0m53.4-73.8h0m-115.4-18.5h0m-54.2 39.2h0m72.7 44.3h0m56.8-91.9h0m-138.6 62.1h0m145.9 50.1h0m-118.8-2.6h0m89.1-2.7h0m-120.2-39h0m96.8-70.7h0m82.2 33.7h0m-102.9 97.8h0m-38.4-77.9h0m91.4 49.9h0m-87.1-58.5h0m27.9-68.9h0m-24.4 1.6h0m23.4 91.3h0m-16.8-81.7h0m73.9 101.5h0m-6.9-88.8h0m-86.3-9.1h0m51.7 75.8h0m75.9-3.9h0m-44-1.3h0m22 34.1h0m16.2-9.4h0m-60 20.3h0m38.5-45.3h0m-103.2-33.6h0m-27-5h0m91.4 26.3h0m55.6 46.9h0m12.6-27.3h0m-17.4 22.1h0m-66-110.1h0m4 39.4h0m65.3 40.4h0m-96.4 63.5h0m22.3-25.2h0m58-21.6h0m17.8-27.1h0m-133.5-10.9h0m0.1 22.9h0m17.8-1.5h0m13-28.7h0m-32 68h0m162.1-64.8h0m-86.7 64.5h0m-27.3-67.7h0m19.4 99.8h0m54.7-109.6h0m8.2-20h0m-122.7 34.1h0m27.8-8.9h0m114.3-10.8h0m-88.9 3.4h0m27.8 47.6h0m-32.5 33.2h0m-66.6-50.9h0m90 11.1h0m-64.5-1.1h0m1 29.1h0m20.1 0h0m17.3-83.5h0m79.8 29.5h0m-35.1 62.3h0m-77.4-14.2h0m0.7-31h0m21.5-4.1h0m0.8-37.8h0m-46.7 95.8h0m34-126.7h0m1.3 143.8h0m-43.1-103.2h0m14.1-14h0m81.9 39.2h0m78.5-23.7h0m-129.1-6.8h0m32.5 108.2h0m53.4-36.9h0m-33.4-25h0m16.1-19.7h0m60 24.2h0m-48.5-27.4h0m-64.9 72.7h0m-16.7-109.6h0m-5.8 10.2h0m-19.7 18.6h0m-26.3 0.6h0m81.2-32.9h0m3.8-15.6h0m-43.4 76.9h0m44.6-66.3h0m-35.6 87.6h0m-4.8 11.2h0m50.5 36h0m19.6-153.6h0m-97 93.8h0m5.4 31.7h0m35.6-61.5h0m37.8 16.9h0m69.7-37.1h0m-4.8 53.4h0m-101.2-101.4h0m54.1 5.1h0m-72.2 58.5h0m24.5 9.8h0m-8.9-76h0m38.8 61h0m-24.5-62.9h0m-12.8 69.5h0m100.3-7.2h0m-84.5 26.3h0m32.9 56.9h0m40.1-54.6h0m-64.5 62h0m57.3-105.5h0m0.5 60.1h0m-26.8-85.7h0m-80.7-3.2h0m29.2 49.1h0m100.4 50.5h0m-101-35.2h0m39.5-63.7h0m-75.7 83.8h0m99.1-84.7h0m30.8 33.5h0m-80 10.7h0m-56.1 54.6h0m136.4 27.3h0m-32.1-23.8h0m-76.8 41.4h0m39.3-72.3h0m-66.2-62.8h0m45.5 93.3h0m65.6 18.8h0m-29.3-114h0m-2 17.8h0m-67.1 105.5h0m53-45.2h0m-53.9-92.2h0m63 67h0m-94.4 34.5h0m89.4-1.4h0m-61.1-82.8h0m111.2 41.6h0m35.1-9.3h0m-60.4 38.2h0m2 40.3h0m-93.9-36.9h0m10.7-17.8h0m-22.9-44.8h0m151.6 55.5h0m-42.4 2.8h0m6.1-44.3h0m-11.4-32.5h0m57.9 36.9h0m-83.8 40.7h0m57.8-40.4h0m-115.1 31h0m34.8-23.3h0m56.8-0.3h0m-56.2 102.8h0m-27.9-83.1h0m91.7-18.8h0m-24.2-29h0m55.9 13.3h0m-20.3 44.6h0m-12.5-54h0m21.7 54.5h0m-27.5-36.8h0m-105.8 17h0m71.2 30.5h0m30.9-63.4h0m53.4 48h0m-54.5-27.1h0m-57.2 7h0m-20.7 60.9h0m16.1-77.3h0m27.8-22.8h0m-9.4 37.2h0m-25.9-3.6h0m-0.8-36.2h0m85 46.1h0m-57.5-32.1h0m-72.3 0.7h0m111 89.5h0m-82-123.1h0m-6.8 51.5h0m126.1 12.9h0m-115.5 17.8h0m1.1 66.7h0m57-41.7h0m60.6-22.9h0m-39.4 5.5h0m19.7 5.7h0m-85.8-107.8h0m-7.6 160.6h0m46.5-143.1h0m33.9 106.1h0m53-13.6h0m-60.8-2.2h0m-57.2-63.9h0m52.8 65.6h0m4.2-93.3h0m23.1 105.4h0m-92.6-122.2h0m4.9 54.4h0m-40.7 1h0m139.1 3.6h0m-75.8-12.9h0m13.5 5.5h0m33.3 37.1h0m-40.7 33.2h0m71.2 26.8h0m-2.4-14.4h0m-10.8-71.3h0m-121.3 57.2h0m73.9-66.4h0m18.6 68h0m6.9 11.2h0m36-8.7h0m-41-2.7h0m-66.5 34.1h0m96.6-108.5h0m-1.9-9.1h0m-54.3 7.5h0m27.5 13h0m43.9-6.2h0m-90.5 66.4h0m-10.8-118.5h0m-26.7 51.9h0m17.2-21.1h0m1.3 90.2h0m17.9-61.8h0m-14.3 77.8h0m-27.5-8.4h0m87.3 15.3h0m0.7-108.2h0m-54.6 4.2h0m75.8-11.6h0m-83.2-13.2h0m35.4 153.7h0m23.2-84.4h0m46.1 6.7h0m-155.2-35h0m75.8 30.5h0m52.4-52.5h0m-51.9-27.5h0m24.7 25.6h0m-104.6 8h0m45 113.8h0m10.1-125.8h0m118.7 47.2h0m-136.3-30.4h0m2.4 113.9h0m26.9-29.1h0m6.9-124.8h0m10.4 54.7h0m36.1 32.1h0m-63.8-43.8h0m52.2 81.8h0m37.8-66.6h0m-41.2 86.4h0m65.4-91.3h0m-60.3 5.7h0m-93.1-8.7h0m39.7-34.3h0m89.3 129.2h0m-129.5-56.8h0m13-43.7h0m50-23h0m-31.9 45.7h0m86.6-50.3h0m-87.5 46.1h0m-8.9-12.6h0m103.9-24.7h0m-101.6 122.8h0m-13.6-78.6h0m27.3-18h0m104.3 40h0m-76.1-88.4h0m-36.6 11.2h0m9.5 127.8h0m75.4-109.4h0m49.4 36.6h0m-31.8 41.4h0m-98.3-114.7h0m-6.8 61.9h0m112.2-12.1h0m20.1 35.9h0m-125.9-47.1h0m12.1-38.3h0m74.9 27.7h0m-94.7 117h0m51.2-71.5h0m4.3-38.8h0m-1.1 35.3h0m1.6 56.3h0m-22.8-85.7h0m-60.2 60.2h0m62.5 27.7h0m63.4 0h0m38.9-22h0m-133.4-57.8h0m116.9 93h0m-68.9-56.5h0m-12.2-3.6h0m87.1 21.2h0m-42.8-67h0m-33.5 1h0m-58.4 12.8h0m10.7-12.1h0m106.1 21.1h0m5.9 9.4h0m0.9 27.9h0m-35.3-17.1h0m-26.6 43.5h0m-12.3-19.4h0m37.5-31.6h0m-58.4 42.8h0m-48.2-21.2h0m126.3-13.9h0m-137.9-17.3h0m83.3-10.2h0m37.6 86h0m-43.1-98h0m7.7-36.3h0m-85.4 58.5h0m51.9-52.1h0m-36.4 120.1h0m-8.8-47.1h0m4.3-53.4h0m-1.3 101.5h0m113-52.5h0m-37.1-76.4h0m-11.1 46.1h0m14.7 58.6h0m-10.3-34.1h0m57.7-34h0m-75.7 127.6h0m-16.9-93.6h0m76.8 53.8h0m-102.1-29.7h0m21.7-43.2h0m2-8.9h0m69.7 91.8h0m37.6-82.6h0m-150.9-9.5h0m76.7 101h0m68.6-55.7h0m-63.6 60.4h0m-74.4-78.8h0m137.9 18.9h0m-37.2-56.7h0m17 104.6h0m31.2-84h0m-55.7 73.7h0m-52.1-123.1h0m73.3 88.9h0m-43.7-47h0m1-48.2h0m39.4 80.1h0m-47.7 41.7h0m109.3-31.3h0m-81.8-4.1h0m-52 51.6h0m56.5-18.9h0m-47.6-95.5h0m42.2 116.8h0m-18.1-80.1h0m9.7 107h0m5.8-15.1h0m-27.8-80.9h0m77.6 83.7h0m-9.2-17h0m-73.7 7.7h0m117.2-86.8h0m-66.2-9.7h0m-100.1 3.4h0m34.1-48.6h0m92 108.9h0m-97.9 20.6h0m-14.4-76.3h0m79 44.6h0m62.8-14.8h0m-150.5-46h0m101.3-28.5h0m-4.7 121.4h0m-28.4-97.8h0m52.8 84.4h0m29.4-29.5h0m-105.2 78h0m97.4-21.5h0m-84-107.9h0m-36.6 49.8h0m27.5-57.6h0m36.1 131.2h0m-87.3-65.7h0m169.5-24h0m-114.8 17.6h0m-31.1 58.1h0m77.5-30.1h0m26.3-37.9h0m-117.1 36.9h0m43.3-102.1h0m6.7 55.9h0m87.2-17.5h0m-116.6-1.9h0m19.1 104h0m-31.5-67h0m38.7-43h0m61.7 31.5h0m-67.4 67.6h0m-44.2-32.1h0m112-54.7h0m-109.7 62.6h0m3.5 15.5h0m106.4-33.3h0m9.6 26.3h0m-138.2-5.5h0m10.3-88.9h0m31.1 6.1h0m16.2-34.2h0m31.6 158.2h0m-68.9-80.8h0m23.7-41.7h0m33.3-21.4h0m-54.1-2.7h0m-11.8 70.6h0m65.4-57.4h0m-2.1 19.7h0m-14.4 50.9h0m-32.7-89.7h0m50.6 15.9h0m-26.7 36.6h0m-28.8 51.6h0m14.4-71.3h0m49.4-13.4h0m-37.5-16.4h0m17.6 97.9h0m-36.9-11.4h0m34.6-47.9h0m59.7 21.6h0m-71.8 86.7h0m-21.9-97.2h0m15.6 18.7h0m-8.6 77.3h0m1.4-19.5h0m35.6-52.3h0m-33.3-88.7h0m86.8 50.7h0m-56.1 3.5h0m-2.3-32.8h0m-33.7 59.8h0m89.4-19.2h0m-48.5 63h0m37.6-6.2h0m-116.8-1.5h0m101.1 25.5h0m-5.5-47.4h0m65.6-32.1h0m-153.8 31.9h0m44.1-11.5h0m5.2-67.7h0m-47.6 100.3h0m90.4-49.2h0m12.9 83.6h0m-101.2-105.3h0m26.3-35.4h0m48.3 51.7h0m52.1-11.4h0m-72.4 39.3h0m24.6-30.1h0m79.5 3.4h0m-92.1 84.3h0m-8.1-80.9h0m77.7-19.9h0m-9.3 7.1h0m-94-32.7h0m24.6-8.7h0m103.4 81.5h0m-66.9 57h0m13.9-45.5h0m3.2-85.3h0m59.6 55.2h0m-20.8 40.7h0m-50.9 29.2h0m4.3-4.8h0m13.5-128.7h0m-12.1 13.5h0m13.5 7.8h0m-107.8 89.1h0m39.6-6.2h0m74.5-62h0m-33.6-5.3h0m-93.2-11.3h0m147.5 47h0m-24.6 41.6h0m-93.8 12h0m117.2 2.9h0m-85.4-87h0m68.4 45.1h0m-27.1-30h0m-65.9 85h0m-11.9-152.2h0m13.4 63.8h0m128.5 32.1h0m-15-41.5h0m-104.5-40.7h0m-18 48.7h0m35.2-30.5h0m52.8 16.8h0m45 42.1h0m-87-37.7h0m85.9 28h0m-98.6 65.7h0m-54.2-50.8h0m101.9 45h0m-47.4-26.2h0m19.8 12.6h0m10.6 5.1h0m-47.1-30.1h0m-19.8-55.4h0m67.1-28.4h0m9 90.8h0m-9.4-6.3h0m-102.5-51h0m42.1-47.7h0m-1.1 13.5h0m49.2 83h0m7.6-90h0m-62.9 93h0m-29.4-25.9h0m113.7-44.4h0m57.8 41h0m-91.6 48.1h0m-11.6-37.9h0m6.9 82.8h0m-17.8-147.4h0m17.3 119.4h0m-53.4-112.8h0m37.4 113.4h0m40.2-91.2h0m76.7 29.7h0m-22.9 40.3h0m-83.9 25.2h0m42.4-134.1h0m-74 88.3h0m-10.9-62.8h0m0.4 50.7h0m-6.4 56.2h0m41.6-30.7h0m-26.8-85.6h0m73.1 101.2h0m-23.5-27.8h0m32-15.6h0m12.6-13.2h0m-106.9 58.8h0m126.1 16.7h0m-20.8-33.3h0m-37.5-75.8h0m-56.8-26.6h0m48.6 155.2h0m-27.4-106.2h0m11.5 9.9h0m-27-8.8h0m107.8 26.2h0m-141.9-46.9h0m26.5 38.7h0m6.8 73h0m59-41h0m36.9 7.2h0m-128 9.4h0m48.1 27.2h0m-6.3-36.5h0m2.7-23.5h0m62.3 46.5h0m-87.9-40.6h0m36.4 14.7h0m38.5 5.2h0m-2.1 35.7h0m27.8-51.1h0m-41.7-55.4h0m60.6-9.7h0m-77.4 115.5h0m-38.7-137.8h0m28.9 141.7h0m-10.7-77.2h0m80-57.1h0m-18.3 111.7h0m-34.5-88.1h0m-42.4 51.3h0m63.3 9.7h0m-58.5-35.7h0m38.4 25h0m97.3-35.4h0m-124.7-32.1h0m102.4 74.2h0m-43.5-21.3h0m-81.8-16.1h0m111.7-13.7h0m-63.9 100.4h0m-71.1-114.3h0m83 114.5h0m-17.4-35.4h0m-14.6-1.5h0m73.4-77.3h0m-65.3-42.3h0m68.9 122.1h0m-95.8-59.9h0m12-22.3h0m-22.6 59.1h0m67.2 17.6h0m88.3-12.6h0m-38.8-41.8h0m9 83.2h0m-133.1-54.5h0m-11.7 31.5h0m114.9-25.9h0m-47.5-44.1h0m-45.7-14.7h0m-21.4 28.6h0m44-69h0m28.4 134.9h0m-8.5-114.8h0m63.9 46h0m-102.7 23.8h0m-16.7 48h0m130.4 0.2h0m-4.5-9.5h0m-123.7-14.8h0m82.4 19.5h0m-21.1-86.1h0m-39.2 76.1h0m-24.3-42.8h0m32 9.8h0m14.6 51.2h0m58.2-79.2h0m19.7 77.7h0m-96.9 4.1h0m36.8-71.5h0m-21.6 62.7h0m121-66.6h0m0 2.5h0m-129.6 95h0m47.3-18.7h0m55.4-85.4h0m-79.1 98.4h0m22.3-76.3h0m18.9 56.9h0m-77.1-123.3h0m20.2 92.4h0m-51.6-60.7h0m148.1 95.4h0m-47.7-127h0m-0.5 90.9h0m-35.9-88.7h0m39.7 127.9h0m45.6 4.6h0m-96.3-29.5h0m50.5-49.1h0m37.6-6.3h0m-113.3-54.1h0m5.1 18.6h0m91.3-5.8h0m-12.5 58.7h0m-100.6-8.3h0m54.6-47.9h0m72.3 118.7h0m-59.5-71.3h0m25.8-50h0m-22.6 101.9h0m54.7-3.4h0m44.5-56.4h0m-31.5-11.1h0m-72.7 88.5h0m43.9-10.5h0m48.9-64.7h0m0.5 9.4h0m-97.6-30.8h0m67.5 98h0m-23-125.1h0m19.3 116h0m-6-46.9h0m-52.2 56.8h0m25.1-62.2h0m32.4-33.4h0m-49.3 89.2h0m-10.2-48.8h0m12.1 40.2h0m-22.5 0.7h0m13.9-81.9h0m31-36.4h0m32.8 90.6h0m28.5-43.4h0m-104.9 83.2h0m10-36.8h0m78.6-28.6h0m-42.2-17h0m-40.7-29.4h0m77.4 56.8h0m-116.9-89.2h0m112.1 59.5h0m-23.2 66.1h0m-82.3-11h0m80-77.1h0m21 42h0m-83.2-33.7h0m70.3 7.7h0m-11.8-17.9h0m-10.4 0.2h0m-1.5 58.7h0m62.5-7.3h0m-47.8-5.6h0m33.7-20.5h0m13.9 20.8h0m-71.5 43.3h0m-10.5 7.5h0m-65.8 2.5h0m53.2-9.4h0m27-81.3h0m24.6 36.7h0m-6.9 27.6h0m-6-29.6h0m51.7 32.6h0m5.2-47.6h0m-81.7-21.7h0m-17 28.1h0m72.9-3.8h0m-8.4 20.5h0m7.5-11.8h0m-13.6 2.1h0m-82.6 29h0m77.4-92.1h0m24.5 54.5h0m-60.1-42.5h0m79.4 75.5h0m-68.9 26.2h0m-39.9 17.6h0m52.4-7.7h0m-10.7-2.7h0m-39.8-1.1h0m70.8-45.2h0m3.6-55.9h0m-63.8 125.5h0m-19.9-139.3h0m81.3 84.4h0m13.7-21.8h0m-5.5-26h0m-88.4-30.7h0m-16 21.9h0m47.2-19.5h0m94.2 37.9h0m-128.8 78.9h0m38.1-105.2h0m34.2 6.9h0m-14.9 51.4h0m12.7 46.2h0m-36.9-85.1h0m60.2 30.8h0m8.7 18.9h0m-52 4h0m14.3-32.9h0m-19.5-53.7h0m69.7 44.9h0m-16.2 35.9h0m-41.4-35.8h0m47.3-17.8h0m-1.7 11.6h0m-109.4-35.2h0m71.4 119.5h0m21.4-5.6h0m-80.1-120.1h0m82.1 65.2h0m-90.3 78h0m73.2-26.1h0m47.8-48h0m-139 42.2h0m109.7-60.5h0m-80-3.9h0m32.3-25h0m69.4 74.7h0m-29.9 18.4h0m-29.3-100.8h0m-61.1-11.6h0m49.5 116.5h0m-14.7-137.7h0m66.2 112.2h0m-73.4-46.3h0m11.8-8.6h0m12.6-22.5h0m-35.3 5.9h0m110.7 64.4h0m-81.1 2.5h0m60.2 2.3h0m-34.2-22.1h0m41.3 58.4h0m-16.8-105.7h0m-50.1 10.3h0m38.3 12h0m12.3 16.5h0m-26.6-31.7h0m40.9 0.7h0m-21.7 76h0m7.2-72.1h0m-14.3 33.5h0m-55.5 15.1h0m111-29.1h0m-89.1 3.7h0m11.9-22.1h0m-35.3-54.2h0m57.8 25.2h0m9.2 55.1h0m-0.8 9h0m-88.2 42.4h0m66.8-34.7h0m27.3-55.3h0m-60.4 60.9h0m-31.5 32.1h0m116.6-66.3h0m21.9-3.5h0m-87.3-22.8h0m43.1 17.9h0m-24.2-35h0m35.2 64.1h0m-54 19.4h0m-4.5-66.8h0m3.7 35h0m-22 34.1h0m47.9-39.1h0m-74.9-44.8h0m38.4 133.2h0m-38-36.3h0m63.8-62.9h0m25.2-32.2h0m47.6 40h0m-84.7 78.7h0m77.4-88.8h0m-43.7 85.7h0m25.9-70.3h0m-22.4 69.4h0m-65.3-63h0m86.7-18.6h0m-39 86.1h0m-3.9-26.9h0m-79.1-109.9h0m87.4 123h0m-61.9-7.4h0m83.2 15.4h0m5.7-46.2h0m17-5.1h0m-39.9-64.9h0m21.2 111.6h0m-70.9-124.2h0m-14.3 103.1h0m82.1 35h0m-70.2-77h0m90.1 16.3h0m-24.4-54.9h0m-43.5-8.9h0m62.1 29.1h0m-16.1 72.7h0m15.4-33h0m-13.8 15.8h0m-89.3-49.3h0m72.9 9.8h0m-5-14.5h0m-19.3 59.3h0m-11.6 22.6h0m54.3-13.8h0m-73.4-109h0m34.8 122.2h0m13.6-36.5h0m36-18.9h0m-80.7-83.1h0m56.1 87.1h0m25.1-27.3h0m-66.2-34.1h0m-20.4 70h0m54-76.6h0m-54.9 139.9h0m87.6-57.2h0m5.7-24.5h0m-64.4-35.9h0m44.3 0h0m-110.5 63.5h0m59.9 40.1h0m-56.3-140h0m124.2 104.6h0m-37.2-79.9h0m2.1-8.4h0m-66.8-8.8h0m-8 0h0m19 24h0m81.9 72.6h0m-69.1 35.3h0m-61.3-18.7h0m98.7-36.8h0m-43.1 65.7h0m74.9-39.3h0m-65.1-81.7h0m25.7 60.4h0m-38.2 29h0m100.8-22.1h0m-97.2-5.7h0m21.8-81.3h0m70.4 71h0m-34.5-47.4h0m28 40.4h0m-64 53.5h0m21.4-55.4h0m-64.7 36.3h0m80-10.1h0m15.8-42.3h0m-105.8-19.9h0m92 90.5h0m-32.6-84.2h0m-46 94.2h0m60.5 1.5h0m40.1-64.6h0m-13.9 27.8h0m13.1-21h0m-59.7-11h0m13.1-38.2h0m-12.9 101.9h0m-8.5-17.3h0m34.6-88.7h0m33.1 84.1h0m-112.8-2.2h0m27.5-75.8h0m54.8 13.9h0m34.7 35.4h0m-46.7-8.3h0m21.6-26.1h0m7.4 25.7h0m-17.9 32h0m-24.2-12.6h0m60.1 4.7h0m-95.5 18.4h0m-1.3-24.2h0m-2.6-97.2h0m73.2 33.2h0m-18.9 109.2h0m37.5-25h0m-100.9 44.2h0m14.2-41.5h0m26.1-89h0m12.9 28.2h0m-6.5 70.5h0m-46.9-123.6h0m125.5 54.8h0m-47-17.5h0m-39.9-15.7h0m21.7 75.6h0m16.6-57.6h0m-83.7 111.7h0m23.5-1.1h0m59.6-77.1h0m31.9 31.7h0m-34.2 14.8h0m-21.1 4.8h0m-4.4-46.2h0m-24.1 69.7h0m94.4-61.7h0m-118.9-13.4h0m-1.4-0.7h0m120.1-6.9h0m-57.1-36.8h0m-12.6 21.6h0m27.1 64.7h0m-20.3-25.6h0m-52.8-86.6h0m100.7 88.6h0m-121.8-26.8h0m32.2-55.4h0m52.4 0.7h0m-23.1 48.7h0m64.5 48.5h0m-89.6 2.5h0m79.8-18.6h0m-61.6-51.8h0m28.5-27.8h0m10 85h0m28.5-0.6h0m-119.8-43.9h0m117.7 7.6h0m-44.8-19.8h0m-51.5 30.5h0m18.6-38.8h0m78 43.8h0m-21.5-12.8h0m28.3-11.5h0m-15.8 12.3h0m4.2 71.6h0m23.1-52h0m-64-49h0m-36.8 59h0m64.3 19.1h0m32.5-39.1h0m-20.8 58.4h0m-36.5-77.5h0m-43.6 102.5h0m80.8-28.1h0m-60.4-21.7h0m24.5-17.3h0m14-44.8h0m-4.9 62.2h0m11.2-25.6h0m-75.7-82.1h0m32.4 119h0m-61.1-88.2h0m21 111.6h0m114.9-39.4h0m-1.8-43.6h0m-53.1 51.9h0m-5.6 24.5h0m50.5-75.1h0m-65.9 95.8h0m20.1-91h0m-57-38.1h0m118.6 59.6h0m-111.9 37.7h0m53.4-102.8h0m22.7 4.7h0m-83.5 125.7h0m92.9-43.5h0m-37.8-52.2h0m-31.3-19.6h0m-10.8 54.1h0m-33.6-68.6h0m43 4.2h0m19.9 63.5h0m12.2-41.4h0m-15.2 25.6h0m-3.5-23.8h0m27.2 74.8h0m15.4-26.4h0m4.5 8.5h0m-35.3 40.3h0m-47.9-122.9h0m89.2 65.8h0m-27.9-12.5h0m-40.9-76.8h0m47.4 143.2h0m-22.2-113.9h0m-19.7 87.9h0m-34.3-94.4h0m-9.7 0.5h0m5.3 124.7h0m32.1-78h0m64.8 63.8h0m-16.2-66.4h0m1.4-60.4h0m-9.8 116.8h0m-49.9-28.3h0m48.9 40.9h0m31.9-11.4h0m-11-6h0m-39.2 1.4h0m32.3-108h0m-41.6 120.1h0m1.1 19.6h0m12.1-115.7h0m-46.3 88.3h0m81.3-61.7h0m-80.8-46.7h0m80.6 114.2h0m40.3-37.5h0m-30 51.5h0m22.7-95.8h0m-29.1 38.5h0m-2.5-30.6h0m-27.5 61.2h0m48.7-70h0m-68.1 71.8h0m-12.7-2.8h0m61.1-16.6h0m34.5-2.8h0m-39.5-68.9h0m-21.6 77.1h0m24.5-2.9h0m-1 23.3h0m-22.1-0.3h0m64.1-37.3h0m-112-7.4h0m-12.2-18.5h0m86.7 48.1h0m14.9-20h0m-77.5 51.8h0m3.5-85h0m50.2-41.2h0m-20.5 87.7h0m-41.5 42.9h0m93.5-84.5h0m-85.7 94.5h0m23-87.7h0m-6 60.4h0m-26.8-16.3h0m12.8 2.9h0m-1 21.8h0m24.5-91.9h0m74.7 39.3h0m-23-15.3h0m-22.4 23.5h0m5.4 33.9h0m-62.4-96.4h0m63.8 49.4h0m6.8-44.2h0m-75 98.8h0m82.3-62.5h0m-53.8 24.5h0m36.9 22.4h0m-40.6-99.3h0m50.3 16.9h0m-17-21h0m49.1 34.4h0m-88.3-29.5h0m65.4 93.5h0m-47.4-43.4h0m19.6-25.5h0m52.5 15h0m-43.6-20.1h0m-41.8 50h0m14.1-64.2h0m2 69h0m-5.5 35.2h0m6.9-117.4h0m39.6 70.6h0m-39.5-47.8h0m-77 3.2h0m15.5 67.7h0m67-28h0m15.5-16.1h0m-29.1-27h0m66.7 68.9h0m-20.1-30.4h0m-70.4 34.5h0m1.2 30.2h0m8.4-67h0m-8.2-10.5h0m40.2-47.1h0m22.4 46.3h0m0.4-3.9h0m5.8 80.6h0m-47.5-55.4h0m16.1-46.8h0m54.8 38.9h0m-55.8-13.9h0m2.5 81.8h0m14.3-98.4h0m13.6 34.9h0m-76.7 62.5h0m1.7-105.7h0m91 73.2h0m-117.8 43.1h0m63.9-107.4h0m5.3 61.3h0m-22.1-100.7h0m2.4 39h0m55.3 8.8h0m-33.9 44.1h0m6.9-83.1h0m25.1 84.8h0m13.7-44h0m-92.2 0.6h0m-0.4 11.7h0m76.7 13h0m-102-48.1h0m121.5 48.5h0m-22.4-9.9h0m-98.4-11.6h0m5.8 28.9h0m47.8 61.8h0m-16.7-72.5h0m-4.9 70.8h0m26.8-57.8h0m-53.6-21.7h0m47.3 31.8h0m-24.9 50.8h0m1.8-39.4h0m-41.6-107.8h0m131.9 97h0m8.4-21.8h0m0.8 26h0m-5.8-44.4h0m-73.4-37.1h0m14 43.8h0m42.8 8.1h0m-10.5 17.9h0m-15 42.3h0m41-37h0m-73.4-0.3h0m13.7-85.8h0m-7.3 47.5h0m33.7 7.3h0m8.6 57.3h0m-74.5-9h0m71.5-28.4h0m-22.6 0.9h0m41.1 2h0m-79.5-66.6h0m97.2 30.6h0m-67.6 21.1h0m35.3-41.9h0m-85.9 69.4h0m0.4 51h0m-9.3-30.3h0m127.5-39.3h0m-59.5-62.1h0m29.4 48.4h0m-44.8 69h0m-34.9-69.3h0m14.4 85.4h0m42.9-96.8h0m-19.9 46.9h0m-68.8-52.9h0m94.9 18.2h0m-44.1-34.3h0m20.4 1.3h0m-18.6 118.5h0m46.3-23.7h0m-61.9 28.5h0m57.5-124.1h0m-64 3.2h0m1.3-38.1h0m38.5 15.6h0m24.8 63.7h0m-33.3-38.1h0m13.1 23.7h0m-24.5-12.9h0m86.2 34h0m-54.5 0.6h0m44-5.6h0m-128.2-12.5h0m128.6-16.1h0m-61.1-43.2h0m66.9 91.7h0m-10.8-58.4h0m-93 4.9h0m-2.5 38h0m19.5 73.9h0m62.6-128.8h0m-86.9 112.1h0m70-40.1h0m-46.8-62.5h0m97.4 23.3h0m-22.8 46.8h0m-64.2-104.5h0m23.4 84.1h0m-20.2 48h0m-33.3-110.9h0m103.2 43.2h0m14.4 17.2h0m-76.6 29.2h0m0.4-20.9h0m51.9 44.3h0m-113.7-45.7h0m82.6 22h0m-25.4-102.8h0m32.7 116.2h0m-21.3-22.5h0m3.5-79.4h0m-42.1 126h0m55.8-79.4h0m3.3-32h0m1.8 67.6h0m-16.7-107h0m39.2 78.3h0m-113.7-6.7h0m82.5-2.3h0m-66.8 47.8h0m70.3-36h0m-4.7 28.4h0m5.5-105.9h0m21.9 42.4h0m-7.5-16.1h0m26.3 58.8h0m-20.1-28.6h0m-63.7 83.9h0m2.8-118.7h0m43.3-1.9h0m0.1 105.5h0m-78-117.8h0m120.3 57h0m-82.4 85.1h0m77.2-49.5h0m-112-0.1h0m107-47.6h0m-94.1-12.7h0m-19.7 43.5h0m96.1-16.9h0m-65.1-4.1h0m93.6-13.3h0m-94.9-7.1h0m44.1 17.6h0m45.1 37.8h0m-51.2-18.7h0m-56.5-47h0m90.6 67.8h0m6.1-27.6h0m-54.9 25.7h0m-27.4-41.1h0m32.5 24.3h0m-64.9-30.7h0m46.6 87.1h0m65-41.9h0m-87-111.4h0m67.7 86.4h0m51.5-10.6h0m-19.9 8.8h0m0.6 31.3h0m-11.7 36.9h0m-58.6-91.6h0m-3.7-30.8h0m56.1 114.9h0m-0.6-22.1h0m8.1-75.5h0m-107.3 33.8h0m125.1 2.9h0m-92.6 45.9h0m12.9-107.2h0m72 52.5h0m-26.6-13.5h0m-6 65.7h0m1.7-9.5h0m-75.8 6.5h0m76-23.3h0m-22.7 5.8h0m5.3 7.1h0m-46.8-44.9h0m84.1 10.2h0m10.4-13.1h0m-21 62.9h0m-55.1-83.1h0m-31.2 59.4h0m-9-76.4h0m42.6 33.7h0m62.9 22.5h0m-40.7-61.6h0m29.1 110.5h0m-26.7 0.9h0m9.5-96.6h0m-2.6 48.5h0m-39.4-58.6h0m74.7 55.1h0m9.4-15h0m-59.4 33.4h0m-73.1-40.3h0m73.7 42.8h0m1.7-10.9h0m15.7-79.5h0m-28-1.2h0m73.3 79.7h0m-22.9-25.1h0m-6.3-22.1h0m-3.4-3h0m-112.1 35.1h0m84-49h0m-43.9 102.7h0m43.3-78.3h0m-49.4-40.9h0m72.5 27.7h0m12.8 0.5h0m-43.5 5.5h0m6.6 81.8h0m47.5 15.5h0m-33-6.4h0m-67.7 11.1h0m26-14.1h0m-0.7 4.2h0m88.9-76.9h0m-41.7 52.1h0m-57.2 11.2h0m26.3-95.7h0m59 120.1h0m-118.1-41.3h0m130.9-22.5h0m-36.1-53.6h0m-66 25h0m93.3 29.1h0m-111.6 64.9h0m50.2-86.6h0m-3.3-44.8h0m62.3 42.9h0m-9.9 61.8h0m-25.4-85.5h0m-40.6-2.6h0m11.1-19h0m-0.8-1.5h0m72.3 100.4h0m-71.4-26h0m79.7 10.3h0m3.1-37.7h0m-132.2 82.3h0m89.7-2.5h0m26.5-25.2h0m-57.3 14.5h0m56.9-53.8h0m-67.3-15.9h0m38.9 26.5h0m-111.1 5.4h0m55.9 37.7h0m40.2-84.5h0m-4.8 7.3h0m-24.3 74.1h0m7.4-105.5h0m43.4 101.5h0m7-62.5h0m-12.6-5.4h0m-77.8 104.7h0m34.8-75.4h0m63 53h0m-22.1 11.5h0m-23.7-75.1h0m-15.1 89.6h0m94.1-97.6h0m-63.7 18.4h0m5.5 47.6h0m59.8-61.6h0m-59.6 28h0m45.5-21.9h0m-58.2-0.3h0m-60.9 44.9h0m-19.1 4.2h0m81.9-60h0m-1.9-25.2h0m-34.4-32.8h0m-9.7 61.3h0m29.5-37h0m29.2 65.3h0m16.3-52.3h0m0.8 16.3h0m-53.2 34.1h0m-31.6 71.8h0m26-45.3h0m-49.1 32.5h0m49.7-58h0m53.5-51.6h0m-49.1 34.1h0m20.2 60.3h0m51.7-56h0m-14.9-22.6h0m-46.7 50.8h0m-6.4 29h0m33.3-56.7h0m-78.5-50.2h0m117.9 28h0m-25-7.7h0m27.1 22.6h0m-22.1 3.2h0m26 28.2h0m-36.5-45.4h0m-41 30.9h0m77-20.3h0m-58.7-48.9h0m62.7 36h0m-55.9-45.7h0m-63.1 80.6h0m61.6-6.5h0m-49.4-67.2h0m18.1 108.5h0m3.5-39h0m-38.2-8h0m-3.4-35.6h0m58.4 103.6h0m-52.2 11h0m115.7-58.4h0m4.3-33.2h0m-15.5 13.9h0m-25.7 15.9h0m19.5-2.3h0m1.8 10h0m-35.7-52h0m-25.5 4.7h0m-16.3 50.6h0m78.6-10.9h0m-15.6 0.3h0m13.1 45.5h0m9.3-80.8h0m-16.2-15.8h0m-69.3 15h0m6.1 25.6h0m73.1-1.6h0m15.5 18.9h0m-57.7-70.3h0m36.6 25.9h0m-10.3 51.2h0m-86.6 39.1h0m-26.4-16.6h0m117-92.1h0m-85.1-2.3h0m45-16.1h0m18.8 95h0m-78.4-102.2h0m7.5 124.2h0m91-49.3h0m23-26.9h0m-37.2 58.4h0m-95.2-107.4h0m94.7 104.4h0m-48.5 44.8h0m-29.8-136.6h0m49.7 60.7h0m33.9 32.4h0m-14.7-27.4h0m-3.5-2.5h0m54.1 13.6h0m-46.8-76.2h0m-64.2 21.4h0m50.4 61.3h0m11.8-18.8h0m24.2 17.4h0m18.8-19.3h0m-33.7 33.9h0m-29.8-31.7h0m40.3 52.4h0m-13.3-22.5h0m-26.3-21.9h0m65.3-14.8h0m-65.2-19.6h0m3.1-32.7h0m-55.3 101.8h0m2.1-34.2h0m103.2 15.7h0m-9.6 3.6h0m-77.6-30.1h0m42.2 28.7h0m-59.3 11.6h0m62.9-87.6h0m-0.5 38.2h0m16.6-28.6h0m-46.1 52.6h0m29.7-52.7h0m-10.6-1.5h0m68 41h0m-68.4-25.3h0m10 62.3h0m-0.7-28.3h0m-31.6 48.3h0m82.1-89.5h0m-30.8 43.6h0m-12.7 4h0m-33.1 40.3h0m44.1-106h0m-49.7 67.9h0m100.9-48.9h0m-87.8-39.2h0m-25.9 112.7h0m41.7-44.3h0m24-39.5h0m-85.8 89.5h0m118.5-59h0m-114.4-0.7h0m47.2 47.7h0m-13.5-36.6h0m15.1 41.3h0m48-50.9h0m0.6 9.8h0m-81.2 0.6h0m68.7-28.2h0m13.4 71.7h0m-1.6-0.6h0m-48.7-105.1h0m12.6-4.7h0m3.1 46.4h0m55.5 31.8h0m-18.1-15.5h0m-45.6 19h0m-10.5-59.9h0m45.3-6.5h0m-41.2 76.1h0m2.4-61.8h0m-18.2 57.3h0m71.9-19.2h0m-33-14.8h0m-40.8-14.1h0m53-4.6h0m-6.9 74h0m15.9-96h0m-21.4 63.5h0m-21.4 26.8h0m17-29.2h0m19.3 24.6h0m-33.2-23.8h0m23.2-40.1h0m-80.2 25.6h0m82.9 29.3h0m-16-3.3h0m57.6-9.8h0m-81.4 33h0m18.1-18.7h0m22.6-64.3h0m-44 36.9h0m-2.6 25.6h0m48.9-78.5h0m-23.5 58.9h0m-34.4-25h0m45.8 10h0m-23.9-66.8h0m59 42.3h0m-8.7 51.5h0m-8.1-54.2h0m-19.6 53.6h0m18.3-49.5h0m-72.6 31.9h0m82.1 5.4h0m-70.1-9.9h0m52.9 67.8h0m-58.6-87h0m-36.9-48.1h0m17 52.6h0m125.6 0.1h0m-18-12.3h0m-87.9 80.6h0m-37.1-63.6h0m95.8 24.2h0m-13.3 50.6h0m-14.5-2.6h0m14.2-39.9h0m-2.7 4.7h0m-21.5-40.7h0m-33.3 84.5h0m91.7-109.8h0m-92.6-11.4h0m17.4 113.7h0m92.4-61.4h0m-4.5 7.7h0m-56-44.1h0m-11.7 24.4h0m30.8-22.4h0m-69.3-44.5h0m-35.7 21h0m23.9 33.3h0m109.6 17.7h0m-29.9-1.7h0m-47.4 54.8h0m74.4 5.5h0m-103-52.1h0m-21.4-45.2h0m54.1 41.2h0m-52 6.9h0m120.9 25.2h0m-132.5-65.3h0m145 24.7h0m16.6-1.3h0m-124.8-65.9h0m-13.2 65.2h0m106.7 28.1h0m-14.5-11.4h0m-16.3-30.9h0m25.2-18.9h0m4.2 60.3h0m-16.2-0.7h0m-89.4-80.8h0m112.4 68.5h0m-3.4 0.8h0m12.8-24.8h0m3.9 10.5h0m-94.9 5.2h0m29.2-53.7h0m48.2 86.9h0m-27.9 38.5h0m44.7-73.1h0m-97.9 10.4h0m57.6-26.2h0m41.8 39.6h0m-53.3-3.2h0m2.9 46.5h0m34-33.4h0m-65.3-75.9h0m-9.8 66.3h0m24.2 2.1h0m27.3-66h0m-35.8 58h0m4.2-58.9h0m-30.9 100.9h0m27.1 18.4h0m56.8-57h0m-71.4-50.2h0m99.7 29.1h0m-101.1-41.7h0m49.1 32.9h0m-47.3 22h0m32.6 53.5h0m-35.1-124.9h0m13.8 33.4h0m-28.2 64.3h0m-9.6 44.5h0m80.6-47.6h0m24.8-56.3h0m-106.3-52.9h0m79.2 41.6h0m-35.3 93.7h0m57.7-42.1h0m-4.9-2.6h0m-33.7-7.2h0m-81.9-45.4h0m125.2 16.4h0m-16.2 88.4h0m23.4-69h0m-65.7-37.1h0m3 75.6h0m73.1-56.9h0m-16.3 48h0m-85.6-99.3h0m35.2 39.8h0m39.1 14.3h0m-81.5 52h0m84.3-26.4h0m19.3-3.6h0m-91.9-1h0m96.6-23.7h0m-115.5-52.9h0m-34.2 35.1h0m99.2 25.4h0m5.4 0h0m-33.5 65.9h0m-59.6-82.1h0m85.3 10.4h0m0.9-40.4h0m-75.4 29h0m46.2 11.2h0m44.5 65.4h0m-17.9-72.8h0m4.6 56h0m3.2-49.3h0m38.5 38h0m-69.4-29.2h0m54.3-1.2h0m-75.3-27.7h0m76.8 77.3h0m-40.3-39.6h0m-46.3 38.1h0m108.3-52.2h0m-34.5 50.7h0m-67.5-56.9h0m28.9 47.4h0m-36.5-72.7h0m87.4 78h0m-86.9-95.6h0m56.9 42.8h0m-36.4 36.8h0m-42 43.8h0m26.2-126.2h0m31.8 63.8h0m63.1 3.5h0m-117.3-81.6h0m96.8 48.7h0m-57 48.4h0m17.2 7.7h0m17-10h0m-80.9-84.4h0m134.5 60.4h0m-107.1 11.8h0m22.2 19.5h0m31.2-70.8h0m24.2 91.4h0m27.7-27h0m-25.5-18.5h0m-15.3-36.2h0m-78.2-33.4h0m19.9 44.7h0m-30.6 74.3h0m74.4-58.4h0m6.4 72h0m51.2-32.5h0m-18.2-47h0m3.6-4.3h0m-16.1 70.4h0m-87-42.5h0m-10.9-14.7h0m114.2 26.1h0m-41.4-79.6h0m10.2 38.1h0m-61.4-44h0m93.4 61.7h0m-62.7 14.6h0m26.6-1.5h0m-57.7-53.4h0m95 28.8h0m-78.3 33.4h0m37.7 32.1h0m-36.1-87.9h0m20.4 54.3h0m34.7 3.6h0m13.8 6h0m-100.1-94.5h0m34.4 133.7h0m31.4-7.3h0m10.4-87.6h0m-88.2 24.6h0m43.5 16.2h0m-58.1-55.8h0m92.7 61.4h0m-3.7-73.1h0m-68.7 7.6h0m51 85.7h0m18.9 6.4h0m28 25.4h0m-107.9-23.5h0m69.7-90.7h0m54.5 82.6h0m-87.5-0.6h0m-6.1-90.5h0m15.3 4h0m90.3 35.3h0m-95.4 93.6h0m55.9-17.4h0m-15.8-44.6h0m5.6 49.3h0m35.2-73.2h0m-79.3 21.5h0m3.5 10.8h0m-35.3-26.5h0m41.5 11.9h0m-7.6-24.9h0m30.3 41.7h0m-31.6-83h0m57.7 63.9h0m5.4 13.9h0m26.6 2.4h0m-86.3-51.6h0m73.3 5h0m7.1 32.1h0m-20.1-31h0m16.3 37.5h0m-97.8 1h0m76.7-49.1h0m-93.5 116.6h0m19.9-89.3h0m10.3 72.4h0m60.2-36.1h0m-7.8-37.2h0m-55 16.3h0m47.2-21.6h0m-66.9 58.5h0m100.7-31.1h0m-23.1 43h0m19.9-55.2h0m-0.4-22.5h0m-26.7 13.6h0m4.6-22.8h0m-30.2 33.9h0m43.8-4.2h0m-39.2-3.9h0m62.3-9.5h0m-54.3-54.1h0m-4 106.5h0m-12.3 22.9h0m-13.8-51.9h0m58.4 34.7h0m-54.5-36.4h0m-24-47.7h0m-3.9 0.4h0m5 6.7h0m-3.5 2.1h0m4.4-6.5h0m3.6 5.2h0m-13.2-16.6h0m7.8 9.5h0m-2.1-0.6h0m3 5.5h0m4.2-2.8h0m3.1 6.9h0m-9-7.8h0m-3.3 1h0m12.1-6.1h0m-4.6 12.7h0m-2.5-11.7h0m3.7 13.5h0m-10-7.4h0m8.4 8.6h0m-1.4-4.7h0m-1.6-10.5h0m-5.3 4.7h0m6.9-1.7h0m9-0.4h0m-18 3.9h0m13.7 0.4h0m-5.3-3.6h0m1.5-0.5h0m-4.9 6.6h0m12.3-4h0m-9.9-0.5h0m-3 10.8h0m0-8.8h0m7.1-2.6h0m0.8 3.7h0m-13.8 2h0m2 0h0m3.7-3.2h0m-9-6.6h0m20.8 60.4h0m7.9-7.7h0m-8.8 2.4h0m0.1 1.5h0m-5.1 7.6h0m2.1 2.9h0m1.5-6.6h0m-3.1 3.8h0m7.1-3.7h0m-5.3 6.4h0m-3.5-14.4h0m0.6 6.1h0m4.6 3.2h0m-11.6 3.1h0m19.9-8.1h0m-3.3-1.6h0m-3.2 3.6h0m-5.1-3.1h0m-0.1-2.3h0m2-0.7h0m9.8 3.4h0m-5.3 6.5h0m1.9-1.3h0m1.1-0.8h0m-10.1 0.9h0m-2.8-4.4h0m6.4 8h0m-4.5-11h0m7.6 2.3h0m-2.3 2.8h0m0.9-8.6h0m-2.2 9h0m-2.7 7.5h0m6.8-7.7h0m-6.5 3.8h0m55.4-30.2h0m-3.5 1.4h0m1.2 6.6h0m-7.2-10.8h0m15.3-3.7h0m-0.1 0.6h0m-3.8 3.1h0m0.3 5h0m-0.6-7.6h0m1.5 4h0m1.5-2.1h0m1.6-4.7h0m-6.6-0.8h0m0.7 1h0m5 3.9h0m-3.5 3.6h0m2.4-4.2h0m-1.5 9.8h0m1.4-8.9h0m-5.8-0.5h0m1.2-3.1h0m0.1 5h0m0.6 1.5h0m5.8 2.3h0m-4.9-3.2h0m2.7-0.6h0m-131.2 34.9h0m5.3 3.6h0m0.2-5.6h0m-3.3-1.4h0m1.9-2.9h0m-0.6 2h0m-3.7 1.6h0m7.2-5.2h0m-5.4 5.6h0m1 1.8h0m3.7-8.7h0m-2.9 14.2h0m0.6-8.9h0m-1.3 5.9h0m-2.2-5.2h0m3.2 0.5h0m5.5-6.9h0m-7.1 6.5h0m0.5 2.6h0m166.4-5.5h0m10.5-0.6h0m-7.5-7.7h0m-2.1 13.2h0m2.3 1.4h0m5.2-10.8h0m-8.3-7.8h0m-3.1 10.2h0m6.8-6.8h0m-0.4 3.3h0m-2.7 7.1h0m4.1-7.6h0m1.8 5.1h0m-3.8-1.2h0m-2.6 1.2h0m1-3h0m-6-1.3h0m14.3 0.4h0m-124.4-42.6h0m11.8 7.9h0m-7.4 0.1h0m0.9 3.4h0m-3.7-2.7h0m5.3 2.3h0m-3.1-0.2h0m5.7-6.6h0m-4.9 1.8h0m5.4-9.5h0m-3.2 14.9h0m2 3.4h0m-6.6-12.9h0m6.2 5.6h0m-6.9 0.3h0m6.3-3.7h0m92.8 42.3h0m-6.1-6.1h0m3.4 3.6h0m-4.5 2.7h0m-0.5-0.6h0m9-5h0m-10.3 3.4h0m4.9-2.2h0m1.2-1.1h0m-1.6 6.2h0m12-2.6h0m-15.1 3.2h0m4.1 5.1h0m-5.6-8.3h0m5.5 6.6h0m-11-6h0m5.6-2.1h0m-0.9 5.2h0m8.2-3.4h0m-5-1.8h0m7.6 5.5h0m-18.3-5.9h0m13.3 2.8h0m-4.8 2.6h0m3-6.6h0m4.9 2.3h0m-2.4-1.4h0m0.8-4.6h0m-5.4 5.5h0m0.8-4.1h0m-76.8 79.8h0m4.9 1.3h0m2.1-2.2h0m-0.2 3.6h0m6.6-0.4h0m-2.7-6.3h0m-0.7 6.2h0m-0.1-1.8h0m2.9 2.1h0m-10.2-1.7h0m5.8-3.9h0m-0.5 1.2h0m2.8 2.6h0m-9.4 0.8h0m6 0.7h0m4.4-1.6h0m55.9-111h0m-1.5 3.9h0m8.6-9.8h0m1.5-5.9h0m-5.6 17.9h0m-5.6-5.5h0m3.2 2.8h0m2.1-11.6h0m-3 9h0m-3-8.1h0m0.6 10.7h0m10-7.4h0m-10.6-1.9h0m8.2-1.7h0m-8 9.1h0m-2.5-8.2h0m3-0.7h0m-19.6-15.6h0m0.1 6.8h0m-2.8-7.5h0m11.1 1.6h0m-2.1-0.3h0m-0.4-6.6h0m-13.5 7.6h0m1-4.2h0m0.9 2.7h0m6.5-0.2h0m0.3 2.7h0m4.9 5.1h0m-5.4-2h0m10.5-3.1h0m-10.4 4.3h0m7.5-11.6h0m-9.8 9.8h0m-2.8 3.4h0m6.6-11.6h0m1.2 7.9h0m-1.4-7.4h0m1.9 2.2h0m0.7 2.1h0m-2.3 0h0m-47.2-3.8h0m4.3 7h0m5.6-4.3h0m-3.3 6h0m1.3-5.6h0m-10-1.1h0m5.3 0h0m10.5 3.6h0m-0.2 5.6h0m-6.8-7.9h0m-6.2 2.8h0m5.2-4.2h0m6.3 1.3h0m-5.3 4h0m3.6 0.9h0m-9.6-7h0m7.4 0.8h0m1.1 9.2h0m-4.8-12.6h0m-0.8 8.3h0m8.9-5.8h0m-6.6 6.6h0m-0.4 4.7h0m-0.3-10.8h0m1.6 5.5h0m-5.7-7.2h0m3.6 7h0m9.1 0h0m-8.6-1.7h0m5.6 2.7h0m-2.7-2h0m-1.6 0.9h0m3.6-2.2h0m0.2-11.7h0m-0.1 5.4h0m-5.8 7.5h0m2.5 1h0m3.3-1.8h0m-5.5 5.8h0m11.5-7.1h0m-16.6-1.3h0m2.5 0.4h0m43.1 18h0m-2-3.1h0m6.4-2.1h0m-5.7 2.6h0m2.6-0.5h0m-9.7 7.4h0m9.2-11.4h0m-7.5 3.8h0m2.9-0.9h0m-0.8 7.5h0m0.6-11.3h0m-1.3 5.7h0m-0.7 1.6h0m-2.7-5.8h0m3.6 2.8h0m5.7-2.1h0m-2.2 8.6h0m-6.7-9.3h0m10.9 8.7h0m-8.5-6.8h0m-6.4-4.6h0m2.3 6.4h0m-4.4-5.6h0m56.4 7.9h0m-3.5-6.1h0m-2.8 0.8h0m0.6 10.6h0m3.3-8.4h0m-9-3.1h0m9 4.7h0m-12.1-5.3h0m9.2 9.7h0m3.2-2h0m6-0.9h0m-7.6-3.3h0m3.5 3.1h0m1.1 3h0m-9.1-9.5h0m0 5.1h0m3.8 4.5h0m-0.4-4h0m-4.6-5.1h0m2-0.1h0m-102 55.4h0m5.5 2.5h0m-14.9 0.9h0m11.5-4.3h0m-2.2-6.4h0m-7.3 7.1h0m9.2-7.7h0m-1.7 7.7h0m-7.7-7.2h0m8.3 7.9h0m1.6-0.4h0m-3.3-5.7h0m4 4.8h0m-5.5 0.4h0m3.5-4.1h0m-0.6 2.4h0m2.5-1h0m-7.5-7.5h0m15.8 5.6h0m-17.3 13h0m13.1-8.6h0m-5.9-10.4h0m-0.3 9.9h0m4.7 0.8h0m-8.3-1.6h0m-3 2.2h0m11.3 1.8h0m4 4.2h0m2.8-2.7h0m-8.8-5.5h0m-14.2-8.7h0m13.6 0.1h0m1.7 11.1h0m-2.3-2.1h0m1.7-1.5h0m1.1 6.5h0m-1.4-11.5h0m-3.7-0.3h0m-5.4 2h0m3.2 4.2h0m1.1 12.1h0m-1.6-3.6h0m0.8-4h0m-0.5 1.5h0m-5.8 2.2h0m9.8 4.5h0m1.2-9.8h0m-12.1 17.3h0m5.5-9.3h0m4.4-1h0m-1 0.7h0m-8-3.3h0m7.1 1.5h0m-3.4 6.4h0m9.2-12.5h0m-2.6 8h0m3.4 2.8h0m-10 1.4h0m6.2-13h0m-5.9 8.8h0m-38 1.7h0m5.7-1.6h0m2.9 3.2h0m-0.3 0.2h0m-1.5 0.4h0m4 0.9h0m1.3 2.3h0m-3-10.7h0m-4.5 2.2h0m1.8 7.6h0m3.4-9.2h0m1.3 8.8h0m-2.4-4h0m-6.2 4.7h0m3.3-4.2h0m3.2-1.4h0m-7.1 0.6h0m4.9-7.7h0m-0.8 9.6h0m5.9-1.7h0m1 4.2h0m-9.4-2.3h0m11-6.7h0m0.7 4.4h0m-9.3 2.2h0m1.3-1.9h0m-1.8 4h0m-0.7-3.9h0m-3.4 0.4h0m-5.4-7.3h0m12.7 9.9h0m6.7 2h0m-12.7-8.1h0m8-1.5h0m-5.6 2.9h0m123.1-83.6h0m-7.5 3.4h0m-5.1 4.9h0m1.3-3.4h0m-2.5-3.6h0m1.3 1.5h0m6.7 4.2h0m-1.2 3.3h0m-3.4-8.9h0m4 5h0m0.3 0.9h0m5.8 1.3h0m-11.3 1.9h0m11-11.3h0m-2.3 4.5h0m-8.2 1.3h0m5.7 1.6h0m-4.8 1.6h0m7.5-0.7h0m-3.4-7.4h0m-3.9-1.5h0m7.2 5.1h0m-4 2.5h0m-95.8 81.5h0m5.1 3.6h0m2.6 6h0m-0.8-0.3h0m4-4.6h0m-8.9-3h0m6 1.4h0m-2.3 6.1h0m9.7-4.3h0m-16.4 1.6h0m12.6 4.5h0m-12.2-9.7h0m9.1 1.9h0m-1.4 0.2h0m-6.2 10.1h0m1.8-8.1h0m4.6 0.2h0m3-5.5h0m-2.5 10.4h0m-7-2.6h0m3.4-0.3h0m9.3-1.3h0m-8.1-7.3h0m-8.7 9.8h0m6 3.3h0m-2.8-7h0m0.4 2.3h0m11 2.6h0m-7.8-6.1h0m0.1 3.7h0m3 5.7h0m-2.1-11.7h0m-0.9 13.9h0m104.1-36.4h0m0.6-8.5h0m8.1-2h0m-1.2 4.4h0m-4.1-4.9h0m9.4-5.8h0m-1.4 12.2h0m-0.5-6.4h0m-11.7 0.5h0m5.9 4.8h0m11.2 5h0m-16.1-5.1h0m7.8-1.8h0m1.2-5h0m1.1 4.2h0m-5.5 2.4h0m-5.5 4.2h0m5.3 0.1h0m7-0.5h0m-1-5.4h0m-6.1-2.5h0m4.8-0.4h0m1.4 5.9h0m-7.2-7.2h0m-0.2 4.5h0m2.8 4.2h0m1.5-1.5h0m7.5-1.4h0m-6.6-5h0m-2.7 6.6h0m-68.8-17.3h0m1.1 7.9h0m-4.2 7.3h0m-0.5-8.4h0m-3.4 0h0m-1.2-0.2h0m6.8-8.6h0m-0.6 10.5h0m-1 1.6h0m-2.8-4.7h0m10.5-4.3h0m-12.5 6.5h0m8.3 3.5h0m-4.4-5h0m2.4-4.6h0m-0.2 4.6h0m-3.6-4.6h0m7-4.2h0m-3.3 10.2h0m0.2-6.1h0m-0.6-4.4h0m-3.6 9.3h0m15.1-1.7h0m-13.1 0.9h0m-0.7 2.9h0m12.9-5.3h0m-79.3 33.3h0m1.5 5.3h0m-7.5-2.3h0m0.7 0.6h0m7.7-5.3h0m3.8 2.6h0m-7-2.8h0m-0.2 0.3h0m4.6 0.7h0m-4.3 1.4h0m-4.3-6.4h0m5.6 8.7h0m-4.7-2.8h0m1.1 1h0m1.1 7.4h0m2.5 7.5h0m6-23h0m-8 5.8h0m-4.4 1.6h0m5.3-2.9h0m-4.4 5.5h0m-1.6-1.7h0m-0.2 1.6h0m2.2 0.9h0m2.9-0.2h0m-3.7-0.8h0m7.7-3.1h0m-10.3 3.5h0m4.4 2.4h0m-4.3-5h0m5 1.5h0m24.5 9.3h0m0.4 1h0m-7.6-3.5h0m6.5-2.6h0m0.8-0.9h0m-7.3-1.6h0m6.4 4.6h0m0.8 1.1h0m-8.6-9.8h0m16.5 11.1h0m-7.1-7.4h0m3.9 3h0m-6.6-1.8h0m2 2.2h0m-5-1.1h0m2.9 6.3h0m0.5-9h0m3.2 3.9h0m4.3 2.8h0m-14.5 1.2h0m6.7-12.9h0m6.3 14h0m-6.2-1.7h0m-5-1.5h0m111.3-75.5h0m8.6 2.3h0m1.3-5h0m-9.2 2.6h0m6.4 0.4h0m-0.1 1.3h0m0.8-0.3h0m6.2 8.4h0m-13.6-7h0m6.6-6.6h0m-2.1 10.8h0m6.7-1.3h0m3.8 3.8h0m-8.2-7.3h0m11.3 1h0m-8.9-2.8h0m-6.5 1.5h0m0.9 1.7h0m3.5 4.6h0m-1.3-2.6h0m-7-1.2h0m9.4-2.6h0m-10.5-4.3h0m6.8 2h0m4.8 6.7h0m-7.5-2.2h0m5.6-4.9h0m-1.8 2.9h0m-0.7 7.3h0m5.7-4.3h0m-7.6-0.8h0m9.3 4.2h0m-10.9-5.6h0m8.4-6.1h0m-58.6 10.6h0m-0.6 14.6h0m4.3-13.4h0m-4 5.6h0m-0.2-0.6h0m1 2h0m-2.9 5.8h0m-1.2-13.5h0m-2.6 8.4h0m9.4-3.3h0m-2.3 4h0m-1.3-1.8h0m3.1-2.5h0m-0.4 9h0m-11.6-5.2h0m8.4-1.7h0m-7.4 0.6h0m16.3-1.2h0m-12.4 3.9h0m10.8-1.5h0m-9-2.1h0m0.9-1.1h0m-2.2-6.3h0m-6.7-35.8h0m0-12.1h0m-3.9 4.9h0m7.8 2.2h0m-7.5-5.3h0m-2.4 5.5h0m7.2 0.6h0m-2.4 4.3h0m-7.4-7.3h0m9.5 4.5h0m-2.2-5.5h0m4.8-1.5h0m-3.1-1.3h0m-14.8 8h0m8.7-1.7h0m8.3-2.2h0m-7.4 3.2h0m9.5-7.3h0m0.6 1.8h0m-6.4-4.2h0m2.6 7.6h0m53.6 39.7h0m1.2 1.7h0m-1.2-3.8h0m3.8-0.3h0m-1.8 4.2h0m2.4 2.3h0m2.1-4.6h0m0.1-0.5h0m6.6 6.7h0m-14-11.7h0m8 1.6h0m-9 5.9h0m0.6 9h0m-0.2-10.9h0m5.5 8.9h0m-5.3-7.6h0m0.7-9.1h0m1 16.8h0m0.6-3.4h0m9.5-6.6h0m-9.1 0.8h0m-66.6 40.7h0m4.6-5.7h0m-1.2-2.1h0m-4.8 8h0m0 4.8h0m5.1-11.6h0m5.8 9.1h0m-8.6 0.2h0m-7.3 2.3h0m7.5 0.8h0m-7.2-4.1h0m5.9 7.2h0m1.7-6.4h0m-3.6-6.8h0m-0.6 4.7h0m0 1.4h0m4.5 4.4h0m0.6-3.8h0m-2.9 0.3h0m-35.2-27.2h0m3.7 3.3h0m3.9-9h0m-10.4 2.7h0m11.1-0.4h0m-0.3 6.3h0m-5.3-6.8h0m4.6 9.9h0m1.8-2.5h0m-0.3 3.1h0m1.1-5.8h0m-7.8 3.2h0m1.2-7.6h0m-2.7 1.5h0m-3.9 4.7h0m11.6-1.1h0m-1.7 2.7h0m-7.4-0.9h0m9.1-0.8h0m-0.9-11.5h0m-3.9 17.3h0m-14.3-10.8h0m15.1 8.1h0m-1-9.1h0m5.9 8.2h0m-4.5 0.6h0m-2.4-6.2h0m5.9 0h0m0.7-3.7h0m2.1 3.4h0m-1.8 1.4h0m-10.7-2.6h0m69.7-23.3h0m7.7-2.1h0m2.6 10.1h0m6.9-7.8h0m-11.5 2h0m-2 4.3h0m6 4.7h0m0.1-11.6h0m6.9 9.2h0m-2-3.8h0m-3.4-3.5h0m0.2 5.5h0m-1.4-4h0m2.8 1.1h0m2.9 10.5h0m-17.5-7.6h0m10.1-0.5h0m5.5 3.8h0m-84.7 2.2h0m15.3-4.5h0m-4.9 10.6h0m-1.2-10.7h0m-4.2-1h0m7.6 5.2h0m-6.1 4.1h0m-1.3-3.3h0m-3.4 4.6h0m12.3-1.7h0m-8.9 0h0m1.2-4.6h0m3.9-2.7h0m0.9-1.7h0m4.4 2.7h0m-9.5-2.3h0m-3 1.5h0m3.7-6.6h0m-2.1-0.6h0m0.4 20.2h0m-1.1-4.7h0m6.2-6.6h0m2.5 3.8h0m-1.6-0.8h0m-12-3.8h0m0.8-5h0m13.4 10.4h0m-11.3-2.7h0m10.5-7.4h0m-8.2 8h0m2.6-3.9h0m12.9 10.7h0m37.9 4.5h0m-6.4 5.3h0m4.2 5.4h0m-8.2-6.3h0m9.1 7.2h0m-1.7-14.3h0m-6.6 8h0m9 4.1h0m-0.9-9.4h0m-5.6 3.5h0m9.7 0.5h0m-5.9-0.6h0m1.2-1.6h0m5 19.7h0m-11.3-23.8h0m6.6 8.2h0m2.8-5h0m-9.6 4.5h0m13.8-0.7h0m-4.5 1.1h0m-6.8-3h0m10.6 2h0m-8.1-2h0m-1.3 1.6h0m-1.8-1.3h0m7.1 1.3h0m-3.3 6.1h0m1.8-1.8h0m0.2-13.5h0m-2.5 7.7h0m1.1-5.4h0m-1 13.6h0m3.7-8.6h0m-1 11.4h0m-6.1-9.7h0m2.1-3.6h0m49.2-8.7h0m-16.5-1.7h0m17.1-6.8h0m-0.8 4.6h0m-4.6-2.4h0m-6.2 0.5h0m1 3.4h0m4.7-2.9h0m-8.7-4h0m9 10.3h0m3.4-7.4h0m-8.5 8.3h0m0.2-5.5h0m11.4 2.4h0m-6.8-3.9h0m-1.1-6h0m3.1 5.6h0m-8.3 0h0m6.8-1h0m2-7.3h0m5 10h0m-4.3-3.4h0m-9.6-0.7h0m11.9 6.1h0m-8.8 0.6h0m3.2-7.9h0m5.2 0.1h0m-0.7 6.3h0m-6.6 0.3h0m-3.8-0.3h0m11.7-3.1h0m-4.5 8.2h0m0.9-7.1h0m1-2.5h0m-2-2.8h0m7.8 8.3h0m-7.8-5.5h0m-12.8 88.5h0m-5.6-0.6h0m5.9 0.7h0m1 4.2h0m-5.4-0.7h0m-4.5-7.4h0m-2-2.9h0m1.9 2.7h0m0.2 0.6h0m2.4 6.4h0m4.8-10h0m-1.4 0.4h0m-2.9 6h0m6-4.7h0m-5 1.7h0m9.4-2h0m-9.9 9.9h0m3.1-5.8h0m-6.3-4.6h0m7 6.5h0m-29.7-73.8h0m2.4 7h0m-5.4-4.1h0m1.6-1.6h0m-5 2.2h0m6.6-0.3h0m-8 1.7h0m6.7 3.4h0m4.1 1.7h0m-1 5.2h0m-11.1-9.6h0m7.4 1.8h0m0.1 3.1h0m-0.5-9.2h0m2.6 4h0m4.5-0.1h0m-4.5 8.4h0m3.5-5.3h0m-11-8.4h0m10.2-5.5h0m0.3 11.2h0m-10-7.1h0m1.9 1.7h0m-5.3-1.2h0m7.3 4.4h0m1.6-1.8h0m7.2 10.7h0m-11.3-8.5h0m0.5 4.2h0m1.3-12.1h0m6 13.8h0m-5.3-9.9h0m0.5 4.4h0m8.2-50.9h0m-5.9 3.7h0m4.8-9.1h0m-3.8 3.4h0m1.9-2.5h0m5.3-0.7h0m1.4 4h0m-11.1-4.7h0m3.6 5.4h0m1.5 3.7h0m-3.6-3.8h0m10.9 3.6h0m-11.4-0.6h0m1.5-4.9h0m2.3-1.1h0m2.2 3.5h0m-7.6-1.9h0m-1.8-1.2h0m-49.2 138.2h0m13.4-5.3h0m-3.5-0.6h0m7.7 13.2h0m-10.8-8.6h0m2.1 0.5h0m0.1 4.9h0m-4.6-1h0m8.2 1.9h0m-5.1-1h0m2.9-5.9h0m-2.9 13.5h0m0.8-4.9h0m-3.7-9.1h0m101.8-29.7h0m7.3-5.7h0m-3.7-3.2h0m-8 3.9h0m18.8-3.9h0m-5.7 2h0m-3-4.1h0m5.2 4.4h0m-5.6 2.4h0m3.9-1.3h0m-6.5 6.2h0m7.5-5.8h0m-10.2-0.1h0m14.9 5.8h0m-7.4-0.7h0m1.7-2h0m0.6-1.6h0m-4.1-3h0m-0.1-3.1h0m-2.2 8h0m1.5 3.4h0m1.7 0.5h0m1.2 5.3h0m-4.1-10.2h0m-1 0.8h0m7.1-0.3h0m-11.5 1.1h0m15.5-7.6h0m-10.4 2.3h0m3.9 3.7h0m2.9-2.8h0m5.8 6.3h0m-13.2-9.4h0m-3.9 13h0m4.8-13.7h0m-6.4 5.8h0m2.5-8.3h0m-3.2 10.1h0m11.7 1.4h0m-3.3-2h0m0.1-5.3h0m3.5 8.9h0m-0.9-5.7h0m-8.4-3.6h0m-18.6-50.2h0m1.1-11.1h0m2.2 3.6h0m-5.2-3.7h0m-2.8 9.8h0m1.8-5.7h0m-3.5 0.7h0m6.9-3.2h0m-4.4 9.7h0m1.2-17.5h0m1.7 5.6h0m2.4 9.7h0m3.1-8.3h0m-3.7 11.4h0m-7.5-5.7h0m10.8 4.7h0m4.2-3.9h0m-9.1 0.7h0m-1.4-1.7h0m-4.8 2.6h0m4-9.5h0m-3.6 0.9h0m10.3 10h0m-13.2 1.9h0m5.2-4.6h0m5.3-5.3h0m-7.8 3h0m1.5 6h0m11.1-1.8h0m-16.7-7.5h0m6.5 11.8h0m12.3-14.3h0m-16.8 69.9h0m11.1-10h0m8.1 9.7h0m-10-4.5h0m-1.4 4.8h0m0.1-9.7h0m1 9h0m3-1.5h0m1-1.1h0m-2.3-5.1h0m5.3 4.1h0m-13.9 7.1h0m6.3-0.3h0m2.4-9.5h0m-1.9 2.9h0m8.6 6.9h0m-7.7-2.2h0m-5.6-7.1h0m5.1 7.2h0m5-4.9h0m2.8 0.2h0m-6.4-3.4h0m3 6.5h0m-2.4-0.8h0m-2 2.1h0m-8.1-2h0m12.2-2.9h0m-8.3-3.3h0m8.1 0.6h0m-0.7 5.5h0m-2-4.2h0m6.6 3.9h0m-6.3-8.8h0m5.1 6.8h0m-9.2 0h0m2.7-1.9h0m11.9 0.2h0m-77.8-111.9h0m-4 10.1h0m15.7-7.2h0m-9.4 1.2h0m4.1 3.3h0m5.6 1.4h0m-9.5-4.5h0m4.7 0.8h0m5.6 4.7h0m-5-6.1h0m-5.6 3.6h0m-2.5-3.6h0m2.6 3.5h0m6.5-1.6h0m9.5 4.3h0m-18.2-4.6h0m3.3-0.3h0m6.4 8.9h0m0.1-4.8h0m-4.4 3.2h0m-7.9-6.8h0m4.6 4.2h0m-1.8 3.8h0m59.6 63.5h0m-1.9 4.8h0m-1.4-5.2h0m-2.5 0.4h0m0.4 0.4h0m-2.6 3.4h0m8.6-3.4h0m-2.2 8.2h0m-4.6-5.5h0m11.5-3.5h0m-17.3-2.3h0m11.6-3.1h0m-1.9 13.9h0m-1.9 1.5h0m-7.8-5.6h0m12.6-1.1h0m-0.1-5.5h0m-6.5 7.2h0m9.2-4.5h0m-32.8 91.9h0m-6-7.6h0m15.2 2h0m-10.8-5.9h0m-3.2 12.6h0m5.2-0.6h0m-5.9 0.2h0m-2.2-5h0m4.3-3.4h0m-1.7 2.3h0m7.6 5.4h0m0-0.3h0m0.5 2.1h0m-3.5-7h0m6.6 5.1h0m-5.4-12.4h0m1.9 7.4h0m-2.8 1.7h0m2.7 3.1h0m-11.6-5.6h0m3.4 7.2h0m13.8-11.3h0m-12.2 8.6h0m-1.8-1.6h0m1.7-5.2h0m0.8 5.9h0m3.3 4.3h0m-1.3-7h0m-8-2.9h0m10.7 5.4h0m2.6-3.4h0m0 0.5h0m-2.5 8.5h0m1-3.9h0m-4.9 2h0m-1.5-14.7h0m1.1 5.1h0m-5.4 0.7h0m2.6 1.7h0m1-1.2h0m2.8 3.9h0m-1.3 4h0m5 2.1h0m74.4-26h0m-6.1-9.2h0m9.6 5.8h0m-1.2 0.4h0m1.1-0.3h0m-1.3-0.5h0m-1.7 0.5h0m-1.6-5.1h0m2.8 2.3h0m-9.4 2.9h0m8.5 1.9h0m-8.8 3.5h0m5.4-8.9h0m4.2 10.2h0m-2.1-8h0m-4.3 0.6h0m6 1.4h0m-8.4-33.1h0m7.6 1.2h0m-1.1 0.1h0m-1.6 14.7h0m2.8-10.4h0m-3.1 4h0m5.6-8.2h0m0.3 3.1h0m-4.4 4.9h0m6.2 2.7h0m-5.2 3.1h0m-6.1-10.1h0m-0.5 7.3h0m4.6-8h0m1.4 4.3h0m0.5-0.8h0m2.9-0.3h0m-3.4 6.6h0m-0.9-2h0m2.3-9.6h0m-6.8 9.3h0m8 2.8h0m-1.2-7.2h0m-0.5 1.2h0m1.8 5.8h0m2.7-45.4h0m-10-0.6h0m2.7-3h0m-1.7 6.3h0m3.2-0.8h0m-0.2 0.2h0m-6.7-7.3h0m6.5 9.6h0m0.4-2.7h0m-3 5.9h0m-1.4-13.9h0m4.9 5.2h0m-0.6-0.9h0m-8.2 3.5h0m9.8-0.4h0m6-4.4h0m-7.5 1.9h0m1-8.1h0m-8.3 13.4h0m10.2-5.2h0m-87.5 59.2h0m0.2-4.1h0m-0.1 8.5h0m2.5-2.1h0m-3.3-10.3h0m1 15.9h0m-5.6-2.4h0m8.2-1.7h0m2-0.4h0m-4-5.9h0m-3 7.6h0m3.2 0.3h0m5.8 1.7h0m-7.4-8.2h0m-0.7-0.8h0m2.6 11.7h0m4-8.4h0m-2-8.8h0m-12-52h0m3.7 12.2h0m-9.6-10.9h0m3.9 5.8h0m-2-7.9h0m2.6 2.4h0m-3.6-3.5h0m7.9 4.4h0m-7.4-1.7h0m2.6 2.5h0m3.3 0.7h0m-4.4-5.9h0m2.5 13.4h0m-2.2-12.2h0m9 4.9h0m-10.5 3h0m4.9-1.9h0m-3.4-5h0m-0.4-0.4h0m-4 1.1h0m6.3-10.1h0m-1.2 15.4h0m2.2 3.2h0m-1.2-1.7h0m-3.6 4h0m1.1-12.1h0m-3.9 3.2h0m8.5 0.3h0m1.6 2.4h0m-4.9-4.3h0m-17.5 75.8h0m11.3-8.2h0m5.6-5.3h0m-13.7 1.7h0m-2.4 9.8h0m10.2-5.6h0m-7.3-1.7h0m6.4-2.3h0m0.8 0.6h0m-4.9 9.5h0m-1.9-14.7h0m5.7 7.4h0m-3.7-10.5h0m4.8 15h0m-0.4-3.8h0m3.3 0.8h0m-2.1-8h0m0.3 0.6h0m-12 6.7h0m6-2.3h0m30.8-30.8h0m-0.1 6.4h0m-1.1-3.2h0m-2.9 8.5h0m3-4.8h0m-6.3-12.9h0m12.1 5.4h0m-2.8 7.2h0m3.1-0.3h0m-3.5-7.6h0m-9.8 6.2h0m13.4 5h0m1.8-2.3h0m-10.5-7.7h0m-0.8 7.6h0m12.3 2.6h0m-9.5-7.4h0m3.1-3.5h0m-57.3 21.3h0m-1.2 2.5h0m-5.2 0.2h0m-1.5-2.4h0m6.9-5h0m-2.7 11.4h0m3-5.9h0m-4.6 6h0m-4.5-5.3h0m3.1 3h0m5.6-13h0m-4 3.3h0m-2.5 5.7h0m0.3 1.9h0m8.1-7.4h0m-2.6-4.2h0m-1.5 14.6h0m-4-10.9h0m-6.5 9.1h0m10.8 4.4h0m-12.2-11.2h0m15.3-3h0m1.6 4.2h0m-2.9 5.7h0m-6.3-11.6h0m4.5 8h0m-5.1-6.9h0m-0.8-1h0m2.7 0.8h0m3 4h0m11.3-4.6h0m-11.8 6.5h0m1.1-5.8h0m-7.5 0.3h0m74-53.3h0m-5.9 6.3h0m3.7-0.1h0m3.3 1.6h0m-2.8 4h0m-1.6-5.2h0m-1.4-4.7h0m-3.1 4h0m8.2-0.3h0m-3 12.9h0m-8.5-5.3h0m5.4 0.6h0m8.9 2.1h0m-3.6-6.5h0m-0.5 3.6h0m3-1.3h0m-49.2 31.3h0m-6.9 14.1h0m13.6-4.2h0m-8-4.7h0m-1.1 4h0m4.2-1.2h0m-1.7 5.3h0m3.6 0.9h0m-8.3-7.1h0m-7.5 0.1h0m3.4 9.5h0m6.4-10h0m2.4 8.7h0m6.2-5.1h0m-11-3.1h0m3.1 5.8h0m-4.6-2.6h0m6.7-11.5h0m3 12.6h0m-0.5-6.2h0m-8 1.5h0m-1.7-8.3h0m0.2 19.2h0m5.6-5.5h0m-8.8-4.4h0m14.5 6.3h0m-2.4-2.2h0m0-1.8h0m-6.6-2.4h0m4.1 2.9h0m6 2.5h0m-6.8 2.4h0m3.3-5.6h0m-2.3 1.8h0m6.2 2.6h0m-9.5 1.3h0m-13.7-97.5h0m3.2 0.9h0m-1.2 2.6h0m5.6 1.6h0m-9.5-1.5h0m6.6-2.1h0m-1.5-4.9h0m-1.9 2.8h0m2.1 5.5h0m-3.7-3.3h0m-3.5-0.6h0m13.7-0.7h0m-2.3 2.1h0m-6-5.1h0m7.6 2.8h0m-2.7-4.6h0m-8 14.6h0m6.2-6.4h0m-2.5-4.4h0m53.6 133.6h0m3.1-5.1h0m5.9 0h0m-5.1 2.9h0m-2.2 2.5h0m3.1-4.2h0m-12.3-3.4h0m1.2 9.9h0m7.8-4.4h0m-6.3 1h0m-1 2.3h0m2.8 1.9h0m-0.8-7.4h0m-0.4 0.8h0m11.2-1.6h0m1-2.6h0m-10.2 2.9h0m-8.4-1.6h0m3.3-0.2h0m8.8 7.1h0m4.3-1.1h0m-11.6 0.1h0m3.3 1h0m1.4 0.4h0m5.1-2.3h0m-3 2.1h0m-2.3-9.4h0m-4.1 6.9h0m8.5-1.2h0m-2.1 5.5h0m-6.5-4.5h0m-2.7-5h0m-0.9 3.2h0m53.2-133.3h0m-0.1 4.5h0m0.9-0.3h0m-7.6-8.3h0m-2.1 8.1h0m4.9-3.2h0m-7.7-2.6h0m13.5 6.9h0m-3.6-3.9h0m-2.6 6.5h0m-3.1-3.3h0m-3-7.6h0m13.9 6.1h0m-4.1-4.9h0m-6.6 6h0m0.2-1.9h0m9.9 5.4h0m-4.7-6.4h0m-2.5-4.3h0m2.9 3.2h0m-1.3-1.5h0m-5.7-6.5h0m12.5 6h0m-2.6 9.7h0m-3.8-12.3h0m-9.1 8.7h0m11.5-5.2h0m6.2 69.8h0m-1.9-5.2h0m-2.1-4.2h0m-5.9 13.5h0m1.9-0.8h0m2.2-3.5h0m11.7-8.1h0m-1.2 2.2h0m-14 6.8h0m7-8h0m-7.1 19.9h0m5.1-18h0m8.6 2.4h0m-2.6 8h0m-2.7-1.5h0m-9.7-1.4h0m4.2 0.8h0m-1 0.9h0m14.8-3.7h0m-10.3-2.5h0m6 1.2h0m-3.9 1.9h0m-2.3 0.5h0m-2.2 3.1h0m9.5-2.2h0m-7.2 1.7h0m2.6-6h0m-1.6-1.3h0m-3.9 0h0m6.5 2.1h0m-7-5.5h0m-76.8 33.2h0m-4.2 7.3h0m-2.8-4.9h0m-0.8-7.2h0m1.6 6h0m0 2.8h0m11.4-1.1h0m-0.6-2h0m1.5-1.1h0m-9.6-0.6h0m-2.8-3.8h0m1.2 7.4h0m-2.7-0.7h0m6.2-4.8h0m-3.9-0.2h0m7.5 0.2h0m-8.2 1.7h0m5 9.5h0m-13.5-7.4h0m11.2 1.8h0m1.1-2.1h0m0.6 0.3h0m-2.6-1.1h0m2.5-7.2h0m0.2 12.6h0m0.1-2h0m6-0.3h0m-7.8-0.2h0m5.3 2.4h0m2.5-6.6h0m-1.7 5.2h0m-2.1 8.3h0m-0.1-4.7h0m3.4-5.4h0m0.3-8.4h0m-8.4-4.4h0m-37.3-76.4h0m4.9 6.7h0m-4.5-11.9h0m3.6 3.9h0m0.8-5.1h0m1.7 2.3h0m1.8 9.1h0m-7.6-8.5h0m0.5-0.4h0m-2.5 1.7h0m16.6 2h0m-8.6-6.5h0m-0.8 1.1h0m-2.4 1.8h0m1.8-2.2h0m0.1 0.4h0m3.8-2.3h0m-3.2 0.1h0m2.6-0.7h0m104.4-6.7h0m8.1-1.1h0m3.2 0.3h0m-2.9-2.7h0m-4-7.1h0m11 9h0m-10-1.1h0m0.8-0.9h0m-8 1.2h0m8.6-8.9h0m1.2 11.5h0m-10.2-3.7h0m9 5.7h0m0.9-4.8h0m-0.5 0.2h0m-7.2-4.7h0m3.8-2.2h0m7.7 7.1h0m-2.8-5.8h0m-9 6h0m7.2-2.4h0m1.3 2.3h0m3.2 2.3h0m-8-8.5h0m2 5.5h0m-0.4-3.3h0m-3.4 1.9h0m-0.2-5.4h0m6.5 3.2h0m-5 0.7h0m2.2-0.2h0m-2 7.9h0m-0.2-9.4h0m-2.1-3.9h0m2.7 2h0m6.4 1.3h0m1.7 6h0m2.9 4.2h0m-16.3-6h0m1.7 4.7h0m-2.5 22.8h0m7.5-7h0m-4.2 3.2h0m0 6.7h0m-2-4.5h0m1.5-3.3h0m5.4 4.6h0m-6.4-3.2h0m3.7-3.5h0m-3 0.1h0m-0.8 1.1h0m1.9-7.1h0m-9.2 6.9h0m10.3-2.3h0m0.3 2.4h0m-7.2-0.2h0m4.9 3.4h0m1.4-2.1h0m-5.5-0.8h0m5.1 1.7h0m3.3 0.8h0m-0.2-3.8h0m-2.8 0.1h0m7 2.1h0m-29.9 76h0m-9.1-0.2h0m4.2 11.2h0m1.2-14.2h0m-5.4 11.3h0m6.9-4h0m4.1-6.7h0m-8 2.4h0m1.4-5.1h0m7.6 5h0m-7.2 8.4h0m1-16.9h0m1.8 14.3h0m-0.9-2.5h0m2.8-5.5h0m-0.8 2.8h0m-7.1 8.2h0m8.6-8.3h0m-2.1 3.1h0m5.5-4.6h0m-3.7 2.5h0m-5.1 2.9h0m7.5 1.9h0m-6.3-8.9h0m-0.8 9.1h0m2 1.3h0m-0.2-6.8h0m-1.7 5.1h0m2.2-6.3h0m59.1 32.1h0m-1.8-2.8h0m-1.4 2.8h0m4.4 3.2h0m0.2-6.2h0m-3.1-0.9h0m-1.6 4.1h0m4.6-5.3h0m-4.1-0.1h0m-10.9 3.3h0m15.6 3.1h0m1.6 1.6h0m-6-4.8h0m-8.1-4h0m-109.1-36.6h0m-5.6-5.1h0m-11.1 0.4h0m-0.6-9.8h0m8.1 19.9h0m-7.4-9.3h0m9.8-0.7h0m-1.8-2.9h0m1.7 3.7h0m-2.7 0.7h0m-1.6-2.9h0m-4.1 5.7h0m-2.9-2.8h0m15.2 0h0m-3.4-7.4h0m-12 4.5h0m9.4 8.7h0m-2.9-6.9h0m4.5-5.9h0m-0.6 2.6h0m6 11.9h0m-13.7-2.5h0m3-3.9h0m8.8 3.9h0m-8.2-6.5h0m6.3 5.3h0m0.8-1.2h0m-6.2-3.8h0m0.2 0h0m4.6 3.4h0m-8.9-7.1h0m-3.7 11h0m10.3-2.9h0m-6.9-9.3h0m4 1.1h0m5.9-2.8h0m0.2 4.2h0m3.6 5.4h0m-5.9-8.3h0m-17.3-14.5h0m3.3-5.8h0m-0.1 3.3h0m0.3 0.4h0m-1.8 4.1h0m10-0.5h0m-10.2 0.5h0m6.4-4.4h0m-8.7 9.3h0m7.5-6.2h0m5.7-3h0m-5.4 3.6h0m-12.1-3.5h0m13.5 5.5h0m-1.3-5.7h0m-5.2 3.3h0m6.7 7.3h0m0.1-2.6h0m-6.1-1.6h0m4.8-4.5h0m-1.9-1.7h0m2 1.3h0m-2 4.9h0m-8.8 0.8h0m9.2-2.7h0m-6.5 2.9h0m0-8.9h0m11.4 9.3h0m-6.2-14.2h0m-0.9 4.8h0m-1.1 2.1h0m3.6 2.7h0m-3.9 13.4h0m-1-15.1h0m4.4 9.6h0m-3.6-11.3h0m-1.6 9.1h0m-2-8.7h0m1.4 6.9h0m5-2.8h0m5.4 2.2h0m-7.3-3.3h0m-2.7-6.6h0m67.8 16.3h0m3.3 12h0m-5.7-4.1h0m0.8-3.3h0m4.6 3.7h0m-7.1 4.7h0m4.6-3.9h0m-0.7 1.1h0m3.3-1.3h0m-11.2-4.1h0m6.4-2.8h0m8.4 11.5h0m-14.5-18.7h0m6.5 7.6h0m-0.2 4.1h0m-2.2-4.2h0m0.1 2.5h0m-0.8 0.5h0m12.5 0.9h0m-7.8 1.9h0m2 3.4h0m-5.3 2.7h0m-4-6.3h0m10.9-1.6h0m-0.6 0.3h0m-7.6-3.7h0m-61.8-6.1h0m2.5 4.3h0m2.8 6.4h0m1.6-5.9h0m-7.4 4h0m4.8-6.1h0m-0.7 9.7h0m7.3-11.5h0m-4 5.1h0m0.2 1.7h0m-10-7.3h0m0.3 7.4h0m4.7-0.1h0m2.8 2h0m-9.2-9.7h0m8.2 12.7h0m0.2-9.8h0m0.4 0.2h0m4.4 1.2h0m-13.2 5.2h0m1.8-4.1h0m7 0.1h0m-4.5 3.4h0m4.2-3.3h0m1.2-1.5h0m-11.3-0.6h0m16.2 1.6h0m-0.8 2.3h0m61.7-36.9h0m4.4 9.1h0m-1.3-3.1h0m3.2-4.8h0m-5.5 10.8h0m-2.7-7.2h0m-7.8 2.8h0m8.5-2.7h0m2.9 2.8h0m0.8 1.2h0m-9.8 0.7h0m3.6 6.9h0m-0.5-0.7h0m1.7-10.8h0m5.6 6.8h0m-0.9 1.7h0m2.9-2.1h0m-12-1.4h0m-0.6-1.9h0m7-1.9h0m-3.1-2.1h0m3.2 0.4h0m0.1 5.6h0m3.5-4.9h0m1.3 6.6h0m-7.3-8.5h0m4.1 8.5h0m0.7-8.1h0m4-0.6h0m-4.9 2.3h0m-19.1-9.7h0m-2.7-5h0m-11.3 11.6h0m13.1-5.3h0m-8-1h0m-6.6-0.6h0m16.4 0.8h0m-9.8 2.5h0m-2.5 2.5h0m8.4-4.9h0m0.8 0.1h0m-12.1-2.7h0m10.3-3.4h0m-7.7 7.1h0m-1.6-8.6h0m4.8 10.7h0m1.3-4h0m-2.7-5.3h0m-2.4 5.5h0m4.3-7.2h0m6.1 2.9h0m-7.4-5.4h0m7.2 16h0m-8-8.4h0m3.3-4.3h0m18.6 13.8h0m0.4 5h0m4 5.6h0m4.2-12.9h0m-0.3 1.9h0m-3.6-1.6h0m-3.8 10.6h0m0.9-10.5h0m-0.4 1.3h0m3.3-4.9h0m-2.9 4.9h0m-2.5 3.1h0m7.2-5.1h0m-5.7-0.4h0m-3.3 0.1h0m11.9 9.8h0m-1 0.7h0m-11.8 7.6h0m6.2-21h0m-3 9.9h0m9.1-10.5h0m-6.3 5h0m3.3-0.9h0m-8.1 1.2h0m7.6-6.2h0m10.2 15.9h0m-5-5.7h0m-1.2-2.5h0m1.2-0.8h0m-7.9-1.5h0m3.7 9.4h0m-1.2-5.4h0m-3.1-3.8h0m1.7 8.5h0m7.1-0.9h0m-2.3 0.4h0m-9.8 81h0m2.5-5.4h0m-1.7 5.9h0m8.7 1.4h0m-1.2 1.8h0m1.4-7.1h0m-6.1 3.1h0m-0.4-7h0m1.5 7.9h0m-10.1-0.4h0m11.2 0.5h0m-5.7-6.4h0m3.1 6.9h0m-4.4-9.4h0m4 9.1h0m5.6-0.7h0m-4.9 3.2h0m-8.4-9h0m4.4 9.8h0m3-13.9h0m1.1 11.8h0m-3.1-0.6h0m-1.3-2.8h0m5.4 6.5h0m-3.5-4.7h0m-0.5-12h0m3.2 12.9h0m-2.2 0.2h0m-2.9-2.8h0m-2.5-0.8h0m8.9-2.6h0m-7.6 5.7h0m7.9-2.2h0m-8-4.9h0m5.9 5.3h0m-2.3-0.8h0m-4.3-6.7h0m-3.7 4.7h0m-15.3-86.5h0m3.4 10.2h0m-11.3-4.9h0m15.7 5h0m-6.3-4.7h0m1.3-0.4h0m-7.9-0.5h0m6-1.4h0m-2.2-1h0m7 8.7h0m-1.7-9.8h0m-3.8 2.6h0m-2.2 4.1h0m5.5 3.5h0m-4 0.4h0m130.8 1h0m4.9-3h0m-1.5 8.9h0m-5.3-2.6h0m6-9.1h0m-7.5 7.2h0m1.3 4.7h0m2.1-6.4h0m-4 2.7h0m12.6-4.3h0m-19.7-5.9h0m14.8 4.7h0m-2.5 2.1h0m2.7 0.6h0m-1.3 3.7h0m-3.4-1.4h0m1.9-7.4h0m-0.6 5.4h0m-1 3.5h0m-1.4-6.2h0m3.8 1.7h0m-0.9-4.6h0m0.8 7.3h0m-1.2-0.3h0m-0.3 1.2h0m-0.3-3.5h0m3.1-2.1h0m-0.5 5h0m-0.9-0.8h0m-7.7-2.2h0m8.1 5.2h0m0.9-11h0m3 5.9h0m-1.6-0.6h0m-14.2 7.9h0m9.2-11h0m-102.9 18.6h0m8.8 5.5h0m-15.9-6.6h0m1 2.1h0m0.4 5h0m-2.4-1.3h0m1.1 4.3h0m3.2-3.1h0m-0.4-4h0m3.1 9.2h0m-2.2-10.3h0m-4.3-0.6h0m9.4 6.1h0m0.6-3.1h0m-7.7-1.6h0m11.2 2.8h0m-42.2-88.3h0m9.5 10.1h0m-5.2-5.7h0m-0.1 5.4h0m4-2.8h0m-10.1 1.5h0m10.7 0h0m-2.1-7.5h0m1.2-1.5h0m3.1 1.6h0m-6.3-0.6h0m2.3 2.9h0m5.8-2.3h0m-4.7 1.8h0m-4.2 9.8h0m-3.4-10.1h0m4.4 4.8h0m5.5-8.3h0m-3.5 0.2h0m2.3 16.1h0m0.6-5.4h0m-5.1-3.9h0m-7.8-3.8h0m3.4-2.3h0m11.5 2.2h0m-10 11.8h0m7.8-13h0m-0.7-0.9h0m-5.5 2.5h0m-3.7 1.3h0m12.1 0.3h0m-6.3-1.2h0m6-1.9h0m-6.6 1.5h0m-3.9 13.5h0m4.3-8.1h0m1.1-10.7h0m-0.5 14.1h0m5.3-0.7h0m-3.7-2.9h0m-4-1.5h0m-1.4 7.5h0m44.3 107.3h0m-3.3 1.1h0m10.1 5.3h0m-10.6-10.9h0m8 11.6h0m-10.1-7.6h0m12.7 10.7h0m-7.9-8.2h0m-2.9-3.7h0m-0.1 17.4h0m1.7 0.5h0m1.6-22h0m1.7 12.8h0m-5.8-14.2h0m12.3 13.1h0m-4.9-3.8h0m-5.4 2.1h0m7-0.6h0m1.9-1.7h0m-3.6-3.3h0m-8.5 6.5h0m6.5 2.2h0m-1.5-4.8h0m-5 8h0m6.9-9.7h0m-22.8 37.9h0m1.9 2.9h0m-11.1 1.7h0m8.6-9.1h0m-2.8 2.9h0m1.5 1.9h0m-3.4 4.8h0m4.3-3.2h0m-7.1 1.5h0m7.9-3.7h0m-3 5.6h0m3.7-4.6h0m-4.9 1.1h0m-44.5-40.4h0m6.9-3.3h0m3.1-2.1h0m-5.6 2.4h0m-1.1-7h0m-4.5 3.8h0m0-1.5h0m-1.9 0.1h0m5.3 11.4h0m9.5-6h0m-9.5-3.3h0m-5.8-8.7h0m8.3 13h0m-1.3-3.8h0m4.7-3.2h0m-2.1 0.1h0m-10.3 3.9h0m8.5-10.3h0m-0.2 3.8h0m-4.6 7.7h0m9.7-5.2h0m-5.5-0.4h0m-2.7-1.2h0m1.7 10.9h0m4-9.8h0m147.7-38h0m2.6-2.8h0m-5.6 8.6h0m-1.3-5.2h0m13.5-2.1h0m-7.1-1h0m1.1-1.9h0m-6.4 2.2h0m5.6-6.5h0m-7.6 8.5h0m-2.8 0.4h0m12.6-8.3h0m-10.3 9.3h0m10.9-0.5h0m-13.9-10.1h0m5.5 11.6h0m9.3-6h0m-8.7-1h0m5-1.7h0m-3.4 4.2h0m5.4 5.2h0m-4.7-8.4h0m-0.4 9.3h0m4.9 3.4h0m-6-4.4h0m3.1-9h0m9.7 5.9h0m-12.1-4.4h0m6-4.4h0m-7.9 7.7h0m-1.3-10.4h0m2.9 9.4h0m5.4-5.4h0m0.8-2h0m-2.7 5.4h0m-4.4-1.2h0m-78.1 56.4h0m4.3-2.5h0m-8.7-4.9h0m-2.6 9.5h0m1.7-2.2h0m4.9-1.2h0m-5.2-0.6h0m6-4.7h0m-7.1-0.5h0m-1 5.5h0m8.3 1.9h0m-2.5 5.4h0m-0.6-16.8h0m-3.1 11.1h0m-0.9-2.5h0m2.2-3.3h0m-5.5 2.4h0m3.2 4.3h0m-3.1-4.8h0m5.8 1h0m-6.1-0.7h0m-2.8 0.9h0m5.2 12.8h0m-2.1-1.6h0m1.5-5.3h0m-3.4-13.1h0m18.1 16.4h0m-12.3-10h0m8.2 2.9h0m-35.7-26.3h0m4.5-13.1h0m-7.1 17.9h0m9.9-16.6h0m-2.4 6h0m-5-1.2h0m1.8 7.9h0m-3.6-0.9h0m4.2-8.3h0m-0.8 7.6h0m-1.6 1h0m-1.7-6.6h0m3.8 1.3h0m-1.3 0.4h0m1.2 0.7h0m-2.8 2.9h0m9.9 0.5h0m-9-5.9h0m7.9 2.9h0m-5.2 1h0m-29.7-57.2h0m1.6 5.4h0m2 1.1h0m1.4-6.5h0m5.1 3.5h0m-7.3-3.3h0m14.8 3.6h0m-16.1 8.8h0m5.5-6.7h0m-0.2-4.8h0m-5-2.2h0m9.3 4.2h0m-2.7 12.7h0m-3.9-12.2h0m0.9 0.7h0m-3.8 14.3h0m9.9-10.6h0m-4.2-4.4h0m-3.8 1.8h0m7.3-4.7h0m-12.6 9.5h0m10.6-4.5h0m0.6-5.8h0m-2.5 0h0m2 2.5h0m2.5-1.6h0m0.2 6.1h0m-7.8-10.6h0m7.3 15.4h0m-6.2-1.4h0m-0.3-14.3h0m4.3 4.4h0m-4.3 5.8h0m5.6 2.5h0m-0.4 1.5h0m0.3-4.5h0m-7.2 0.7h0m5.2-5.5h0m2.9 7.1h0m0.6-6h0m4 2.3h0m-3.5-1.7h0m45.3 83.3h0m6.3-4.9h0m-4.5-3.1h0m-7.3 6.2h0m10 3.5h0m-0.5-7h0m-10.5 5.7h0m3-0.3h0m7.2-3.3h0m-7.1-1.5h0m1.2 9.4h0m6.7-10.4h0m-1.2 8.8h0m1.9-8.2h0m-9.8 2.8h0m12.1 1.1h0m-18.7 5.8h0m12.1-8.1h0m-22.2-4.2h0m9.1 0.2h0m-10.4-3.1h0m9 10.4h0m0.2-3.2h0m-10.5-1.4h0m10.7-7.8h0m-9.2 5.1h0m0.5-0.4h0m-1.5 8.6h0m0.9 1.6h0m2.8-2.4h0m4.5 2.7h0m5.9-1.5h0m-8.5-7.2h0m-6.6 2.4h0m9.4-8.2h0m-10.6 10.5h0m9.3 0h0m-13.1-114.9h0m9.8 0.4h0m-5.1-0.9h0m-7.7 1h0m8.2-2.5h0m4.2 7.7h0m-6.2-6.6h0m2.8 2.3h0m1.8 3.1h0m-4.1-7.2h0m-0.5-1.6h0m-4.7 5.6h0m8.7 3.2h0m-1 2.1h0m7.4-8h0m-5.5 7.7h0m-3-8.6h0m-5.5 0.4h0m-3 3.4h0m6.9-3.5h0m0.1-3.6h0m4.4 2.2h0m-2.2 14.8h0m0-10.3h0m5.3 0.5h0m-50.2 80.8h0m0.9-6.5h0m1.4 7.2h0m2.3 7.8h0m-9.3-10.3h0m7.5 1.4h0m3.8 1.2h0m0.4-0.2h0m-18.2 0.4h0m17.8 2.5h0m-7.1 0.7h0m-1.3-1.2h0m9.9 1h0m0.8 1.2h0m-9.2 2.4h0m1.8-7.2h0m-3.1-4h0m0.9 10.7h0m120.3 45.7h0m0.8-8.7h0m5.9 7.5h0m-6.4 0.4h0m1.9-7.1h0m5.4 3.3h0m-1.9-0.5h0m4.6 0.7h0m-3.5 2.4h0m-8 0.5h0m11.6-0.3h0m-2.2-1.9h0m-11.3 2.5h0m4.9 3.9h0m2-9.3h0m8.9 12h0m-8.2-5h0m0.6-3.7h0m3.9 2.1h0m-3.2-1.6h0m-2.6-11.5h0m2.9 7.3h0m-0.2-1.9h0m1.8 9h0m-4.6 0h0m2.4 5.1h0m2.4-2.7h0m-8.1-1.7h0m-1.1 0.7h0m13.3-5.4h0m-19.5 1.6h0m-103.6-88.6h0m-6.9-4h0m-2-5.2h0m4.5 4.1h0m1.4-6.6h0m-6.9 5.7h0m-4.6 9.9h0m4.5-6.2h0m4.5-4.2h0m0.6-1.6h0m-1.5 1.2h0m6.8-6.6h0m-16.2 9.3h0m4.5-2.6h0m5.9 2.5h0m3.9 1.5h0m-14-5.5h0m18 11h0m-10.9-7.9h0m-2-7.9h0m-0.9 13.4h0m7.7-5.5h0m8.3-5.8h0m-13.2 9.7h0m8.8-3.3h0m-9.5 2h0m5.2-8.5h0m41.4 50.1h0m1.5-2.1h0m-2.7 1.5h0m4.4 9.7h0m1.8 0.5h0m0.4-14.5h0m1.7 13.5h0m-4.3-4.4h0m-2.3 0.4h0m-0.5 3.8h0m-0.5 0.4h0m1.9 0.3h0m6.8-3.5h0m-8.1-6.6h0m10.3 10.2h0m-9.6-12.6h0m-1.2 10.5h0m1.8-6.1h0m20.1 58.4h0m-2.5 7.2h0m-4.1-0.6h0m1.9-4.6h0m4.7 5.9h0m-7-4.2h0m7 7.1h0m0.6-2.7h0m-7.6 1.4h0m11.3-1.4h0m-12.7-9.5h0m8.9 4.8h0m-5.8 1.9h0m0.8-2h0m-2.3 0.1h0m3.9-0.8h0m-2.5 7.6h0m5.5-3.8h0m0.6-0.7h0m-3.5 7.3h0m3.1-6.8h0m-35.4 2.5h0m6.2 2.4h0m1.8-10.5h0m-2.9 9.5h0m2.4 3.7h0m2.4-0.9h0m-6.1-2.1h0m3 2.2h0m-2-2.7h0m5.2 0.8h0m-6.3-1.5h0m-2.5 2.8h0m2.2 1.4h0m27.4-120.7h0m7.8 9.2h0m2.6-1.4h0m-6.7-13.3h0m-6.8 0.9h0m8-0.8h0m-8.2 4.6h0m4.5-0.9h0m-2.2 2.9h0m2.3-7.9h0m6 5.8h0m-7.2-3.6h0m11-1.1h0m-9.4 9.4h0m-4.6-6.9h0m5.8 11.1h0m-5.7-13.7h0m52.8-2.8h0m-0.2 0.1h0m5.7-0.9h0m3.9-3.1h0m-0.3 3.8h0m-5.7 8.3h0m-0.5-6.9h0m0.2-6.9h0m-0.4 0.2h0m-8.7 7.4h0m-4.1 2h0m4.2-1.3h0m-1 1.3h0m8-4h0m0.9 4.7h0m-4.9-1.5h0m-1.8-9.7h0m6.4 14h0m1.4-3.2h0m-3-8.9h0m2.4 6.4h0m-8.3 0.4h0m0.6-5h0m9.6 2.1h0m-8.9 6.6h0m9.4-6.8h0m4.8 2.4h0m-10.5-1.3h0m4.1-1.5h0m-3.2 1.6h0m-0.5 3.4h0m-2.1-1.7h0m5.6-4.3h0m-3.3 7.7h0m-0.2-5.4h0m-9.5-4.7h0m-76.4-22h0m-5.4 6.1h0m5 5.1h0m-1-0.9h0m-4.5-0.1h0m4.2-6.5h0m-6 2.2h0m3.9 1h0m-6.9 3.5h0m5.3-2.4h0m0.9-2.8h0m3.9-1.7h0m-5.4 5.6h0m0-1.4h0m11.7-4.1h0m-11.6 4.7h0m2.1-2.7h0m-1 9.1h0m-8.1-12h0m6.3 1.8h0m4.9 2.6h0m2.2-5.9h0m-6.1 1.2h0m4.3-1.3h0m-9.4 2.4h0m4 1.8h0m3.6 11.3h0m-4.2-3.3h0m0.6-12.5h0m-2.3 2.2h0m9.7 9.3h0m-5.6-7.4h0m0.3 4h0m2.8-1.3h0m-7.1 6.3h0m7.5 0.7h0m-10.5-2.6h0m4.3-4.3h0m6.1 0.6h0m-13.1 0.1h0m35.9 15.3h0m-7.8-0.4h0m4.7 0.2h0m-4 15.8h0m7-9.4h0m2.3-8.8h0m0.2 3.1h0m-7.3 3h0m8.6-3.6h0m-10 5.2h0m7.4 6.5h0m-2-19.4h0m-0.1 15.2h0m4.3-4.7h0m0.9-6.2h0m-7.8 2.7h0m2.9-7.9h0m0.3 5.4h0m2.6 13.2h0m-10.3-12.4h0m1.6-4.5h0m16.5 11.1h0m-7 4.5h0m-3.1 0.7h0m-0.5-13.4h0m0 3.2h0m-4.5 2.4h0m3.2 3.3h0m1-6.7h0m-31 73.2h0m-5.8-6.9h0m3 6.6h0m4.6-4.6h0m-8 0.9h0m6.2 3.6h0m-7-2.4h0m2.3-2.1h0m-0.4 4.4h0m-1.1-1.7h0m3.1-4h0m-0.5-7.8h0m-1.3 17.1h0m0.8-8.8h0m1.8 3h0m-7.6 1.2h0m0.5-8.5h0m4.1 10.3h0m33.3 18.3h0m-6.8 2.8h0m2.7-2.9h0m9.5 4.9h0m-14.7-2.3h0m0.1 10.4h0m4.3-12.6h0m-0.3 1h0m-3.5-5.6h0m4.6 0.6h0m-2.7 4h0m7.8 4h0m0.1-10h0m2.3 3.2h0m1.2 10.6h0m-9.6 1.5h0m-0.9-8h0m8.7 4.4h0m-2.2-8.7h0m-0.5 13.5h0m-9.1-7.9h0m10.1 4.8h0m-1.9-5h0m-6.5-1.5h0m5.9-6.4h0m-4.4 5.9h0m2.9 15h0m0.5-10.2h0m-2.5 15.3h0m0.6-5.3h0m4 6.5h0m-8.2 0.1h0m0.2-4.1h0m5.2-4.4h0m-0.1 2.7h0m-3.2 0.6h0m3.2 5.8h0m0.4-6.4h0m-3 3.9h0m1.1-5.4h0m0.7 9.6h0m-1.9-8.9h0m0.3 1h0m1.9 4.9h0m-8.6-2.4h0m5.7-10.5h0m1.9 9h0m0.8 6.4h0m71.7-1h0m11.3-1.3h0m-9-1.6h0m3.3 2.5h0m-4.8-7.3h0m12.9 2.7h0m0.3-6.6h0m-0.9 4.2h0m10.3 1.7h0m-15.4-4.9h0m1.4 7.7h0m4.5 10.1h0m-10.4-2.6h0m6.7-7.3h0m-6.4 3.4h0m10.2-7.5h0m0.1 6.6h0m-3-4.4h0m-5.3 3.8h0m-4.9-5.1h0m5.2 7.4h0m7.3 0.4h0m-8.8 1.4h0m5.1-7.8h0m-2.2-1.4h0m8.5 7.8h0m-10.9-3.3h0m9.9 2.3h0m-9.9 3.4h0m3-11.1h0m5.2 5.9h0m-4.5-2.7h0m-5.4 0.1h0m4.1 2.8h0m2.3 1.2h0m-1 3.8h0m-80.8-137.3h0m-6.9-5.7h0m-10.4 4.3h0m9.4-8.1h0m-6.1 3.8h0m5.5-0.5h0m0.9 9h0m-1.3-7.3h0m8.6-1.5h0m-11.9-0.4h0m0.1 2.8h0m5.6 7.9h0m0-4.9h0m1.8-3.4h0m-3.8 0.4h0m1.2 5.6h0m2.2-14h0m-2.2-5.1h0m0.5 11.8h0m-4.4-2.1h0m-7.4 2.7h0m8.6 2.6h0m4.1-9.1h0m-7.6 11.8h0m1.7-4.7h0m9-5.8h0m-2.5 7.1h0m-1.4-2.7h0m-2.8 5.1h0m-1.6-11.3h0m3 2.1h0m-8.4 16.2h0m5.3-13.6h0m10.4 4.9h0m-4.6 4.1h0m-8 2.1h0m6.7-2.6h0m-17.1 44.6h0m5.5 7.2h0m0.5-8.8h0m3.3 1.4h0m-1.7 5.1h0m-7.5-7.3h0m-1.4 11.9h0m11.4-4.2h0m-12.4-3.7h0m8.3-3.3h0m0.5 10.8h0m-8.8-5.7h0m4.2 10.2h0m-2.9-13.2h0m11 2.2h0m-11.1-2h0m6.9-2.1h0m-3.6 4.8h0m6.6-0.4h0m-3 10.7h0m0.9-11.6h0m-2.6 4h0m6.1-2h0m-9.5-5.9h0m7 3.2h0m-2.5 10.6h0m-1-4.9h0m-0.5 0.6h0m-9.3-8.5h0m13.3 11.1h0m-1.8-6.9h0m5.1-4.1h0m-5.8 1.1h0m108.5 13.1h0m0.2-7.3h0m4.6 1.8h0m-2.8 8.2h0m-9.3-2.2h0m9.2-2h0m-14.6 0.2h0m12.9-1.5h0m-1.8 10h0m-3.4-5.9h0m9.1-1.6h0m-5.1 1.9h0m0.5 1.2h0m-4.5-4.1h0m6.4-1.3h0m-5.8-3.7h0m-2.5 5.9h0m4.1-5.2h0m5.1 10.4h0m-5.9-8.6h0m10.9 1.1h0m-9.8-0.5h0m5.9-7.2h0m-1.8 0.8h0m3 11h0m-8-2.4h0m5.9 0.8h0m1.9-9.8h0m-10.2 8.4h0m1.4-4.2h0m-4.8 6.7h0m6.2-4.9h0m-2.6-0.8h0m9.3 0.2h0m-12.6 3.8h0m2.6 1.2h0m-3.3-10.8h0m1.6 5.1h0m-53.6 81.4h0m7.4 9.9h0m-4.2 5.7h0m-10.6 1.4h0m16.6-4.6h0m-9.6-1.4h0m4.3 2.4h0m-4.9 3.9h0m51.9-53.5h0m5-7h0m2.7 8.4h0m2.8 3.8h0m3.5-6h0m-13.5-3.7h0m9.3 7.3h0m-9.6 1.3h0m15.5-6.5h0m-5.6-4.3h0m-3 8.1h0m-1.9-6.1h0m1.4 9h0m2.6-1.6h0m-0.1-3.5h0m-3.8 2h0m2.4-6.3h0m7 3.6h0m-0.4-5.7h0m-7.2 12.7h0m-2.2-10.1h0m1.1 1.1h0m10.8-2.2h0m-0.6 6h0m-11.1 6h0m3.8-4.3h0m4.9-2.2h0m-4.7 1.8h0m-47.4-51.2h0m-11.3-7h0m1.7 4h0m0.4 3.5h0m3.9-7.8h0m-4.6 6h0m1.4-0.5h0m1.6-8.9h0m2.9 0.7h0m1.5 2.6h0m-8.8 0h0m0.5 8.7h0m0.4-11.1h0m4.2 10.8h0m-2.3-10.2h0m2.8-2.1h0m1.2 4h0m-9.6-1.9h0m8.5 3.2h0m-4.3 2.1h0m3.7-6.6h0m-2.1 3.8h0m-1.2 6.3h0m3.9-7.7h0m-90.3 17.5h0m8.7 8.1h0m-4.7-1.3h0m1.8-1.9h0m0.7 1.7h0m-6.7-3.2h0m4.7 0.1h0m-3.7 6.7h0m1.2-11h0m-5.4 2.4h0m5.4 11.6h0m-2.2-3.7h0m4.7-10.3h0m-2.1 5h0m-3.3 38.9h0m11.1-8.8h0m-9.3 11.3h0m-0.6-6.2h0m1 9.5h0m-8.9-1.6h0m6.7 2.2h0m-1-5.4h0m0.2-1.1h0m4.2-4.7h0m0.1 7.4h0m-4-3.4h0m3.6 1.3h0m1.5 2h0m-0.6-11h0m-3.9 7.6h0m0.4 5.4h0m-4.4 8.2h0m6.7-13.5h0m-7.7 0.5h0m5.7-0.6h0m5 0.8h0m-5.4-0.8h0m-4-2.3h0m7.8 3.7h0m127.6-86.7h0m1.5 4.4h0m-1.6 7.4h0m0.6-8.8h0m3.8 6.3h0m-10.9 0h0m5.5-6.7h0m-0.8 9.4h0m4.9-4.3h0m0.5-4h0m-2.5 2.4h0m-1.8 2.3h0m3.1-3.2h0m-10.4 12.5h0m13.6-4.7h0m11.3 82.8h0m-0.8-0.8h0m4.7-3.8h0m-10.4 3.9h0m1.8 5.6h0m-1.3-2.4h0m1.9-5.8h0m3.9 2.4h0m-2.4 3.6h0m1.9 4.6h0m2-7.9h0m1.6-5.1h0m-10.5 9.8h0m6.5-2.8h0m-4.5 0.7h0m1.3 0.9h0m3.8 4.3h0m-1.6-10.2h0m3.8 4.8h0m-4 0.5h0m-6.4-1.4h0m4.1-3.5h0m-1.1-1h0m5.1-0.4h0m-2.4 3.3h0m7.8-4.9h0m-6.3 4h0m-7.7 1.2h0m30.1-54.8h0m4.6 0.8h0m-2.4 11.7h0m1.3-11.7h0m-0.9 9.8h0m-0.7-10.7h0m4.3 7.9h0m0.3-0.7h0m-1.8-3.1h0m-5.3 3h0m-3.2 4.1h0m10.1-0.1h0m-12.7-6h0m8.1 4.4h0m8.4-1.7h0m-12.3 0.6h0m3.7 0.7h0m1-7.5h0m2.8 13h0m-0.6-11.1h0m4.2 2.5h0m-1.3 4.5h0m0-7.1h0m-1.5 8.4h0m-2.3-3.2h0m-2.1-3.9h0m-93.6 89.5h0m4.4-11.9h0m-3.8 12.4h0m3.7 0.4h0m9.7-7.5h0m-6.8 5.2h0m-2.5 0.1h0m-5.7-5.8h0m-6.7 9.8h0m9.5-5.6h0m2.3-0.4h0m-5.8-3h0m5.6 0.9h0m-1.6 5h0m-3.5 2.7h0m8.3-5.5h0m-4.3 5.1h0m2.7 0h0m-4.5 1.5h0m3.5-12.5h0m-3.4 9h0m-0.5 1.5h0" stroke="#fbfbfb" stroke-width="0.95" stroke-linecap="round" fill="none" opacity="0.85"/>
<path d="M424.9 164.4h0m3.3 6.2h0m-5.5 1.9h0m10.8 1.1h0m-3.9-13.7h0m-5 7.4h0m-5.8 4.2h0m14.1-10.4h0m-4.9 7.8h0m5.6-7.4h0m-18.2 4.9h0m14.9 18h0m-5.8-14.1h0m-1.6-11.5h0m6 6.1h0m7.4 4.8h0m-12.7 1.4h0m2-7.2h0m-7.5 6.5h0m10 2h0m-6.6-3.8h0m6.2-10.6h0m4.2 0.8h0m-1.1 6.6h0m-0.4 5.3h0m10.8-4.7h0m-18.8 10.3h0m-2.1 4h0m11.2-16.4h0m-4.4 2h0m-10.2-3.6h0m12.8 6.4h0m7.7-2.6h0m-21.1 5.7h0m10.9-1.9h0m-7.2-4.7h0m14.3 8.8h0m-3.1-6h0m-3.4-4.8h0m4.1-7.1h0m-12 7.3h0m7.2 10.6h0m-3.6-7.7h0m-4.4 8h0m17.9-13.1h0m-14.6 3h0m0-5.9h0m-1.3 8.8h0m9.1-11h0m-6.9 7.6h0m6.5 9.5h0m-5 3.8h0m-3.6 1.3h0m-3.6-16.1h0m0.8 9h0m-9.9-4.6h0m13.3 0.1h0m7.8 6.2h0m0.8-9.6h0m-10 12.3h0m-4 0.8h0m10.6-16.8h0m-3.2 8.8h0m5.4 3.2h0m-3.7 4h0m2.3-6.2h0m-7.3-2.6h0m8 3.9h0m-9.1 1.6h0m17.7-2.8h0m-12.7 2.9h0m0 2.2h0m-4.3-1.6h0m0.3 7.7h0m7.2-7.1h0m-0.8-4.5h0m-2 2.3h0m-3.5-2.3h0m3-2.1h0m12.6-1.4h0m-15.9-1.5h0m5.6 5.2h0m-1.4-2.5h0m3.7 0.2h0m-6.5-2.7h0m-6.4 2.8h0m6.2 1.3h0m-0.8 2.4h0m1.5-5.2h0m-7.6-6.1h0m12.1 9.9h0m-10.9-2.8h0m18.7 2.4h0m-3.2-8.6h0m-1.7-1.4h0m-2.1-1.8h0m-3.4 5.2h0m10.2 2.8h0m-7.5-10.7h0m0.1 6.4h0m-3.3 5.7h0m-3.2-3.6h0m4.8-1.4h0m-10 16h0m-2.2-5.8h0m10.3-6.5h0m-5.6 3.4h0m5.7 2.8h0m-3.8-8.2h0m-1.2 12.1h0m8.1-8.6h0m4-1.5h0m-18.8 14.3h0m19.9-8.2h0m-7.2-6.3h0m4.8 5.3h0m2-3.5h0m-11.7-7.1h0m1.5 25.1h0m11.9-23.8h0m-7 3.6h0m-5.1 3.1h0m12.3 12.3h0m-11-1.9h0m11-9h0m0.8 1.1h0m-5.8 14.3h0m6.3-4.6h0m-7.7-14.8h0m-4.1 3.5h0m0.5-3.5h0m2-0.2h0m1.4 4.6h0m-1.3 8.3h0m11.8-14.5h0m-13.7-6.1h0m7.1-1h0m-8 8.5h0m8.6 3.3h0m1.2-12.6h0m-11.5 14.1h0m4-0.8h0m2.3-6.7h0m-5.1 4.2h0m-1.7-0.5h0m-5.5 6.2h0m9.1 1.8h0m3.8-12.6h0m-4.4 11.7h0m12-2.2h0m-13.6-7h0m7.8 2.5h0m-1.8-0.7h0m-3.9-2.7h0m10.1-0.1h0m-6.3-2.4h0m-1.1-1.4h0m-0.8 6.8h0m5.9-1.7h0m-0.9 7.6h0m-1-8.4h0m6.2 6.1h0m-6.1-7.8h0m-8.7 6.6h0m2-1.5h0m8.2-6.4h0m-6.6-1.1h0m5.6 12.8h0m-0.9-12.7h0m-11.2 10.2h0m14.1 2.6h0m-1.1-9.1h0m-5.8 0h0m4.5 2.7h0m-5.3-0.1h0m8.4 1.6h0m-14.3-7.5h0m7.7 5.1h0m-3.9-0.2h0m0.7 5.3h0m12.5-0.9h0m-2.8-9.9h0m-7.6 9.5h0m-2.7-8.5h0m8.1 0.2h0m-10.7 7.9h0m0.2-3.9h0m6.9 3.3h0m-1.2 0.7h0m-7.7 4.4h0m3.6-3.2h0m4.4-2.9h0m0.1 2.4h0m4.1-2.9h0m-5.1-1.3h0m1.4 3.1h0m-3.7 3h0m1.6 7.3h0m9.2-6.7h0m-5.4-0.6h0m1.2-4.9h0m-7.3-2.1h0m-7.1-2.7h0m5.2 4.5h0m3.6 7.1h0m7.9 0.5h0m-5-5.6h0m-3.4-6.7h0m2.8 8.5h0m1.7 0h0m-0.2-2.3h0m3.6 6.3h0m-3.9 1.9h0m-6.6 0.8h0m-3.5-4.7h0m2.5 9.3h0m11.1-12.9h0m3.5-0.3h0m-12.2 0.4h0m13.6-6.9h0m-8.5 8.7h0m-1.7 2.1h0m1.1-6.4h0m1.8-0.5h0m-6.1-10.9h0m3.5 24.4h0m-1-14.7h0m-14.3 5.3h0m13.1 5.2h0m10.7-7.7h0m-4.5 6.1h0m-7.7-0.6h0m4.1-6.3h0m2.9 7.7h0m-6.4 2.3h0m6.4-6.6h0m-5 3.8h0m-6.2-2.1h0m6.8 3.6h0m-10.9-5.6h0m9.3-3.1h0m-5.2-3.6h0m13.7 4.3h0m-16.8 8.8h0m11.3-1.4h0m3.6-9.1h0m-0.8 4h0m-11-7.2h0m-1.8 2.7h0m14.9-2.1h0m-7.9-5.1h0m-0.5 3.2h0m3.9 1h0m-3 1.2h0m0.7 9.5h0m-1.8-5.6h0m1-3.4h0m-12.5 8.7h0m10.7-3.8h0m5.4-9.7h0m-6.3 14.4h0m2-6.2h0m7.5 1.2h0m-9.8-1.1h0m9.2-2h0m0.6 4.8h0m-0.3-2h0m-0.9-8.7h0m-9.1 13.8h0m-1.1-2.1h0m12-11.8h0m-4.6 9.5h0m11.4-6.7h0m-5.2 10.8h0m-3.5-13h0m-2.3 15.6h0m-1.8-13.3h0m1.5 9.9h0m-2.6 2.3h0m1.4 6h0m3.6-10h0m-0.9-0.6h0m-0.8 2.1h0m-9.8 4.4h0m-0.1-5.8h0m3 2.2h0m-5.9 11.7h0m4.4-8.4h0m2.6-6.5h0m-4.5 7.5h0m5.2-5h0m-0.6-0.8h0m-5.4-0.1h0m8.7-10.8h0m-6.7 9.8h0m7.6-0.4h0m-8.2 6.8h0m4.2 0.7h0m7.5-17.2h0m-9.6 6.1h0m9.1-0.2h0m6.6 4.6h0m-4.1-3.4h0m-13.4 6.7h0m14.7-17.1h0m2.7 15.3h0m-7.8-0.6h0m7.9-0.3h0m-0.4 4.9h0m-18.9-14.7h0m12.9 0.8h0m-0.5 5h0m-4.4 5.5h0m-0.2 0.6h0m5.4-8.9h0m11.7 4.4h0m-16.3-0.8h0m7.5-8h0m-11 16.8h0m8.4-2.5h0m1 0.1h0m-12.1-13h0m0.2 6.7h0m13.2-1.8h0m-2.3 6.4h0m1.1-13.9h0m5.3 13.7h0m-10.7-3.5h0m8 6.8h0m-6.2-10.1h0m-4.6 4.9h0m1.7-4.7h0m5.8-8.1h0m-7.9 7.7h0m1.9 7.3h0m12.4 1.7h0m-11.9-8.2h0m5.6 0.2h0m1.6 1h0m-6.7 2h0m0.5-1.3h0m-3.4-2.1h0m-2.3 4.7h0m10.8 12.4h0m1.4-12.7h0m-9 5.1h0m11.4-18h0m-7.4 13.4h0m-8.9-6.7h0m3 14.7h0m9.1-5.4h0m-16.1 2.5h0m15.3-7.6h0m-0.3 3h0m4-13.4h0m-15.7 10.8h0m14.8-7.4h0m0.3 11.8h0m-11.9-6h0m8.5-11.6h0m-11.2 6.1h0m11 9.7h0m-3.6-0.2h0m-7.8-12.4h0m10.4 5.1h0m-2.6 12.3h0m4.2-6.6h0m-1.2 1.9h0m-5.3 0.3h0m-3.5 3.3h0m13.1-0.7h0m1 10.4h0m-12.6-20.9h0m9.2 3.2h0m-2.5 2.4h0m-1.7-4.2h0m4.1 5.7h0m-4.8-5.5h0m15.6 15.8h0m-18.5-9.9h0m5.4-3.3h0m-12.4 4.4h0m12.6-12.1h0m-7.2 11.6h0m-10.9 1.2h0m14.4-5h0m4.7-12.2h0m-7.2 13.6h0m4.5-2.6h0m-3 1.1h0m3 6.3h0m-13.5-6.5h0m15.4 17.4h0m-9.3-12.4h0m6.6 0.6h0m-0.2-1.2h0m-1.2 9h0m5.8-14.2h0m-9.9-4.4h0m3.1 8.8h0m16-0.4h0m-5.2-9.9h0m-4.9 17.6h0m-1 4.1h0m4-11h0m-9 2.3h0m-4.3-11h0m5.9-2.2h0m-3.8 5.7h0m7.4 7.4h0m-9.9-11.9h0m7.1 3.7h0m-0.1 9.4h0m6.7-8.1h0m-3.8 3.7h0m-3.4-8.3h0m-4 13h0m15.9-2.3h0m-10.7-6.3h0m1.7-4.6h0m-2.1 8.1h0m1.1-2.5h0m-4 1.2h0m10.6 4.7h0m1.3-2.4h0m-9.3-4.2h0m6.8-2.2h0m-6.4 9.9h0m-4.2 3.7h0m6-14.9h0m8.2 11.4h0m-5.8 3.9h0m-10.9-14.8h0m13.5-1.7h0m-2.3 4h0m-2.6 9.1h0m3.8-14.5h0m-9.6 10.4h0m5.8-5.9h0m2.1 9.7h0m-6.5-13.2h0m-2.1 17.7h0m8.4-8.4h0m9.2-0.6h0m-23.4-0.8h0m8.8 11.5h0m-8.3-21.3h0m8.5 15.1h0m-6.6 2.3h0m7.4-15.2h0m-6 4.6h0m3.3-0.4h0m-3.3 0.1h0m14.6 3.1h0m-8.7 14h0m1.4-17.3h0m-3-3.2h0m2.4 17.3h0m-3.8-11.8h0m3.9-6.4h0m-8.1 13.8h0m14.1-3.1h0m-7.5-4.5h0m-1.2-0.7h0m5.5 2.5h0m-1.2 0.5h0m4.4-2.5h0m-11.6 11.8h0m1.5-17.2h0m-2.7 3.6h0m-6.4-1.7h0m9.8 5h0m-5.5-5.1h0m9.7 15.4h0m-14.6-4.5h0m15.5 0.5h0m1.7-10.4h0m-11.9 5.8h0m12.2-4.6h0m-5.9 9.7h0m3.6-10.6h0m-4.4-3.4h0m-14.8-0.9h0m10.3 7.6h0m15.7 2.6h0m-6.4-5.8h0m-5.3-2.5h0m2.2 18.2h0m0.8-14.2h0m2.6 7.2h0m-1.2-10.6h0m-3.5-1.9h0m8.2 12.6h0m-1.9-7.2h0m-8.3-2.2h0m3.1-1.9h0m-4.6 4h0m5.9-1.5h0m-9.6 10.5h0m11.4-6.4h0m13.7 2.3h0m-12.7-5h0m-4.5-12.3h0m-4.9 16.2h0m-5 2.8h0m-0.2-9.3h0m5.6 7.2h0m0.6-9.4h0m9 15.5h0m-10.8-7h0m2.9 14.2h0m-0.2-10.2h0m8.3-10.5h0m-5.2-0.8h0m2.9-0.6h0m2 13.1h0m4.4-14.9h0m-7.3 7.6h0m-3-2.1h0m3.2-3h0m4.6 5.2h0m-6.4-1.7h0m10.4 9.7h0m-4.2-5.6h0m-8 8.1h0m4.3-5h0m-4.5-8.8h0m4.6 2h0m2.7-7.7h0m-5.4 6.9h0m6.4-9.3h0m-20.9 6.3h0m14.8 5.4h0m0.5 0.6h0m-11.6 1.4h0m9.8-4.5h0m-4.7-0.2h0m3 4.7h0m1.7 3.2h0m11.7-4.4h0m-14.9 9.2h0m-2.2-13.9h0m12.8 10.5h0m0.6-4.7h0m-0.9 2.6h0m-15 5.8h0m10.7-10h0m-0.2-2.8h0m6.1 2.1h0m-10-3.1h0m6-8.5h0m-21.4 2.7h0m12.9 9.4h0m4.5-7.1h0m-4.1 10.3h0m8.9-4.2h0m-8.5 0.6h0m3.3 11.8h0m4.6-14.3h0m-3.7 8.8h0m-14.3-2.3h0m13.2 0.2h0m1.4-11h0m0.3 2.1h0m15.9 1.5h0m-16.7-3.7h0m6.3-0.4h0m-4.5 7.1h0m-1.6 3.4h0m13.1 0.1h0m-15.5 7.5h0m8.5-14.8h0m-9.3 3.1h0m5.2-6.6h0m-2.7 10.4h0m6.6-1.6h0m-5.1 0.4h0m8.4 4.2h0m-7.7-11.3h0m-3.2-5.5h0m2.7 24.5h0m7.8-20.3h0m-3.2 2.8h0m-11.8-4.4h0m14 4.1h0m-21.9-6.4h0m17.9 10.4h0m0.8-1.9h0m-3.2-4.6h0m1.2 1.1h0m-2 9.9h0m-2.8-5.3h0m-5 8.5h0m3.6 0.7h0m1.8-4.1h0m1 4.1h0m-9.6-14h0m19.5-0.7h0m-1.1 6h0m4.9 0.9h0m-10.8-12.4h0m6.4 6h0m-10.4 3.1h0m5.3-0.1h0m-1.7 14.7h0m-7.2-3.9h0m4.9-12.6h0m1.2 1h0m-5.7 2.6h0m8.6 0.6h0m-1.2-12.3h0m-6 7.4h0m-2.7 0.6h0m13.6-8h0m-1.6 21.1h0m-6.3-6.8h0m5.2-0.7h0m-1.4 10.4h0m-8.4 2.1h0m7.1-19.5h0m-2.3 11.7h0m4.2-6.8h0m-7.2-0.2h0m-3.2-8h0m1.9 0.2h0m-1.3 20h0m8.5-14.5h0m-10.6 0.9h0m13.2 6.3h0m-4.2-1.2h0m7.8 0.5h0m-1.4-2.5h0m-10.2 6.1h0m9.1-6.4h0m2.3 5.2h0m-3.1-9.2h0m-1.1 12.1h0m-5-5.9h0m2.5-6h0m10.9 0.6h0m-16.9 3.7h0m10.2 8.4h0m-5.7-16.3h0m-7.2 10.2h0m12.5-7.8h0m7 5.3h0m-3.8 5.2h0m0-14.7h0m1.9 12.2h0m-8.9-8.7h0m-1.2 4.4h0m1.2 2.3h0m0.2 16.7h0m-1.5-20.6h0m0.1-0.1h0m1.6-1.5h0m-1.7 10.3h0m-6.4-9.6h0m-0.9 1.3h0m6.9 1.5h0m13.5-0.8h0m-4.8 2.5h0m-7.4 4.2h0m0.3 1.4h0m5.5-12.9h0m-17.4 6.4h0m21.7-0.6h0m-22.9-3.1h0m14.9-6.4h0m-9.2 2.3h0m18.2 20.7h0m-8-9.7h0m4.3-4.5h0m-18.9-0.8h0m9.6-11h0m9.1 12.9h0m-16.2-0.4h0m18.2-1.3h0m-7.5-4.4h0m-2.2 9.8h0m-4.3-11.2h0m6.2 10.1h0m-3.1-6.1h0m-4 11.7h0m17.4-6.1h0m-24-3.4h0m12.7 12.6h0m4.5-5.6h0m-15 2.7h0m10-9.1h0m-1.5-4.8h0m-0.9-1h0m-3.2 4.2h0m19.7 7.8h0m-13.2 0.8h0m1.6-10h0m-20.6 10.9h0m11.3-8.5h0m-0.7 9h0m3.2-11.2h0m2 3.4h0m11.2-7.5h0m-11.5 23h0m3.5-20.1h0m2.4 6.2h0m-6.6-1h0m1.3-1h0m15.1 4.6h0m-8.8-7.3h0m-7.9 9.3h0m5.5 1.1h0m-5.3-11.4h0m8.4 9.6h0m-13.2-3.1h0m4.3-12.5h0m-7.9 15.3h0m19-6.7h0m1.6 5.3h0m1.1-4.6h0m-13.7 2.3h0m-1.6 3.5h0m6.2-0.2h0m-2.3-7.6h0m9.6-6.1h0m-0.2 7.9h0m-22.6 2.9h0m15.6-1.9h0m-2.6-4.9h0m-4.6 7.4h0m3.7 10h0m3.2-25.3h0m0 7.2h0m-5.5 5.4h0m-11.6 5.6h0m11.9 0h0m-3.8 0.5h0m16 2.7h0m2.7 1.1h0m-12.4-8.9h0m-2.3-2.2h0m5.2-9.3h0m7.7 15.8h0m-9.4 2.6h0m-6.6-7.6h0m12.1 6h0m-17.1-7.8h0m1.9 3.3h0m9.6-6.3h0m-1.3 17.2h0m0.2-2.2h0m6.2-18.9h0m7.8 10.7h0m-5.6-1.4h0m-2.5 0.5h0m2.8 5.2h0m-3.5-7.4h0m7.8 5.3h0m-10.8-5.8h0m5.6 16.1h0m2.5-17.1h0m-6.1-3.6h0m2.8 9h0m-5.8-9.2h0m2.5 2.7h0m-11.7 2.2h0m9.6 1.5h0m0 1.4h0m-1.4-0.3h0m-8.4-1.2h0m1.6 5.9h0m3.6-5.8h0m5.2 5h0m-7.1-2.2h0m1.9 0.5h0m9.7-11h0m1.1 4.7h0m-5.2 7.8h0m-10.7-4.7h0m3.2-6.3h0m3.6 11.4h0m-2.5-1.1h0m7-2h0m3.7-4.3h0m-4.3 7.1h0m5.3-5.5h0m-4.9-1.4h0m-3.2 5.3h0m-2.2-6.5h0m10.1 7.7h0m-5.4-5.3h0m3.2 4.3h0m-2-11.4h0m-6.6 5.3h0m11-5.4h0m-2.3 16.1h0m-7.1-10.5h0m-7.3 5.6h0m14.3-9.7h0m5 3.7h0m-6.4 14.1h0m1.3-0.1h0m-2.5-9.7h0m-8.9 2h0m14.5-12.7h0m-6.4 13.9h0m4.7 0.2h0m5.8 0.6h0m-1.1-3.6h0m-10.8-5h0m5.8-2.9h0m-9.1 1h0m-1.2 0h0m-3.1 10.1h0m9.1 3.5h0m7.6-17.3h0m-3 5.5h0m-11.8 0.5h0m12.7-0.8h0m-3.5 7.5h0m-0.7 1.7h0m12.3-3.7h0m-10-5.9h0m0 4.9h0m1.7-7.1h0m-2.5-0.8h0m-6.5 7.6h0m-7.5 2.2h0m9.1-6.1h0m1.2 4.4h0m-11.5 2.3h0m6.5 3.3h0m8.1-8.2h0m-5.9-1.9h0m-1.8 3h0m4.2 2.8h0m-2.9-7.3h0m2.9 4.2h0m5.1 1.3h0m-1.4-8.2h0m-0.8 9.6h0m2.7-8.8h0m0.6 9.8h0m-8-10.7h0m6.5 0.6h0m1.3 14.1h0m-1.2-12.4h0m6.5-0.9h0m-6.3 10.3h0m-5-11.1h0m6.6 7.8h0m0.2 4.7h0m-7.4-8.9h0m-7.7 1.8h0m7.5 2h0m5.7 6.2h0m-8.1-9.9h0m2.1-2.4h0m4.6 5h0m-9.4 1.6h0m15.5 5.1h0m-9.6-10.4h0m7.2 4.1h0m-0.5-6.5h0m-7.5 10.2h0m0.9-7.5h0m10.1 8.7h0m-4.1-0.4h0m-9-5.1h0m2.2-8.8h0m1.9 11.6h0m-4.3 3.2h0m13.5-13.5h0m-3.8 6.3h0m3.9-2.9h0m-4.2-5.6h0m-2.3 2.4h0m3.9 11.4h0m-3.4-1.6h0m-4.4-9.1h0m-3 6.6h0m-1.6 2.7h0m3-4.8h0m2.5-5.5h0m-7.2-5h0m-1.6 20.3h0m4.9-13.5h0m-19.5 66.5h0m-1.5-13.9h0m24.5 1.3h0m-8.2-26.7h0m-15.2 19.2h0m-1.4-9.3h0m9.3-9.1h0m-2.1 4.2h0m8.6 15h0m-12.2-18.5h0m10.4 30h0m-5.2-12.7h0m-11.9 0.9h0m13.8-10.2h0m9.1 13.8h0m-9-5.4h0m-5.9 9.4h0m25.2-5.6h0m-26.6 5.2h0m-5.2-14.6h0m12.3 19.9h0m-5.7-13.9h0m7.3-0.3h0m-8.6 12.5h0m19.8-26.6h0m-14.3 2.7h0m5.4 6.3h0m-12.9 7.6h0m7.1-14.9h0m-4.8 19.2h0m1.7-14.1h0m12.6 10.1h0m0.8 3.6h0m-22.1-15.3h0m5.8 4.8h0m16.9-21.4h0m-17.3 17.2h0m9.3 7.6h0m-3.4-7.3h0m4.2-3h0m-10.8-5.1h0m12.3 18.7h0m-1.2 0.1h0m-5.7-12h0m2.3 6.6h0m9.1-16.9h0m-3.3 13.7h0m6.1 13.6h0m11.7-10.5h0m-27.4-16.1h0m-0.6 14.7h0m-2.3 13.8h0m9.3-17.9h0m-0.1-20.4h0m-17.6 28.8h0m25.2-15.7h0m-9.1 19.7h0m-7.6-13.2h0m8-8.7h0m-18.9 23.9h0m12.7 6h0m5.6-7.2h0m5.3-2.4h0m-4.2-12.6h0m-8.7 15.8h0m0.4-2.1h0m9.4 3.3h0m10.6-4.8h0m-15-1.4h0m-7.2-7h0m-0.9 0.1h0m10-0.1h0m-19.6-3.3h0m10.1-3.5h0m3.5 20.5h0m13 1.7h0m-7.3-13h0m7.1 5.4h0m2.4-2h0m-18.9-7.5h0m13.5 15.4h0m-12.5-11.7h0m29.8 22.4h0m-12.7 5.4h0m-9.5-38.2h0m2.8 1.5h0m7.3-4h0m-15.3 19.8h0m0-7.2h0m-1.8 7.2h0m10.4-29.5h0m3 19.5h0m-6.7 14h0m10.1-13.8h0m-20 9.2h0m21.4-2.7h0m-0.4-0.7h0m2.7 12.8h0m-27.4 6.2h0m11-13.3h0m15.8-13.9h0m-12.3 34h0m-15.2-16.8h0m16.5-8.4h0m-2.5-12.2h0m-7.2 19h0m8.9-13.4h0m-8.8-6.4h0m21.1 13.5h0m-26.4-7.2h0m20.5 6.3h0m4.9-5.4h0m-22.2 4.5h0m14.9 3.2h0m-22.4-23h0m30.1 19.3h0m-7.8-17.7h0m9.1 27.6h0m-16.2-8.2h0m12.2-7.2h0m2.5 10.3h0m-7.5-3.9h0m1.7-15h0m3.9 8h0m-24.3 1.6h0m30 11.6h0m-17.3-2.3h0m-2.8-0.9h0m11.8-10.9h0m2.1-3.8h0m-12.6 15.2h0m-2.7 7.1h0m-7-26.7h0m21 4.9h0m0.9 18h0m-14.9 2.2h0m6.9-2.2h0m-3.9-11.2h0m6.5-4.2h0m-2.3 21h0m-5.7-17.3h0m3-11.9h0m-7.8 20.8h0m10.3-1.1h0m-4.3 1.2h0m6.6-8.4h0m-10.8 6.5h0m1.1 9.6h0m0-28.7h0m1.2 15.2h0m28 21.6h0m-22.4-24.5h0m-4.2-3.9h0m-13.9-3.8h0m25.1 18h0m-17 8.3h0m15.9-17h0m1.1 3.2h0m-14.2 4.8h0m11.1-5.9h0m11.4 3.4h0m-25.6 7.2h0m-4.4-13.5h0m12.9 6.5h0m-4.1-13.8h0m7.2 3.6h0m-5.4 9.9h0m0.8 14.9h0m9.3-12.6h0m-21-7.6h0m16.1 12.1h0m-6.5-13.2h0m1.2-10h0m-2.3 11.2h0m-8.1 4.1h0m19 12.6h0m-6.1-26.5h0m11.4 19.2h0m-12.8 0h0m-8.8-9.9h0m4.2-8.8h0m5.7 18h0m-7.3 4.6h0m-3.4-13.9h0m36.5 13.3h0m-19.5 3.4h0m-3.7 3.4h0m-12-21.1h0m-7.6-6.5h0m18.4 17.7h0m-10.3-11.7h0m2.9-22.4h0m20.4 22.4h0m-29-6h0m30.5 16.6h0m2.2 1.6h0m-17.6-10.6h0m0.8-4h0m6.1 17.7h0m0.4-15.2h0m-9.7 6.9h0m-6.1 3.8h0m12.2-5.1h0m-2.9-7.9h0m-15.2 26.2h0m11.4-31.9h0m10.1 2.7h0m-0.5 9.5h0m-6.4 5h0m2.4-17.1h0m-2.2 9h0m3.6-3.4h0m3.3 0.3h0m-21.8 18.4h0m25-24h0m-16.2 25.5h0m4.4-11.4h0m12.3 0.7h0m-13.8-9.1h0m-21.4-17h0m33.6 14.8h0m-20.4 4.2h0m13.1-6h0m-3.7 3.1h0m6 6.4h0m-11.9 28.1h0m16.1-35.2h0m-1.7 6h0m-9.7 3.3h0m7.6-5h0m-2.3-20h0m10.3 28.9h0m-4.1-1.3h0m1.3 3.9h0m-14.1-11.3h0m-6.1 1.1h0m14.9 7.4h0m-4.3-27.2h0m-9.2 18.9h0m17.4-25.2h0m-4.2 18.2h0m-3.4 12h0m2.2 1.2h0m4.5-13.9h0m1 14.5h0m-14.4-19.4h0m-0.5 16.6h0m6.6-5.2h0m-19-0.2h0m30.9 3.9h0m-22.2 10.4h0m8 9.6h0m3.6-26.2h0m5.2-9.3h0m-6 16.7h0m-6.2-1.6h0m6.6 1.5h0m25.3 6h0m-13-9.5h0m-20.6 12.7h0m10.1-15.8h0m-3.3 13.3h0m0.8 1.3h0m-1.7-14.4h0m23.4 0.3h0m-25.2 11.9h0m2.4-4.7h0m7.8 3.9h0m3.6 1.3h0m-13 3.5h0m17.7-9.4h0m-9.4 5.1h0m-11.3-2.8h0m-6.5 3.7h0m15.7-7.6h0m5.3 5.4h0m-20.6-9.6h0m16.6 0.3h0m-1.1 17.3h0m-3.9 2.4h0m5.2-25h0m-9.4 24.7h0m-14.6-10.2h0m37.3 8h0m-13.9-8.3h0m-4.5 3.8h0m-0.2-16h0m-3.3 13.6h0m11.3-24.8h0m-11.5-7.7h0m6.4 26.2h0m15.7 6.5h0m-22.3-9.6h0m-0.5 14.7h0m9.8-2.8h0m-12.6-4.5h0m7.3-1.6h0m-17.3-4.9h0m37.7-1h0m-19.3 6.8h0m3.3-17.6h0m-4 10.9h0m11.4-6.5h0m8.2 10.1h0m-23.7 7.3h0m3.6 8.6h0m4.9-19h0m-19.3-9.2h0m6.8 28.9h0m11.7-19.2h0m-4.4 15h0m11.5 7h0m-11.3-36h0m-3.9 15.5h0m3.1-2.8h0m14.9-1.6h0m-26-2h0m7.7 8.8h0m11.2-7.1h0m-16.4 11.8h0m-17.1-5.3h0m21-0.3h0m14.3 2h0m1.9-5.5h0m5.6 2.6h0m2-1.9h0m-23.9-2.3h0m-2.5 11.9h0m27.1 3.5h0m-14.3 1.9h0m5.6-3.1h0m-16.4-13.3h0m11.9-14.3h0m2.6 20h0m-3.5-27h0m0.1 22.6h0m11.9-2.9h0m-0.2 6.5h0m-8.2-17.4h0m-13.6 14.1h0m-8-2.7h0m8.8-8.2h0m21.5-1.1h0m-24.4 12.3h0m19.7-9.8h0m9.2-22.4h0m-30.2 40.3h0m12.9-4.5h0m18.5 2.8h0m-21.1 14.5h0m-4.6-11.8h0m-3.5 1.3h0m13.2-20.1h0m-15.4 16.9h0m6.9-2.7h0m-7.9 9.9h0m16-1.1h0m-14.4 2.2h0m7.7-11.1h0m21.7-4.8h0m-4.8-9.4h0m-11.9-5.5h0m-14.9 19.2h0m18.6-6.1h0m-3.4 4.5h0m4.6 1.6h0m-10-5.8h0m28.7 2.7h0m-30.4-3.2h0m13.7 6.6h0m-7 6.3h0m-1.1-7.7h0m12.5-13.8h0m-31.9 24.1h0m27.2-16.7h0m-10.4-2.4h0m-11.6 19.6h0m38.4-2.2h0m-27.3-22.1h0m-4.5 8.6h0m-4.1 1h0m21.1 0.2h0m-14.8-4.6h0m5 0.2h0m4.8-15.2h0m-10.9 25.4h0m27.8-6.6h0m-14.8 25.2h0m-9-21.3h0m-6.4-4.9h0m-1.7 15.1h0m1.5-8.7h0m23-8.1h0m-13.6 23.1h0m-5-10.3h0m0.4-4.8h0m21.4 4.1h0m-26.9-1.4h0m2.9 2.3h0m-1.5 3h0m-3.6-5.2h0m-2 0.2h0m19.1-0.2h0m3.8-14.1h0m-5.6-0.8h0m3.2 18.8h0m-13-9.9h0m1.2-21.6h0m11.6 27.3h0m14.5-10.2h0m-11.9-3.2h0m-15.4 10h0m12.4-1.8h0m-28.8 3h0m26 6.1h0m4.8-12.8h0m-15.3 5.2h0m-1 1h0m20.4 7.6h0m-24.3-8.8h0m4.8-4.8h0m-0.7 17.1h0m9.4-28.3h0m-3.7 19h0m6.2-6.1h0m-2.4 23.5h0m2.5-25.8h0m-29.9 22.6h0m17.2-14h0m0-9.1h0m12.9-0.5h0m6.9-2.1h0m-16.7 13.6h0m-5.7-14.2h0m-4.4 18h0m0.3 1.6h0m9.1-19.5h0m10.2-0.7h0m-16.3-1h0m4 18.4h0m4-3.9h0m-1.6-28.5h0m-3 23.7h0m4.6 10.3h0m-8.1-23.5h0m6.1 13.9h0m13.1-11.4h0m9.1 4.9h0m-14.5 11h0m1.8 5.1h0m8.2 3h0m-5.7-19.1h0m-0.6 7.7h0m-14.9-0.9h0m7.9-0.6h0m-16.2 4h0m13.9 2h0m-5.2-4.3h0m18.2 8.3h0m-12.9-7.2h0m2.1-8h0m-2.7 0.7h0m7.4-11h0m3.7 22.8h0m-12.4-7.6h0m16.1 9.6h0m10-8.9h0m-26.6 1.9h0m-3.8 2.7h0m14 10.4h0m1.6-17.5h0m-7.1 3.3h0m-13.8 4.6h0m5.2-4.3h0m7.8-2.8h0m7.5 0.2h0m6.4-1.7h0m-9.6 8.9h0m0.1 1.6h0m-4.1-10.2h0m9.7 11.5h0m-15.4-26.3h0m-1 16.6h0m15.6 18.7h0m-27.7-18.4h0m26.7-16.4h0m0.1 27.7h0m-17.2 0.9h0m0.8-3.7h0m5.1 4.4h0m9.1-8.4h0m7 21.2h0m-17.3-8.8h0m19.9-18h0m-11.8 2.5h0m-2.4-1.1h0m-7.2-7.8h0m17.7 3.4h0m-6.3 0.6h0m-9.7 8.8h0m2.3-23.3h0m8.5 16.3h0m-16.8 14h0m19.6-6.1h0m-9.9-5.3h0m-3 3.6h0m14.8-9.7h0m-15.8 3.9h0m-0.6 5.3h0m20.9 9.9h0m-2.4-19.7h0m-29.1 1.1h0m20.2 0.6h0m7.6 10.2h0m-24.3-3.2h0m13-11.4h0m0.8 6.4h0m3 29.6h0m-17.5-35.4h0m11.1 15h0m-3.8-22.1h0m17.8 15.2h0m-15 13.5h0m6.2-4.9h0m-0.8-10.6h0m0.3-0.8h0m-8.2-6.1h0m15.1 16.9h0m-19.7 7.4h0m14.5-17.7h0m-1.3-5.2h0m4.6 7.6h0m-20 6.9h0m12.8-25.4h0m-2.3 29.7h0m11.5-20.1h0m2.4 6.9h0m-9.9 13h0m6.4 1.7h0m6.4-3.8h0m-28-19.5h0m6.3 16.5h0m12.6 1.2h0m0.2-0.7h0m-1.7 2.6h0m-0.2 1h0m4.7-28.6h0m-10.2 26h0m-5.3-18.6h0m18.7 20.8h0m-9.5-11.4h0m-5.2 6.6h0m9.7-1.1h0m12.1 3.7h0m-17.6-6.5h0m-6.1-11.4h0m8.3 8.8h0m-11.1-13.1h0m0.4 12.1h0m10 10.2h0m-2.2 7.5h0m3-9.2h0m-2-8.7h0m8.7 9.8h0m-6.3-7.5h0m-9.8-3h0m19.4 2.2h0m-21.9 2.9h0m17.3-6.5h0m6.5 8.8h0m-11.1-12.3h0m-7.3 13.3h0m-21-11h0m22.7-1.3h0m5.6 6.4h0m-2.8-5.8h0m-6.1-8.6h0m17.2 8.8h0m-4.3 13.7h0m-6.5-4.2h0m11.5-15.6h0m-20.4 6.5h0m18.6 0.5h0m-12.6 14.1h0m11.4-8.4h0m-13.3-13.5h0m1.7 23.3h0m10-10h0m-1.6 17.1h0m-9.7-24.2h0m-0.9 14.2h0m-8.2-15.7h0m3.4 4.3h0m18.5-9.5h0m-2.2 23.8h0m-2.8-20.2h0m-9.6 15h0m-0.8-16.9h0m18.6 24.5h0m-2.4-10.5h0m-3-6.4h0m-25.5-6.5h0m22.5 6.5h0m-12 33.4h0m14.9-18.3h0m-13.7-7.7h0m-2.6 18h0m11.6-29h0m-11.7 4.9h0m13.9 8.4h0m-3.8-10.5h0m-3-9.6h0m-0.1 10.7h0m8.7-0.1h0m-3.2 12.9h0m0.9-20.9h0m-8.2 6.1h0m13.4 10.6h0m-8.9-5.8h0m-0.4-6h0m7.5-1.5h0m-6.9 23h0m1.1-19.2h0m-3.9 0.6h0m2.4 1.7h0m-0.3-10.1h0m10.9 9.4h0m-5.1 1.7h0m-10.8-1.7h0m2.5 4.3h0m4.2-5.5h0m-16.5 11.5h0m6.9-1.1h0m5.8 10.4h0m11.2-40.5h0m-28.2 22.5h0m18.1 8.4h0m1.3-13.6h0m-7.7-5.9h0m-5.8 16.9h0m10.4-1.3h0m-5.6 22h0m8-22h0m11.9 8.2h0m-4.8 12.2h0m-16.5-28.8h0m10.4 3h0m7.6-18.5h0m-20.3 39.4h0m9.8-34.5h0m-7.2 3.5h0m13.4 18.5h0m-0.3-10.7h0m-7.8 17.3h0m7.9-9.9h0m-6.8-4h0m2.3-11.1h0m-1.5 25h0m0-12.3h0m-1.4-0.9h0m13 8.6h0m-15.4-4.9h0m6.4-3.6h0m-0.2 1.3h0m5.3 4.1h0m-8.1 1h0m6.9-18.5h0m-2.3 20.4h0m-1.8-24.5h0m11.1 45.7h0m-7.8-36h0m-0.8 15.5h0m1.6-12.9h0m-7.6-15.7h0m7.7 23.3h0m-11.2-12.6h0m-5.4 11.9h0m13.6 3.8h0m-12.7 6.9h0m17.3-6h0m-9.5 0.3h0m22.8 5.5h0m-19.4-17.4h0m-3.2 10.3h0m2.8-2.8h0m-16.7 10.4h0m30.2-21.4h0m-39.4 10.4h0m21.2-8.7h0m-6.6 20.6h0m13-16h0m-9.1 14.4h0m-5.7-20h0m7-2.2h0m5.3 14.7h0m8.6 2.6h0m-16.9-15.7h0m18.6 20.6h0m-10.4-19.8h0m11.5 9.3h0m-9.2-11.4h0m-1.7-6.1h0m12.8 9.2h0m-18.6 14.3h0m3.2-5.1h0m10.3-13.5h0m-11.2 16.6h0m3.9-9.5h0m-13 1.7h0m24 17.3h0m-3.2-20.8h0m-11.3 13.9h0m22-20h0m-7.2 21.9h0m-28.7 0.6h0m20.6-21.7h0m6.3 15.4h0m-8.7 2.1h0m12.8-20.6h0m0 0.2h0m-32.2 10.5h0m10.5 0.1h0m15.7 4.2h0m4.7 3.2h0m-14.4 5.4h0m-10.8-13.2h0m4.2 2.2h0m24.3-1.4h0m-15.6 29.4h0m-2.1-6.9h0m-11.4-24.7h0m-0.5 0.9h0m22.5 5.6h0m-16.2 4.8h0m20.2-16h0m-10.1 15.4h0m-2-5.7h0m7 18.9h0m-10.8-9.2h0m6.6-23.5h0m14.5 5.2h0m-10.3 12h0m-20.5-12.1h0m12.1-5.9h0m-25 16.6h0m20.4-14.2h0m16.8 11.5h0m2.8 0.5h0m-13.9 12.1h0m-5.9-10.2h0m18.9 25.6h0m-15.4-16h0m-0.6-3.1h0m2.6-2.1h0m4.1-3.2h0m-12.2-6h0m7.7 5h0m-0.9 5.8h0m14.4-19.7h0m-8.9 14.2h0m-9.4 18.8h0m0.2-15.5h0m7.5 0.9h0m-4.3-10.5h0m10 6.8h0m-27.8-14.6h0m12.8 5.5h0m19.6 9.4h0m-24.4-7.7h0m14.1-0.7h0m-23.3 30.3h0m16.8-7.7h0m10.3-4.6h0m7.3-25.6h0m-4.7 14.8h0m-27.1-13.9h0m12.1 10.9h0m-0.9 5.8h0m-3.7-4.3h0m5.7 4h0m7.1 1.8h0m-13.2-15.2h0m4 1.7h0m-6.5 6.9h0m-1.8 3.1h0m22.3-15.1h0m-9.7-9.2h0m12 17.5h0m-9.6 0.2h0m-3.3 10.5h0m23-3.8h0m-15.7-12h0m-22.1 15.3h0m8.6 14.9h0m3.8-12.8h0m12.6 1h0m-5.1-1h0m2.4-14.3h0m-12.1 7.9h0m7.1 4.7h0m13.8 2.3h0m-7.8 8.4h0m-18.3-9.2h0m16.7-12.8h0m8.9-2.5h0m6.4 5.4h0m-36.9 19.4h0m14.9-22.4h0m5.5 28.8h0m-7.7-32.3h0m0.9-3.7h0m-9.6 31.6h0m10.7-33.9h0m7.6 9.8h0m-5.6-3.2h0m13.7 15.6h0m-15.8-2.6h0m11.6 10.7h0m-6.1-19.3h0m-8.2 5.1h0m11.4 2.9h0m-1.9-14.8h0m-6.2 7.3h0m-15.7-8.3h0m38.4-4.6h0m-9.5 29.9h0m-6.2-13.6h0m7.1-7.9h0m-27.2 12h0m20.9-21.6h0m2.1 23.7h0m-1.2-4.8h0m1.2-2.3h0m-19.1-2.9h0m16.6-0.3h0m-0.5 6.3h0m10 3.9h0m-14.7 4.2h0m5-5.1h0m0.8 3.6h0m4.1 8h0m-7.3 6.2h0m0.9-29.1h0m-0.5 17.5h0m0.3 12.5h0m2.7-15.8h0m-16.3 7.6h0m9.6-28.2h0m0.8 30.4h0m3.5-24.9h0m-2.2-6.5h0m-15 17.2h0m20.4-15.2h0m-11.6 20.9h0m-2.1-17.4h0m11-18.1h0m4.3 23.2h0m-4.6 6.7h0m1.8-4.8h0m-0.9-0.7h0m1.7 2.6h0m-5.1-8.7h0m-10 4h0m10.3-11.4h0m-6.7 8.4h0m9.3 20.5h0m-2.8 0.5h0m-3.9-22.5h0m-12.4 14.6h0m32.2-9.8h0m-46.1-11.6h0m20.5 12.9h0m15.3-17.6h0m-8 24.9h0m2.2-7h0m0.5-15.6h0m4.1 29.9h0m-19.2-17h0m5.5 6.1h0m14.9-9.6h0m6.8-3.9h0m-9.5 4.5h0m13.5-4.5h0m-30.9 24h0m15.9-14.8h0m2.5-7.1h0m6.7 4.3h0m-25.5 6.1h0m9.7-23.7h0m-9.6 33.7h0m3.3 0.9h0m5.2-18.9h0m-16.8 12.6h0m21.3-8.2h0m1.2 11h0m12.5-6.7h0m-25.4 3.7h0m28.6-5.2h0m-18.7 5.5h0m7.2-9.5h0m-4.2 6.1h0m0.2 4.7h0m-9.8-6.5h0m12.9 10.2h0m3-7.4h0m5-14.3h0m-26.1 1.8h0m6.4 23.8h0m11-10.9h0m1.8-1.4h0m-1.2-3.4h0m-12.6-4.1h0m36.6-9.1h0m-15.5 20.9h0m-6.7-19.8h0m-10.6 0.6h0m-9.7 7.4h0m10.8 9.2h0m-3.3-16h0m0.3 6.8h0m12.8 6.5h0m-7.8-16.6h0m5.2 10.9h0m-3.6-18h0m1 47.7h0m4.3-29.8h0m-4 3.1h0m-1.9-2.6h0m-7.8 5.1h0m3.1 4.7h0m-8.2-3.3h0m12.9-17h0m-10.7 23.1h0m9.7-2.7h0m4.1-15.6h0m0.2 2.3h0m3.4 25.3h0m-6.6-6.4h0m8.2-9.8h0m-16.7 9.5h0m-3.9-7.3h0m6.9-3.6h0m9.3 4.5h0m0.7 13.1h0m7.6-13.3h0m-1.3-9.4h0m-21.1 5h0m13.6-2.7h0m4.3 27.1h0m-10.5-10.9h0m0.7-17.9h0m6.3-10h0m7.3 13.4h0m5.4 6.8h0m-6.4 0.4h0m-22.2 15.7h0m25.6-25.2h0m16.7 2.5h0m-34.1 13.3h0m2.3-28.6h0m-1 14.1h0m0.3 13.4h0m8.4-5h0m-8.4-4.7h0m-8.3-10.1h0m6.9 5.6h0m1.5 14.2h0m2.6-14.9h0m18.6-8.3h0m-4.7 18.2h0m-12.6-18.1h0m5.3-1.7h0m-11 12.1h0m-5.1-2.2h0m-0.8 17.1h0m6.6-17.5h0m-20.7-18.3h0m13.2 31h0m29.3-3.4h0m-30.8-14.5h0m11.5-5.3h0m-2.4 37.4h0m-6.6-16.3h0m11.3-9.5h0m1.1 14.5h0m2-19.3h0m-4.9 7.9h0m-5-3h0m-1-0.8h0m1.8 6.6h0m20.4 8h0m-38.8-16.6h0m27.4 3.5h0m-13.1 7.8h0m25.4-21.4h0m-10.1 11h0m-6.1-4.2h0m17.8 19.3h0m-11.6-12.4h0m-14.9 12.2h0m19-31h0m0.8 35.2h0m-7.9-12.8h0m1.1-15.2h0m-16.7 17.9h0m-7.6 12.1h0m3.4-8.1h0m23-10.5h0m-4.5 0.5h0m1.3 8.1h0m0.8-13.2h0m7.3 20.1h0m-20.5-6.1h0m6.7-0.3h0m-3.4-16.8h0m6.7-8.7h0m-9.6 28.2h0m0-8.6h0m19.7-12.2h0m-9.6 16.9h0m1.8 4h0m-5.4-2.6h0m12.1-11.9h0m-10.5-9.4h0m-3.5 19.8h0m-3.6 15.8h0m16.3-13.9h0m-13.2 1.7h0m-16.4-14h0m13.3 2.6h0m8.7-11.1h0m-12.7 31.3h0m21.2-4.4h0m-6.5-9.9h0m-4.9-14.6h0m22.5 10.8h0m-20 0.6h0m-9.5 6.3h0m10.3-11.4h0m7.7 5.4h0m0.6 7.8h0m-9.6-5.5h0m-10.5 10h0m22.6-22h0m-6.7-2.3h0m-6.9 15.2h0m11.5 4.5h0m8.1 4.8h0m-18.7-20.5h0m15.4 3.3h0m-3.7 4.7h0m-12.1-15.6h0m1.6 8.8h0m0.1 4.7h0m-8.7 4.1h0m4.9-10.3h0m-0.1 12.2h0m2.2-13.3h0m-9.7-5.1h0m5.8 14.1h0m-0.8-11.1h0m15.6 1.5h0m-10.3 11h0m-13.1-6.7h0m17.1 6.6h0m-13.2 8.3h0m4.8-18.6h0m8.6 3.2h0m1.2 5.7h0m-11.8 1.9h0m20.2-3.3h0m-13.4-6.5h0m-8.3 6.6h0m16.3-1.3h0m1.6-3.3h0m-18.6 4h0m1.5-5.5h0m-0.7 7.7h0m17.6-9.5h0m-7.9 10.8h0m7.6 14.8h0m-34.1-32.8h0m17.2 18.9h0m5.3-16.9h0m-7.5 13.3h0m9.6-7.8h0m-11.3 2.5h0m14 8.6h0m-2.2-0.5h0m5.5-3.5h0m4.8 2h0m-15 10.3h0m7.8-7.8h0m-13.3-1.2h0m21.9 2.3h0m-28.5-9.5h0m21.7 16.7h0m-13.5-18h0m14.1 7.7h0m8.6 7.2h0m-7-11.8h0m5.2 9.2h0m-26.4-11.4h0m-4.5 3.9h0m18.8-26.1h0m-2.9 37.1h0m-4.1 1.5h0m-0.6 1h0m12.3 4.6h0m-4-9.1h0m12.5-10.2h0m-17.7 18h0m3.9 0.2h0m11.1-19.4h0m-0.7-11.4h0m-4.1 18.1h0m-6.8 13h0m-5.1-24.7h0m9.6 24.3h0m9.5-8.5h0m-4.9 9.7h0m-6.2-19.2h0m2.4 4.6h0m5.5-6.7h0m-9.4 4h0m10.2 1.2h0m-8.7-6.7h0m2.5-5h0m8.9 15.4h0m-20.7 1.7h0m4-13.3h0m5.4-20.4h0m1.6 14.4h0m-9.2 2h0m8.3 17.6h0m-7.7-0.4h0m-0.5-8.6h0m4.4 10.2h0m16-7.9h0m-14.7 8.2h0m19.7-20.1h0m-12.9 7.6h0m-1.8 2.5h0m11.6-9.8h0m-12.8 21.4h0m-4.4 0.9h0m-3.4-27.7h0m-3.9 35.3h0m23.4-26.9h0m-9.9 11.3h0m-11.2-5.6h0m15.2-3.6h0m1 4.2h0m4.5 19.3h0m2.8-21.4h0m-10.1 2.7h0m0.1 13h0m-4.9-7.7h0m1.3-12.7h0m3.1 6.9h0m-15.7-8.1h0m8.6 11.6h0m18.5-20.6h0m-24.4 15.2h0m12.1 4.9h0m-21.2-3.1h0m17.7 1.6h0m-10-5.3h0m4.2 14.5h0m-4.5-6.9h0m-2.8 15.1h0m23-10.5h0m-15.4-7.8h0m9.2 3.6h0m5.5 19.8h0m-0.6-16.4h0m0.5-6.9h0m-10.9-14.4h0m7.1 0h0m-18.4 27.8h0m15.1-10.6h0m14.8-14.4h0m-20.4 12.5h0m7.4-7.1h0m-27.4 0h0m16-6.5h0m-15.4 23.6h0m7-15.3h0m3.9-8.5h0m11.6 10h0m-17.3 16.5h0m24.1-35.1h0m-0.3 15.9h0m0.9 23.4h0m-6.4-6h0m-18.4-2h0m-0.8-23.5h0m2.1 15.2h0m17.2-5.4h0m2.1 1.2h0m-26.2 9.5h0m26.8-21.3h0m-11.9 17.5h0m-4.5 4.6h0m8-23.4h0m8 1.2h0m9 22.4h0m-1.4-5h0m-18.8 0.4h0m-8.8-9.3h0m17.4 12h0m-0.2-15.6h0m7.9 13.2h0m-2.2 0.9h0m-10.9 11.7h0m-1.6-18.5h0m4.2-15.5h0m-19.5 14.3h0m22.9 10.1h0m-13.2-10.3h0m4.1 8.5h0m17 5.7h0m-8.7-14.4h0m-11 12.2h0m14.2-5.9h0m-18.6-16.7h0m10.6 14.5h0m-13.9-1.8h0m7.1 20.2h0m2.3-12.1h0m-0.1-0.1h0m8.1-15.7h0m-17.4 12.4h0m2.1 6.1h0m5.7-26.9h0m3.8 15.8h0m15.1-9.6h0m-8.6 13.6h0m-23.8-1.2h0m10.7 8.3h0m13.1 8h0m18.2-15.1h0m-26.8-2.7h0m18 10h0m-3.5-19.1h0m-1.1 10.1h0m-33.5-8.1h0m22.6 15h0m-2.4-3.2h0m12.7-18.5h0m-21.9-1.2h0m21 28.6h0m-4.1-7.9h0m10.4-2.4h0m-12.9 6.4h0m-9.3-10.9h0m21.2 2.7h0m-13.7 7.2h0m-9.4 2h0m10.2 7.5h0m-5.9-23.7h0m5.6 8.7h0m-7.4-7h0m19.3 33.5h0m-10.3-37.2h0m-4.6 9.1h0m1.8 22.2h0m-7.5-26.2h0m22 16.8h0m-26.6-7.2h0m24-3.3h0m-9.5 11.5h0m-0.5-16.2h0m21.8-3.1h0m-18.2 3.2h0m11.2 7.4h0m-26.4 3.1h0m0.9-9.7h0m18.2 0.4h0m9.6-15.1h0m-20.7 17.2h0m13.2-10.8h0m-3.9 14.1h0m6.4 17.1h0m-0.5-3.4h0m-15.5-6.3h0m-1.1-8.7h0m-10.8 1.2h0m10.5-2.8h0m13.7 7.3h0m-27.5-7.4h0m34.2-17.4h0m-13.5 18.9h0m-11.1 14.4h0m18.1-21.9h0m-6.2-10.4h0m-15.8 16.7h0m6.8 5.8h0m18.3 0.2h0m-12.6 4.9h0m11.8-21h0m-13.2 21.2h0m10.3-6.7h0m-8.3-9.1h0m-10.2 17.6h0m12.2 0.2h0m4.3-7.6h0m-10.8-11.2h0m15 14.1h0m-9.4-15.4h0m-5.3 20.5h0m10.7-15.5h0m-4.2 2.9h0m2.7-5.3h0m-17.6 39.1h0m14.8-52h0m-5.7 18.5h0m2.9 1.1h0m-7.3-4.4h0m19.9 12.1h0m-1.4-32.3h0m-16.7 15.3h0m8.2 8.6h0m1.1 22.5h0m3.1-9.2h0m-10.1-9.6h0m8.8-6.6h0m20.7 4.2h0m-25.5 15.8h0m5.9-12.7h0m-12.3-10.4h0m2-9.8h0m3.5 29.1h0m-6.5-17.3h0m-1.6 3.2h0m25.2 10.2h0m-21.9-1.8h0m6.6-12.4h0m-7.6 8.7h0m4.8 5.6h0m-17.7-27.1h0m25.1 15h0m-11 2.5h0m15.7-16.8h0m-3.3 9.7h0m-10 19.2h0m-8-10h0m16.1-14.1h0m-7.3 16.3h0m-3.5 3.2h0m5.2-13.1h0m6.3-9.7h0m-14.3 12.2h0m15.7-3.7h0m-3.6 4.2h0m0.2-11.3h0m0.4 16.1h0m-17.4 2.4h0m10.9 6.4h0m6.8-26.5h0m-8 23h0m-0.5-10.6h0m21.7 14.8h0m-16-19.8h0m9.1 1.5h0m-5.5 4.3h0m3.7-15h0m-0.8 9.4h0m-14.4 9.6h0m0.1-0.5h0m5.3 5.7h0m1.8 3.2h0m-14.9-35.5h0m13.2 27.4h0m-4.8-1.7h0m11.8-13.9h0m-3.4 9.1h0m-18.1-1.5h0m35.2 26.4h0m-39.1-23.8h0m38.4 2.5h0m-19.4 13h0m31.4-16h0m-28.7 13.4h0m6.7-25.1h0m-7.7 26.8h0m-7.8-19.3h0m-10.4 5.2h0m9.6-13.5h0m2.8-11.4h0m7 31h0m5.9-4h0m-2.8-15.4h0m-3.4 17h0m6.9 5.2h0m-4.5-9.2h0m12-0.7h0m5.6 0.5h0m-20.3 8.5h0m1.2-0.3h0m7.2-9.3h0m-5.8-10.3h0m-0.2-1.2h0m-12 3.4h0m4.3 22.7h0m9.1-7.7h0m-1.6-0.6h0m-12.6 5.5h0m-3.6 0.2h0m7.8-7.4h0m2.8-2h0m0.6-25.6h0m-8.9 22.1h0m-12.6-6.1h0m20.4 25.3h0m3.3-15.7h0m20-17.6h0m-23 18.4h0m1.2 3.9h0m12-13.3h0m-3 26.9h0m-2.6-2.8h0m-21.8-24.3h0m17.8 4.6h0m6.9 1.5h0m-3.5-2.3h0m-12.3 9.9h0m-5.1-0.9h0m25.6-1.4h0m-3.2 4.1h0m-7.9-20.3h0m1.4 11.6h0m-10.7-2.4h0m20.9-15.1h0m-9.7 34.3h0m15.5 2.7h0m-16.9-12.2h0m2.2-0.9h0m-4.8-9.7h0m1.8 10.7h0m10.2 5.2h0m0.6-10.5h0m-11.9 0.1h0m6.2 21.9h0m2.2-9.2h0m-1.7-12.9h0m-8 1.5h0m-7-2h0m3.9-5.1h0m2.1 9h0m26.6-3.1h0m-44.5-18.1h0m21.1 24.6h0m10.1-12.6h0m-28 5.6h0m22.9-2.6h0m-14.5 16.4h0m-4.4-15.3h0m13.8 9h0m1.3-17.3h0m-2.1 6.7h0m0.1 16.5h0m-15.5-12.2h0m26.4 1.3h0m-8.7-17.7h0m-5.5 16.8h0m7.3 3.7h0m-13.3 2.7h0m-1.4-25.4h0m3 19.8h0m5.2 3.5h0m-9.1-0.6h0m7.4-12.8h0m-3.9 6.1h0m3.3 6.5h0m18.5-14.9h0m-17.3 12h0m0.1-7.1h0m11.8 32.3h0m-7.7-39.9h0m12.2 15.7h0m-17.8-3.3h0m7.3-1.1h0m-12.7 5.2h0m11.6 3.2h0m6 5.7h0m-10-19.2h0m6.2-5.7h0m2.5 10h0m-23.4-6.2h0m12.8 14.3h0m13.2 7.9h0m-8.2-14.7h0m-1.9 3.3h0m1.6-6.6h0m-0.5 3.2h0m-5.2 4.2h0m2.9 17.6h0m3.8-37.4h0m11.9 33.3h0m-14.3-28h0m-7.5 11.1h0m7.3 10.3h0m9.1-11.9h0m-3.3 0.1h0m-11.4-4.5h0m10.1 2.7h0m-3.6 6.2h0m4.4 9h0m4.9-16.4h0m-6.1 7h0m-11-4.4h0m-5.3 7.3h0m8.2-0.1h0m12.5-28.1h0m-4.7 17.1h0m-14.7 22.5h0m-3.1 5.1h0m14.9-29h0m-15.3 29.8h0m17.8-17.1h0m-2.7-19.1h0m-13.6 12h0m12.9 15h0m-6.3 0.3h0m2.9-12.1h0m7.9-4.1h0m-14.7-12.1h0m21.6 12.4h0m2.5-13.3h0m-17.3 17.2h0m14.9-2.1h0m-35.4 2.6h0m20.7 12.3h0m-12.6-21.2h0m11.8-11.2h0m25.3 5h0m-38.1 23.2h0m28.6-22.3h0m-6.2 20.4h0m-22.7-16h0m24.6 22.9h0m-16-17.6h0m4-7.2h0m16.7 26.1h0m-3.1-3.2h0m-20.6-21.6h0m15.1 10.4h0m-3.6-4.9h0m1 18.8h0m13.6-12.7h0m-12.6 10.8h0m13.3-8.8h0m-16.7-21.3h0m9.6 17h0m-15.2-3.2h0m4.4 9.3h0m-5.2-10.2h0m11.5 10.4h0m-10.5-21h0m0.2 16.5h0m5.2-4.7h0m-5.5-5.2h0m16.3 20.7h0m-26.8-19.2h0m10.5 10.4h0m12.2-6.8h0m12.1 12.5h0m-9.4 4.6h0m-6.9-9.1h0m3.4-21.2h0m-0.8 17.1h0m-4.2 13.9h0m0.4 2.4h0m-9.6-18h0m19.5-20.5h0m-11.5 19.3h0m13.1-11.5h0m-2.4 1.1h0m-12.9 13.6h0m-10.6 7.7h0m13.7-19.8h0m12.1-1h0m17.1 8.1h0m-29.9 14.6h0m5.8 0.4h0m-6.5-13h0m12.2 3.8h0m2-7.7h0m-3.1 11.3h0m-10.6-17.2h0m-8.6 25.3h0m10.6-11.2h0m6 0.1h0m-21.2-3.6h0m25.7 10.3h0m-6.9-1.2h0m-12-13.6h0m26.2 0.9h0m-13.1 14h0m3.4-19.6h0m-10 18.1h0m5.7-7h0m-11.3 13.5h0m-10.3-21.9h0m29.4 29.4h0m-4.9-22.7h0m-13.7-11.4h0m4 7.7h0m4.1 14.9h0m14.2-11.6h0m-9.9-12.9h0m4 3.8h0m-25.1 27.4h0m5.7-35.5h0m15.7 2.4h0m5.4 24.9h0m-4-4.1h0m-1-10.3h0m8.7 4.3h0m-12.1 22.7h0m-29.7-36.1h0m24.8 18.7h0m-3.1-9.1h0m-1 21.8h0m22.9-38.8h0m-16.6 15.5h0m-14.6 8.6h0m5.1 2.7h0m12.1-14.6h0m-8.3 15.1h0m12 0.7h0m0.4-30.6h0m-7.3 25.9h0m0.5 1.5h0m-12.5 7.7h0m-1.6-15.6h0m14.6-8.6h0m3.4-1h0m-2.4 9.5h0m-13.5 7.8h0m3.6-10.4h0m6.3-1.4h0m0.6-2.4h0m9.1 13.1h0m-16.2-3.3h0m7.2-19.7h0m-13.7 32.3h0m7.5-15.8h0m8.1 8.5h0m3.8-6.2h0m-1.8-10.9h0m15 5.7h0m-28.1 1.3h0m21.8-4.2h0m-3.2 25.5h0m-26-25.3h0m15.9 17.3h0m-7.7-19.4h0m0.1 13.5h0m18.8 2.3h0m-2.5 5.7h0m-0.8-9.3h0m-6.9-2.6h0m15.5 17.2h0m-10.5-9.1h0m-12.3-12.2h0m-3.3 6h0m11-1.9h0m21.6 8.8h0m-19.5 11.2h0m-5.5-25.7h0m-0.6 20.3h0m2.3-9.5h0m4.5-1h0m3.7-2.3h0m1.8 10.1h0m-7.7-11.1h0m19.5-13.7h0m-21.6 19.9h0m-10.7-12.2h0m21.7 21h0m-3.4-24h0m2.7 16.7h0m-7.3-13.3h0m6.5-4.9h0m-12.5 29.4h0m4.5-9.6h0m-2.1-10.5h0m22.4-3.4h0m-13.6-10.6h0m-4.6 19.3h0m9.5-14.8h0m-9.1-9h0m-14 20.3h0m13.8-13.3h0m-17.8 7.7h0m3.3 8.3h0m8.9 3.2h0m33.8-8.8h0m4.5-19.4h0m2 36.7h0m-10.2-16.2h0m4.7-21.7h0m9.3 23.6h0m-6 19.2h0m4.5-13.7h0m-3.8 8.8h0m5.2-25.2h0m-10.4 18.9h0m2.2-6.8h0m5.6 3.4h0m-5.6-8.6h0m-1.1 12.9h0m3.3 9.3h0m3.2 7.9h0m-4.4-30.7h0m6.1 9.1h0m-10.1-10.1h0m-3.2 10.2h0m11.5-16.8h0m-14.3 22.6h0m12.6 11.8h0m4.9-26.6h0m-3.1 15.7h0m4.6-2.9h0m-16.4-4.1h0m5.3 4.1h0m8.7-11.5h0m-8.8 8.9h0m1 4.5h0m2.5-14h0m-3.9 20.1h0m6.7-7.6h0m-0.5-7.7h0m0 5h0m-2 6.2h0m-2.2 1.3h0m1.8-37.1h0m-3.6 32.7h0m4.3 1.4h0m5.5-20.4h0m3.2 30.2h0m-7.3-3.7h0m6.1 6.4h0m-9-5h0m4.3 8h0m-10.6-32.2h0m13.1 5.4h0m-11.6-6.8h0m2.1 1.4h0m8.8 4.4h0m-0.4-3.6h0m-5.5 2.5h0m5.3 9.2h0m-8.7-11.1h0m10.1-9.3h0m-7.1 35h0m-2.2-33.3h0m4.6 10.9h0m3.6-3.6h0m-7 5.6h0m2.6-12.1h0m-4.7 15.3h0m9.3-13.4h0m-0.3-18.5h0m-1.6 9.4h0m-0.3 4.9h0m-12 6.6h0m12.7-6.1h0m0 25.1h0m-4.4-17.6h0m2.5-10.2h0m-4.1 25.5h0m5.3 0h0m-0.8-3.8h0m-3.2 17.8h0m3.1-28.5h0m0.1-2.4h0m-1.5 18.1h0m3-14.8h0m-1-6.8h0m-1-3.3h0m-3.5 28.9h0m1.3-14h0m4 2.7h0m0.9 15.6h0m-9.9-5.3h0m8.4-8.7h0m-3.3-28.4h0m-0.1-6.1h0m-2.8 18.8h0m1.2 5.7h0m-0.9 1.9h0m-2.5-6.5h0m3.4 13.3h0m-0.9 7.7h0m-1.2-29.5h0m8.9 15h0m-5.1 12.1h0m-2.7-21.8h0m-0.1 16.1h0m5.4-9.9h0m-1.7 12.7h0m-2.4-10.8h0m3.7-0.5h0m-1.9-8.8h0m2.7-9.2h0m4.2 18.8h0m-4.6-9.7h0m-2.8 33h0m5.5-18h0m-6.4 23h0m3.5-36.1h0m-3.9 24.8h0m5.3-13.7h0m2.5-12.6h0m-6.9 13.2h0m-1.5-19.4h0m3.4 19.5h0m-1.9 14h0m-0.7-8.5h0m-2.5 8.8h0m4.8 4.4h0m5.2-26.7h0m-8.8 13.2h0m5.1 0h0m4.3-5h0m-12.3-28.3h0m6.8 29.7h0m-4.7-3.1h0m5.7 0.5h0m1.3-0.4h0m-3.1 16.7h0m-1.5 6.1h0m-0.9-29.7h0m1.4 22.4h0m1-20h0m7.3 5.4h0m-3.8 0h0m-2.2-6.7h0m2.1 14h0m0.1 8.2h0m3.4-3.9h0m-7-17.7h0m-2.2 7.7h0m3.7-2.1h0m-6.8 14.8h0m4.8-5.5h0m-5-4.8h0m-2.5 2.8h0m11-6.6h0m-3.3-0.8h0m2.1 19.6h0m-1.8-3.9h0m1.8-24.6h0m2.2 8.5h0m-1.4 11.5h0m-3.4-18.4h0m2.9 29.9h0m-4.8-19.9h0m0.7-4.8h0m4.2 16.2h0m0.1-7h0m-9.5-19h0m2.7 32.1h0m7.1-24.8h0m-4.6 29.8h0m0.2-14h0m3.2 7.6h0m-0.1-5.1h0m-2.4-17.1h0m-3-4.9h0m8.5 16.2h0m-3.2 7.6h0m-1.2-41.3h0m-7.2 50.1h0m9.2-52.4h0m-13.7 22.1h0m13.1 33.3h0m-4.1-21.2h0m-2-7.3h0m3.6 8.2h0m1.7 24.3h0m-3.5-31.1h0m4.1 6.9h0m0-5.2h0m0 20.7h0m-1.5-14.6h0m-3.7-12.6h0m1.6-15.5h0m-0.5 48.8h0m-1-31.9h0m-0.7 16.2h0m6-18h0m2.1 0.9h0m-7 6.6h0m-1.3 0.1h0m2.2-11.9h0m0.2 24.9h0m2.5-4.6h0m-5.1-16.3h0m1.7-1.3h0m7.1 9.8h0m-8-9.3h0m6.4 1.2h0m-1.2-1.9h0m6.5-21.6h0m-12.6 9.2h0m4.5 29.2h0m1.7-27.2h0m-7.6 2h0m4.6-5.4h0m2.7 11.5h0m-5-1.6h0m5.8 27.3h0m-7.7-10.1h0m11.8-4.8h0m-6.5 1.3h0m1.9-10.3h0m4.7-15.5h0m1.1 19.8h0m-12.8-1.8h0m2.2 30.6h0m0.3-26.1h0m-2.7-11.7h0m8.2 16h0m2.8 1.7h0m-10.5 1.2h0m11.3-7.3h0m-8.8 9.1h0m3.3 30h0m4.2-24.6h0m-5.3-25.1h0m6.4 40.3h0m-5.1-20.7h0m-1.1-12.1h0m2.4 3.5h0m0.2 3.3h0m-0.6 7.9h0m8.2-33.4h0m-8.4 14h0m3.6-3.5h0m-7.8 33.9h0m3.9-29.9h0m1.8-4h0m-4.5 28.8h0m5.8 13h0m-8.2-7.9h0m5.3-9.4h0m-1.6-3.5h0m1-23h0m-2.7 12.6h0m-2.7-9.1h0m4.8 9.6h0m0.9-4.5h0m0.5-14.1h0m-0.6 20.7h0m-4.5-5.8h0m5-8.3h0m3.6-4.7h0m-7.7 10.9h0m9.2-13.5h0m-4.5-5.3h0m1.2 28h0m-3-3h0m-2.4 3.7h0m7.7 22h0m-4.7-23.4h0m-3.6 14.7h0m4-43.4h0m-4.6 62h0m0.3-38.6h0m11.6 32.8h0m-8.9-15.9h0m0.7-18.1h0m-6.5 0h0m3.2 28.3h0m-1.1-48.7h0m9.9 33.3h0m-2.8-21.1h0m-4.9 22.3h0m2.1 3.3h0m-1-18.6h0m-5.4-5.3h0m6.2 30.1h0m-0.3-21.5h0m6.3 10.6h0m-4.9-15.1h0m-1-14.1h0m1.4 32h0m3.5-22h0m-10.2 1.5h0m3 29.4h0m3.1-8.8h0m-3.5-12.5h0m2.9 10.2h0m-2.6-11.6h0m-3.6-11.4h0m2.9 14h0m-0.8 4.3h0m9.3 2.9h0m-10.9 10h0m11.2-9.3h0m-7.4 17.7h0m-2.3-11.5h0m2.4-1.3h0m-6.1-14.5h0m5.8-8.6h0m3.2 5.5h0m2-10.6h0m-7.9 9.4h0m4-1.1h0m2.2 20.3h0m-4.4-9.9h0m6.7 15.7h0m-4-2.8h0m-7.2-25.7h0m7.3 25h0m-7-22.1h0m6.5 43.4h0m-3.5-28.4h0m4-21.3h0m-0.6-12.1h0m7.5 24.2h0m-12.3-10.5h0m6.9 10.1h0m1.8 13.3h0m-12.9-4.5h0m9.3-4.5h0m3.8 6.6h0m-2.7-6.8h0m4.5-3.8h0m-1 6.7h0m-11.5-22.5h0m7.9 7.9h0m2.7 7.5h0m-6.3 3.5h0m13.6-22.3h0m-11.6 28.3h0m2.6-15.8h0m-2.3-5.8h0m4.9-3.2h0m-7.6 25h0m-0.4-14.2h0m7 10.6h0m-10.8 3.3h0m9.3-3.1h0m-2.9 5h0m0.7-19.6h0m3.5 11.9h0m1.6-18.3h0m-1.6 45.9h0m-1.9-22.1h0m-0.2-0.2h0m-5 0.4h0m7.9-16.8h0m-9.3 16.6h0m3.3-8.8h0m4.6 18.1h0m-2.3-3.1h0m1.7-23h0m-6.3 5.9h0m2.5-9h0m11.2 1.8h0m-12.2 7.1h0m2.3 8.1h0m-9.5 3.5h0m11.4-19.4h0m-1.2 43.4h0m-4-65.9h0m7-0.6h0m1.7 24.2h0m-5.4 16.4h0m6.4-5.9h0m-2.1-3.1h0m-3.7 0.9h0m-5.7 9h0m4.5 1.7h0m2.2 0.3h0m0 22.5h0m-6.9-38.8h0m4.3 6.5h0m-2.5-19.3h0m3.8 39.2h0m5.9-36.4h0m-13.1-1.4h0m2.9 3h0m9.4 35.4h0m-9.4-16.6h0m8.6-8.5h0m1.1 2.8h0m-1.6-8.1h0m1.2 17.9h0m-7.2-31.9h0m-0.3 10.9h0m1.4 26.5h0m2.5-1.3h0m-2-27.3h0m2.9 7.3h0m-2.2 32.5h0m-0.7-9.1h0m6.2-18.2h0m-7.7-4.8h0m3.3 11.7h0m-6.5-12.2h0m11.2 27.1h0m-6.1-32.3h0m0 4.1h0m-9.6 13h0m6.7-4h0m7.1-0.5h0m-8.1 8.6h0m1-11.2h0m1.9 7.8h0m6.9-3.6h0m-6.3 0.2h0m1.6 8.1h0m9.3-26.1h0m-12.4 5h0m7.6 32.7h0m-9.7-22.4h0m1.4 12.7h0m6.7-25.1h0m-3.8 19.1h0m-2-4.4h0m1.9 3.7h0m-0.3-13.8h0m-3.6 17.3h0m13.4 2.3h0m-10.6 11.6h0m4.3-29.8h0m-6.2 8.2h0m5.4-6.2h0m-3.9-25h0m12.5 29.1h0m-13 1.7h0m2.4 5.2h0m0.4-3.2h0m-0.5-20.6h0m3.7 16.8h0m-0.6 14.2h0m-5.3-16.5h0m-0.9 0.2h0m2.8-18.8h0m1.7 11.5h0m-6 17.7h0m5.5-4.5h0m1 17.7h0m-0.5-10.8h0m-0.7-1.4h0m-0.3 13.9h0m0-24.7h0m1.6 22.7h0m2-23.1h0m-3.3 11.8h0m-2.1-11.9h0m3-7.2h0m7.3-9h0m-11.7 11h0m7.5 18h0m0.3-9h0m-2.9 8.2h0m7.8 3.4h0m-11 3.2h0m4.3-7.2h0m-2.7-7.8h0m0.1 14.1h0m-3.4-35.8h0m6.2 24.7h0m-2.6-6h0m7.3-12.6h0m-9.9 10.5h0m-2 1.2h0m3.8 1.2h0m1.9 11.1h0m1.1-6.7h0m-5.4 8.2h0m-5.4-1.8h0m5.5 3.4h0m-2.1-4.6h0m3.7-25.2h0m-3-3.3h0m9.7 22.5h0m-9.9 16.6h0m4.4-18.1h0m1 2.1h0m-3.8-7h0m0.5-5.2h0m-4 11.3h0m0.1-4.4h0m11.1-19.8h0m-4.1 25h0m-3.1-19.1h0m3.9 3.7h0m-4.3 28.4h0m1-0.3h0m9 1.3h0m-5.8-2.2h0m-1-6.4h0m-1.5-6h0m0.2-12.1h0m1 25.9h0m3.8-2.7h0m0.5-30.8h0m2.1 28.8h0m-13.5 5.8h0m2-9.4h0m3.1-9.5h0m-5.7 4.1h0m8.5-6.1h0m-1.4 7.3h0m0.5 22.7h0m-1.9-26.2h0m6 4h0m-7 18.4h0m5.8 4h0m-4.8-29.9h0m-0.9 2.4h0m0.9 1.1h0m0.5 4.9h0m1.8-16h0m1.7 14.3h0m-0.5-5.7h0m-6.8 12.1h0m3.5-11.9h0m1.7-1.2h0m-2.7 8.2h0m4.6 13.3h0m-7.5 3.1h0m3.4-18.9h0m-2.7 10.4h0m6.9-30.5h0m-5.5 24.6h0m0.8-0.5h0m3.4-11.5h0m1.2 38h0m-2.4-17.4h0m0.6-18.7h0m-4.7 30.3h0m1.6-21.6h0m-1.7-7.8h0m6.8 17.1h0m-3.5 6.2h0m2.2-9.5h0m-9.4-5.4h0m4.6-0.7h0m4.5 5.4h0m2.2-31.3h0m-8.9 41.8h0m9.5-13.4h0m-7.5-31.9h0m2 53.7h0m2.1-34h0m5.4 5.6h0m-7.1-0.5h0m-1.3 12.4h0m8.9-10.4h0m1.4-0.3h0m-8.5-3.1h0m5 13.6h0m-1.9-26.2h0m-0.7-3.2h0m-2.2 29.1h0m-0.2-15h0m-4.2 2.2h0m3.6 6.8h0m-4.4-18.8h0m4.3 0.1h0m-0.1-16.6h0m2.4 46.7h0m-2.8-18h0m3.9-0.1h0m-3.6-3.7h0m10.1 16.2h0m-13.3-2.6h0m2.8-25.2h0m-4.1 6.2h0m4.2 14.9h0m-3.9-23.6h0m3 13.6h0m4.6-6.3h0m-0.1 11.6h0m-4.5 9.4h0m-0.5-8.4h0m9.2 6.3h0m-10.8 1.4h0m10.9-23h0m-6.6 2.1h0m1.7-14.4h0m-4.6 51h0m5.1-35.2h0m-0.5 6h0m-1.6 2.1h0m-3.5 20.9h0m8.3-6.9h0m-3.4-11.8h0m0.2-7.4h0m5-3.6h0m-9.2 11.1h0m3.6-16h0m3.9 32.8h0m-0.8-22.3h0m-5 8.9h0m1.5 3h0m-7.3 9.7h0m10.1-11.8h0m-1.6-5.2h0m-7.5 26.8h0m5.1-8.3h0m2.5 5.1h0m6.1 6.7h0m-8.7-35h0m2 29.8h0m2.3-25.6h0m-4.5 0.8h0m-5.4-5.9h0m2.9-2.2h0m10.8 17h0m-1.6-28h0m-0.3 19.4h0m-4.1 0.3h0m-2.3-17.4h0m6.6 47.2h0m-7.5-42.4h0m6.1 7.9h0m-3 7.7h0m-0.7 17.2h0m-1.6-21.2h0m2.2-3.7h0m-6.4 21.3h0m5.6-18.2h0m-7.2 17.9h0m4.4-15.3h0m-2 2.5h0m0.4 13.6h0m4.9-27.2h0m-8.9 1.1h0m9.7 23.4h0m-1.3-22h0m1 7.6h0m4.3-0.2h0m-5.5-8.8h0m8.4-13.8h0m-6.2 23.6h0m-3.5-5.2h0m2 25.7h0m3-11.3h0m-8.5-18.6h0m6.5 1.6h0m-2.9 7.5h0m2.4-4h0m-3 1.7h0m5.4-11.4h0m1 8.1h0m-4.7 8.6h0m1.2-18.1h0m1.8 18.7h0m0.4 20.9h0m-4.2-37.1h0m4.8 15.8h0m-6.3 15.6h0m1.3-26.6h0m1.6 24h0m-3.6 9.2h0m-0.7-16.7h0m5.4-6.4h0m0.4 32.9h0m0.6-33.2h0m-8.1 0.9h0m9-0.9h0m-9.1-5.6h0m9.1 9.7h0m2.4-22h0m-7.4 36.9h0m6.4-27.4h0m-10.1 6.3h0m7.8-1.2h0m-9.2 20.5h0m6.8-16.1h0m-2.1 13.7h0m0.1-6.8h0m0.9-18.1h0m0.1-3.8h0m-0.5 28.3h0m3.1-16.3h0m-1.8 6.3h0m-0.7-21.2h0m-1.9 24.1h0m-5.8 0.5h0m5.1-14.8h0m9.1-7.2h0m-13.6 13.5h0m5.5-15.9h0m0.3 17.6h0m2.9 1.7h0m-1.5 7.3h0m5.5-4.2h0m-2.1-9.3h0m-5.1 7.1h0m-3-17h0m8.1 33.3h0m0.7-18.5h0m2-5.1h0m-0.8 9h0m-4-12.3h0m1 10.7h0m-4.1 8.7h0m2.1-3.2h0m7.6 13.4h0m-7.2-24.7h0m-5.1 0.3h0m4.2-17.9h0m0.9 10.5h0m-2.6 15.7h0m-1.8-3.9h0m9 4.2h0m-6.5 9.9h0m1.4-5.6h0m4.2-16.8h0m-1.6 32h0m-6.5-18.1h0m0.2 3.5h0m8.2 5.8h0m-5.5-0.4h0m7-31.4h0m6.1 11.1h0m-15.5-0.1h0m4-0.8h0m-3.7 10.6h0m8.6 1.6h0m-5.2 8.5h0m13-22.5h0m-9 4.8h0m-2.6 6.7h0m-5.8 3.1h0m6.4-18.7h0m-0.3 5.8h0m-6.7 11.1h0m2.6 12.1h0m8.6-48.2h0m-2.4 31.9h0m-7.8-1.8h0m5.1 0.4h0m1.2-8.4h0m-2.6 13.4h0m7.1-6.7h0m-37.4 35.2h0m9.6 3h0m-11.3 1.7h0m4-2.3h0m12.9 1.5h0m-5.5-14.3h0m-13.7 5h0m-1.4 3.4h0m9.1-14.5h0m0.2 3.1h0m13.8 5.5h0m-11.8 4h0m-10 6.5h0m16.6-15.9h0m-2.2 20h0m-6.3-20.1h0m2.4 12h0m16.8-5.1h0m-24.3 4.8h0m4.9 8.3h0m8.4-16.3h0m6.7 12.1h0m-38.8-4.9h0m23.3-4.2h0m-0.3 6h0m-4.5-9.2h0m5.3 14.8h0m4.5-12.3h0m-15.1 0.7h0m-4.5 12h0m25 0.8h0m-17.4-12.9h0m-12.8 2.1h0m17.2-9.8h0m6.1 9h0m-3.6-2.9h0m0.8 10.3h0m-8.3-8.9h0m25.6-1.4h0m-24.1 11.5h0m-4.1-5.2h0m-4.5-9.2h0m24.4 4h0m-12.4 14.4h0m9.8-9.1h0m-2.3 0.1h0m-8.5-1.4h0m-4.1-7h0m-1.9 6.7h0m-0.4 0h0m6.1 4.4h0m5-1.2h0m6.6-2h0m-21.6 1.3h0m26.6-8.9h0m-6.4-4.6h0m-17.5 14.2h0m13.9-10.6h0m5.7 14.8h0m3.4-5.1h0m6.3-16.9h0m-37.6 14.7h0m12.4-3h0m8.4 3.5h0m-6.1 1.8h0m19.1 3.1h0m-10.1-13.6h0m5.7 14.3h0m-7.9-9.7h0m-22.4-1.6h0m19.5 1.9h0m-4.1 7h0m-1.2-2.7h0m36.2 3.8h0m-41 0.5h0m11.7-13.8h0m2.1 19.7h0m-1.9-17.9h0m3.8-4.3h0m2.4-1.9h0m-5.3 9.6h0m-3.4 3.6h0m-5.8-5.6h0m1.8 8.6h0m8.4-4.8h0m-16.2-1.4h0m14.6 8.6h0m-0.9-3.6h0m-3.2-6.9h0m4.9 7.9h0m-1.2-2.8h0m-0.5 2.7h0m-1.7 6.9h0m1.4-15.7h0m-3.4-0.7h0m15.5-2.9h0m-20.9 6.5h0m10.2 7.1h0m-5.7-2.5h0m8.6 13.6h0m21.3-20.7h0m-41.3 4h0m28.2-0.8h0m-6.9-2.3h0m5.1 3.6h0m-22.1 10.7h0m24.2-15.6h0m-3.7 4.9h0m-11.5 0.3h0m11.1 5.4h0m-25.3-1.7h0m23 4h0m6.9 8.9h0m-24.7-21.2h0m23.1-0.6h0m-1.4 6.3h0m-11.8 0.6h0m-4.8 1.9h0m-10.7 2.9h0m6.5-10.9h0m5 3.9h0m16.7 3.1h0m-15 1.5h0m12.7-16.2h0m-10.1 15h0m-1.3-4.8h0m6.1-3.5h0m6.3-1.3h0m-9.3 15.9h0m5-12.8h0m-8.3-7.5h0m-4.2 5.1h0m12.6 7.3h0m1.1 1.7h0m-21.8-5.6h0m14.6 9.2h0m9 0.7h0m-12.7-21.8h0m-8.7 16h0m10.3 8.2h0m5.4-11.9h0m4.5-0.3h0m2.2-5.5h0m-4.2 2.7h0m0.9-3.2h0m3 14.2h0m-11 1.6h0m1.6 8h0m-12.5-24.4h0m24.1 1.4h0m-17.7 9.7h0m8.7 4.9h0m-15.1-6h0m12-8.7h0m-3.2 8.6h0m12.9-1.6h0m0.9-0.5h0m-13 15h0m-17.1-10.7h0m18.5-10.7h0m-14.7 4.4h0m29.1 2.8h0m-23.9-7.6h0m18.7-0.6h0m-7.1 4.1h0m-6.4-1.3h0m-7.7 4.8h0m13.3-4.5h0m-16 5.1h0m32.5 5h0m-13.5 10.2h0m-25.8-9.2h0m4 5.7h0m29.1-8.8h0m-11.9-1.2h0m-4.9 1.4h0m12.4-0.5h0m2.7-0.8h0m-21.9 0.2h0m22 5.5h0m-3.8-7.9h0m-3.3-7.5h0m-4 9.8h0m-4.8-4.9h0m13.6 4.5h0m-6.1 5.7h0m5.5-6.2h0m9.4 5h0m-24.6-11.8h0m11 6.1h0m-2.7 3.2h0m2.1-2.4h0m0.6 0.7h0m-11.2 3.1h0m-1.2 2.6h0m11.5-6.7h0m5-9.2h0m-24.5 12.2h0m16.6-7.9h0m17.1 4.6h0m2.9-0.4h0m-36.4-6.4h0m25.5 22.3h0m-8.5-12.4h0m-4-1.9h0m10.9 0.6h0m-12.7-7.3h0m21.8-0.6h0m-2.9 2.4h0m-31.2-1h0m23.1 12.1h0m11.7-16.8h0m-12.2 13.6h0m-21.2-1.8h0m8.4-4.5h0m-2.1 11.8h0m10.1-9.7h0m11.2 1.4h0m-7.1-7h0m8.8 9.8h0m-4-19.3h0m-1 26.5h0m16-14.6h0m-24.1 4.9h0m-9.8-5.5h0m19.9 8.8h0m-5.3-6.3h0m-16.1-8h0m7.1-4h0m-2.3 17.4h0m11.3-9.1h0m-4.8-2.9h0m-8.6 9.1h0m-0.2 1.1h0m1.9 1h0m23.4 2h0m-27-16.6h0m3.8 9.1h0m12 0.4h0m-10.9-2.7h0m7.8 6.2h0m-3.1 1.5h0m14.2-9.6h0m-9.6 8.8h0m-7.8-0.2h0m11.2 0.2h0m-8.9-13.9h0m15 8.6h0m-5.4-4.5h0m-6.1 7.8h0m8.9 0.8h0m-2.3-9.4h0m-20.2 2.9h0m12.9 0.9h0m3.3 5.1h0m-5.5 6.5h0m-3.1-20.3h0m6.1 12.2h0m2.4-5.6h0m-0.2 5.9h0m-0.4 0.6h0m-3.9 7.1h0m6.1-12.8h0m-2.9 8.5h0m-13.2-0.5h0m9.2 2.1h0m13.6-10.9h0m-18.7 0.3h0m14.4 3.4h0m-2.9 0h0m1.3 1.9h0m-10.7 0.5h0m6.7 9.9h0m-5.4-13.3h0m22.6 0.2h0m-22.9-1.5h0m7.1-6.1h0m-1.9 9.3h0m-20.2 10.6h0m-4.2-16.7h0m32.6 5.6h0m-14 4.5h0m14.1-6.2h0m-17.5-4.2h0m16.3 11.1h0m-10.3 3.3h0m11 0h0m-16.8 3.5h0m17.4-12.2h0m-8.4 16.4h0m5.5-17.7h0m-15.3 5.8h0m10.6-1.2h0m1.2-8.2h0m14.3 12.6h0m-13.9-13.4h0m0.6-5.2h0m-8.2 17.7h0m1.1 1.6h0m2.7 8h0m0.6-17.7h0m-3.8 6.8h0m0.7 0.4h0m0.5-10.5h0m16.2 11.2h0m-11.9-10.7h0m-12 7.5h0m14.2-3h0m-5.6 10.1h0m15.5-1.8h0m-19.1-2.5h0m8.8-10.7h0m-10.9 7.7h0m22.2-0.2h0m-25.6 12.3h0m6.9-9.9h0m7.6-1.2h0m5.9 16.1h0m0.4-13.2h0m-9.2-13.5h0m-14.6 20.2h0m20.6-27.2h0m4 21h0m-30.8-4.9h0m31-2.9h0m-13.1 3.3h0m-8.6 1.1h0m-0.4-1h0m12.5-12.3h0m-5.4 2.9h0m4.8 0.6h0m10 8.6h0m-19.6 2.3h0m18.7 0.8h0m-0.5 7.8h0m-20.8-4.6h0m5.1-13.5h0m19.2-2.6h0m-10.8 8.5h0m-1.6-2.6h0m14.7-1.9h0m-12.1 17.2h0m-1.7-8.1h0m0-9.3h0m-6.1 5.7h0m-2.5-3.7h0m15.1-3.1h0m-14.7 0.4h0m3 18.9h0m12.1-11.6h0m-22.8-2.5h0m28.2 4.1h0m-19.3-6.9h0m13.7 12.2h0m-16.4-0.4h0m15.3 1.9h0m-14.2-23.2h0m16.3 21.4h0m-25.7-16.5h0m24.4 5.6h0m-7.8 5h0m10.2-3.5h0m-15.2 0.3h0m4.8-0.7h0m2.1-1.4h0m4.1 5.9h0m-17.2 7.5h0m3.5-8.4h0m3.9-10.3h0m11.1 16.2h0m1.5 2h0m-8.8-13.9h0m-6.7 8h0m4.6-3.7h0m-15.2 10h0m15.1-10.6h0m0.9-9.5h0m2 8.7h0m0-4.8h0m1.5 8.2h0m-2.6-6.5h0m-2.1 4.8h0m7.1-8.7h0m-15.1 14.6h0m14.9-9.1h0m-6-1.1h0m8.5-1.3h0m-2.8 9.9h0m-11.8 2.6h0m6.9 3h0m9.4-8.3h0m-7.4-9.3h0m2 10.4h0m-1.2-9.8h0m3.1 5.9h0m-13.8-11h0m3 17.4h0m7.6-0.5h0m-1.3-10.3h0m14.7 6.6h0m-17.2 3.9h0m9.8-4h0m2.8-6.6h0m-0.6 5h0m-12.4 10.5h0m10.7-9.8h0m-10.5-1.3h0m4.6-3.4h0m-4.3-1h0m10 13h0m-8.2-6.6h0m-1.2-3.6h0m7.7 6.3h0m-11-10.9h0m9.2 4.3h0m2.4 4.5h0m2 8.1h0m-16.1-14.4h0m9.7 4.6h0m4.9 2.8h0m-3.2-8.5h0m1.6 10.5h0m13.1-10.1h0m-10.2 4.8h0m4.3-3.4h0m-15 18.3h0m21.6-24.9h0m-25.2 14.6h0m0.4-3.9h0m17.8 8.8h0m-1.1 0.5h0m-2.8-21.8h0m-11.1 9h0m-0.6 5.6h0m-7.2-3.1h0m16.9-4h0m-8.9 12.4h0m1.7-4.2h0m-0.2-3.2h0m0.9 1.6h0m-3.5 0.3h0m-6.7-6.2h0m8.1 15.2h0m9.5-6.2h0m12.1 2.9h0m-6.1-6.5h0m-19.4 4h0m9.5-9.1h0m-10.3 0.6h0m11.5 4.5h0m1.5-6.5h0m-16.7 12.8h0m17.7 1h0m-15.8-14.5h0m8.6 6.4h0m-10.4-0.6h0m3.4 4h0m-13.7-1.3h0m19.3-8.8h0m-1.9 4.2h0m9.1 13.6h0m-5.2-7.1h0m-3.2-4.2h0m7.6-7.2h0m-8.8 22.2h0m8.7-16.7h0m-8.2 4.9h0m12.2 2h0m-2.9-4.8h0m-7.5 2.6h0m2.7-16.1h0m-5.4 14.6h0m-0.5-11.8h0m10.5 15.3h0m0.7-14.4h0m-13.6 10h0m7.8 10.6h0m-7.3-16.4h0m15 10.5h0m-2.6-8h0m-6.7 0.7h0m4-1.3h0m8.4 0.7h0m0.9 9.2h0m-20.1-3.9h0m2.8-7.1h0m2.4 5.6h0m-8.6-1.5h0m2.6-3.1h0m9 1.2h0m-5.5 5.4h0m7.8 1.2h0m-2-0.2h0m11.5 1.3h0m-7.1-4h0m2.7 2.8h0m-14.8 1.9h0m-2.8 7h0m25.1-10.8h0m-11.7-2.8h0m-8.8-3.9h0m-14-0.9h0m34.4 9.5h0m-21.3-12.9h0m9.9 8h0m0-6.3h0m0.7 13.7h0m3.8-5h0m-16.8 1.7h0m7.8-1.5h0m-15.3 1.5h0m16.6-4.9h0m-5.8 9.3h0m5.5-16.9h0m-4 7.8h0m21.1-3.1h0m-9 10.7h0m-4.6 8h0m6.5-15.6h0m-17.1 1.7h0m5.5 2.1h0m3.9 5.8h0m0.6-3.7h0m-6.8-0.7h0m2.8-0.3h0m11-8.5h0m-5.7 6.2h0m17 5.4h0m-22.7 3.5h0m-12.5 3.4h0m10.2-13.3h0m-16.3 2.8h0m7.3 1.7h0m4.5 4.1h0m17.1-18.1h0m-23.1 8.8h0m24.9 3.7h0m-10.2-1.7h0m-4.9-6h0m5.1 5h0m-0.3-2.7h0m11.1 8.8h0m-3.5-9.4h0m-10.8 3.1h0m-5.8-4h0m9 0h0m17.6 4.4h0m-19.3-7h0m1 7.7h0m6.6-0.4h0m2.7 6.4h0m-9.9-5.4h0m-14.8-2.6h0m14.2 4.4h0m0-6.9h0m16.7 6.7h0m-11.6-10.6h0m-11.1 8.1h0m22.5-1.2h0m-5 2.6h0m3.9 0.2h0m2.5-6h0m-7 8.7h0m1.9 7.8h0m-6.5-8.2h0m4.5-5.9h0m2 2.2h0m-3.1-7h0m-14.4 7.7h0m3.3-2.6h0m16.3 5.8h0m-9.3-12.6h0m5.3 16h0m-7.7-10.8h0m8-0.6h0m3.7 0.8h0m-10.1 0.4h0m10.1 3.3h0m-17.4-18.4h0m4.6 15.7h0m-7.5 4.7h0m7.4-1.1h0m3.8 1.6h0m-10.1-8h0m21.8 11.5h0m0.4-13.2h0m7.3 3.5h0m-36.4 1.5h0m11.8-7.8h0m4.3 0.4h0m5.4 8.7h0m-16.4-8h0m11.8 6.1h0m13.5 0.1h0m-15.1-0.9h0m3.9-8.2h0m2.7 8.1h0m3.7 10.3h0m-8.7-4.1h0m-16.7 2.1h0m12.3 0.6h0m6.8-11.3h0m-10.9 2.5h0m2.4 7.4h0m15.7-1.2h0m-6.6 1.3h0m-11-2.6h0m18.6-16.4h0m-14.3 17.7h0m6.6-0.9h0m-9.5-12.8h0m-1.4 5.5h0m8 14.6h0m-3.2-6.4h0m1.3-1.8h0m-6.5-3.2h0m-9.8-6h0m37.6 3.6h0m-41.3 3.9h0m23.4-1.8h0m-15-9.1h0m-11.5 3.5h0m17.9 6.4h0m1.2 2.3h0m1.2-2.6h0m0.7 7.2h0m-14.1-8.3h0m3.5-3.9h0m8.2-4h0m8 11.1h0m-14.3-1.9h0m-2.7-12.4h0m18.8 0.9h0m-13.2 4.8h0m-9.7 14.6h0m27.3 3.8h0m-18.2-9.7h0m7.2-8.9h0m-1.9 9.5h0m-0.8 7.1h0m4.6-11.5h0m5 2.3h0m5 6.1h0m-23.4-4.8h0m7-3.3h0m17.2-5.8h0m-0.6 10.5h0m-10.6 1.3h0m-1 1.5h0m11.8-3.7h0m-19-12.2h0m11.6 25.6h0m0.6-22.3h0m2.7 2.8h0m-12.1 8.2h0m1.8-6.6h0m-0.1-1.4h0m-1.5 2.5h0m3.4 3.2h0m6.6-5.7h0m11.2 4.7h0m-26-10.4h0m19.4 20.8h0m-11.4-10.4h0m-2.7-3.3h0m5 3.3h0m7.2 10.1h0m-15-21.6h0m9.8 13.6h0m14.1-6.8h0m-23.2 3.2h0m-4.8 10.4h0m2.9-5.6h0m7.8-9.5h0m10.7 7.7h0m-5-0.7h0m-1.2-3.1h0m-4.9 16.8h0m12.6-17.6h0m2.8-3.7h0m-29.1 7.5h0m6.9-8h0m-10.4 6.5h0m19.8-5.5h0m-6.5 0.3h0m3.2 7.2h0m3.7 17.6h0m-10.5-14.4h0m11.7-9.3h0m-4.7 10.2h0m0.6-6.6h0m0.9 6.3h0m9.9-9.2h0m-8.5 4.7h0m6.5 2.8h0m-20.9-7.2h0m7 0.6h0m15-1.8h0m-6.6 4.7h0m3.3-7.8h0m-1.8 14.4h0m0.9 0.5h0m1.9-10.1h0m8.8-3h0m-23.8 5.7h0m-4.2-7.2h0m8.3 6.4h0m1.5 0.7h0m-17.1-3.8h0m22.4 1.1h0m-14.6 9.5h0m4.6-8.5h0m4.1 13.2h0m1.1-8.6h0m-2-8h0m-0.5 6.6h0m1 13.6h0m-13.2-14.4h0m33.5 3.3h0m-15.3 4.7h0m10.8-12.6h0m-12.4 5.4h0m2.5-5.7h0m-4.2 1.4h0m16.8 2h0m-27.5-5h0m27.8 4.3h0m-9.1 5.7h0m4.6-1.9h0m-25.4-9.7h0m-1.9 7h0m13.8 8.1h0m-2.1-5.4h0m7.9-4h0m-12.5 0.5h0m11.7-0.8h0m-6.4-4.7h0m-17.7 8.4h0m13.7-5.9h0m4.5 2.6h0m12.6-2.3h0m15.2 7.4h0m-48.1-9.9h0m26.7 10h0m11.9-5.3h0m-27-3.9h0m14.1-4h0m-13.6 15h0m11.2-9.7h0m-7.1-1.5h0m-1.3 6.5h0m-10.5 0.2h0m18.6 1.2h0m9.3-10.5h0m-28.5 11.5h0m8.2-0.6h0m12 2.7h0m-18.6-13h0m-1.3 12.1h0m17.1 0.1h0m23.7-3.2h0m-28.7 2.6h0m3.5-9.3h0m1.5 5.9h0m-1.1-3.8h0m-11.2 6.5h0m12-0.2h0m15.2-6.7h0m-11.5-0.3h0m-5.7 4.4h0m11.5-0.4h0m-7.3 8.2h0m12.7 2.1h0m-21.5-2.9h0m23.6-11.2h0m-26.6-1h0m13.7 10.6h0m-16.7-3.9h0m29.2-4.9h0m-9.9 6.5h0m-8.4-7.7h0m6.1 0.1h0m-8.2 21.3h0m15-23.4h0m-9.1 8.5h0m-1.3-9.4h0m-4.6 9.9h0m30.6-2h0m-20.6-2.2h0m-4.3 0.3h0m-3-7.1h0m-4.9 2.7h0m20.1 14.4h0m-10.6-13.1h0m0 6.1h0m8.7-4.5h0m-3.7 8.6h0m-6.2-7.5h0m6-0.2h0m8.8 12.8h0m-1.3-24.2h0m-11.7 12h0m7.1 6.1h0m-25.3 0.3h0m5.9 8h0m15.9-19.6h0m-16.4 7.7h0m16.1-2.2h0m-10.2-1.4h0m3.9 8.9h0m4.2 1h0m-13.2-3.4h0m9.5-7.6h0m14.4 8h0m-25.1-4h0m18.8 3h0m-15.1-0.1h0m12.8 3.9h0m-5.3-9.1h0m1.1-5h0m23.6 9.4h0m-11.5 3.4h0m-10.1 1.5h0m-12.4-7h0m18.7-6.8h0m-6.7-2.5h0m-13 10.2h0m3 1.3h0m16.3-4.9h0m-19.6-1.4h0m13.8 9h0m-2.5-12.2h0m-1.7 13.4h0m2.5 6h0m-3.1-8.3h0m12.4-10.1h0m-22.3 12.8h0m14.1-9.5h0m3.7 0.9h0m-10 3.7h0m-12.2-3.4h0m28.6 0.2h0m-1.5-16.3h0m-24.3 17.5h0m-6.1 7.1h0m34.4-9.3h0m-22.2-2.2h0m11.4-5.4h0m0.7 10.2h0m-6.6-2.2h0m-16.6 0.9h0m10.6 0.9h0m8.5 0.4h0m2.2-3.3h0m-13.5 2.3h0m20.3 2.1h0m-13-9.4h0m-4.1 16.7h0m-3-14.5h0m6.6 7.8h0m-11.3-1.1h0m11.3-5.1h0m-6.8 4.3h0m20.9 6.7h0m-16.4 1.6h0m-3.5-7.2h0m0.5 0.9h0m15.8-10.3h0m-7.8 10.7h0m7.1-12.3h0m-14 16.3h0m12.9-8.6h0m-23.1-0.1h0m42.2 8.9h0m-36.2-3.5h0m7.2-9.5h0m2.8 7.7h0m11.3 5.6h0m-14.7-4.3h0m-18.5-0.8h0m23.3 5.4h0m4-18.9h0m-22.3 15.8h0m7.9-4.4h0m14.8-6.8h0m-12.3 4.2h0m-3.9-7.8h0m22.5 13.7h0m-15.8-1.4h0m-10.2-10.2h0m20.2 14.2h0m-13.2-9.9h0m-6.4 4.6h0m24.5-5.8h0m-13.5 9.8h0m14.2-3.6h0m-16.6-1.6h0m-8.1 1h0m6.2-13.9h0m6.4 14.2h0m-5.5 8.3h0m24.4-9.7h0m-13.5 11h0m-10.7-12.6h0m3.4-1.8h0m20.4-1.5h0m-12.6-0.9h0m3.3 3h0m-17-1.5h0m10.5 2.3h0m11.8-4.2h0m0 6.2h0m-24 1.4h0m11.8 1.3h0m3.3-5.3h0m-5.1 3.2h0m-19.4-3.2h0m15.7 2.2h0m4.5 1.2h0m1.7 4.4h0m2.4 8.3h0m-4.3-18h0m-8.3 9h0m6.7-7.4h0m-0.8 5.4h0m2.2-2.3h0m-3 7.6h0m8.7-1.6h0m-7.7 6.1h0m-11.1-10.5h0m28.5-8.4h0m-9.4 8.7h0m3.9-0.6h0m-4.8-0.7h0m12.2-4.3h0m-3 9h0m-2.9-14.1h0m-9.4 15.7h0m-4 4.5h0m14-26.3h0m-25.1 14h0m8.1 12h0m13.9-9.5h0m-8.4-8.7h0m-22.3-4.2h0m19.6 11.5h0m7 3.6h0m-1.6-13.7h0m-1.9 16.5h0m22.9-20.9h0m-21.5 19.7h0m-6.5-7.7h0m-1.7 13h0m2.8-12.2h0m16.9 7.5h0m11.1-12.2h0m-20.8 3.8h0m-2.6 1.3h0m4.9-1.3h0m2.4 8.8h0m-6.6-19.6h0m-7.5 0.2h0m-0.6 14.6h0m5 4h0m-5.5-6.7h0m7-7h0m12.5 9.2h0m0.3 2.6h0m-11.3-1h0m5.1-2.9h0m4.3 9.5h0m-20.5-1.3h0m4.3-8.1h0m1.3-0.6h0m-12.5-2.4h0m27.6 10.9h0m-17.4-10.8h0m3.3 6.8h0m-6.6 8h0m25.9-15.3h0m-30.2 2h0m15.2-11.9h0m-4.3 26.1h0m14.8-15.9h0m-23.5 1.4h0m10.4 2.2h0m-13.8-0.9h0m6.3-7.1h0m6.5 17.8h0m2.6-8.7h0m12-2.6h0m-16.1 6.2h0m21.5-2.4h0m-25.4-7.1h0m27.1 6.9h0m-20.9-51.6h0m25.8 0.1h0m-19.7 6.8h0m-15.1 6.8h0m13.2-7.6h0m-4.5 0.1h0m7.5 2.8h0m28.4-6.8h0m-44.9-5.7h0m17.8 16.5h0m-3.8-11h0m17.1 7.9h0m-36.4 2h0m32.1-5.2h0m-12-1.8h0m-17.8 2.9h0m20.9-4.1h0m-9.4 5.6h0m8.5 0.6h0m6.7-6.1h0m15.6 7.6h0m-18.3-1.7h0m-14.3-8.5h0m18.4 11.2h0m-14.2-2.1h0m-3 3.5h0m6.9-8.8h0m9-6.9h0m1.7 10.2h0m-23.8-11.4h0m22.2 12.8h0m-8.6-5.3h0m13.4-0.6h0m-26.6 3h0m15.3-3.6h0m8.8-4.3h0m-6.3 5.1h0m7.8 5h0m-22.3 1.1h0m22.1-4.9h0m1.9-3.9h0m-13.6 6.3h0m1.4 0.8h0m2.1 2.9h0m-8.5 1.5h0m5.6-12.5h0m-7 9.6h0m7.4 0h0m14.9 0.2h0m-9.9-6.2h0m-7.1 3.7h0m6.9 6.3h0m-12.7-6.1h0m5.4 6.4h0m-11.6-8.8h0m8.4 1.8h0m16.4-2.8h0m8.8 9.6h0m-19.8 2.8h0m3.6-10.8h0m2.6 3h0m-0.9-2.9h0m-13.2 8.3h0m17.4-12.8h0m-1.5 8.5h0m-12.2 1.3h0m4.2-4.2h0m-9.2-3.3h0m20 1.9h0m-12.3 3.2h0m12.5 0.2h0m-17.5-5h0m19.1 4.6h0m-13.5-6.7h0m19 1.1h0m-20.6 1h0m9 0.1h0m10-1.7h0m-10.3 8.3h0m-18.7-2.7h0m3.9 0.7h0m21.3-7.2h0m-30.6 4.1h0m48.4-2.2h0m-39.7 7.9h0m26.5-2.1h0m-36.2 2.6h0m44-2.8h0m-7.7-0.1h0m-17.4-8.5h0m21 4.1h0m-27.5-3.7h0m11.2 4.4h0m9.3 3h0m-28.7-8.9h0m25.1 5.8h0m-6.1 4.9h0m4.7-6.3h0m-1.5 2.9h0m-11.5-0.3h0m-16 0.1h0m20.5 7.3h0m-2.4-5.7h0m9 3.1h0m-37.4-5.8h0m30.2 1h0m-4.3 0.1h0m8.4 3.9h0m-0.3 3.2h0m-2.9-4.2h0m-2.6-1.5h0m1.9 5.1h0m-2.8-0.1h0m-10-3.3h0m18.1 1.4h0m-5.5-14.4h0m15.5 8.5h0m-2 1.2h0m-23.3-1.4h0m11.7 2.5h0m-7.6-1.7h0m15.3-4.1h0m-5.8 12.8h0m3.8-11.7h0m13.3 6h0m-30.3 1.6h0m33.5-0.8h0m-12.5-3.4h0m-12.5 8.6h0m-3.8-10.7h0m-14.7 3.7h0m23.3-2.2h0m17 6.4h0m-9.4-13.1h0m-5.8 9.4h0m-0.8-1.9h0m-2.8-3h0m1.5 5.7h0m15 1.7h0m-20-10h0m22.5 7.2h0m-33.1 0.7h0m27.1 3.2h0m-23-17.5h0m22.2 16.7h0m-2.7-20.7h0m-6.2 12.6h0m-7.7 11.2h0m-5.5-0.2h0m-10.8-4.3h0m33.6-4.7h0m-27.8 2.7h0m19.1 0.4h0m-16.9-4.2h0m16.5 4.4h0m-18 3.2h0m25.8-8.2h0m-21.1 4.4h0m15-1.4h0m-14.6-2.7h0m3.4 8.2h0m5.7-10.7h0m14 9.7h0m-14.7-7.8h0m11.4-5.9h0m-7.2 10.8h0m23.4 3h0m-19.6-3.3h0m-17 0.8h0m16.6 0.5h0m-9.5-0.3h0m1.3-9.1h0m3.7 1.8h0m3.3-0.3h0m-7.8 4.2h0m8.4 6.3h0m-16.3-3.5h0m12 1.7h0m1.9-4.4h0m-13.2 10.4h0m2.5-11.4h0m17 6.2h0m-28.1-5h0m10.6-6.4h0m8.4 1h0m0.9 9h0m7.5-5.3h0m-3.2 4.4h0m2 0h0m-1.2-7.4h0m-34.4-1.5h0m37 0.8h0m-7.1 3.6h0m4.8 9.6h0m-9.8-10h0m21.4-1.5h0m-12.2 3h0m9.5-3.9h0m-18.1 13.4h0m18.5-13.8h0m-12.7 8.4h0m-6.8-3.4h0m2.8-4.9h0m10.9 11.8h0m-18.9-5.8h0m12.4 8.6h0m-21.3-9.4h0m8.1 5h0m15.5-5h0m1.5 5.5h0m-14.9 1.2h0m2.2-11.9h0m0 2.3h0m25.8 8.9h0m-1-3.2h0m-5 1.8h0m-2.7-2h0m-9.7-3.1h0m0.6-3.6h0m-14.5 1h0m39.4 7.2h0m-16-5.6h0m-7.2-6.9h0m-5.7 7.9h0m-12.4-0.6h0m-11.8-4.9h0m23.5 8.3h0m-11.1 2h0m21.3-7h0m-6.9 5.6h0m-16.9-1h0m1 2.5h0m13.9 1.3h0m0.6-7.3h0m8.8 0.6h0m-2.6 3.6h0m-17.3 4h0m-3-1.4h0m3.4-2.9h0m14.6 0.6h0m-16.7-3.8h0m15.2 3.5h0m-12 0.4h0m10.2-3.7h0m-17.2 5.4h0m17.5-1.5h0m-8.9 2.8h0m15.9-2.9h0m-6.1-13.5h0m9.5 13.8h0m-30.4 2.9h0m23.2-9.2h0m-1.9 6.3h0m-12.2-1.2h0m19-3.4h0m-14.3 5.1h0m-7.1-7h0m12.6-1.9h0m8.9 6.7h0m-12.3-8.3h0m-0.9 5.3h0m3.8 0.7h0m9.7 2.2h0m-13.4-10.8h0m0.9 5.7h0m13.8 2h0m-10.6-6.2h0m-7.6 8.9h0m-4.7 1.6h0m-7.5-2.2h0m41.6-0.2h0m-10.6-0.8h0m-21.5 0.7h0m6-3.1h0m4.4 1.3h0m8.1-2.7h0m-12.1 12.5h0m9.4-0.6h0m-3.6-3.4h0m8.2-5.7h0m-12.5-4h0m-17-3.3h0m17.8 8.2h0m5.2 3.8h0m-12.2-4.8h0m10.3 9.6h0m3.6-0.7h0m-26.7-3.1h0m26.6-2.2h0m7-11.1h0m9.8 2.9h0m0.6 7.4h0m-37.9-3.5h0m5.4 5.7h0m15.4-3.4h0m0.1-1.1h0m-14.6 3.6h0m9.8 3.7h0m-15.1-7.1h0m25.5 6.9h0m-19.6-16.4h0m4.5 17.2h0m5.3-3.2h0m0.9-3.4h0m-6.6 11.2h0m22.1-12.9h0m-10.1 5.8h0m-3.7-3.6h0m2 0.8h0m-1.2 1.4h0m-18.3-4.9h0m4.3 3.4h0m26.3-6h0m-25.5 2.7h0m5.6-5h0m8.4 16.5h0m-7.8-14.6h0m3 4.2h0m14.1 0.7h0m-13.9 11.3h0m-13.1-12.4h0m11.1 3h0m19.1 2.4h0m3.7-0.1h0m-7.1-5.5h0m-1.7 2.4h0m-5-4.1h0m-5 5h0m-16.8 1h0m17.2-6.4h0m-3.1 14.6h0m3.4-7.9h0m-3.8 2h0m2.6-5.3h0m2.6-0.6h0m17.9 3.2h0m-29.4-6.8h0m7.6-5.2h0m15.7-0.2h0m-29.8 12.8h0m17.5-4h0m-3.7 4.7h0m3.6-1.9h0m0.2 0.2h0m3.4-0.9h0m-7 3.8h0m-14.3-0.7h0m17.2-2.2h0m-2.3 6.6h0m14.3-12.6h0m-8.1 5.7h0m-1-1.2h0m-20.6 6.3h0m-18.4-9h0m48 3.4h0m-12.6 4.1h0m-5.9-6.8h0m-32.8-1.2h0m37.2 4.7h0m-9.3-4.2h0m-17.1-0.5h0m30.6 0.5h0m-9.2-1.1h0m9 0.5h0m4.5 11.6h0m4.3-10.6h0m5.1 8.4h0m-27.9-9.8h0m11.1 3.8h0m-6.7 2.4h0m3.8-8.8h0m-2.8 10.5h0m2.2-16.5h0m-7.3 19.3h0m18.1-8.5h0m-20.4 4.2h0m-8.6-0.5h0m14.7-5.2h0m10.2 7.8h0m-4.3-4.4h0m20.1 68.2h0m0 6.7h0m-0.7-6.7h0m-3.9-2.3h0m5.9 2.6h0m-6.6-1.1h0m2.6 0.7h0m3.6-4h0m-6.1 6.8h0m-0.3-2.2h0m2.5 1.3h0m1.9-2.5h0m-3.6 0.3h0m0.1 5.3h0m1.9-5.7h0m2.1 1.4h0m0.3 0.4h0m-0.3-2h0m-3.8 0.7h0m4.8 3.9h0m-5.8-1.6h0m3.8-3.6h0m-2.4 3.2h0m2.2-0.3h0m-2.2-7.3h0m2.3 6h0m-2.5 1h0m3 0h0m1.2-0.4h0m-1.5 2.3h0m-1.6-3.2h0m0.5 3.7h0m-1 0.2h0m1.3-3.1h0m1.7 3.5h0m-3.8-1.7h0m-1.2 0.6h0m8.3-2.5h0m-4.5 0.2h0m-1.9-1.9h0m0.6 0.8h0m1.1 2.4h0m-0.6-1.4h0m-2-1.5h0m1.8 0.7h0m0-1.6h0m2.3 2.2h0m-4.2 1h0m4.5-3.2h0m-3 0h0m-0.8 0.3h0m1.3 0.8h0m-4.3-2h0m6.4 0.7h0m1.2 1.9h0m-4.6 2h0m-0.8-0.4h0m1-0.7h0m2.8 1.1h0m-1.7-1.3h0m-27.9-56.6h0m27.6-22.9h0m-30.5-0.6h0m6.8 73.3h0m-21.5-63.8h0m8.5 6.3h0m-2.7 41.6h0m15.1-36.7h0m-15.4-4.6h0m27.5 9.7h0m-33.5-32.7h0m32.2 23.8h0m-20.4-3.2h0m3.6 24.4h0m-6.2 28.7h0m-12.5-42.9h0m55.6-13.4h0m-29.4 44.8h0m-2.8-47.9h0m11.3 56.3h0m7.3-54.4h0m-37.6-24.8h0m51.4 33.2h0m-59.7 35.8h0m39.4-39.8h0m-36.6 22.4h0m19.2 10.3h0m21.4 2.4h0m-35.8-24.2h0m5.6 44.5h0m-6.5-30.7h0m33.1 22.6h0m-14.3-39.9h0m13.8-22.3h0m-21.6 59.4h0m17.8 11.5h0m-1.7-23.9h0m-24.1 9.3h0m44.7-22.3h0m-20-12.3h0m11.8 15.5h0m-26.8 12.5h0m6.2 8.7h0m3.1-48.2h0m-6.1 10.7h0m1.5 31h0m7.5-38.1h0m-0.8 12.2h0m-7.5 36.4h0m1.4-22.3h0m1.6-2.5h0m21.2 4.8h0m-38.2-20.7h0m18.1 60.6h0m1.3-65.7h0m12.9-13.8h0m-4.9 7.8h0m-7.3 44.5h0m-8.4-45.3h0m16.5 47.4h0m-14.9-28.1h0m-3.8 0.9h0m8.4-21.9h0m16.1 9h0m-16.6 13.4h0m-9.9-2.3h0m-2.3-3.7h0m10.2 12.6h0m11-11.2h0m-5.2 11.9h0m23.1 43.7h0m4.2-79.5h0m6.4 31.3h0m-18.9-17.4h0m-20.1-5.1h0m-7.6 59.3h0m5.7-26h0m-11.3-48.4h0m51.6 31.8h0m-12.6 54h0m-7.1-68h0m-31.8 44.9h0m-1.7-7.8h0m48.7-25.2h0m-45.9 0h0m5.2 39.5h0m19.7-27.8h0m-26.7 9.9h0m2.4-19.6h0m-12.4-9.6h0m33.5 15.5h0m22.7 22.8h0m-22.4 14.4h0m11.4-37.7h0m-12.4 29.2h0m-24.9 8.2h0m20.9-28.5h0m12.3 9.6h0m-9.7-28.1h0m14.1 47.5h0m-18.1-16.8h0m-33.8-39.4h0m40.8 3.8h0m-7.6 10.6h0m11.6-5h0m-25.9-1.2h0m44.4-10.2h0m-9.9 17.9h0m-4.8 29.4h0m-31.3-37.1h0m-1.9 40.8h0m26.6-25.5h0m8.1-7.5h0m-3.2-25.1h0m2.4 37.2h0m-22.6-37h0m10.8 60h0m-30-13.1h0m8.5-47.4h0m8.2 3.3h0m-0.5 2h0m27.5 41.9h0m-12 30.5h0m1-41.3h0m-26-21.3h0m-13.9-15.2h0m40.3 7.5h0m-22.6-20.4h0m40.4 35.8h0m-28.1-20.9h0m-25.1-13.1h0m26.3 60.1h0m-3.8-33.6h0m9.9 30.3h0m-1-44.5h0m-14 55.1h0m8.3-10.5h0m19.3-67.7h0m2.7 78h0m-33.6-9h0m17.5-41.9h0m10.8 32.7h0m-10.7 18.8h0m3-20.5h0m-6.6-6.6h0m-12.9-4.8h0m-5.2-34h0m24.2 86.8h0m25-58.7h0m-18.6 55.9h0m-22.1-40.5h0m19.8-19.4h0m10.7-27h0m-47.8 2.6h0m26.4 74h0m10.8-25.7h0m-0.6-31.3h0m-17.3 12.2h0m7.4-0.2h0m-5.3-12h0m34.5 57.2h0m-16.9-48.8h0m-4.1 22.9h0m-16.7-22.4h0m30.3 36.7h0m-6.2-22h0m-54.3-30.7h0m34.6 40.9h0m25.8 8h0m-2-70.5h0m-37 18.7h0m-13.7 26.3h0m24.9 32.4h0m10.4-9.3h0m-33.7-16h0m16 18.8h0m15.3 11.2h0m0.3-61.4h0m-18.2 41.5h0m21.4-20.6h0m27 3.5h0m-52.1 18.4h0m11-19.4h0m3.7 12.5h0m17.9 17.1h0m-12.5-10.1h0m15.1-8.2h0m-12.8 21.4h0m5.3-29.6h0m-6.2-7.6h0m-16.6-21.9h0m26.5 13.5h0m-22.1 24.6h0m8.7 1.9h0m8.5-0.3h0m-20.5 5.1h0m19.7 26.8h0m-15.9-15.9h0m-11.3-6.9h0m46.8-32.4h0m-50.8 12.1h0m24.7 43.6h0m14.6-43.8h0m9.7-16h0m-3.7 4.2h0m-43.1 24.6h0m48.1-44.3h0m-15.3 31.3h0m-35.3-15.4h0m16.3 53.7h0m-5.8-38.1h0m19.9 3.1h0m-9.8-3.5h0m-19.5 3.1h0m55 20.8h0m-26.3-8.4h0m9.9 18.7h0m-5.8-9h0m21.7 12.6h0m-32.6-61.6h0m2.4 9.1h0m12.4 24.1h0m17.8-46.8h0m-59.1 37.3h0m44.7 8.1h0m-23.2-55.3h0m40.8 37.9h0m-32.8 29.1h0m-12.7-9.8h0m-7.1 19.6h0m35-52.7h0m-15.8 22.4h0m-35.4-22.6h0m30.3 3.5h0m-23.2 6h0m20.3 35.7h0m12.2 25.5h0m23.2-34.2h0m-0.7 2.9h0m-47.8-23.6h0m17.5 17.1h0m-7.8 33h0m32.8-42.9h0m-15.6-3.6h0m10.9 38.6h0m-21-43.4h0m6 34.8h0m-13.7-49.5h0m25.2 9.9h0m-8.1 32.7h0m11.3-33.9h0m-13.2 23h0m-3.5 19.5h0m24.1 7.8h0m-11.1-43.7h0m7.4-18.2h0m14 11.5h0m-12.3 15.9h0m-7.8-21.1h0m-33.9 49.4h0m45.3-19.9h0m-34.3-29.1h0m-2 13.8h0m8.9 35.9h0m-12.4-28.6h0m31.2 22.4h0m-16.6-10.9h0m8.4-54.7h0m-7.2 36.6h0m-5.8-41.5h0m-2.5 40.2h0m-14.7 35.3h0m23.7 5.1h0m-14.4-44.8h0m13.9 39.8h0m-13-36.8h0m7.1 34.3h0m22.2-8.7h0m-8.8 11h0m2.3 8.2h0m-5.2-66.2h0m18.3 69.5h0m-23-17.2h0m24.5 18.8h0m-32.2-0.2h0m-27.4-45.1h0m29.9-25.4h0m7.1 41.8h0m-8.7 24.9h0m2.3-31.9h0m-34.9-31.5h0m53.4 39.5h0m-19.4 26h0m22.3-37.3h0m-38 23.1h0m30.5-17.1h0m-0.3-48.8h0m11.2 0.1h0m-31.6 3.4h0m24.4 46.3h0m-21.8-10.8h0m-20.4-8.8h0m51.5 26.4h0m-26.6 8.8h0m21.9-28.6h0m-4.9 47.3h0m-18.4-5h0m17.9-32.1h0m-40.4-25.8h0m8 54.5h0m-8-57.9h0m-9.6 18.9h0m41.1 18.3h0m14 22.2h0m5.2-27.8h0m-15.7-2.3h0m-6.9 28.2h0m-2.2-1.2h0m-3.4-45.6h0m-15.9 13.6h0m3.5 10.5h0m-10.9-21h0m21.9 27.8h0m6.4-16.7h0m-4.3-10.8h0m-15.1 28.1h0m2.6-28.4h0m41.5 15.5h0m-30.8-17h0m-8.8 32.8h0m-21.5-23.7h0m72.2 18.4h0m-46.6 14.6h0m-17.4-34.1h0m46.8-18.9h0m-18.8-5.2h0m-8.2 17.6h0m-2.7 26.4h0m1.6-16.9h0m11.7-15.8h0m0.1-16h0m11.8 46.1h0m5.3 13.1h0m-8.1-28.7h0m-15.4-4.3h0m-9.9 9h0m-24.4-30.7h0m53.2 17.3h0m-30.6 25.3h0m0.2 6.5h0m-4.7-47.6h0m15.1 21.8h0m23.6-32.2h0m-42.9 16.2h0m16.8 25.2h0m19.6-10h0m-19.3 32.1h0m13.1-52h0m-9.5 22.6h0m23.6 39.8h0m-29.7-37.5h0m21.4 12.4h0m19.3-17.8h0m-18.7-46.9h0m-8 45.2h0m-5.5-16.1h0m1.4-12.9h0m-14.4-9.6h0m7.4 64.7h0m14.5-2h0m2.7-22.1h0m-13.5-1.7h0m-1.1-7.4h0m29.8-0.1h0m-9 15.3h0m-37.2-24h0m-5.5 9.1h0m13.4 54.5h0m-2.2-51.7h0m8.7-14.3h0m0.3 5.7h0m12.3-7.1h0m-30.8 20h0m23.3 17.5h0m-4.1-49.1h0m-2 51.9h0m9.2 8.6h0m3.4-31h0m-3.4 52.4h0m12.2 7.4h0m-23.6-37.7h0m12.3-26.4h0m1.1 19h0m3.7-28.3h0m16.7 15.5h0m-21.1 28.8h0m3.6-27.3h0m-13.7-15.1h0m-23.7 17.7h0m26.9 7.3h0m-17.9-31.1h0m7.1 29.6h0m18.6-18.7h0m-9 4.5h0m-14.6-19.8h0m24.4 42.1h0m-19.3 2.3h0m-4.5 5.3h0m2.4 4.7h0m12-22.9h0m14.5-18.1h0m-21.1-25.6h0m-3.7 84.6h0m24-55.4h0m-5.3 38.4h0m6.5-30.1h0m-11.4 14.3h0m-4.9 3.1h0m8.2-38.9h0m-11.3 22.2h0m3.4 8.4h0m-2.9-2.1h0m25.4 1.9h0m-17.5-4.7h0m-5.8-3.7h0m14 12.2h0m-26.6-31.5h0m10.8 54.5h0m34.3-3.8h0m-23.6-69.8h0m-10.6 17.4h0m41.3 33.1h0m-23.9-19.1h0m7.6 21.7h0m-21.9 29h0m7 4.6h0m14-77.5h0m1.8 18.8h0m-0.1 16.2h0m-29.2-0.4h0m-7.9-16.1h0m-1.6 15.6h0m14.3 3h0m-11-13.1h0m19.1 24.6h0m2.5-57.9h0m-22.8 64.3h0m32.6 3.8h0m-25.5-46.2h0m26.8-2.5h0m-31.9 29.3h0m6.4 16.5h0m13.1 25.8h0m25-37.1h0m-37.6 6.7h0m28.8 1.1h0m-16.9-35.2h0m5 51.9h0m1-8.3h0m12.4-41.1h0m-58.5-2h0m52.3-15.8h0m-2.5 45.8h0m1.6 1.5h0m-38.5 1.2h0m42.2-41.3h0m-21.1 41.1h0m5-43.9h0m4.3 1.4h0m-16.5 29.9h0m13.5-49.6h0m-6.9 19.8h0m13.9-1.5h0m4.7 42.6h0m-18.7-21h0m-1-20.9h0m7.7 58.9h0m1.7-50.7h0m-31.2 13.9h0m9.4-17.3h0m7.7 52.4h0m18.4-5.2h0m11.9 4h0m0.2-18.5h0m-26.2 5.3h0m-5.8-29.2h0m47.3 18.1h0m-33-2.4h0m3.6-18.7h0m-16.7 12.1h0m13.5 1.7h0m-18.1 25.3h0m28.6 6.5h0m-34.3-39.6h0m19.9 5.5h0m16.8 48.7h0m-0.1-4.6h0m-44.2-25.2h0m40.9 7.1h0m19.8-31h0m-38.3 42.1h0m3.1-28.2h0m5.1-7.3h0m8.4 11h0m25.8 18.7h0m-56.4-39.2h0m13.1 54.6h0m13.9-84.6h0m-18.5 29.2h0m3.5 29.3h0m1.4-4.8h0m-3.9 4.3h0m15.3-20.3h0m-21.1 3h0m14.7 33.4h0m-10.1-45.3h0m17.5 20.4h0m-22.4 12.5h0m3.4-2.3h0m24.4-21.4h0m-20.6 54h0m6.9-59.9h0m-19.7 33.5h0m28.6-18h0m-9.3 39.4h0m-11.5 0.5h0m-24.3-66.8h0m49.3-8.6h0m3.4 12.8h0m-18.1 1.9h0m4.2 42.9h0m1.1-32.9h0m12.1-16.9h0m-6.7-18.3h0m-2.9 11.9h0m-5.2 30.1h0m-7.5-54.2h0m26.1 16.7h0m-11.4 27.7h0m19.8 49.5h0m-27.1-37.8h0m-5.2-36.7h0m15.7 31.1h0m-30 23.4h0m26.4-14.8h0m-27.5-15.8h0m19.9 10.4h0m-10.1 35.7h0m19-13.2h0m-30.7-33.9h0m15.1 14.7h0m-3 2.6h0m-2.8 15.6h0m9.1-30.5h0m-11.5-2.8h0m7.9 46.7h0m0.6-67.3h0m-15.1 31.9h0m-8.7-22.1h0m43.9 35.7h0m22.8 36.1h0m-58.8-24.3h0m-0.6 5.9h0m38.7-53.4h0m-19.5-25.7h0m16.4 38.7h0m-19 36.7h0m19.5-41.2h0m2.1-19.7h0m14.2 43.4h0m-41.3-15.9h0m31.6 21.9h0m-14.5-32.2h0m-17-15.5h0m-2.7 53.2h0m27.4-0.4h0m11.1-8.7h0m-23 2.9h0m19.1-47.5h0m-40.2 22.2h0m36.9 26.1h0m-32.1 10.1h0m0.9 8.8h0m25 2.3h0m13-59.3h0m-14.4 1.6h0m15.4 14.6h0m-0.7-2.1h0m-6.4 6.4h0m-25.7 32.9h0m17.8-41.1h0m-9.3 20h0m8.6-49.3h0m-4.7 51.8h0m4-37.5h0m3.2 49.1h0m-31.4-34.4h0m25 0.2h0m-13.2 49.9h0m-6.3-52.5h0m23.2-31.9h0m9.9 54.7h0m-9.9-23.3h0m-10 8.2h0m-10.4 19.7h0m12.3-39.9h0m-8.9 30.2h0m17.5-30.8h0m-13.4 7.7h0m-2.1-15.4h0m31 30.9h0m-47-23.8h0m39.6 9.4h0m-46.8-19.9h0m56.2 67.9h0m-15.8-31.2h0m16.6 30.3h0m-25.2-1.4h0m-0.1-35.5h0m17.4 46.5h0m3.4-22.2h0m-27-30.1h0m18.7 12.3h0m-32.3 29.7h0m16.9-66.7h0m-15.3 34.9h0m10.7 22.3h0m22.2-25.3h0m-29.7-12h0m41.6 37.7h0m0.1 3.2h0m-35.3 3.1h0m14.2-31.6h0m3.1 48.4h0m10.1-50.1h0m-27.3-19.6h0m17.2 12.3h0m-2.9 13.7h0m-19.2 2.4h0m15.6-53h0m-17.5 68.8h0m17.4 12.4h0m6.4-59.1h0m9.2 30.8h0m-1.2-14.9h0m-3.6-12.8h0m-7 46.4h0m7.7-19.3h0m-14.4-14.6h0m11.2 43.9h0m14-26.6h0m-17.2 48.1h0m17-18.6h0m-12.2-28.1h0m-15.6 5.6h0m28.9 11.5h0m-30.2-20.2h0m26.5-11.1h0m-24.1 47.1h0m-1.5-7.9h0m-26-13.6h0m14.5 8.5h0m35.3-21.6h0m16.1 8.6h0m-35.1 35.7h0m5.6-22.9h0m12.3-23.2h0m3.5 26.8h0m-28.7-19h0m13.4-9.2h0m17.6-0.9h0m-50.2 28.4h0m20.2-5.9h0m-11.3-8.6h0m6.4 8.9h0m11.7-24.1h0m5.1 3h0m-5.8-27.3h0m28.8 27.8h0m-38.8 18.4h0m-7.5-22.8h0m-18.7 5.5h0m38.2-50.8h0m-1.7 64.5h0m-11.1 11.7h0m36 12.3h0m7.4-9.8h0m-16-21.6h0m-12.9-21.2h0m-9.8 25.9h0m13.2 20.4h0m-2.7-49.7h0m5.3 28.4h0m-7.5 14.7h0m6.6-57.1h0m6.3 26h0m-10.6 38.7h0m5.7-16.3h0m2.5-0.9h0m7.5-16.9h0m-26.2-0.4h0m-28.7-4.8h0m17 31.7h0m31.9-48.7h0m-18.7 54.4h0m13-31.6h0m7.9 1.1h0m-44.8-3.5h0m40.7-25.2h0m-27.2-13.6h0m25.9 32.5h0m-15.8 5.3h0m-1.5-18.4h0m0.5 17.8h0m5.6 20.7h0m4.7-0.3h0m-13.7-24.9h0m-7.1 18.4h0m-0.9 7.8h0m28.9-19.2h0m-15.3-28.1h0m1.6-10.4h0m-0.6 82.4h0m-8.5-50.9h0m15.2-42.3h0m-10 25.8h0m21.6 40.7h0m-32.3-54.6h0m16.8 35.8h0m-15.9 39.9h0m-11.7-34.2h0m39.8 46.1h0m9.8-42.8h0m-50.2-31.9h0m28.9 33.5h0m18.9-56.7h0m-12.1 81.5h0m-7.9 1.5h0m-2.6 6.7h0m2.1-9.1h0m-3.9-13.6h0m20.8-19h0m-13.9 4h0m25.2 23.2h0m-30.6-22.4h0m-15.8-26.5h0m8.1 2.3h0m-2-3h0m-2.9 62.1h0m38-8.8h0m-17.7-25h0m-26.8-19h0m27.7-20.5h0m-6.2 49.7h0m3.3 11.6h0m-6.3-1.1h0m9.6 7.7h0m-17.4-35.5h0m30.7 18.9h0m-19-43.6h0m5.8 36.2h0m-5.4-1.3h0m-4.7-14.6h0m-21.8-1.8h0m20 48.5h0m19.8-85.6h0m14.6 88.7h0m-31.5-52.1h0m-23.8-15.9h0m44.5 21.3h0m-24.1 18.1h0m-2.9-52.5h0m25.3 87.8h0m-30.7-83.1h0m16.6 45.3h0m-21.4 8.6h0m48.2-7h0m-13.6-7.3h0m-12.7-13.8h0m-0.6 1.3h0m-13.7 0.9h0m21.5-23.1h0m9.7 14h0m-13.3 22.5h0m-1.8-11.3h0m9.7 20.8h0m-6.4-71.3h0m10.3 43.6h0m-8.6 44.1h0m-11.7-37.7h0m-9.4-24.3h0m16.6 22h0m-1.7 11.8h0m-2.9-36.7h0m3.2-14.6h0m-34 62.8h0m44-6.6h0m2-31.9h0m-21.4 10.6h0m-21.2 31h0m23.1 2.4h0m23-36.4h0m-51-0.3h0m43-10.3h0m-25.1 3.7h0m14.6-24.4h0m13.9 33.1h0m-37.4 2.7h0m28.1 37.8h0m-5-13.1h0m24.6 16.7h0m-49.9-18.4h0m12.2-57.7h0m38.7-2.8h0m-46.4 29.3h0m6.5 13.3h0m11.5-13.2h0m15.8 26.3h0m5.3-1h0m-27.1-8.5h0m0.4-31.4h0m24.9 13.2h0m-44.8-10.4h0m14.3 27.1h0m17.7 28.9h0m4.2-9.8h0m5.7-11.3h0m-44.9-38.4h0m31.4 19.3h0m-1.7 15.5h0m1.1-19h0m2.1-4h0m11.2 41.1h0m-23.7 13.6h0m-11.8-56.2h0m12 56h0m24.2-32.6h0m-16.9-48.5h0m23 75.9h0m-32.2 15h0m-14.9-45.8h0m-5.9 6.9h0m69.1 2.5h0m-58.7 12.5h0m13.3-51.9h0m43.6 10.1h0m-17.6 35.7h0m-19.5-12.5h0m31.8 41.1h0m-29.5-26.1h0m17.7-30.3h0m7.4 3.3h0m-10.2-32.6h0m-23.3-9.6h0m7.8-0.6h0m11.2 82h0m-41.1-54.7h0m53.4 6.4h0m-7.8 44.2h0m-13.6-25.7h0m2.6 44.6h0m0.3-66.1h0m3.6 6h0m9.1-6.7h0m-32.4 28.3h0m1.7 20.2h0m-5.6 0.7h0m6.5 15h0m1.9-55.6h0m7.7 6.9h0m18.5 27.5h0m18.1 16.9h0m-33.3-15.6h0m6.3 0.7h0m-1.3-26.5h0m-30.6 7h0m20.5 35.8h0m11.9-71h0m-19.6-4.3h0m8.1 26.4h0m-15.8 15.5h0m26.2 0.8h0m24.5 47.7h0m0.1-39.7h0m-30.1 32.6h0m-3.6-5.9h0m-16.1-2.8h0m21.8-8.9h0m2.4-65.1h0m14.3 93.9h0m-19-87.2h0m-6.8 37.4h0m11-15.8h0m19.5 55.6h0m-15.8-101.1h0m-2.9 92.8h0m-30-42.3h0m-10 10.7h0m45.2 4.6h0m1.3-26.5h0m-25.1 26h0m21.3-4.6h0m-13.4 0.8h0m-10.5 21.4h0m23.1-25.7h0m-1.7 44h0m-10.5-12.2h0m13.9-20h0m4.9-64.5h0m-3.2 95.3h0m-8.7-33.9h0m-20.6-3.6h0m10.9-41.7h0m6.5 21.3h0m7.8 3.7h0m10.3 56.4h0m-26.9-16.8h0m30.6-8.3h0m-47.1-21.4h0m34.8 22.5h0m-20.5 6.7h0m27.8-22.6h0m1.7-13.7h0m4.6 5.9h0m-45.3 1.2h0m-13-22.1h0m43.2 66.7h0m-11.7-60.6h0m0.6 28.2h0m9.1-3.5h0m-14-38.9h0m-13.6 41.9h0m10.5 0.4h0m5-35.7h0m-9.2 24.2h0m-9.3 0.4h0m22.7 5.3h0m3.6 3.3h0m-4.1 20.7h0m-9.4-37.4h0m17.6 14h0m4.4-22h0m0.8 27.7h0m-16.6-33.5h0m19.5 6.2h0m-26.5 33.5h0m10.5-30.1h0m-8.2 45.7h0m3.6-60.2h0m-1.8 5.6h0m1.8 17.1h0m11.8 18.1h0m4.1-3.6h0m-11.5 33h0m10.6-48.2h0m-22.9-47.1h0m0.8 65.1h0m-7.8-30.5h0m33 13.7h0m-20.2 15.1h0m-6-22.7h0m2.2 45h0m18.4-9.2h0m-6.9-12.3h0m20.4 8.6h0m-35.1-36.1h0m27.3 25h0m-22.6 3.3h0m8.4 2.7h0m23.3-7.4h0m-9 6.2h0m-13.4 11.5h0m17.9-36.7h0m-28.6 25.5h0m11.7 28.9h0m-14.6-43.3h0m26.1 49.9h0m-3.5-62.7h0m3.3-29.9h0m-16.5 52.7h0m42.6-1.6h0m-54.4-15.3h0m35 1.9h0m-14.9 24.8h0m-31.5-49.4h0m16.3-24.3h0m-16.9 12.1h0m15.3 30.2h0m7.7-25.5h0m-3.8 4.2h0m-2.2 14.8h0m9.1-26.4h0m-14.5 1.7h0m26.5 38.4h0m-13.6 17h0m-23.6-42.9h0m4.1 6.6h0m9.4-8.9h0m8.5 8.8h0m10.3-2.4h0m-37.5-16.7h0m10 35.9h0m4.9-26.4h0m3.5 12.4h0m-10.6-17.5h0m-3.9 33.8h0m10.2-29.7h0m7.5 9.5h0m7.1-8.4h0m-16.3 26.6h0m7-27.4h0m3.2-22h0m5 18.2h0m6.3-2.4h0m-26 36.9h0m-0.8-7.9h0m21.6-3.2h0m-19.3-5.6h0m0.8-6h0m-10.8 11.1h0m4.6-4.3h0m-2-11.6h0m16.9 12.1h0m-13.3-5.5h0m4.4-6.1h0m10.5 0h0m5.5 0.5h0m-12.2-1h0m6.1 25.9h0m1.4 3.3h0m-8.7-34.1h0m2.5 9.8h0m3.7-19.8h0m-12.8 10.6h0m18 30.9h0m-15.5-33.6h0m7-0.3h0m2.9 0.5h0m-13.2 5.7h0m8.9 11.9h0m24.5-6.1h0m-32.8 20.6h0m-0.5-15.3h0m3.8-4.6h0m-5.7 13.8h0m10.2-10.6h0m8.4-18.5h0m10.4 7.1h0m-12.3 24.9h0m-8.2-13.1h0m7.2-2.5h0m1.6-3.3h0m4.2 0.7h0m-10.1 11.5h0m-11.8-14.8h0m12.1-17.1h0m5.6 4.2h0m-19.9 30.6h0m-3.3-3.3h0m34.6-11.5h0m0.9-10.2h0m-17.1 14.1h0m0-0.3h0m3.1 24.6h0m-12.6-13.9h0m7.8-23.1h0m-5.1 16.9h0m11.3-19.6h0m-9-14.2h0m-4.8 20.9h0m5.5-8.1h0m1.1 1.1h0m-10.8 2.1h0m15.4 9.1h0m-1-10.4h0m-2.6 5.1h0m24.2-4.9h0m-41.4 9.9h0m14.2-1.2h0m-0.7 4.7h0m-1.6 4.4h0m16.7-14.6h0m-6.9 27.7h0m-9.5-28.8h0m21.7 7.5h0m-16.4-14.8h0m5.1-0.3h0m8.4-8.8h0m-10.8 9.1h0m11.2-5.1h0m4.3 6.6h0m-0.6 28.3h0m-17.9-18.6h0m4.2 2.2h0m16.3 0.6h0m-9.9 10.4h0m-17.1-16.7h0m20.7-21.2h0m-14.8 50.1h0m14.4-28h0m-3 3h0m-9.8 13.3h0m3.1-15.8h0m-1.4 12.4h0m5.8-11.2h0m13.8-2h0m-14.8 1.8h0m3.5 15.1h0m-5.1 4.1h0m2.1-8.3h0m-8.4 16.8h0m6.1-18.3h0m6.6 5.8h0m7.1 8.3h0m-14.1-25.4h0m13.8-14.3h0m-27.1 40.7h0m7.4 19.2h0m-10.1-54.3h0m14.1 25.8h0m7.7-0.3h0m-7.6-24.7h0m5.1 16.4h0m2-19.8h0m4.9 28.7h0m-7.6-8.3h0m-3.3 3.1h0m8.9 10.8h0m-10.9-28.2h0m-3.1 14h0m-16.1 0.6h0m10.8 19.6h0m18.7-47.4h0m-23.8 15.3h0m-0.5-6.5h0m5.2 5.3h0m0.5 20.8h0m-3.3-1.5h0m-2.4-17.9h0m-1.2 15.8h0m3.2-18.6h0m13 12h0m-4.9-21.1h0m-2.5 18.7h0m1.5 15.3h0m2.3 0.2h0m5.7-13h0m-4.4 11h0m0.8-17h0m2.2 6.1h0m-14 13.8h0m4.8-6.7h0m2.5-26.8h0m0.1 20.1h0m15.5 11.6h0m-13.7 1h0m-0.6 0.9h0m-2.5-21.6h0m-0.2 2.2h0m13.2 2h0m-13.9-16.9h0m28 29.6h0m-33.5-16h0m24.7-7.7h0m-19.8 27.9h0m-5.2-17h0m37.8-2.3h0m-41.1-8.5h0m2.1 28.3h0m35.4-24.2h0m-24.4 20.5h0m18.2-9.2h0m-25.6-3.2h0m43.1-3.8h0m-35.5-15.3h0m9.6 33.8h0m-5.8-11.9h0m5.6-8.6h0m1.1-7.7h0m-14.4 0.3h0m-6.7 13.9h0m15.3 9.8h0m9.3-19.5h0m2.7 10.8h0m-5.7-13.8h0m3.3 47.9h0m-14.8-36h0m1.6-10.6h0m9.4-8.6h0m-22.8 42.1h0m22-11.8h0m-23.8 6.9h0m20.9-10h0m-7.2-14.2h0m-8.4 4.9h0m-1-3.2h0m21.6 10.9h0m-12.2 2.9h0m19.1 14.2h0m-6.6-9.8h0m-10.3-1.6h0m-3.5 17.1h0m-1.2-32.4h0m0.9-12.7h0m-5.2 16.5h0m3.8-15.6h0m11.1 12.4h0m6.8-11.3h0m4.6 39.7h0m-21.3-17.3h0m13.8-0.8h0m-12.8-16.4h0m-10.3 23h0m-2.5 2.3h0m22.2-14.6h0m7.4 19.4h0m13.2-31.9h0m-8.8-1.6h0m-28.3 6.4h0m3.4 24.7h0m23.3 2.8h0" stroke="#1f77b4" stroke-width="1.45" stroke-linecap="round" fill="none"/>
<path d="M386.7 168.2C388.2 165.7 389.3 163.4 392.5 162C395.7 160.7 402.5 160.6 405.8 159.8C409.1 159.1 409.3 157.9 412.3 157.5C415.3 157.1 420.7 157.3 423.8 157.5C427 157.7 428.4 157.8 431.3 158.6C434.3 159.4 439.4 160.7 441.4 162.4C443.3 164 442.3 166.9 443.3 168.6C444.3 170.2 445.6 170.1 447.3 172.1C448.9 174.2 452.2 177.3 453.2 180.9C454.3 184.4 453.2 189.8 453.4 193.7C453.7 197.5 454.8 200.3 454.7 203.9C454.7 207.5 453.6 211.3 453.2 215.3C452.8 219.3 452.1 223.8 452.3 227.8C452.5 231.9 454.4 234.9 454.2 239.7C454 244.4 452.5 253.1 451.3 256.5C450 259.8 449.2 258.4 446.8 259.6C444.5 260.8 440.7 263.5 437.2 263.7C433.7 263.9 428.7 261.3 425.8 260.7C422.9 260.2 422.4 261.7 419.6 260.4C416.8 259.1 412.4 255.3 409.2 253C406 250.6 402.4 248.5 400.4 246.2C398.3 243.8 398.6 241.3 396.9 238.9C395.3 236.6 391.7 234.7 390.4 232C389.1 229.3 390.3 225.9 389.2 222.8C388.1 219.7 384.9 216.4 383.8 213.6C382.8 210.8 382.9 208.6 382.8 205.8C382.8 203 383.8 200.2 383.5 196.9C383.3 193.6 381.4 189.5 381.4 186.1C381.4 182.7 382.8 179.7 383.7 176.7C384.6 173.7 385.2 170.6 386.7 168.2Z" fill="none" stroke="#1f77b4" stroke-width="1.1" stroke-dasharray="3.2 2.4"/>
<path d="M387.8 172.5C389.5 170.6 393.1 170.1 395.5 168.6C398 167.1 399.9 164.4 402.8 163.5C405.7 162.6 410.2 163.2 413.1 163.1C415.9 163 416.9 162.7 419.7 162.8C422.6 162.9 427.4 163.4 430.3 163.8C433.2 164.1 435.2 163.6 437.1 164.9C439.1 166.3 440.7 169.8 441.8 171.7C442.9 173.6 442.7 174.5 443.7 176.4C444.7 178.4 447 180.6 447.9 183.4C448.7 186.1 448.3 189.7 449 192.9C449.7 196.2 451.9 199.5 452.3 202.7C452.7 206 451.7 208.9 451.4 212.5C451.1 216.2 450.7 220.6 450.5 224.8C450.3 228.9 450.3 233.3 450.2 237.5C450.1 241.6 450.3 246.3 449.7 249.5C449.1 252.8 448.6 255.7 446.4 256.8C444.2 258 440.3 256.2 436.6 256.3C432.9 256.4 427.9 257.7 424.3 257.4C420.7 257.1 417.4 255.7 415 254.4C412.7 253.1 411.8 251.2 410.2 249.6C408.5 247.9 407.3 246.4 405.2 244.5C403 242.6 399.2 240.5 397.3 238.2C395.3 236 394.6 233.8 393.4 231.1C392.2 228.4 391.2 224.6 390 221.9C388.7 219.2 386.7 217.6 386.2 215.2C385.6 212.7 386.6 210.4 386.4 207C386.2 203.7 385.6 197.6 385 195C384.5 192.4 382.9 193.9 383 191.4C383.1 188.9 384.8 183.2 385.6 180C386.4 176.9 386.2 174.4 387.8 172.5Z" fill="none" stroke="#1f77b4" stroke-width="1.1" stroke-dasharray="3.2 2.4"/>
<path d="M391.2 174.3C392.9 172.3 395.1 172.5 397.5 171.2C399.9 170 402.5 167.4 405.4 166.7C408.3 166 412.1 167 414.8 166.9C417.5 166.8 418.9 165.7 421.4 165.9C423.9 166.2 427.8 167.6 429.7 168.4C431.6 169.2 431.1 169.7 432.8 170.8C434.5 171.9 437.6 173.8 439.6 175.1C441.6 176.3 443.8 176.8 444.6 178.4C445.4 180 443.7 181.9 444.2 184.7C444.7 187.6 447 191.9 447.4 195.5C447.9 199.2 446.9 204 446.9 206.8C446.9 209.5 447 208.6 447.2 212C447.5 215.5 448 223.3 448.3 227.5C448.5 231.7 449.5 234.1 448.8 237.2C448.1 240.4 445.2 244.3 443.9 246.6C442.7 249 442.8 250.1 441.3 251.2C439.8 252.3 437.8 252.9 435 253.1C432.2 253.4 427.3 253.2 424.5 252.9C421.7 252.6 420.5 252.5 418.4 251.3C416.3 250.2 414.6 247.8 412.1 246C409.5 244.3 405.1 242.2 402.9 240.7C400.8 239.3 400 239.3 399.2 237.3C398.4 235.3 398.8 231.5 398.1 228.9C397.4 226.2 396.2 224.2 395.1 221.4C394 218.6 392.2 214.6 391.4 212.1C390.7 209.7 391.2 208.8 390.5 206.8C389.8 204.9 387.4 202.5 387.2 200.3C387.1 198.1 389.5 196.7 389.4 193.8C389.4 191 386.7 186.6 387 183.4C387.3 180.1 389.4 176.4 391.2 174.3Z" fill="none" stroke="#1f77b4" stroke-width="1.1" stroke-dasharray="3.2 2.4"/>
<path d="M535.4 194h0m-20.6 72.4h0m-6.1-141.7h0m-6.7 104.7h0m-23.4-50.5h0m5.8 5.7h0m50.3-54.6h0m15.4 128.4h0m-73 0.6h0m49-105.9h0m-20.8 130h0m17.6-125.7h0m75.7 112.5h0m-77.5-52.2h0m-5.1 41.6h0m-11.7-50.1h0m61-12.2h0m-37.7 81.8h0m1.7-55.2h0m61.1 33h0m-120.5-100.5h0m67 92.9h0m48-5.2h0m-10.5-94.5h0m-59.3 81h0m-36.5 38.5h0m-22.5-99.1h0m99-25.5h0m-71-22.5h0m0 0.5h0m6-0.5h0m0.6-1.2h0m18.9-2.1h0m-3.4 0.9h0m15.2 5.6h0m-4.4-1h0m9.2-3.7h0m-1 3.1h0m10.6 7.7h0m-5 0.2h0m-63.8 12.3h0m-1.8 1h0m-11.3 7.2h0m0.4 1.5h0m90.6-13.4h0m-1.1 0.4h0m7.5 11.4h0m0-0.3h0" stroke="#2ca02c" stroke-width="1.7" stroke-linecap="round" fill="none"/>
<path d="M555.8 182.3h0m-109.3-23.6h0m33.7-13h0m119.8 93.1h0m-144.6-39h0m110 27.1h0m-11.3-61.6h0m-92.6-17.2h0m58.6 81.2h0m37.8-48.2h0m-11.8 80.5h0m10.1 4.9h0m-67-122.1h0m3.1 65.9h0m70.5-35.9h0m-115.6-9.6h0m56.4 16.9h0m-27.6-42.2h0m27.3 11.4h0m-36.2 86.9h0m31.2-33h0m58.9-17.3h0m-32.6 41.3h0m2.7-10.2h0m-62.1 16.6h0m41.2-88.1h0m-10.6 18.2h0m-19.6 98.3h0m-10.9-24.7h0m124.5-13.8h0m-54.5 11.7h0m-46.3-61.7h0m9.8 40.8h0m69.3 26.9h0m-55.8-109.2h0m21.7 5.8h0m-39.7 80.3h0m-15.5-41.9h0m15.6 73.6h0m102.3-69.3h0m-145.6 50.9h0m7.2-81.8h0m10 54.8h0m69.2-40.2h0m-14.6-20.2h0m76.5 80.9h0m-50.7 44.7h0m-15.5-95.4h0m60.1-12.1h0m-113.5 5.4h0m-4.7 50h0m72.8 60h0m-50.5-78.9h0m-44.1 11.6h0m102 25.8h0m-69.1-115.8h0m104.3 37h0m-93.1 35.6h0m15-68.7h0m-10 100.6h0m-15.3-110.3h0m-3.4 2.6h0m2.2 0.2h0m5.4 4.3h0m-3.8-0.2h0m-2-2.4h0m17.7-2.6h0m1.4 1.4h0m0.5-0.8h0m12.5 4.7h0m0.9-0.9h0m-1.5-4.2h0m9.2 3.8h0m-1.1-0.3h0m2-0.5h0m4.4 9.9h0m0.2 0.2h0m1.7 1.6h0m-68.4 9.7h0m4 1.4h0m1.1 0.3h0m-13.8 9.2h0m-0.7-1.8h0m2.3 0.5h0m87.9-13.2h0m-1.4-0.4h0m1.5 3.1h0m6.2 8.1h0m2.7 0.4h0m-3.6-1.5h0m51.9 115.4h0m2.2 6.4h0m-6.7-3.1h0" stroke="#ff7f0e" stroke-width="1.7" stroke-linecap="round" fill="none"/>
<path d="M589 155.9h0m-132.7 49.1h0m140.3 54.7h0m-106.7-33.2h0m-33.2 0.6h0m81.5-2.4h0m14-85.4h0m-62.2 78.8h0m13.2 1.3h0m-47.8 0.8h0m116.4-37.8h0m-56.4 75.3h0m1.3-11.7h0m47.7-54.2h0m-22.7 52.2h0m-68.5-67.3h0m95.6 23.8h0m-15.1 11.1h0m-5.9 56.6h0m15.8-37.1h0m21.7-65.9h0m-37.4 78.6h0m-69-46.1h0m48.2 9.7h0m-68.5-18.2h0m39.3 78.9h0m92.5-15.3h0m-15.5 9.8h0m-73.9-55.7h0m-42.5 17.2h0m92.4-55.2h0m-43 37.9h0m-23.2-22.9h0m-34.9-21.5h0m35.4-8.3h0m44.1 10.5h0m31.9 94.7h0m-19.4 4.3h0m-8.2-42.9h0m59.6-16.2h0m-90.6-19.8h0m-55.2-10.9h0m47.4-36.5h0m-17.5 13h0m-20.3 92.9h0m60.5-61.6h0m-14.2-44.5h0m8.2 77.3h0m93.8-16.9h0m-139-17.6h0m-10.3 2.3h0m9.4 64.9h0m45.7-24.3h0m-5.6-84h0m-31.3 110.5h0m9.6-45.2h0m23.6-8.6h0m-2.2 8.2h0m10.7-59.2h0m-53.9 20.4h0m24.5 41.9h0m119.5 53.2h0m-141.1-106.2h0m7.8 15.4h0m28.8 45.1h0m-24.4-41.2h0m1.2 74.8h0m92.7-39.7h0m-54.3 75.3h0m22.1-36.3h0m-93.4-77.3h0m61.7 97.2h0m3.4-39.8h0m12-15.8h0m-31.3 16.9h0m99.8-3.3h0m-101.7 40.5h0m2.1-131.9h0m46.4 78.8h0m40.2 6.1h0m-116.7-65.3h0m-2 92.8h0m93.6-33h0m38.4 17.5h0m-68.9-71.9h0m8.3-20.1h0m-8 110.5h0m-71.6-13.5h0m47.1 22.9h0m-21-26.4h0m117.8-11.5h0m-114.8-51.6h0m23.4 75.6h0m-2.2-42.8h0m60.8 8.3h0m-105.4 14h0m76.5-85.2h0m72.2 86.9h0m-92.1-23.6h0m72.5 1.6h0m-100.5 32.5h0m-24.3-56.3h0m42-7.8h0m76.9 43.6h0m-107-56.9h0m34.9-8.4h0m19.5 126.9h0m3.9-32.3h0m-56.8-57.9h0m15.3-33.5h0m-38.6 89.4h0m20.1 16.6h0m67-4.2h0m-81.2-15.8h0m9.6-67.3h0m37.9 86.8h0m53-29.7h0m-85.9 7.4h0m65.5 29.7h0m-81.7-43h0m22.1-10.2h0m42.5-21.4h0m-62.2-4.2h0m-5.5-14h0m146.6 17.8h0m-15.5-25h0m-87.3 2.4h0m14.5 109.7h0m-51.4-79.9h0m71.3 18.9h0m-61.6-57.5h0m109.5 67.1h0m-125.1-33.9h0m77.7-49.7h0m-55.2 79.1h0m47 1.6h0m39.6-44.1h0m-21 73h0m52.5-25.3h0m-100.3-21.1h0m105.1 30.9h0m-110.4-11.6h0m-27.7 14.9h0m27.5-108.2h0m38.9 22.6h0m-65.9 9.6h0m23.9-13.3h0m56.4 14h0m-57.5 63.6h0m-18.1-2.3h0m161.4-36.4h0m-158.1-24h0m139.1 94.8h0m-117.6-126.3h0m62.7 72.5h0m-72.1 19.2h0m85.2-74.1h0m-73.7-24.8h0m-42.8 101.6h0m42.9-53.6h0m79.8 78.2h0m-106.8-99.5h0m126.8 105.4h0m-115.2-67.5h0m-23.3 55.5h0m61.1-75h0m-24.7 95h0m-17.9-31.1h0m3.9-45.2h0m75.4-54.5h0m-88.8 38.5h0m23.3 68.5h0m75 12.7h0m-9.5-106.7h0m-21.5 127.1h0m-54.3-120.3h0m68 37.5h0m-20.3 64.4h0m-56.7-110.2h0m48.3 38.3h0m43.4 38.9h0m-81-51.2h0m25.9-44.6h0m21.9 66.5h0m-6 25.7h0m-52.5-68.6h0m40.9 48.2h0m99.7-9.5h0m-100.3 65.4h0m36.3-0.8h0m16.5-111.9h0m-91.9 10.9h0m-3.6 79h0m-3.2-41.1h0m108.7-24.5h0m-73.2-34h0m37.8 100.3h0m-59.9 30.3h0m75.5-32.4h0m11.8-78.5h0m-59.7 79.5h0m114.1-18.2h0m-128.3-81h0m-2.9 130.7h0m6.2-145.8h0m10.4 78.1h0m14.3-7.3h0m-46.2 57.9h0m96.7-31.3h0m-36.3-28.4h0m-60.1 49.2h0m106.4 26.6h0m-42.2-120.8h0m49.5 15.5h0m-138.5-0.6h0m32.4 106.1h0m51.3-3h0m48.9-41.9h0m-41-72.9h0m-23.7 52.5h0m-22.8-41.8h0m76.3 83.4h0m-40.1-53.5h0m8.7 93.6h0m-21.5-112.4h0m19.3 110h0m-56.3-135.9h0m-2.8 0.8h0m85.6 123.5h0m-41.7-58.5h0m-14.1-54.3h0m43.3 1.6h0m12.8-1.7h0m-82.2 8.9h0m36.7 1.7h0m35 51.2h0m65.8-7.1h0m-9.7 51.3h0m-101.6-70.7h0m31.8-61h0m-35.3 69.6h0m-38.6-46.4h0m7.5 72.1h0m-15.8-74.9h0m93.5 120.3h0m-6.7-68.8h0m-11.3 32.2h0m-47.9-79.1h0m-9.8 13.4h0m25.8-28.5h0m-22.7 14.9h0m-24.5 85.5h0m22.4-43.6h0m44.3 28.1h0m71.7 28h0m-108.3-69.3h0m23 24.9h0m0.7 19.9h0m-20.9-94h0m10.6 79.4h0m-15 52.6h0m-2.4-62.5h0m37.4 59.5h0m30.4-14.6h0m-30.1-73.7h0m-8.7 98h0m8-50h0m81.4-2.4h0m-113.6-65.6h0m80.4-1.7h0m-47.3-23h0m15.4 135.7h0m-41.5-8.3h0m3.7-112.7h0m55.6-3.4h0m-25.2 43.8h0m56.1 16.5h0m-36.1 30.1h0m-12.6-38.8h0m-39.6 11.9h0m22.3-22.1h0m-9 3.9h0m5.8 0.9h0m-28.3 26h0m-22-62.8h0m31.2 40.9h0m0.1 33.5h0m26.7-87.3h0m-39.5 1.6h0m90.3 115.4h0m-45.8-27.2h0m-35.4-28.1h0m42.9-12.9h0m9.9 88.5h0m-69.9-19.3h0m6-51.6h0m41.6-76.3h0m2.6 124.9h0m9.9-109.5h0m-20 5.1h0m-32 41.1h0m116.9 38.8h0m-130.3-25.4h0m79.6 38.7h0m42.5-80.3h0m-103.8-27.6h0m-15.6 49h0m106.3 63.4h0m-65.7-67.7h0m-24.4 95.1h0m87.6-48h0m-66.9 15.7h0m-29.8-61.9h0m4.8 80.5h0m14.6 7.5h0m-27.1-34h0m10.6-77h0m-4.6-13.6h0m97.2 45.8h0m-36.4-35.3h0m-31.4 75.1h0m-45.9-31.9h0m27.8-3.2h0m-14.4-15.3h0m38.8 25.3h0m-37.5-50.6h0m70.5 113.5h0m-39.5-32.9h0m-48.3-16.6h0m8.4-24.5h0m19.6-71.7h0m1.7-3h0m2.3 1.1h0m-1.8 0.6h0m3.1-1.1h0m2.3 2.5h0m-3.6 1.5h0m3.4-2.2h0m19.4-0.1h0m-2.5-0.7h0m-0.6 2.4h0m3.5-1.2h0m9.6 3h0m-3.6-3.2h0m-1.6-1.2h0m7.9 2.8h0m5.7 0.6h0m3.9 1.3h0m-4-2.3h0m1.8-0.9h0m2.2 13.5h0m-0.4 1.2h0m1.3-1h0m-1.8-4.4h0m-59.8 15.3h0m-2.1-1.8h0m-1.5-0.6h0m3.3 1.2h0m-12.1 7.4h0m-1 3h0m2.4-3.4h0m-3.4 0.7h0m90-10.5h0m0 2.5h0m-0.9-3.6h0m-1.1 4.2h0m10 6.1h0m-1.3 0.2h0m3.5-0.3h0m-2 1.1h0m49.8 115.9h0m1.1-0.6h0m2-1.1h0m-1.7 1.1h0m-1.4 5.5h0m-1.3-3.9h0m3.6-0.8h0" stroke="#dd2a2a" stroke-width="1.7" stroke-linecap="round" fill="none"/>
<path d="M484.2 238.7h0m12.3-10.1h0m45.1-95.1h0m11.9 126.4h0m-77.8-101.7h0m11.4 34.9h0m117.9 70.9h0m-3 4h0m5-6h0m-76.1-129.2h0m1.4-1.9h0m0.1 2.8h0m0 0.7h0m-0.2-3.9h0m0.6-1.1h0m-65.8 12.6h0m-1 2h0m41-25h0" stroke="#1f77b4" stroke-width="1.7" stroke-linecap="round" fill="none"/>
<path d="M384 166C386 163.2 389.1 160.8 392 159C394.9 157.2 398.1 156.3 401.4 155.5C404.7 154.7 408.5 154.3 412 154C415.5 153.7 419.1 153.5 422.4 153.7C425.7 153.9 429.1 154.1 432 155C434.9 155.9 437.6 157.6 439.9 159C442.2 160.4 444.3 161.8 446 163.5C447.7 165.2 449.1 166.9 450.3 169.5C451.6 172.1 452.6 175.5 453.5 179C454.4 182.5 455 186.6 455.6 190.4C456.2 194.2 456.7 197.9 457 202C457.3 206.1 457.4 210.4 457.3 214.9C457.2 219.4 456.8 224.3 456.5 229C456.2 233.7 456.1 237.9 455.6 242.8C455.2 247.7 454.8 254.5 453.8 258.3C452.8 262.1 452.1 264.1 449.8 265.5C447.5 266.9 444 267 440 267C436 267 429.7 266.3 425.9 265.5C422.1 264.7 419.9 263.4 417 262C414.1 260.6 411.1 258.8 408.4 256.8C405.6 254.8 402.8 252.3 400.5 250C398.2 247.7 396.3 245.5 394.5 242.8C392.7 240.1 391 236.9 389.5 234C388 231.1 386.9 228.6 385.7 225.3C384.5 222 383.4 217.5 382.5 214C381.6 210.5 381.1 207.6 380.5 204.4C379.9 201.2 379.3 197.9 379 195C378.7 192.1 378.5 190.1 378.7 186.9C378.9 183.7 379.1 179.5 380 176C380.9 172.5 382 168.8 384 166Z" fill="none" stroke="#1f77b4" stroke-width="1.0" stroke-dasharray="5.2 2.3"/>
<path d="M486.3 117C488.9 116 493.7 116.2 497.5 116.1C501.3 115.9 505.3 116.1 509.2 116.1C513.1 116.1 517.6 115.8 520.9 116.1C524.2 116.4 526.5 116.5 529 117.8C531.5 119.1 533.8 121.8 536.1 123.7C538.5 125.6 540.8 127.6 543.1 128.9C545.4 130.2 547.6 131.1 550.1 131.3C552.6 131.5 555 130.9 558 130C561 129.1 565.1 126.4 567.8 125.9C570.5 125.4 572.3 126.1 574.2 127.2C576.1 128.3 578.1 130.2 579.4 132.4C580.7 134.6 580.5 137.6 582 140.2C583.5 142.8 586.1 145.5 588.5 147.9C590.9 150.3 593.9 152 596.3 154.4C598.7 156.8 600.1 159.8 602.7 162.2C605.3 164.6 608.5 166.8 611.8 168.7C615 170.6 618.8 172.5 622.2 173.8C625.7 175.1 629.9 175.1 632.5 176.4C635.1 177.7 636.6 179.4 637.7 181.6C638.8 183.8 639.4 187 639 189.4C638.6 191.8 637.1 193.7 635.5 196C633.9 198.3 630.3 200.8 629.5 203.3C628.7 205.8 630 208.5 630.5 211.1C631 213.7 632.7 216.2 632.6 218.8C632.5 221.4 631.4 224.2 630 226.6C628.6 229 626.7 231.4 624 233.1C621.3 234.8 616.7 235.9 613.7 237C610.7 238.1 607.8 238.6 605.9 239.5C604 240.4 603 241.1 602.6 242.5C602.2 243.9 603 246.1 603.8 248C604.6 249.9 606.5 252 607.5 254C608.5 256 609.3 258 609.5 260C609.7 262 609.6 264.2 608.8 266C608 267.8 606.4 269.4 604.5 270.5C602.6 271.6 599.9 272.3 597.2 272.6C594.5 272.9 590.4 272.8 588.1 272.3C585.8 271.9 585.6 270.8 583.3 269.9C581 269 577.3 267.8 574.3 267.2C571.3 266.6 568.2 265.6 565.2 266.3C562.2 267.1 558.8 269.6 556.1 271.7C553.4 273.8 551.9 276.8 548.9 278.9C545.9 281 541.3 283.1 538 284.4C534.7 285.7 531.9 286.2 528.9 286.6C525.9 287 523.2 287 519.9 286.6C516.6 286.2 512.6 285.2 509 284.4C505.4 283.6 501.7 282.9 498.1 281.7C494.5 280.5 490.5 279 487.3 277.1C484.1 275.2 482.2 272.6 479.1 270.2C476 267.8 472.2 264.8 468.8 262.4C465.4 260 461.4 258.1 458.4 255.9C455.4 253.8 452.4 251.9 450.7 249.5C449 247.1 448.3 244.7 448.1 241.7C447.9 238.7 448.8 235.7 449.4 231.4C450 227.1 451.1 221.1 452 215.9C452.9 210.7 454.7 204.4 454.6 200.3C454.6 196.2 452.6 194 451.7 191.2C450.8 188.4 450.3 186.1 449.4 183.5C448.5 180.9 447.3 178.3 446.3 175.7C445.3 173.1 444.1 170.1 443.5 168C442.9 165.9 442.7 164.6 442.8 163C442.9 161.4 443.5 159.8 444.3 158.2C445.1 156.6 446.1 154.8 447.4 153.5C448.7 152.2 450.3 151.4 452.1 150.4C453.9 149.4 456 148.2 458.3 147.3C460.6 146.4 463.8 146.3 466.1 145C468.4 143.7 470.5 142 472.3 139.5C474.1 137 475.4 133 477 130.2C478.6 127.3 480.1 124.6 481.6 122.4C483.2 120.2 483.7 118 486.3 117Z" fill="none" stroke="#8f8f8f" stroke-width="1.45" stroke-dasharray="5.2 2.3"/>
<path d="M392 158.5C393.9 156.6 395.9 154.6 398.5 153.3C401.1 152 404.5 151.2 407.5 150.7C410.5 150.2 413.6 150.5 416.6 150.5C419.6 150.5 422.7 150.2 425.7 150.5C428.7 150.8 431.9 151.2 434.7 152C437.5 152.8 440.3 154.4 442.5 155.5C444.7 156.6 446.3 157.2 447.8 158.5C449.3 159.8 450.4 161.2 451.7 163.3C453 165.4 454.4 168.5 455.6 171.1C456.8 173.7 457.8 176.2 458.7 178.8C459.6 181.4 460.6 184 461.1 186.6C461.6 189.2 461.8 192 461.8 194.3C461.8 196.6 461.6 197.6 461 200.3C460.4 203 459.3 206.8 458.4 210.7C457.5 214.6 456.1 219.2 455.4 223.6C454.7 228 453.9 232.8 454.3 237C454.7 241.2 456.8 245.2 457.6 249C458.5 252.8 459.5 256.3 459.4 259.5C459.3 262.7 458.7 265.6 457.2 268C455.7 270.4 453.6 272.6 450.5 273.8C447.4 275 442.6 275.6 438.5 275C434.4 274.4 430.3 272 426 270C421.7 268 417 265.1 412.8 262.8C408.6 260.6 404.1 258.6 401 256.5C397.9 254.4 395.7 252.3 394 250C392.3 247.7 391.9 245.5 390.9 242.5C389.9 239.5 388.8 235.6 387.8 232.2C386.8 228.8 385.6 224.9 384.7 221.8C383.8 218.7 383.4 216.3 382.6 213.5C381.9 210.7 381.1 207.6 380.2 205.2C379.3 202.8 377.9 201.1 377 199C376.1 196.9 374.8 194.9 374.6 192.8C374.4 190.7 374.9 188.9 375.6 186.6C376.4 184.3 377.9 181.9 379.1 179.2C380.3 176.4 381.6 172.5 382.9 170.1C384.2 167.7 385.3 166.9 386.8 165C388.3 163.1 390.1 160.4 392 158.5Z" fill="none" stroke="#2ca02c" stroke-width="1.45" stroke-dasharray="5.2 2.3"/>
<path d="M382 250C383.1 252.9 384 255.2 386 258C388 260.8 390.8 264 394.2 266.8C397.6 269.6 402.5 271.8 406.6 274.6C410.8 277.5 415 281.4 419.1 283.9C423.2 286.4 427.4 288.9 431.5 289.6C435.6 290.3 439.8 289.2 443.9 288.3C448 287.4 452.2 285.4 456.4 283.9C460.5 282.4 465 281.3 468.8 279.3C472.6 277.3 476.1 274.1 479 272C481.9 269.9 484 268.5 486.5 266.5C489 264.5 492.4 262.8 494.1 259.8C495.9 256.8 496.8 252.2 497 248.4C497.2 244.6 496.6 240.8 495.6 237C494.7 233.2 493.5 228.2 491.3 225.6C489.1 223 485 223.2 482.7 221.3C480.4 219.4 478.7 218.2 477.5 214.2C476.3 210.2 475.9 202 475.6 197.1C475.3 192.2 476 188.8 475.8 185C475.6 181.2 474.3 178.2 474.3 174.5C474.3 170.8 474.5 166.1 475.6 162.8C476.7 159.6 478.1 156.9 480.7 155C483.3 153.1 487.6 151.6 491.1 151.1C494.6 150.6 498.5 150.8 501.5 151.9C504.5 153 507.4 155.2 509.2 157.6C511 159.9 511.1 163 512.5 166C513.9 169 515.4 173 517.5 175.5C519.6 178 521.6 180.5 525 181C528.4 181.5 533.3 180.3 538 178.3C542.7 176.3 549 172.9 553.3 169C557.6 165.1 560.7 159.9 563.7 155C566.7 150.1 569.8 144.2 571.5 139.4C573.2 134.7 574.9 130.2 574 126.5C573.1 122.8 569.8 120 566.3 117.4C562.8 114.8 558 112.9 553.3 110.9C548.5 109 543.4 107 537.8 105.7C532.2 104.4 526.1 103.5 519.6 103.1C513.1 102.7 504.8 102.7 498.9 103.1C493 103.5 488.1 103.9 484 105.5C479.9 107.1 477.5 109.5 474.5 112.5C471.5 115.5 468.9 119.8 466 123.5C463.1 127.2 459.7 131.9 457 134.5C454.3 137.1 452.4 137.7 450 139.1C447.6 140.5 445.1 141.9 442.5 142.9C439.9 143.9 437.5 144.9 434.7 145.3C431.9 145.7 428.9 145.6 425.7 145.5C422.5 145.4 418.6 144.8 415.3 144.9C412.1 145 409 145.3 406.2 146.2C403.4 147.1 400.9 148.5 398.5 150.1C396.1 151.7 393.9 153.8 392 155.9C390.1 158 388.3 160.2 386.8 162.4C385.3 164.6 384.2 166.3 382.9 168.8C381.6 171.3 380.4 174.6 379.2 177.5C378 180.4 376.4 183.1 375.5 186C374.6 188.9 373.9 192 373.6 195C373.3 198 373.3 200.6 373.6 204C373.9 207.4 374.8 211.6 375.4 215.6C376 219.6 376.7 223.8 377.4 228C378.1 232.2 378.7 236.8 379.5 240.5C380.3 244.2 380.9 247.1 382 250Z" fill="none" stroke="#ff7f0e" stroke-width="1.45" stroke-dasharray="5.2 2.3"/>
<path d="M384.7 232.2C384.5 228.9 384.7 225.2 385.9 221.8C387.1 218.4 390.1 214.8 391.9 211.5C393.7 208.2 395.2 205.1 396.5 202C397.8 198.9 398.8 196.5 399.8 193C400.8 189.5 401.5 184.4 402.4 181C403.3 177.6 403.9 175.6 405 172.7C406.1 169.8 407.5 166.3 408.8 163.7C410.1 161.1 411.2 159.4 412.7 157.2C414.2 155 415.9 152.9 417.9 150.7C419.8 148.5 422 146.6 424.4 144.2C426.8 141.8 429.4 138.9 432.1 136.5C434.8 134.1 437.4 132.9 440.5 130C443.6 127.1 447.5 122.5 450.5 119.3C453.5 116.1 455.5 113.4 458.3 110.8C461.1 108.2 463.8 105.9 467.4 103.5C471 101.1 475.2 98.5 479.9 96.4C484.6 94.3 490.9 92.3 495.4 91.1C499.9 89.9 502.8 89.2 506.7 89C510.6 88.8 515.2 89.3 518.7 89.6C522.2 89.9 524.9 90.2 528 90.8C531.1 91.4 533.9 92.3 537.3 93.3C540.6 94.3 545 95.4 548.1 96.7C551.2 98 553.4 99.6 556 101.1C558.6 102.6 561.1 103.9 563.7 105.7C566.3 107.5 568.7 109.1 571.5 112C574.3 114.9 577.9 119.7 580.7 123.3C583.5 126.9 586.1 130.2 588.5 133.7C590.9 137.1 593.4 140.6 595 144C596.6 147.4 598.1 150.9 598.3 154.4C598.5 157.9 596.9 161.4 596.3 164.8C595.7 168.2 594.1 172 594.5 175.1C594.9 178.2 596.6 180.5 598.5 183.5C600.4 186.5 603.4 189.2 605.9 192.9C608.4 196.6 611.6 201.6 613.7 205.9C615.9 210.2 617.3 214.5 618.8 218.8C620.3 223.1 621.2 227.5 622.7 231.8C624.2 236.1 626.6 240.4 627.9 244.7C629.2 249 630.3 253.6 630.5 257.7C630.7 261.8 630.6 264.6 629.2 269C627.8 273.4 625.5 280.2 622.3 283.9C619.1 287.6 614.6 289.7 609.9 291.1C605.2 292.6 599.5 293.3 594.3 292.6C589.1 291.9 582.9 289.2 578.8 287C574.7 284.8 572.5 281.1 569.5 279.3C566.5 277.5 563.3 276.5 560.5 276C557.7 275.5 555.6 275.8 552.5 276.2C549.4 276.6 545.5 278 541.6 278.6C537.7 279.2 533.1 279.2 528.9 279.8C524.7 280.4 520.5 281.6 516.3 282.2C512.1 282.8 507.8 283.4 503.6 283.5C499.4 283.6 495.4 283.2 490.9 282.9C486.4 282.6 481.5 281.8 476.5 281.8C471.5 281.8 466.2 283 461 283.1C455.8 283.2 450 283.2 445.5 282.6C441 282 437.6 281.1 434 279.5C430.4 277.9 427.5 275.5 424 273C420.5 270.5 416.7 266.8 412.8 264.5C408.9 262.2 404 261.3 400.4 259.1C396.8 256.9 393.3 254.2 391 251.3C388.7 248.4 387.9 244.7 386.8 241.5C385.8 238.3 384.9 235.5 384.7 232.2Z" fill="none" stroke="#d62728" stroke-width="1.45" stroke-dasharray="5.2 2.3"/>
<path d="M559 198.7C561.6 198.4 563.8 199.1 565.3 200.8C566.8 202.5 566.9 205.8 568.1 209C569.3 212.2 571.2 216.6 572.6 219.9C574 223.2 575.9 226.2 576.2 228.9C576.5 231.6 575.8 234.2 574.4 236.2C573 238.2 570.7 239.5 568.1 240.7C565.5 241.9 561.7 243.2 559 243.4C556.3 243.6 553.9 243.1 551.8 241.6C549.7 240.1 547.5 237.4 546.3 234.4C545.1 231.4 544.6 227.4 544.5 223.5C544.4 219.6 544.5 214.3 545.4 210.8C546.3 207.3 547.6 204.7 549.9 202.7C552.2 200.7 556.4 199 559 198.7Z" fill="none" stroke="#d62728" stroke-width="1.45" stroke-dasharray="5.2 2.3"/>
<ellipse cx="604.3" cy="266" rx="7.8" ry="7.2" transform="rotate(-25 604.3 266)" fill="none" stroke="#ff7f0e" stroke-width="1.2" stroke-dasharray="3.5 2"/>
<ellipse cx="532.6" cy="131.9" rx="8.5" ry="9.5" fill="none" stroke="#2ca02c" stroke-width="1.2" stroke-dasharray="3.5 2"/>
<line x1="355.2" x2="672.8" y1="318.7" y2="318.7" stroke="#9a9a9a" stroke-width="1"/>
<text x="514" y="329.6" text-anchor="middle" font-size="9.8" fill="#141414">t-SNE</text>
<circle cx="404.7" cy="353.1" r="2.9" fill="#d3d3d3"/>
<text x="411.1" y="356.9" font-size="10.8" fill="#141414">Astral40R</text>
<circle cx="472.6" cy="353.1" r="5.2" fill="#d62728"/>
<text x="482.4" y="356.9" font-size="10.8" fill="#141414">Low</text>
<circle cx="516.2" cy="353.1" r="5" fill="#ff7f0e"/>
<text x="524.8" y="356.9" font-size="10.8" fill="#141414">Moderate</text>
<circle cx="584.5" cy="353.1" r="5" fill="#2ca02c"/>
<text x="594" y="356.9" font-size="10.8" fill="#141414">High</text>
<circle cx="631.2" cy="353.1" r="5" fill="#1f77b4"/>
<text x="640.4" y="356.9" font-size="10.8" fill="#141414">Excellent</text>
</svg></body></html>
